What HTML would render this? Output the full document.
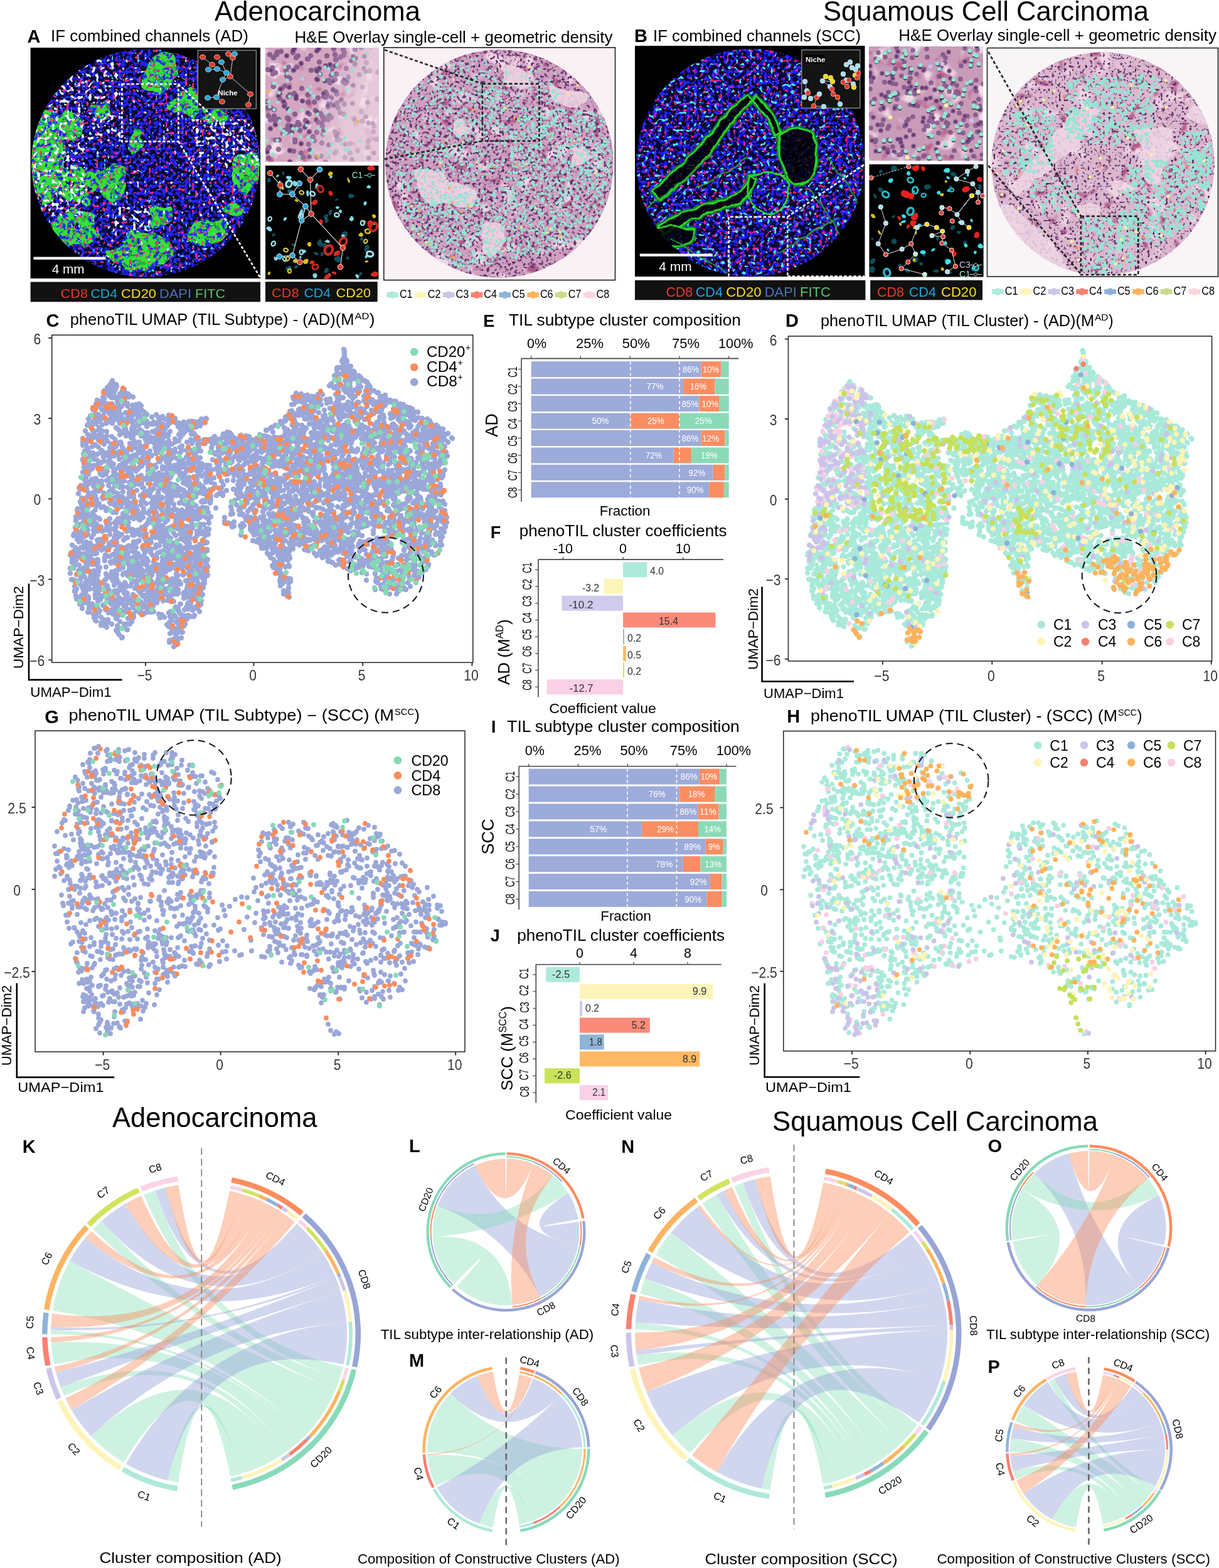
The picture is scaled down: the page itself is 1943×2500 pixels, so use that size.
<!DOCTYPE html>
<html><head><meta charset="utf-8"><title>phenoTIL figure</title>
<style>html,body{margin:0;padding:0;background:#fff;}body{width:1943px;height:2500px;overflow:hidden;}svg{display:block;}
text{font-family:'Liberation Sans',Arial,sans-serif;}</style></head>
<body><svg width="1943" height="2500" viewBox="0 0 1943 2500">
<text x="342.0" y="33.0" font-size="45" textLength="328.0" lengthAdjust="spacingAndGlyphs">Adenocarcinoma</text>
<text x="1312.0" y="32.5" font-size="45" textLength="519.0" lengthAdjust="spacingAndGlyphs">Squamous Cell Carcinoma</text>
<text x="43.6" y="68.0" font-size="29" font-weight="bold">A</text>
<text x="81.0" y="66.3" font-size="25" textLength="315.0" lengthAdjust="spacingAndGlyphs">IF combined channels (AD)</text>
<text x="469.5" y="67.8" font-size="25" textLength="507.0" lengthAdjust="spacingAndGlyphs">H&amp;E Overlay single-cell + geometric density</text>
<text x="1011.0" y="67.4" font-size="29" font-weight="bold">B</text>
<text x="1041.0" y="66.0" font-size="25" textLength="331.0" lengthAdjust="spacingAndGlyphs">IF combined channels (SCC)</text>
<text x="1432.3" y="65.3" font-size="25" textLength="506.7" lengthAdjust="spacingAndGlyphs">H&amp;E Overlay single-cell + geometric density</text>
<rect x="48.6" y="449.5" width="366.4" height="31.8" fill="#111"/>
<text x="96.6" y="474.8" font-size="21" fill="#e8392b" textLength="43.4" lengthAdjust="spacingAndGlyphs">CD8</text>
<text x="144.4" y="474.8" font-size="21" fill="#1fa5da" textLength="42.6" lengthAdjust="spacingAndGlyphs">CD4</text>
<text x="193.0" y="474.8" font-size="21" fill="#f7dd1b" textLength="56.0" lengthAdjust="spacingAndGlyphs">CD20</text>
<text x="254.0" y="474.8" font-size="21" fill="#4a72b8" textLength="51.0" lengthAdjust="spacingAndGlyphs">DAPI</text>
<text x="311.0" y="474.8" font-size="21" fill="#5cc06a" textLength="48.0" lengthAdjust="spacingAndGlyphs">FITC</text>
<rect x="423.0" y="449.2" width="178.7" height="32.0" fill="#111"/>
<text x="433.0" y="474.3" font-size="21" fill="#e8392b" textLength="43.5" lengthAdjust="spacingAndGlyphs">CD8</text>
<text x="484.5" y="474.3" font-size="21" fill="#1fa5da" textLength="42.5" lengthAdjust="spacingAndGlyphs">CD4</text>
<text x="535.6" y="474.3" font-size="21" fill="#f7dd1b" textLength="55.4" lengthAdjust="spacingAndGlyphs">CD20</text>
<rect x="616.2" y="466.2" width="18.7" height="7.8" fill="#aeeadb"/>
<circle cx="625.6" cy="470.1" r="5.8" fill="#aeeadb"/>
<text x="636.9" y="474.6" font-size="17.5" textLength="20.7" lengthAdjust="spacingAndGlyphs">C1</text>
<rect x="661.0" y="466.2" width="18.7" height="7.8" fill="#fff5bb"/>
<circle cx="670.4" cy="470.1" r="5.8" fill="#fff5bb"/>
<text x="681.7" y="474.6" font-size="17.5" textLength="20.7" lengthAdjust="spacingAndGlyphs">C2</text>
<rect x="705.8" y="466.2" width="18.7" height="7.8" fill="#cdc6ea"/>
<circle cx="715.2" cy="470.1" r="5.8" fill="#cdc6ea"/>
<text x="726.5" y="474.6" font-size="17.5" textLength="20.7" lengthAdjust="spacingAndGlyphs">C3</text>
<rect x="750.6" y="466.2" width="18.7" height="7.8" fill="#fb8072"/>
<circle cx="760.0" cy="470.1" r="5.8" fill="#fb8072"/>
<text x="771.3" y="474.6" font-size="17.5" textLength="20.7" lengthAdjust="spacingAndGlyphs">C4</text>
<rect x="795.4" y="466.2" width="18.7" height="7.8" fill="#8fb3d9"/>
<circle cx="804.8" cy="470.1" r="5.8" fill="#8fb3d9"/>
<text x="816.1" y="474.6" font-size="17.5" textLength="20.7" lengthAdjust="spacingAndGlyphs">C5</text>
<rect x="840.2" y="466.2" width="18.7" height="7.8" fill="#fdb462"/>
<circle cx="849.6" cy="470.1" r="5.8" fill="#fdb462"/>
<text x="860.9" y="474.6" font-size="17.5" textLength="20.7" lengthAdjust="spacingAndGlyphs">C6</text>
<rect x="885.0" y="466.2" width="18.7" height="7.8" fill="#c8dc8a"/>
<circle cx="894.4" cy="470.1" r="5.8" fill="#c8dc8a"/>
<text x="905.7" y="474.6" font-size="17.5" textLength="20.7" lengthAdjust="spacingAndGlyphs">C7</text>
<rect x="929.8" y="466.2" width="18.7" height="7.8" fill="#fcd4dc"/>
<circle cx="939.2" cy="470.1" r="5.8" fill="#fcd4dc"/>
<text x="950.5" y="474.6" font-size="17.5" textLength="20.7" lengthAdjust="spacingAndGlyphs">C8</text>
<rect x="1012.0" y="446.8" width="367.4" height="31.5" fill="#111"/>
<text x="1061.5" y="472.5" font-size="22" fill="#e8392b" textLength="42.7" lengthAdjust="spacingAndGlyphs">CD8</text>
<text x="1108.7" y="472.5" font-size="22" fill="#1fa5da" textLength="43.3" lengthAdjust="spacingAndGlyphs">CD4</text>
<text x="1157.2" y="472.5" font-size="22" fill="#f7dd1b" textLength="56.4" lengthAdjust="spacingAndGlyphs">CD20</text>
<text x="1218.7" y="472.5" font-size="22" fill="#4a72b8" textLength="51.3" lengthAdjust="spacingAndGlyphs">DAPI</text>
<text x="1275.0" y="472.5" font-size="22" fill="#5cc06a" textLength="49.0" lengthAdjust="spacingAndGlyphs">FITC</text>
<rect x="1387.2" y="446.8" width="178.8" height="31.5" fill="#111"/>
<text x="1398.0" y="472.5" font-size="22" fill="#e8392b" textLength="42.9" lengthAdjust="spacingAndGlyphs">CD8</text>
<text x="1448.7" y="472.5" font-size="22" fill="#1fa5da" textLength="43.4" lengthAdjust="spacingAndGlyphs">CD4</text>
<text x="1500.0" y="472.5" font-size="22" fill="#f7dd1b" textLength="56.4" lengthAdjust="spacingAndGlyphs">CD20</text>
<rect x="1581.0" y="461.1" width="18.7" height="7.8" fill="#aeeadb"/>
<circle cx="1590.4" cy="465.0" r="5.8" fill="#aeeadb"/>
<text x="1601.7" y="469.5" font-size="17.5" textLength="20.7" lengthAdjust="spacingAndGlyphs">C1</text>
<rect x="1625.8" y="461.1" width="18.7" height="7.8" fill="#fff5bb"/>
<circle cx="1635.2" cy="465.0" r="5.8" fill="#fff5bb"/>
<text x="1646.5" y="469.5" font-size="17.5" textLength="20.7" lengthAdjust="spacingAndGlyphs">C2</text>
<rect x="1670.6" y="461.1" width="18.7" height="7.8" fill="#cdc6ea"/>
<circle cx="1680.0" cy="465.0" r="5.8" fill="#cdc6ea"/>
<text x="1691.3" y="469.5" font-size="17.5" textLength="20.7" lengthAdjust="spacingAndGlyphs">C3</text>
<rect x="1715.4" y="461.1" width="18.7" height="7.8" fill="#fb8072"/>
<circle cx="1724.8" cy="465.0" r="5.8" fill="#fb8072"/>
<text x="1736.1" y="469.5" font-size="17.5" textLength="20.7" lengthAdjust="spacingAndGlyphs">C4</text>
<rect x="1760.2" y="461.1" width="18.7" height="7.8" fill="#8fb3d9"/>
<circle cx="1769.6" cy="465.0" r="5.8" fill="#8fb3d9"/>
<text x="1780.9" y="469.5" font-size="17.5" textLength="20.7" lengthAdjust="spacingAndGlyphs">C5</text>
<rect x="1805.0" y="461.1" width="18.7" height="7.8" fill="#fdb462"/>
<circle cx="1814.4" cy="465.0" r="5.8" fill="#fdb462"/>
<text x="1825.7" y="469.5" font-size="17.5" textLength="20.7" lengthAdjust="spacingAndGlyphs">C6</text>
<rect x="1849.8" y="461.1" width="18.7" height="7.8" fill="#c8dc8a"/>
<circle cx="1859.2" cy="465.0" r="5.8" fill="#c8dc8a"/>
<text x="1870.5" y="469.5" font-size="17.5" textLength="20.7" lengthAdjust="spacingAndGlyphs">C7</text>
<rect x="1894.6" y="461.1" width="18.7" height="7.8" fill="#fcd4dc"/>
<circle cx="1904.0" cy="465.0" r="5.8" fill="#fcd4dc"/>
<text x="1915.3" y="469.5" font-size="17.5" textLength="20.7" lengthAdjust="spacingAndGlyphs">C8</text>
<text x="73.5" y="521.4" font-size="29" font-weight="bold">C</text>
<text x="111.7" y="518.0" font-size="25" textLength="452.7" lengthAdjust="spacingAndGlyphs">phenoTIL UMAP (TIL Subtype) - (AD)(M</text>
<text x="565.4" y="509.0" font-size="15" textLength="22.9" lengthAdjust="spacingAndGlyphs">AD</text>
<text x="588.8" y="518.0" font-size="25" textLength="8.7" lengthAdjust="spacingAndGlyphs">)</text>
<rect x="82.7" y="534.2" width="671.1" height="522.1" fill="none" stroke="#262222" stroke-width="1.5"/>
<line x1="77.2" y1="538.8" x2="82.7" y2="538.8" stroke="#262222" stroke-width="1.8"/>
<text x="59.3" y="548.8" font-size="24" fill="#3a3636" text-anchor="middle" textLength="11.7" lengthAdjust="spacingAndGlyphs">6</text>
<line x1="77.2" y1="667.0" x2="82.7" y2="667.0" stroke="#262222" stroke-width="1.8"/>
<text x="59.3" y="677.0" font-size="24" fill="#3a3636" text-anchor="middle" textLength="11.7" lengthAdjust="spacingAndGlyphs">3</text>
<line x1="77.2" y1="795.3" x2="82.7" y2="795.3" stroke="#262222" stroke-width="1.8"/>
<text x="59.3" y="805.3" font-size="24" fill="#3a3636" text-anchor="middle" textLength="11.7" lengthAdjust="spacingAndGlyphs">0</text>
<line x1="77.2" y1="923.6" x2="82.7" y2="923.6" stroke="#262222" stroke-width="1.8"/>
<text x="59.3" y="933.6" font-size="24" fill="#3a3636" text-anchor="middle" textLength="24.1" lengthAdjust="spacingAndGlyphs">−3</text>
<line x1="77.2" y1="1052.3" x2="82.7" y2="1052.3" stroke="#262222" stroke-width="1.8"/>
<text x="59.3" y="1062.3" font-size="24" fill="#3a3636" text-anchor="middle" textLength="24.1" lengthAdjust="spacingAndGlyphs">−6</text>
<line x1="232.0" y1="1056.3" x2="232.0" y2="1061.8" stroke="#262222" stroke-width="1.8"/>
<text x="230.5" y="1084.9" font-size="24" fill="#3a3636" text-anchor="middle" textLength="24.1" lengthAdjust="spacingAndGlyphs">−5</text>
<line x1="404.5" y1="1056.3" x2="404.5" y2="1061.8" stroke="#262222" stroke-width="1.8"/>
<text x="403.0" y="1084.9" font-size="24" fill="#3a3636" text-anchor="middle" textLength="11.7" lengthAdjust="spacingAndGlyphs">0</text>
<line x1="578.2" y1="1056.3" x2="578.2" y2="1061.8" stroke="#262222" stroke-width="1.8"/>
<text x="576.7" y="1084.9" font-size="24" fill="#3a3636" text-anchor="middle" textLength="11.7" lengthAdjust="spacingAndGlyphs">5</text>
<line x1="752.4" y1="1056.3" x2="752.4" y2="1061.8" stroke="#262222" stroke-width="1.8"/>
<text x="750.9" y="1084.9" font-size="24" fill="#3a3636" text-anchor="middle" textLength="23.5" lengthAdjust="spacingAndGlyphs">10</text>
<path d="M46.0 930.6V1083.9H194.6" fill="none" stroke="#000" stroke-width="2.6"/>
<text x="48.3" y="1111.4" font-size="22.5" textLength="129.4" lengthAdjust="spacingAndGlyphs">UMAP−Dim1</text>
<text x="37.5" y="1066.2" font-size="22.5" textLength="131.7" lengthAdjust="spacingAndGlyphs" transform="rotate(-90 37.5 1066.2)">UMAP−Dim2</text>
<text x="1252.0" y="521.0" font-size="29" font-weight="bold">D</text>
<text x="1308.0" y="520.0" font-size="25" textLength="436.0" lengthAdjust="spacingAndGlyphs">phenoTIL UMAP (TIL Cluster) - (AD)(M</text>
<text x="1745.0" y="511.0" font-size="15" textLength="21.5" lengthAdjust="spacingAndGlyphs">AD</text>
<text x="1767.0" y="520.0" font-size="25" textLength="7.5" lengthAdjust="spacingAndGlyphs">)</text>
<rect x="1256.5" y="536.0" width="675.1" height="518.0" fill="none" stroke="#262222" stroke-width="1.5"/>
<line x1="1251.0" y1="540.6" x2="1256.5" y2="540.6" stroke="#262222" stroke-width="1.8"/>
<text x="1232.5" y="550.6" font-size="24" fill="#3a3636" text-anchor="middle" textLength="11.7" lengthAdjust="spacingAndGlyphs">6</text>
<line x1="1251.0" y1="668.0" x2="1256.5" y2="668.0" stroke="#262222" stroke-width="1.8"/>
<text x="1232.5" y="678.0" font-size="24" fill="#3a3636" text-anchor="middle" textLength="11.7" lengthAdjust="spacingAndGlyphs">3</text>
<line x1="1251.0" y1="795.7" x2="1256.5" y2="795.7" stroke="#262222" stroke-width="1.8"/>
<text x="1232.5" y="805.7" font-size="24" fill="#3a3636" text-anchor="middle" textLength="11.7" lengthAdjust="spacingAndGlyphs">0</text>
<line x1="1251.0" y1="923.2" x2="1256.5" y2="923.2" stroke="#262222" stroke-width="1.8"/>
<text x="1232.5" y="933.2" font-size="24" fill="#3a3636" text-anchor="middle" textLength="24.1" lengthAdjust="spacingAndGlyphs">−3</text>
<line x1="1251.0" y1="1050.8" x2="1256.5" y2="1050.8" stroke="#262222" stroke-width="1.8"/>
<text x="1232.5" y="1060.8" font-size="24" fill="#3a3636" text-anchor="middle" textLength="24.1" lengthAdjust="spacingAndGlyphs">−6</text>
<line x1="1406.9" y1="1054.0" x2="1406.9" y2="1059.5" stroke="#262222" stroke-width="1.8"/>
<text x="1405.4" y="1086.2" font-size="24" fill="#3a3636" text-anchor="middle" textLength="24.1" lengthAdjust="spacingAndGlyphs">−5</text>
<line x1="1581.3" y1="1054.0" x2="1581.3" y2="1059.5" stroke="#262222" stroke-width="1.8"/>
<text x="1579.8" y="1086.2" font-size="24" fill="#3a3636" text-anchor="middle" textLength="11.7" lengthAdjust="spacingAndGlyphs">0</text>
<line x1="1756.7" y1="1054.0" x2="1756.7" y2="1059.5" stroke="#262222" stroke-width="1.8"/>
<text x="1755.2" y="1086.2" font-size="24" fill="#3a3636" text-anchor="middle" textLength="11.7" lengthAdjust="spacingAndGlyphs">5</text>
<line x1="1930.7" y1="1054.0" x2="1930.7" y2="1059.5" stroke="#262222" stroke-width="1.8"/>
<text x="1929.2" y="1086.2" font-size="24" fill="#3a3636" text-anchor="middle" textLength="23.5" lengthAdjust="spacingAndGlyphs">10</text>
<path d="M1214.6 935.5V1086.5H1361.0" fill="none" stroke="#000" stroke-width="2.6"/>
<text x="1217.0" y="1113.0" font-size="22.5" textLength="128.0" lengthAdjust="spacingAndGlyphs">UMAP−Dim1</text>
<text x="1207.6" y="1068.0" font-size="22.5" textLength="130.0" lengthAdjust="spacingAndGlyphs" transform="rotate(-90 1207.6 1068.0)">UMAP−Dim2</text>
<text x="71.2" y="1152.7" font-size="29" font-weight="bold">G</text>
<text x="109.4" y="1149.0" font-size="25" textLength="518.6" lengthAdjust="spacingAndGlyphs">phenoTIL UMAP (TIL Subtype) − (SCC) (M</text>
<text x="629.0" y="1140.0" font-size="15" textLength="31.0" lengthAdjust="spacingAndGlyphs">SCC</text>
<text x="660.5" y="1149.0" font-size="25" textLength="8.3" lengthAdjust="spacingAndGlyphs">)</text>
<rect x="56.0" y="1165.2" width="685.0" height="511.8" fill="none" stroke="#262222" stroke-width="1.5"/>
<line x1="50.5" y1="1287.0" x2="56.0" y2="1287.0" stroke="#262222" stroke-width="1.8"/>
<text x="27.0" y="1297.0" font-size="24" fill="#3a3636" text-anchor="middle" textLength="29.4" lengthAdjust="spacingAndGlyphs">2.5</text>
<line x1="50.5" y1="1418.0" x2="56.0" y2="1418.0" stroke="#262222" stroke-width="1.8"/>
<text x="27.0" y="1428.0" font-size="24" fill="#3a3636" text-anchor="middle" textLength="11.7" lengthAdjust="spacingAndGlyphs">0</text>
<line x1="50.5" y1="1549.0" x2="56.0" y2="1549.0" stroke="#262222" stroke-width="1.8"/>
<text x="27.0" y="1559.0" font-size="24" fill="#3a3636" text-anchor="middle" textLength="41.7" lengthAdjust="spacingAndGlyphs">−2.5</text>
<line x1="164.6" y1="1677.0" x2="164.6" y2="1682.5" stroke="#262222" stroke-width="1.8"/>
<text x="163.1" y="1705.6" font-size="24" fill="#3a3636" text-anchor="middle" textLength="24.1" lengthAdjust="spacingAndGlyphs">−5</text>
<line x1="351.6" y1="1677.0" x2="351.6" y2="1682.5" stroke="#262222" stroke-width="1.8"/>
<text x="350.1" y="1705.6" font-size="24" fill="#3a3636" text-anchor="middle" textLength="11.7" lengthAdjust="spacingAndGlyphs">0</text>
<line x1="539.2" y1="1677.0" x2="539.2" y2="1682.5" stroke="#262222" stroke-width="1.8"/>
<text x="537.7" y="1705.6" font-size="24" fill="#3a3636" text-anchor="middle" textLength="11.7" lengthAdjust="spacingAndGlyphs">5</text>
<line x1="726.2" y1="1677.0" x2="726.2" y2="1682.5" stroke="#262222" stroke-width="1.8"/>
<text x="724.7" y="1705.6" font-size="24" fill="#3a3636" text-anchor="middle" textLength="23.5" lengthAdjust="spacingAndGlyphs">10</text>
<path d="M26.8 1567.5V1717.6H182.3" fill="none" stroke="#000" stroke-width="2.6"/>
<text x="28.3" y="1741.0" font-size="22.5" textLength="137.2" lengthAdjust="spacingAndGlyphs">UMAP−Dim1</text>
<text x="17.6" y="1699.3" font-size="22.5" textLength="128.7" lengthAdjust="spacingAndGlyphs" transform="rotate(-90 17.6 1699.3)">UMAP−Dim2</text>
<text x="1254.3" y="1152.4" font-size="29" font-weight="bold">H</text>
<text x="1292.0" y="1150.0" font-size="25" textLength="489.0" lengthAdjust="spacingAndGlyphs">phenoTIL UMAP (TIL Cluster) - (SCC) (M</text>
<text x="1782.0" y="1141.0" font-size="15" textLength="30.0" lengthAdjust="spacingAndGlyphs">SCC</text>
<text x="1812.5" y="1150.0" font-size="25" textLength="8.0" lengthAdjust="spacingAndGlyphs">)</text>
<rect x="1248.8" y="1165.6" width="688.7" height="510.1" fill="none" stroke="#262222" stroke-width="1.5"/>
<line x1="1243.3" y1="1287.6" x2="1248.8" y2="1287.6" stroke="#262222" stroke-width="1.8"/>
<text x="1218.0" y="1297.6" font-size="24" fill="#3a3636" text-anchor="middle" textLength="29.4" lengthAdjust="spacingAndGlyphs">2.5</text>
<line x1="1243.3" y1="1418.4" x2="1248.8" y2="1418.4" stroke="#262222" stroke-width="1.8"/>
<text x="1218.0" y="1428.4" font-size="24" fill="#3a3636" text-anchor="middle" textLength="11.7" lengthAdjust="spacingAndGlyphs">0</text>
<line x1="1243.3" y1="1548.7" x2="1248.8" y2="1548.7" stroke="#262222" stroke-width="1.8"/>
<text x="1218.0" y="1558.7" font-size="24" fill="#3a3636" text-anchor="middle" textLength="41.7" lengthAdjust="spacingAndGlyphs">−2.5</text>
<line x1="1358.1" y1="1675.7" x2="1358.1" y2="1681.2" stroke="#262222" stroke-width="1.8"/>
<text x="1356.6" y="1704.3" font-size="24" fill="#3a3636" text-anchor="middle" textLength="24.1" lengthAdjust="spacingAndGlyphs">−5</text>
<line x1="1546.3" y1="1675.7" x2="1546.3" y2="1681.2" stroke="#262222" stroke-width="1.8"/>
<text x="1544.8" y="1704.3" font-size="24" fill="#3a3636" text-anchor="middle" textLength="11.7" lengthAdjust="spacingAndGlyphs">0</text>
<line x1="1733.9" y1="1675.7" x2="1733.9" y2="1681.2" stroke="#262222" stroke-width="1.8"/>
<text x="1732.4" y="1704.3" font-size="24" fill="#3a3636" text-anchor="middle" textLength="11.7" lengthAdjust="spacingAndGlyphs">5</text>
<line x1="1921.6" y1="1675.7" x2="1921.6" y2="1681.2" stroke="#262222" stroke-width="1.8"/>
<text x="1920.1" y="1704.3" font-size="24" fill="#3a3636" text-anchor="middle" textLength="23.5" lengthAdjust="spacingAndGlyphs">10</text>
<path d="M1218.7 1567.8V1717.2H1370.4" fill="none" stroke="#000" stroke-width="2.6"/>
<text x="1220.0" y="1741.0" font-size="22.5" textLength="137.0" lengthAdjust="spacingAndGlyphs">UMAP−Dim1</text>
<text x="1210.0" y="1699.0" font-size="22.5" textLength="128.0" lengthAdjust="spacingAndGlyphs" transform="rotate(-90 1210.0 1699.0)">UMAP−Dim2</text>
<text x="770.3" y="521.2" font-size="27" font-weight="bold">E</text>
<text x="811.0" y="519.3" font-size="25" textLength="370.0" lengthAdjust="spacingAndGlyphs">TIL subtype cluster composition</text>
<text x="840.0" y="554.5" font-size="21.5" textLength="31.0" lengthAdjust="spacingAndGlyphs">0%</text>
<text x="918.0" y="554.5" font-size="21.5" textLength="44.0" lengthAdjust="spacingAndGlyphs">25%</text>
<text x="991.8" y="554.5" font-size="21.5" textLength="44.2" lengthAdjust="spacingAndGlyphs">50%</text>
<text x="1071.0" y="554.5" font-size="21.5" textLength="44.0" lengthAdjust="spacingAndGlyphs">75%</text>
<text x="1145.0" y="554.5" font-size="21.5" textLength="55.5" lengthAdjust="spacingAndGlyphs">100%</text>
<line x1="831.0" y1="571.6" x2="1177.5" y2="571.6" stroke="#444" stroke-width="1.6"/>
<line x1="831.0" y1="571.6" x2="831.0" y2="800.0" stroke="#444" stroke-width="1.6"/>
<line x1="846.7" y1="571.6" x2="846.7" y2="567.6" stroke="#444" stroke-width="1.2"/>
<line x1="925.5" y1="571.6" x2="925.5" y2="567.6" stroke="#444" stroke-width="1.2"/>
<line x1="1004.2" y1="571.6" x2="1004.2" y2="567.6" stroke="#444" stroke-width="1.2"/>
<line x1="1083.0" y1="571.6" x2="1083.0" y2="567.6" stroke="#444" stroke-width="1.2"/>
<line x1="1161.7" y1="571.6" x2="1161.7" y2="567.6" stroke="#444" stroke-width="1.2"/>
<rect x="846.7" y="576.2" width="270.9" height="25.0" fill="#9dabd9"/>
<rect x="1117.6" y="576.2" width="31.5" height="25.0" fill="#fc8d62"/>
<rect x="1149.1" y="576.2" width="12.6" height="25.0" fill="#8bdab6"/>
<line x1="826.0" y1="588.7" x2="831.0" y2="588.7" stroke="#444" stroke-width="1.2"/>
<text x="823.7" y="593.2" font-size="19.5" text-anchor="middle" textLength="17.3" lengthAdjust="spacingAndGlyphs" transform="rotate(-90 823.7 593.2)">C1</text>
<rect x="846.7" y="603.7" width="242.5" height="25.0" fill="#9dabd9"/>
<rect x="1089.2" y="603.7" width="50.4" height="25.0" fill="#fc8d62"/>
<rect x="1139.7" y="603.7" width="22.0" height="25.0" fill="#8bdab6"/>
<line x1="826.0" y1="616.2" x2="831.0" y2="616.2" stroke="#444" stroke-width="1.2"/>
<text x="823.7" y="620.7" font-size="19.5" text-anchor="middle" textLength="17.3" lengthAdjust="spacingAndGlyphs" transform="rotate(-90 823.7 620.7)">C2</text>
<rect x="846.7" y="631.1" width="267.8" height="25.0" fill="#9dabd9"/>
<rect x="1114.5" y="631.1" width="31.5" height="25.0" fill="#fc8d62"/>
<rect x="1146.0" y="631.1" width="15.8" height="25.0" fill="#8bdab6"/>
<line x1="826.0" y1="643.6" x2="831.0" y2="643.6" stroke="#444" stroke-width="1.2"/>
<text x="823.7" y="648.1" font-size="19.5" text-anchor="middle" textLength="17.3" lengthAdjust="spacingAndGlyphs" transform="rotate(-90 823.7 648.1)">C3</text>
<rect x="846.7" y="658.6" width="157.5" height="25.0" fill="#9dabd9"/>
<rect x="1004.2" y="658.6" width="78.8" height="25.0" fill="#fc8d62"/>
<rect x="1083.0" y="658.6" width="78.8" height="25.0" fill="#8bdab6"/>
<line x1="826.0" y1="671.1" x2="831.0" y2="671.1" stroke="#444" stroke-width="1.2"/>
<text x="823.7" y="675.6" font-size="19.5" text-anchor="middle" textLength="17.3" lengthAdjust="spacingAndGlyphs" transform="rotate(-90 823.7 675.6)">C4</text>
<rect x="846.7" y="686.0" width="270.9" height="25.0" fill="#9dabd9"/>
<rect x="1117.6" y="686.0" width="37.8" height="25.0" fill="#fc8d62"/>
<rect x="1155.4" y="686.0" width="6.3" height="25.0" fill="#8bdab6"/>
<line x1="826.0" y1="698.5" x2="831.0" y2="698.5" stroke="#444" stroke-width="1.2"/>
<text x="823.7" y="703.0" font-size="19.5" text-anchor="middle" textLength="17.3" lengthAdjust="spacingAndGlyphs" transform="rotate(-90 823.7 703.0)">C5</text>
<rect x="846.7" y="713.5" width="226.8" height="25.0" fill="#9dabd9"/>
<rect x="1073.5" y="713.5" width="28.4" height="25.0" fill="#fc8d62"/>
<rect x="1101.9" y="713.5" width="59.8" height="25.0" fill="#8bdab6"/>
<line x1="826.0" y1="726.0" x2="831.0" y2="726.0" stroke="#444" stroke-width="1.2"/>
<text x="823.7" y="730.5" font-size="19.5" text-anchor="middle" textLength="17.3" lengthAdjust="spacingAndGlyphs" transform="rotate(-90 823.7 730.5)">C6</text>
<rect x="846.7" y="740.9" width="289.8" height="25.0" fill="#9dabd9"/>
<rect x="1136.5" y="740.9" width="18.9" height="25.0" fill="#fc8d62"/>
<rect x="1155.4" y="740.9" width="6.3" height="25.0" fill="#8bdab6"/>
<line x1="826.0" y1="753.4" x2="831.0" y2="753.4" stroke="#444" stroke-width="1.2"/>
<text x="823.7" y="757.9" font-size="19.5" text-anchor="middle" textLength="17.3" lengthAdjust="spacingAndGlyphs" transform="rotate(-90 823.7 757.9)">C7</text>
<rect x="846.7" y="768.4" width="283.5" height="25.0" fill="#9dabd9"/>
<rect x="1130.2" y="768.4" width="23.6" height="25.0" fill="#fc8d62"/>
<rect x="1153.8" y="768.4" width="7.9" height="25.0" fill="#8bdab6"/>
<line x1="826.0" y1="780.9" x2="831.0" y2="780.9" stroke="#444" stroke-width="1.2"/>
<text x="823.7" y="785.4" font-size="19.5" text-anchor="middle" textLength="17.3" lengthAdjust="spacingAndGlyphs" transform="rotate(-90 823.7 785.4)">C8</text>
<line x1="1004.8" y1="576.2" x2="1004.8" y2="793.4" stroke="#fff" stroke-width="1.6" stroke-dasharray="5 4"/>
<line x1="1083.0" y1="576.2" x2="1083.0" y2="793.4" stroke="#fff" stroke-width="1.6" stroke-dasharray="5 4"/>
<text x="1088.0" y="593.9" font-size="14.5" font-family="'DejaVu Sans', 'Liberation Sans', sans-serif" fill="#fff" textLength="26.3" lengthAdjust="spacingAndGlyphs">86%</text>
<text x="1120.0" y="593.9" font-size="14.5" font-family="'DejaVu Sans', 'Liberation Sans', sans-serif" fill="#fff" textLength="26.3" lengthAdjust="spacingAndGlyphs">10%</text>
<text x="1030.5" y="621.4" font-size="14.5" font-family="'DejaVu Sans', 'Liberation Sans', sans-serif" fill="#fff" textLength="26.9" lengthAdjust="spacingAndGlyphs">77%</text>
<text x="1099.7" y="621.4" font-size="14.5" font-family="'DejaVu Sans', 'Liberation Sans', sans-serif" fill="#fff" textLength="26.3" lengthAdjust="spacingAndGlyphs">16%</text>
<text x="1086.7" y="648.8" font-size="14.5" font-family="'DejaVu Sans', 'Liberation Sans', sans-serif" fill="#fff" textLength="26.5" lengthAdjust="spacingAndGlyphs">85%</text>
<text x="1118.4" y="648.8" font-size="14.5" font-family="'DejaVu Sans', 'Liberation Sans', sans-serif" fill="#fff" textLength="26.6" lengthAdjust="spacingAndGlyphs">10%</text>
<text x="943.8" y="676.2" font-size="14.5" font-family="'DejaVu Sans', 'Liberation Sans', sans-serif" fill="#fff" textLength="26.6" lengthAdjust="spacingAndGlyphs">50%</text>
<text x="1031.9" y="676.2" font-size="14.5" font-family="'DejaVu Sans', 'Liberation Sans', sans-serif" fill="#fff" textLength="26.8" lengthAdjust="spacingAndGlyphs">25%</text>
<text x="1107.8" y="676.2" font-size="14.5" font-family="'DejaVu Sans', 'Liberation Sans', sans-serif" fill="#fff" textLength="26.8" lengthAdjust="spacingAndGlyphs">25%</text>
<text x="1086.7" y="703.7" font-size="14.5" font-family="'DejaVu Sans', 'Liberation Sans', sans-serif" fill="#fff" textLength="26.5" lengthAdjust="spacingAndGlyphs">86%</text>
<text x="1119.2" y="703.7" font-size="14.5" font-family="'DejaVu Sans', 'Liberation Sans', sans-serif" fill="#fff" textLength="27.1" lengthAdjust="spacingAndGlyphs">12%</text>
<text x="1029.0" y="731.1" font-size="14.5" font-family="'DejaVu Sans', 'Liberation Sans', sans-serif" fill="#fff" textLength="26.2" lengthAdjust="spacingAndGlyphs">72%</text>
<text x="1117.3" y="731.1" font-size="14.5" font-family="'DejaVu Sans', 'Liberation Sans', sans-serif" fill="#fff" textLength="26.3" lengthAdjust="spacingAndGlyphs">19%</text>
<text x="1097.5" y="758.6" font-size="14.5" font-family="'DejaVu Sans', 'Liberation Sans', sans-serif" fill="#fff" textLength="26.5" lengthAdjust="spacingAndGlyphs">92%</text>
<text x="1094.8" y="786.0" font-size="14.5" font-family="'DejaVu Sans', 'Liberation Sans', sans-serif" fill="#fff" textLength="26.5" lengthAdjust="spacingAndGlyphs">90%</text>
<text x="792.5" y="678.0" font-size="27" text-anchor="middle" transform="rotate(-90 792.5 678.0)">AD</text>
<text x="955.7" y="822.0" font-size="22" font-family="'DejaVu Sans', 'Liberation Sans', sans-serif" textLength="80.8" lengthAdjust="spacingAndGlyphs">Fraction</text>
<text x="783.0" y="1168.0" font-size="27" font-weight="bold">I</text>
<text x="808.3" y="1167.4" font-size="25" textLength="370.5" lengthAdjust="spacingAndGlyphs">TIL subtype cluster composition</text>
<text x="836.7" y="1204.0" font-size="21.5" textLength="31.2" lengthAdjust="spacingAndGlyphs">0%</text>
<text x="914.5" y="1204.0" font-size="21.5" textLength="43.9" lengthAdjust="spacingAndGlyphs">25%</text>
<text x="988.5" y="1204.0" font-size="21.5" textLength="43.9" lengthAdjust="spacingAndGlyphs">50%</text>
<text x="1067.7" y="1204.0" font-size="21.5" textLength="43.9" lengthAdjust="spacingAndGlyphs">75%</text>
<text x="1141.7" y="1204.0" font-size="21.5" textLength="55.3" lengthAdjust="spacingAndGlyphs">100%</text>
<line x1="827.2" y1="1221.7" x2="1173.4" y2="1221.7" stroke="#444" stroke-width="1.6"/>
<line x1="827.2" y1="1221.7" x2="827.2" y2="1450.2" stroke="#444" stroke-width="1.6"/>
<line x1="842.7" y1="1221.7" x2="842.7" y2="1217.7" stroke="#444" stroke-width="1.2"/>
<line x1="921.5" y1="1221.7" x2="921.5" y2="1217.7" stroke="#444" stroke-width="1.2"/>
<line x1="1000.4" y1="1221.7" x2="1000.4" y2="1217.7" stroke="#444" stroke-width="1.2"/>
<line x1="1079.2" y1="1221.7" x2="1079.2" y2="1217.7" stroke="#444" stroke-width="1.2"/>
<line x1="1158.0" y1="1221.7" x2="1158.0" y2="1217.7" stroke="#444" stroke-width="1.2"/>
<rect x="842.7" y="1225.7" width="272.4" height="25.0" fill="#9dabd9"/>
<rect x="1115.1" y="1225.7" width="32.2" height="25.0" fill="#fc8d62"/>
<rect x="1147.3" y="1225.7" width="10.7" height="25.0" fill="#8bdab6"/>
<line x1="822.2" y1="1238.2" x2="827.2" y2="1238.2" stroke="#444" stroke-width="1.2"/>
<text x="820.0" y="1238.2" font-size="19.5" text-anchor="middle" textLength="17.3" lengthAdjust="spacingAndGlyphs" transform="rotate(-90 820.0 1238.2)">C1</text>
<rect x="842.7" y="1253.6" width="240.9" height="25.0" fill="#9dabd9"/>
<rect x="1083.6" y="1253.6" width="56.1" height="25.0" fill="#fc8d62"/>
<rect x="1139.7" y="1253.6" width="18.3" height="25.0" fill="#8bdab6"/>
<line x1="822.2" y1="1266.1" x2="827.2" y2="1266.1" stroke="#444" stroke-width="1.2"/>
<text x="820.0" y="1266.1" font-size="19.5" text-anchor="middle" textLength="17.3" lengthAdjust="spacingAndGlyphs" transform="rotate(-90 820.0 1266.1)">C2</text>
<rect x="842.7" y="1281.5" width="269.9" height="25.0" fill="#9dabd9"/>
<rect x="1112.6" y="1281.5" width="33.1" height="25.0" fill="#fc8d62"/>
<rect x="1145.7" y="1281.5" width="12.3" height="25.0" fill="#8bdab6"/>
<line x1="822.2" y1="1294.0" x2="827.2" y2="1294.0" stroke="#444" stroke-width="1.2"/>
<text x="820.0" y="1294.0" font-size="19.5" text-anchor="middle" textLength="17.3" lengthAdjust="spacingAndGlyphs" transform="rotate(-90 820.0 1294.0)">C3</text>
<rect x="842.7" y="1309.4" width="180.4" height="25.0" fill="#9dabd9"/>
<rect x="1023.1" y="1309.4" width="89.9" height="25.0" fill="#fc8d62"/>
<rect x="1112.9" y="1309.4" width="45.1" height="25.0" fill="#8bdab6"/>
<line x1="822.2" y1="1321.9" x2="827.2" y2="1321.9" stroke="#444" stroke-width="1.2"/>
<text x="820.0" y="1321.9" font-size="19.5" text-anchor="middle" textLength="17.3" lengthAdjust="spacingAndGlyphs" transform="rotate(-90 820.0 1321.9)">C4</text>
<rect x="842.7" y="1337.3" width="281.9" height="25.0" fill="#9dabd9"/>
<rect x="1124.6" y="1337.3" width="27.4" height="25.0" fill="#fc8d62"/>
<rect x="1152.0" y="1337.3" width="6.0" height="25.0" fill="#8bdab6"/>
<line x1="822.2" y1="1349.8" x2="827.2" y2="1349.8" stroke="#444" stroke-width="1.2"/>
<text x="820.0" y="1349.8" font-size="19.5" text-anchor="middle" textLength="17.3" lengthAdjust="spacingAndGlyphs" transform="rotate(-90 820.0 1349.8)">C5</text>
<rect x="842.7" y="1365.2" width="246.2" height="25.0" fill="#9dabd9"/>
<rect x="1088.9" y="1365.2" width="27.4" height="25.0" fill="#fc8d62"/>
<rect x="1116.4" y="1365.2" width="41.6" height="25.0" fill="#8bdab6"/>
<line x1="822.2" y1="1377.7" x2="827.2" y2="1377.7" stroke="#444" stroke-width="1.2"/>
<text x="820.0" y="1377.7" font-size="19.5" text-anchor="middle" textLength="17.3" lengthAdjust="spacingAndGlyphs" transform="rotate(-90 820.0 1377.7)">C6</text>
<rect x="842.7" y="1393.1" width="289.1" height="25.0" fill="#9dabd9"/>
<rect x="1131.8" y="1393.1" width="18.6" height="25.0" fill="#fc8d62"/>
<rect x="1150.4" y="1393.1" width="7.6" height="25.0" fill="#8bdab6"/>
<line x1="822.2" y1="1405.6" x2="827.2" y2="1405.6" stroke="#444" stroke-width="1.2"/>
<text x="820.0" y="1405.6" font-size="19.5" text-anchor="middle" textLength="17.3" lengthAdjust="spacingAndGlyphs" transform="rotate(-90 820.0 1405.6)">C7</text>
<rect x="842.7" y="1421.0" width="283.8" height="25.0" fill="#9dabd9"/>
<rect x="1126.5" y="1421.0" width="24.0" height="25.0" fill="#fc8d62"/>
<rect x="1150.4" y="1421.0" width="7.6" height="25.0" fill="#8bdab6"/>
<line x1="822.2" y1="1433.5" x2="827.2" y2="1433.5" stroke="#444" stroke-width="1.2"/>
<text x="820.0" y="1433.5" font-size="19.5" text-anchor="middle" textLength="17.3" lengthAdjust="spacingAndGlyphs" transform="rotate(-90 820.0 1433.5)">C8</text>
<line x1="999.9" y1="1225.7" x2="999.9" y2="1446.0" stroke="#fff" stroke-width="1.6" stroke-dasharray="5 4"/>
<line x1="1078.5" y1="1225.7" x2="1078.5" y2="1446.0" stroke="#fff" stroke-width="1.6" stroke-dasharray="5 4"/>
<text x="1084.7" y="1243.3" font-size="14.5" font-family="'DejaVu Sans', 'Liberation Sans', sans-serif" fill="#fff" textLength="26.9" lengthAdjust="spacingAndGlyphs">86%</text>
<text x="1116.5" y="1243.3" font-size="14.5" font-family="'DejaVu Sans', 'Liberation Sans', sans-serif" fill="#fff" textLength="26.5" lengthAdjust="spacingAndGlyphs">10%</text>
<text x="1033.8" y="1271.2" font-size="14.5" font-family="'DejaVu Sans', 'Liberation Sans', sans-serif" fill="#fff" textLength="27.1" lengthAdjust="spacingAndGlyphs">76%</text>
<text x="1096.7" y="1271.2" font-size="14.5" font-family="'DejaVu Sans', 'Liberation Sans', sans-serif" fill="#fff" textLength="26.5" lengthAdjust="spacingAndGlyphs">18%</text>
<text x="1083.4" y="1299.1" font-size="14.5" font-family="'DejaVu Sans', 'Liberation Sans', sans-serif" fill="#fff" textLength="26.8" lengthAdjust="spacingAndGlyphs">86%</text>
<text x="1115.1" y="1299.1" font-size="14.5" font-family="'DejaVu Sans', 'Liberation Sans', sans-serif" fill="#fff" textLength="26.6" lengthAdjust="spacingAndGlyphs">11%</text>
<text x="940.3" y="1327.0" font-size="14.5" font-family="'DejaVu Sans', 'Liberation Sans', sans-serif" fill="#fff" textLength="27.1" lengthAdjust="spacingAndGlyphs">57%</text>
<text x="1047.3" y="1327.0" font-size="14.5" font-family="'DejaVu Sans', 'Liberation Sans', sans-serif" fill="#fff" textLength="27.1" lengthAdjust="spacingAndGlyphs">29%</text>
<text x="1122.4" y="1327.0" font-size="14.5" font-family="'DejaVu Sans', 'Liberation Sans', sans-serif" fill="#fff" textLength="26.6" lengthAdjust="spacingAndGlyphs">14%</text>
<text x="1090.2" y="1354.9" font-size="14.5" font-family="'DejaVu Sans', 'Liberation Sans', sans-serif" fill="#fff" textLength="27.1" lengthAdjust="spacingAndGlyphs">89%</text>
<text x="1128.7" y="1354.9" font-size="14.5" font-family="'DejaVu Sans', 'Liberation Sans', sans-serif" fill="#fff" textLength="18.9" lengthAdjust="spacingAndGlyphs">9%</text>
<text x="1045.2" y="1382.8" font-size="14.5" font-family="'DejaVu Sans', 'Liberation Sans', sans-serif" fill="#fff" textLength="27.1" lengthAdjust="spacingAndGlyphs">78%</text>
<text x="1123.2" y="1382.8" font-size="14.5" font-family="'DejaVu Sans', 'Liberation Sans', sans-serif" fill="#fff" textLength="27.1" lengthAdjust="spacingAndGlyphs">13%</text>
<text x="1099.7" y="1410.7" font-size="14.5" font-family="'DejaVu Sans', 'Liberation Sans', sans-serif" fill="#fff" textLength="27.1" lengthAdjust="spacingAndGlyphs">92%</text>
<text x="1091.3" y="1438.6" font-size="14.5" font-family="'DejaVu Sans', 'Liberation Sans', sans-serif" fill="#fff" textLength="27.1" lengthAdjust="spacingAndGlyphs">90%</text>
<text x="787.0" y="1334.0" font-size="27" text-anchor="middle" transform="rotate(-90 787.0 1334.0)">SCC</text>
<text x="957.3" y="1468.3" font-size="22" font-family="'DejaVu Sans', 'Liberation Sans', sans-serif" textLength="80.6" lengthAdjust="spacingAndGlyphs">Fraction</text>
<text x="781.7" y="858.0" font-size="27" font-weight="bold">F</text>
<text x="827.8" y="855.2" font-size="25" textLength="330.7" lengthAdjust="spacingAndGlyphs">phenoTIL cluster coefficients</text>
<text x="897.4" y="882.3" font-size="21.5" text-anchor="middle">-10</text>
<line x1="897.4" y1="892.1" x2="897.4" y2="888.1" stroke="#444" stroke-width="1.2"/>
<text x="993.1" y="882.3" font-size="21.5" text-anchor="middle">0</text>
<line x1="993.1" y1="892.1" x2="993.1" y2="888.1" stroke="#444" stroke-width="1.2"/>
<text x="1088.8" y="882.3" font-size="21.5" text-anchor="middle">10</text>
<line x1="1088.8" y1="892.1" x2="1088.8" y2="888.1" stroke="#444" stroke-width="1.2"/>
<line x1="858.0" y1="892.1" x2="1153.0" y2="892.1" stroke="#444" stroke-width="1.6"/>
<line x1="858.0" y1="892.1" x2="858.0" y2="1111.4" stroke="#444" stroke-width="1.6"/>
<rect x="993.1" y="896.4" width="38.3" height="24.0" fill="#aeeadb"/>
<line x1="853.0" y1="908.4" x2="858.0" y2="908.4" stroke="#444" stroke-width="1.2"/>
<text x="846.7" y="905.1" font-size="19.5" text-anchor="middle" textLength="17.3" lengthAdjust="spacingAndGlyphs" transform="rotate(-90 846.7 905.1)">C1</text>
<rect x="962.5" y="923.1" width="30.6" height="24.0" fill="#fff5bb"/>
<line x1="853.0" y1="935.1" x2="858.0" y2="935.1" stroke="#444" stroke-width="1.2"/>
<text x="846.7" y="931.8" font-size="19.5" text-anchor="middle" textLength="17.3" lengthAdjust="spacingAndGlyphs" transform="rotate(-90 846.7 931.8)">C2</text>
<rect x="895.5" y="949.8" width="97.6" height="24.0" fill="#d0cbec"/>
<line x1="853.0" y1="961.8" x2="858.0" y2="961.8" stroke="#444" stroke-width="1.2"/>
<text x="846.7" y="958.5" font-size="19.5" text-anchor="middle" textLength="17.3" lengthAdjust="spacingAndGlyphs" transform="rotate(-90 846.7 958.5)">C3</text>
<rect x="993.1" y="976.5" width="147.4" height="24.0" fill="#fb8a7a"/>
<line x1="853.0" y1="988.5" x2="858.0" y2="988.5" stroke="#444" stroke-width="1.2"/>
<text x="846.7" y="985.2" font-size="19.5" text-anchor="middle" textLength="17.3" lengthAdjust="spacingAndGlyphs" transform="rotate(-90 846.7 985.2)">C4</text>
<rect x="993.1" y="1003.2" width="1.9" height="24.0" fill="#8fb4d7"/>
<line x1="853.0" y1="1015.2" x2="858.0" y2="1015.2" stroke="#444" stroke-width="1.2"/>
<text x="846.7" y="1011.9" font-size="19.5" text-anchor="middle" textLength="17.3" lengthAdjust="spacingAndGlyphs" transform="rotate(-90 846.7 1011.9)">C5</text>
<rect x="993.1" y="1029.9" width="4.8" height="24.0" fill="#fdb865"/>
<line x1="853.0" y1="1041.9" x2="858.0" y2="1041.9" stroke="#444" stroke-width="1.2"/>
<text x="846.7" y="1038.6" font-size="19.5" text-anchor="middle" textLength="17.3" lengthAdjust="spacingAndGlyphs" transform="rotate(-90 846.7 1038.6)">C6</text>
<rect x="993.1" y="1056.6" width="1.9" height="24.0" fill="#c9e25a"/>
<line x1="853.0" y1="1068.6" x2="858.0" y2="1068.6" stroke="#444" stroke-width="1.2"/>
<text x="846.7" y="1065.3" font-size="19.5" text-anchor="middle" textLength="17.3" lengthAdjust="spacingAndGlyphs" transform="rotate(-90 846.7 1065.3)">C7</text>
<rect x="871.6" y="1083.3" width="121.5" height="24.0" fill="#f9d0e6"/>
<line x1="853.0" y1="1095.3" x2="858.0" y2="1095.3" stroke="#444" stroke-width="1.2"/>
<text x="846.7" y="1092.0" font-size="19.5" text-anchor="middle" textLength="17.3" lengthAdjust="spacingAndGlyphs" transform="rotate(-90 846.7 1092.0)">C8</text>
<text x="1036.0" y="916.2" font-size="16" font-family="'DejaVu Sans', 'Liberation Sans', sans-serif" fill="#333" textLength="22.0" lengthAdjust="spacingAndGlyphs">4.0</text>
<text x="928.0" y="942.9" font-size="16" font-family="'DejaVu Sans', 'Liberation Sans', sans-serif" fill="#333" textLength="27.0" lengthAdjust="spacingAndGlyphs">-3.2</text>
<text x="906.4" y="969.6" font-size="16" font-family="'DejaVu Sans', 'Liberation Sans', sans-serif" fill="#333" textLength="39.1" lengthAdjust="spacingAndGlyphs">-10.2</text>
<text x="1050.0" y="996.3" font-size="16" font-family="'DejaVu Sans', 'Liberation Sans', sans-serif" fill="#333" textLength="31.0" lengthAdjust="spacingAndGlyphs">15.4</text>
<text x="999.9" y="1023.0" font-size="16" font-family="'DejaVu Sans', 'Liberation Sans', sans-serif" fill="#333" textLength="22.1" lengthAdjust="spacingAndGlyphs">0.2</text>
<text x="1000.0" y="1049.7" font-size="16" font-family="'DejaVu Sans', 'Liberation Sans', sans-serif" fill="#333" textLength="22.0" lengthAdjust="spacingAndGlyphs">0.5</text>
<text x="999.9" y="1076.4" font-size="16" font-family="'DejaVu Sans', 'Liberation Sans', sans-serif" fill="#333" textLength="22.1" lengthAdjust="spacingAndGlyphs">0.2</text>
<text x="907.7" y="1103.1" font-size="16" font-family="'DejaVu Sans', 'Liberation Sans', sans-serif" fill="#333" textLength="37.8" lengthAdjust="spacingAndGlyphs">-12.7</text>
<text x="875.2" y="1136.8" font-size="22" font-family="'DejaVu Sans', 'Liberation Sans', sans-serif" textLength="170.8" lengthAdjust="spacingAndGlyphs">Coefficient value</text>
<text transform="translate(812 1092) rotate(-90)" font-size="26">AD (M<tspan font-size="16" dy="-10">AD</tspan><tspan dy="10">)</tspan></text>
<text x="781.7" y="1500.7" font-size="27" font-weight="bold">J</text>
<text x="824.2" y="1500.0" font-size="25" textLength="331.0" lengthAdjust="spacingAndGlyphs">phenoTIL cluster coefficients</text>
<text x="924.0" y="1527.2" font-size="21.5" text-anchor="middle">0</text>
<line x1="924.0" y1="1537.8" x2="924.0" y2="1533.8" stroke="#444" stroke-width="1.2"/>
<text x="1010.0" y="1527.2" font-size="21.5" text-anchor="middle">4</text>
<line x1="1010.0" y1="1537.8" x2="1010.0" y2="1533.8" stroke="#444" stroke-width="1.2"/>
<text x="1096.0" y="1527.2" font-size="21.5" text-anchor="middle">8</text>
<line x1="1096.0" y1="1537.8" x2="1096.0" y2="1533.8" stroke="#444" stroke-width="1.2"/>
<line x1="854.3" y1="1537.8" x2="1149.8" y2="1537.8" stroke="#444" stroke-width="1.6"/>
<line x1="854.3" y1="1537.8" x2="854.3" y2="1758.2" stroke="#444" stroke-width="1.6"/>
<rect x="870.2" y="1541.9" width="53.8" height="24.0" fill="#aeeadb"/>
<line x1="849.3" y1="1553.9" x2="854.3" y2="1553.9" stroke="#444" stroke-width="1.2"/>
<text x="842.5" y="1552.2" font-size="19.5" text-anchor="middle" textLength="17.3" lengthAdjust="spacingAndGlyphs" transform="rotate(-90 842.5 1552.2)">C1</text>
<rect x="924.0" y="1568.8" width="212.8" height="24.0" fill="#fff5bb"/>
<line x1="849.3" y1="1580.8" x2="854.3" y2="1580.8" stroke="#444" stroke-width="1.2"/>
<text x="842.5" y="1579.1" font-size="19.5" text-anchor="middle" textLength="17.3" lengthAdjust="spacingAndGlyphs" transform="rotate(-90 842.5 1579.1)">C2</text>
<rect x="924.0" y="1595.7" width="4.3" height="24.0" fill="#d0cbec"/>
<line x1="849.3" y1="1607.7" x2="854.3" y2="1607.7" stroke="#444" stroke-width="1.2"/>
<text x="842.5" y="1606.0" font-size="19.5" text-anchor="middle" textLength="17.3" lengthAdjust="spacingAndGlyphs" transform="rotate(-90 842.5 1606.0)">C3</text>
<rect x="924.0" y="1622.6" width="111.8" height="24.0" fill="#fb8a7a"/>
<line x1="849.3" y1="1634.6" x2="854.3" y2="1634.6" stroke="#444" stroke-width="1.2"/>
<text x="842.5" y="1632.9" font-size="19.5" text-anchor="middle" textLength="17.3" lengthAdjust="spacingAndGlyphs" transform="rotate(-90 842.5 1632.9)">C4</text>
<rect x="924.0" y="1649.5" width="38.7" height="24.0" fill="#8fb4d7"/>
<line x1="849.3" y1="1661.5" x2="854.3" y2="1661.5" stroke="#444" stroke-width="1.2"/>
<text x="842.5" y="1659.8" font-size="19.5" text-anchor="middle" textLength="17.3" lengthAdjust="spacingAndGlyphs" transform="rotate(-90 842.5 1659.8)">C5</text>
<rect x="924.0" y="1676.4" width="191.3" height="24.0" fill="#fdb865"/>
<line x1="849.3" y1="1688.4" x2="854.3" y2="1688.4" stroke="#444" stroke-width="1.2"/>
<text x="842.5" y="1686.7" font-size="19.5" text-anchor="middle" textLength="17.3" lengthAdjust="spacingAndGlyphs" transform="rotate(-90 842.5 1686.7)">C6</text>
<rect x="868.1" y="1703.3" width="55.9" height="24.0" fill="#c9e25a"/>
<line x1="849.3" y1="1715.3" x2="854.3" y2="1715.3" stroke="#444" stroke-width="1.2"/>
<text x="842.5" y="1713.6" font-size="19.5" text-anchor="middle" textLength="17.3" lengthAdjust="spacingAndGlyphs" transform="rotate(-90 842.5 1713.6)">C7</text>
<rect x="924.0" y="1730.2" width="45.1" height="24.0" fill="#f9d0e6"/>
<line x1="849.3" y1="1742.2" x2="854.3" y2="1742.2" stroke="#444" stroke-width="1.2"/>
<text x="842.5" y="1740.5" font-size="19.5" text-anchor="middle" textLength="17.3" lengthAdjust="spacingAndGlyphs" transform="rotate(-90 842.5 1740.5)">C8</text>
<text x="880.0" y="1559.0" font-size="16" font-family="'DejaVu Sans', 'Liberation Sans', sans-serif" fill="#333" textLength="28.3" lengthAdjust="spacingAndGlyphs">-2.5</text>
<text x="1103.7" y="1585.9" font-size="16" font-family="'DejaVu Sans', 'Liberation Sans', sans-serif" fill="#333" textLength="22.8" lengthAdjust="spacingAndGlyphs">9.9</text>
<text x="933.0" y="1612.8" font-size="16" font-family="'DejaVu Sans', 'Liberation Sans', sans-serif" fill="#333" textLength="22.2" lengthAdjust="spacingAndGlyphs">0.2</text>
<text x="1006.7" y="1639.7" font-size="16" font-family="'DejaVu Sans', 'Liberation Sans', sans-serif" fill="#333" textLength="22.2" lengthAdjust="spacingAndGlyphs">5.2</text>
<text x="939.0" y="1666.6" font-size="16" font-family="'DejaVu Sans', 'Liberation Sans', sans-serif" fill="#333" textLength="20.8" lengthAdjust="spacingAndGlyphs">1.8</text>
<text x="1088.0" y="1693.5" font-size="16" font-family="'DejaVu Sans', 'Liberation Sans', sans-serif" fill="#333" textLength="22.2" lengthAdjust="spacingAndGlyphs">8.9</text>
<text x="882.8" y="1720.4" font-size="16" font-family="'DejaVu Sans', 'Liberation Sans', sans-serif" fill="#333" textLength="27.9" lengthAdjust="spacingAndGlyphs">-2.6</text>
<text x="944.3" y="1747.3" font-size="16" font-family="'DejaVu Sans', 'Liberation Sans', sans-serif" fill="#333" textLength="20.9" lengthAdjust="spacingAndGlyphs">2.1</text>
<text x="901.0" y="1785.3" font-size="22" font-family="'DejaVu Sans', 'Liberation Sans', sans-serif" textLength="170.2" lengthAdjust="spacingAndGlyphs">Coefficient value</text>
<text transform="translate(817 1739) rotate(-90)" font-size="26">SCC (M<tspan font-size="16" dy="-10">SCC</tspan><tspan dy="10">)</tspan></text>
<rect x="48.6" y="76.0" width="366.4" height="368.0" fill="#000"/>
<defs><filter id="fNa" x="40" y="70" width="390" height="390" filterUnits="userSpaceOnUse" color-interpolation-filters="sRGB"><feTurbulence type="fractalNoise" baseFrequency="0.17" numOctaves="1" seed="5"/><feColorMatrix type="matrix" values="0 0 0 0 0.118 0 0 0 0 0.133 0 0 0 0 0.957 16 0 0 0 -8.4"/><feComposite in2="SourceGraphic" operator="in"/></filter></defs>
<defs><filter id="fNc" x="40" y="70" width="390" height="390" filterUnits="userSpaceOnUse" color-interpolation-filters="sRGB"><feTurbulence type="fractalNoise" baseFrequency="0.17" numOctaves="1" seed="55"/><feColorMatrix type="matrix" values="0 0 0 0 0.141 0 0 0 0 0.141 0 0 0 0 1.000 16 0 0 0 -8.72"/><feComposite in2="SourceGraphic" operator="in"/></filter></defs>
<defs><filter id="fWa" x="40" y="70" width="390" height="390" filterUnits="userSpaceOnUse" color-interpolation-filters="sRGB"><feTurbulence type="fractalNoise" baseFrequency="0.17" numOctaves="1" seed="9"/><feColorMatrix type="matrix" values="0 0 0 0 0.902 0 0 0 0 1.000 0 0 0 0 1.000 18 0 0 0 -12.15"/><feComposite in2="SourceGraphic" operator="in"/></filter></defs>
<defs><filter id="fWb" x="40" y="70" width="390" height="390" filterUnits="userSpaceOnUse" color-interpolation-filters="sRGB"><feTurbulence type="fractalNoise" baseFrequency="0.17" numOctaves="1" seed="31"/><feColorMatrix type="matrix" values="0 0 0 0 0.902 0 0 0 0 1.000 0 0 0 0 1.000 18 0 0 0 -10.26"/><feComposite in2="SourceGraphic" operator="in"/></filter></defs>
<defs><filter id="fCa" x="40" y="70" width="390" height="390" filterUnits="userSpaceOnUse" color-interpolation-filters="sRGB"><feTurbulence type="fractalNoise" baseFrequency="0.17" numOctaves="1" seed="29"/><feColorMatrix type="matrix" values="0 0 0 0 0.314 0 0 0 0 0.878 0 0 0 0 1.000 18 0 0 0 -12.24"/><feComposite in2="SourceGraphic" operator="in"/></filter></defs>
<defs><filter id="fRa" x="40" y="70" width="390" height="390" filterUnits="userSpaceOnUse" color-interpolation-filters="sRGB"><feTurbulence type="fractalNoise" baseFrequency="0.19" numOctaves="1" seed="13"/><feColorMatrix type="matrix" values="0 0 0 0 1.000 0 0 0 0 0.165 0 0 0 0 0.471 18 0 0 0 -11.34"/><feComposite in2="SourceGraphic" operator="in"/></filter></defs>
<defs><filter id="fGm" x="40" y="70" width="390" height="390" filterUnits="userSpaceOnUse" color-interpolation-filters="sRGB"><feTurbulence type="fractalNoise" baseFrequency="0.09" numOctaves="2" seed="77"/><feColorMatrix type="matrix" values="0 0 0 0 0.227 0 0 0 0 0.910 0 0 0 0 0.227 10 0 0 0 -4.6"/><feComposite in2="SourceGraphic" operator="in"/></filter></defs>
<defs><filter id="fRo" x="40" y="70" width="390" height="390" filterUnits="userSpaceOnUse" color-interpolation-filters="sRGB"><feTurbulence type="fractalNoise" baseFrequency="0.04" numOctaves="2" seed="7" result="t"/><feDisplacementMap in="SourceGraphic" in2="t" scale="26" xChannelSelector="R" yChannelSelector="G"/></filter></defs>
<defs><filter id="fGt" x="40" y="70" width="390" height="390" filterUnits="userSpaceOnUse" color-interpolation-filters="sRGB"><feTurbulence type="fractalNoise" baseFrequency="0.11" numOctaves="2" seed="78"/><feColorMatrix type="matrix" values="0 0 0 0 0.204 0 0 0 0 0.878 0 0 0 0 0.204 10 0 0 0 -4.7"/><feComposite in2="SourceGraphic" operator="in"/></filter></defs>
<defs><clipPath id="cAD"><circle cx="232" cy="260" r="182"/></clipPath><clipPath id="cADw"><path d="M40 165H135V345H40ZM95 95H190V165H95ZM305 190H420V265H305ZM140 180H195V225H140ZM180 330H240V370H180Z"/></clipPath><mask id="mGa" maskUnits="userSpaceOnUse" x="40" y="70" width="390" height="390"><g filter="url(#fRo)" fill="#fff"><ellipse cx="75" cy="250" rx="30" ry="75" transform="rotate(0 75 250)"/><ellipse cx="125" cy="295" rx="38" ry="28" transform="rotate(-15 125 295)"/><ellipse cx="180" cy="290" rx="22" ry="32" transform="rotate(10 180 290)"/><ellipse cx="255" cy="115" rx="26" ry="32" transform="rotate(20 255 115)"/><ellipse cx="300" cy="165" rx="34" ry="20" transform="rotate(-10 300 165)"/><ellipse cx="392" cy="272" rx="24" ry="32" transform="rotate(0 392 272)"/><ellipse cx="120" cy="365" rx="34" ry="30" transform="rotate(0 120 365)"/><ellipse cx="225" cy="400" rx="52" ry="30" transform="rotate(-8 225 400)"/><ellipse cx="255" cy="345" rx="20" ry="14" transform="rotate(0 255 345)"/><ellipse cx="330" cy="370" rx="32" ry="20" transform="rotate(-10 330 370)"/><ellipse cx="345" cy="185" rx="16" ry="14" transform="rotate(0 345 185)"/><ellipse cx="110" cy="200" rx="24" ry="22" transform="rotate(0 110 200)"/><ellipse cx="160" cy="175" rx="14" ry="12" transform="rotate(0 160 175)"/><ellipse cx="215" cy="230" rx="10" ry="22" transform="rotate(20 215 230)"/><ellipse cx="372" cy="335" rx="14" ry="12" transform="rotate(0 372 335)"/></g></mask></defs>
<g clip-path="url(#cAD)">
<circle cx="232" cy="260" r="182" fill="#06082c"/>
<g mask="url(#mGa)"><circle cx="232" cy="260" r="182" fill="#22b826"/><circle cx="232" cy="260" r="182" fill="#fff" filter="url(#fGm)"/></g>
<ellipse cx="112" cy="290" rx="7" ry="9" fill="#020410"/>
<ellipse cx="140" cy="300" rx="8" ry="6" fill="#020410"/>
<ellipse cx="120" cy="362" rx="8" ry="7" fill="#020410"/>
<ellipse cx="92" cy="240" rx="5" ry="6" fill="#020410"/>
<ellipse cx="225" cy="395" rx="5" ry="4" fill="#020410"/>
<ellipse cx="140" cy="220" rx="6" ry="5" fill="#020410"/>
<circle cx="232" cy="260" r="182" fill="#fff" filter="url(#fNa)"/>
<circle cx="232" cy="260" r="182" fill="#fff" filter="url(#fNc)"/>
<circle cx="232" cy="260" r="182" fill="#fff" filter="url(#fWa)"/>
<circle cx="232" cy="260" r="182" fill="#fff" filter="url(#fCa)"/>
<g mask="url(#mGa)"><circle cx="232" cy="260" r="182" fill="#fff" filter="url(#fGt)"/></g>
<g clip-path="url(#cADw)"><circle cx="232" cy="260" r="182" fill="#fff" filter="url(#fWb)"/></g>
<circle cx="232" cy="260" r="182" fill="#fff" filter="url(#fRa)"/>
</g>
<rect x="315.4" y="80.3" width="93.0" height="93.0" fill="#141414" stroke="#9a9a9a" stroke-width="1.2"/>
<line x1="323.0" y1="91.0" x2="338.0" y2="103.0" stroke="#cccccc" stroke-width="1"/>
<line x1="338.0" y1="103.0" x2="346.0" y2="110.0" stroke="#cccccc" stroke-width="1"/>
<line x1="332.0" y1="111.0" x2="346.0" y2="110.0" stroke="#cccccc" stroke-width="1"/>
<line x1="346.0" y1="110.0" x2="361.0" y2="116.0" stroke="#cccccc" stroke-width="1"/>
<line x1="353.0" y1="99.0" x2="361.0" y2="116.0" stroke="#cccccc" stroke-width="1"/>
<line x1="361.0" y1="116.0" x2="355.0" y2="127.0" stroke="#cccccc" stroke-width="1"/>
<line x1="371.0" y1="92.0" x2="367.0" y2="122.0" stroke="#cccccc" stroke-width="1"/>
<line x1="371.0" y1="92.0" x2="374.0" y2="86.0" stroke="#cccccc" stroke-width="1"/>
<line x1="364.0" y1="86.0" x2="371.0" y2="92.0" stroke="#cccccc" stroke-width="1"/>
<line x1="367.0" y1="122.0" x2="355.0" y2="127.0" stroke="#cccccc" stroke-width="1"/>
<line x1="355.0" y1="127.0" x2="345.0" y2="155.0" stroke="#cccccc" stroke-width="1"/>
<line x1="331.0" y1="156.0" x2="345.0" y2="155.0" stroke="#cccccc" stroke-width="1"/>
<line x1="345.0" y1="155.0" x2="354.0" y2="162.0" stroke="#cccccc" stroke-width="1"/>
<line x1="367.0" y1="122.0" x2="399.0" y2="150.0" stroke="#cccccc" stroke-width="1"/>
<line x1="399.0" y1="150.0" x2="396.0" y2="167.0" stroke="#cccccc" stroke-width="1"/>
<ellipse cx="323" cy="91" rx="4.6" ry="4" fill="#e23a2b" stroke="#fff" stroke-width="0.6"/>
<ellipse cx="346" cy="91" rx="4.6" ry="4" fill="#e23a2b" stroke="#fff" stroke-width="0.6"/>
<ellipse cx="364" cy="86" rx="4.6" ry="4" fill="#e23a2b" stroke="#fff" stroke-width="0.6"/>
<ellipse cx="371" cy="92" rx="4.6" ry="4" fill="#e23a2b" stroke="#fff" stroke-width="0.6"/>
<ellipse cx="374" cy="86" rx="4.6" ry="4" fill="#2aa6d8" stroke="#fff" stroke-width="0.6"/>
<ellipse cx="338" cy="103" rx="4.6" ry="4" fill="#e23a2b" stroke="#fff" stroke-width="0.6"/>
<ellipse cx="332" cy="111" rx="4.6" ry="4" fill="#2aa6d8" stroke="#fff" stroke-width="0.6"/>
<ellipse cx="346" cy="110" rx="4.6" ry="4" fill="#2aa6d8" stroke="#fff" stroke-width="0.6"/>
<ellipse cx="353" cy="99" rx="4.6" ry="4" fill="#2aa6d8" stroke="#fff" stroke-width="0.6"/>
<ellipse cx="361" cy="116" rx="4.6" ry="4" fill="#2aa6d8" stroke="#fff" stroke-width="0.6"/>
<ellipse cx="367" cy="122" rx="4.6" ry="4" fill="#e23a2b" stroke="#fff" stroke-width="0.6"/>
<ellipse cx="355" cy="127" rx="4.6" ry="4" fill="#2aa6d8" stroke="#fff" stroke-width="0.6"/>
<ellipse cx="331" cy="156" rx="4.6" ry="4" fill="#2aa6d8" stroke="#fff" stroke-width="0.6"/>
<ellipse cx="345" cy="155" rx="4.6" ry="4" fill="#2aa6d8" stroke="#fff" stroke-width="0.6"/>
<ellipse cx="354" cy="162" rx="4.6" ry="4" fill="#e23a2b" stroke="#fff" stroke-width="0.6"/>
<ellipse cx="399" cy="150" rx="4.6" ry="4" fill="#e23a2b" stroke="#fff" stroke-width="0.6"/>
<ellipse cx="396" cy="167" rx="4.6" ry="4" fill="#e23a2b" stroke="#fff" stroke-width="0.6"/>
<text x="363.0" y="152.0" font-size="11.5" fill="#fff" font-weight="bold" text-anchor="middle">Niche</text>
<g fill="none" stroke="#fff" stroke-width="2.6" stroke-dasharray="4.5 3">
<rect x="194.4" y="134" width="90" height="91.6"/>
<path d="M284.4 134L415 258M284.4 225.6L415 443"/>
</g>
<rect x="53.4" y="409.6" width="115.0" height="4.3" fill="#fff"/>
<text x="82.7" y="436.0" font-size="21" fill="#fff" textLength="52.0" lengthAdjust="spacingAndGlyphs">4 mm</text>
<rect x="1012.0" y="73.0" width="366.5" height="368.0" fill="#000"/>
<defs><filter id="fSa" x="1005" y="70" width="380" height="380" filterUnits="userSpaceOnUse" color-interpolation-filters="sRGB"><feTurbulence type="fractalNoise" baseFrequency="0.17" numOctaves="1" seed="61"/><feColorMatrix type="matrix" values="0 0 0 0 0.078 0 0 0 0 0.078 0 0 0 0 0.918 16 0 0 0 -8.56"/><feComposite in2="SourceGraphic" operator="in"/></filter></defs>
<defs><filter id="fSb" x="1005" y="70" width="380" height="380" filterUnits="userSpaceOnUse" color-interpolation-filters="sRGB"><feTurbulence type="fractalNoise" baseFrequency="0.17" numOctaves="1" seed="62"/><feColorMatrix type="matrix" values="0 0 0 0 0.157 0 0 0 0 0.157 0 0 0 0 1.000 16 0 0 0 -8.8"/><feComposite in2="SourceGraphic" operator="in"/></filter></defs>
<defs><filter id="fSr" x="1005" y="70" width="380" height="380" filterUnits="userSpaceOnUse" color-interpolation-filters="sRGB"><feTurbulence type="fractalNoise" baseFrequency="0.19" numOctaves="1" seed="63"/><feColorMatrix type="matrix" values="0 0 0 0 0.910 0 0 0 0 0.125 0 0 0 0 0.549 18 0 0 0 -11.25"/><feComposite in2="SourceGraphic" operator="in"/></filter></defs>
<defs><filter id="fSr2" x="1005" y="70" width="380" height="380" filterUnits="userSpaceOnUse" color-interpolation-filters="sRGB"><feTurbulence type="fractalNoise" baseFrequency="0.2" numOctaves="1" seed="66"/><feColorMatrix type="matrix" values="0 0 0 0 1.000 0 0 0 0 0.157 0 0 0 0 0.157 18 0 0 0 -12.6"/><feComposite in2="SourceGraphic" operator="in"/></filter></defs>
<defs><filter id="fSc" x="1005" y="70" width="380" height="380" filterUnits="userSpaceOnUse" color-interpolation-filters="sRGB"><feTurbulence type="fractalNoise" baseFrequency="0.18" numOctaves="1" seed="64"/><feColorMatrix type="matrix" values="0 0 0 0 0.282 0 0 0 0 0.941 0 0 0 0 1.000 18 0 0 0 -11.16"/><feComposite in2="SourceGraphic" operator="in"/></filter></defs>
<defs><filter id="fSo" x="1005" y="70" width="380" height="380" filterUnits="userSpaceOnUse" color-interpolation-filters="sRGB"><feTurbulence type="fractalNoise" baseFrequency="0.05" numOctaves="2" seed="65" result="t"/><feDisplacementMap in="SourceGraphic" in2="t" scale="8" xChannelSelector="R" yChannelSelector="G"/></filter></defs>
<defs><clipPath id="cSC"><circle cx="1196" cy="259.5" r="182"/></clipPath></defs>
<g clip-path="url(#cSC)">
<circle cx="1196" cy="259.5" r="182" fill="#04052a"/>
<circle cx="1196" cy="259.5" r="182" fill="#fff" filter="url(#fSa)"/>
<circle cx="1196" cy="259.5" r="182" fill="#fff" filter="url(#fSb)"/>
<circle cx="1196" cy="259.5" r="182" fill="#fff" filter="url(#fSc)"/>
<circle cx="1196" cy="259.5" r="182" fill="#fff" filter="url(#fSr)"/>
<circle cx="1196" cy="259.5" r="182" fill="#fff" filter="url(#fSr2)"/>
<g filter="url(#fSo)">
<path d="M1040 305C1070 280 1110 240 1140 205C1155 185 1172 165 1192 152L1199 161C1180 176 1161 200 1149 221C1121 259 1086 293 1052 318Z" fill="none" stroke="#167a22" stroke-width="7" stroke-linejoin="round"/>
<path d="M1242 214C1258 203 1282 201 1296 215C1303 240 1303 266 1292 286C1282 297 1264 297 1255 284C1248 268 1244 250 1240 234Z" fill="none" stroke="#167a22" stroke-width="7" stroke-linejoin="round"/>
<path d="M1050 360C1080 340 1120 326 1160 317C1180 313 1189 299 1194 281L1204 285C1199 305 1189 323 1166 329C1126 337 1091 353 1062 373Z" fill="none" stroke="#167a22" stroke-width="7" stroke-linejoin="round"/>
<path d="M1035 372C1050 358 1080 358 1106 367C1111 380 1101 393 1080 393C1060 393 1045 389 1035 382Z" fill="none" stroke="#167a22" stroke-width="7" stroke-linejoin="round"/>
<path d="M1200 160C1215 175 1228 195 1236 215L1244 210C1236 188 1222 168 1206 153Z" fill="none" stroke="#167a22" stroke-width="7" stroke-linejoin="round"/>
<path d="M1040 305C1070 280 1110 240 1140 205C1155 185 1172 165 1192 152L1199 161C1180 176 1161 200 1149 221C1121 259 1086 293 1052 318Z" fill="#010104" fill-opacity="0.85" stroke="#2fd630" stroke-width="2.8" stroke-linejoin="round"/>
<path d="M1242 214C1258 203 1282 201 1296 215C1303 240 1303 266 1292 286C1282 297 1264 297 1255 284C1248 268 1244 250 1240 234Z" fill="#010104" fill-opacity="0.85" stroke="#2fd630" stroke-width="2.8" stroke-linejoin="round"/>
<path d="M1050 360C1080 340 1120 326 1160 317C1180 313 1189 299 1194 281L1204 285C1199 305 1189 323 1166 329C1126 337 1091 353 1062 373Z" fill="#010104" fill-opacity="0.85" stroke="#2fd630" stroke-width="2.8" stroke-linejoin="round"/>
<path d="M1035 372C1050 358 1080 358 1106 367C1111 380 1101 393 1080 393C1060 393 1045 389 1035 382Z" fill="#010104" fill-opacity="0.85" stroke="#2fd630" stroke-width="2.8" stroke-linejoin="round"/>
<path d="M1200 160C1215 175 1228 195 1236 215L1244 210C1236 188 1222 168 1206 153Z" fill="#010104" fill-opacity="0.85" stroke="#2fd630" stroke-width="2.8" stroke-linejoin="round"/>
<path d="M1195 282C1215 270 1245 272 1256 292C1262 318 1250 336 1232 340C1212 344 1198 330 1193 312C1189 300 1189 290 1195 282Z" fill="none" stroke="#2fd630" stroke-width="2.8"/>
<path d="M1030 330C1060 310 1100 280 1135 245M1290 300C1310 330 1330 360 1350 385M1240 405C1270 385 1300 365 1335 348M1320 250C1340 280 1355 300 1370 330M1070 380C1100 400 1130 420 1160 435M1110 300C1140 285 1170 270 1190 250" fill="none" stroke="#22a030" stroke-width="2"/>
</g>
</g>
<rect x="1277.8" y="79.6" width="93.0" height="92.7" fill="#141414" stroke="#9a9a9a" stroke-width="1.2"/>
<line x1="1349.0" y1="103.0" x2="1355.0" y2="99.0" stroke="#cccccc" stroke-width="0.9"/>
<line x1="1355.0" y1="99.0" x2="1358.0" y2="108.0" stroke="#cccccc" stroke-width="0.9"/>
<line x1="1358.0" y1="108.0" x2="1364.0" y2="111.0" stroke="#cccccc" stroke-width="0.9"/>
<line x1="1364.0" y1="111.0" x2="1367.0" y2="105.0" stroke="#cccccc" stroke-width="0.9"/>
<line x1="1367.0" y1="105.0" x2="1363.0" y2="120.0" stroke="#cccccc" stroke-width="0.9"/>
<line x1="1363.0" y1="120.0" x2="1368.0" y2="117.0" stroke="#cccccc" stroke-width="0.9"/>
<line x1="1368.0" y1="117.0" x2="1366.0" y2="124.0" stroke="#cccccc" stroke-width="0.9"/>
<line x1="1344.0" y1="118.0" x2="1349.0" y2="128.0" stroke="#cccccc" stroke-width="0.9"/>
<line x1="1349.0" y1="128.0" x2="1344.0" y2="131.0" stroke="#cccccc" stroke-width="0.9"/>
<line x1="1344.0" y1="131.0" x2="1350.0" y2="138.0" stroke="#cccccc" stroke-width="0.9"/>
<line x1="1350.0" y1="138.0" x2="1353.0" y2="128.0" stroke="#cccccc" stroke-width="0.9"/>
<line x1="1353.0" y1="128.0" x2="1360.0" y2="134.0" stroke="#cccccc" stroke-width="0.9"/>
<line x1="1360.0" y1="134.0" x2="1361.0" y2="139.0" stroke="#cccccc" stroke-width="0.9"/>
<line x1="1316.0" y1="122.0" x2="1324.0" y2="124.0" stroke="#cccccc" stroke-width="0.9"/>
<line x1="1324.0" y1="124.0" x2="1327.0" y2="130.0" stroke="#cccccc" stroke-width="0.9"/>
<line x1="1327.0" y1="130.0" x2="1311.0" y2="129.0" stroke="#cccccc" stroke-width="0.9"/>
<line x1="1311.0" y1="129.0" x2="1323.0" y2="138.0" stroke="#cccccc" stroke-width="0.9"/>
<line x1="1323.0" y1="138.0" x2="1326.0" y2="142.0" stroke="#cccccc" stroke-width="0.9"/>
<line x1="1326.0" y1="142.0" x2="1328.0" y2="150.0" stroke="#cccccc" stroke-width="0.9"/>
<line x1="1328.0" y1="150.0" x2="1335.0" y2="155.0" stroke="#cccccc" stroke-width="0.9"/>
<line x1="1335.0" y1="155.0" x2="1339.0" y2="166.0" stroke="#cccccc" stroke-width="0.9"/>
<line x1="1302.0" y1="155.0" x2="1297.0" y2="169.0" stroke="#cccccc" stroke-width="0.9"/>
<line x1="1297.0" y1="169.0" x2="1313.0" y2="170.0" stroke="#cccccc" stroke-width="0.9"/>
<line x1="1292.0" y1="157.0" x2="1306.0" y2="150.0" stroke="#cccccc" stroke-width="0.9"/>
<line x1="1283.0" y1="130.0" x2="1286.0" y2="145.0" stroke="#cccccc" stroke-width="0.9"/>
<line x1="1286.0" y1="145.0" x2="1282.0" y2="155.0" stroke="#cccccc" stroke-width="0.9"/>
<line x1="1282.0" y1="155.0" x2="1288.0" y2="148.0" stroke="#cccccc" stroke-width="0.9"/>
<circle cx="1349" cy="103" r="3.9" fill="#a8dcee" stroke="#fff" stroke-width="0.5"/>
<circle cx="1355" cy="99" r="3.9" fill="#a8dcee" stroke="#fff" stroke-width="0.5"/>
<circle cx="1358" cy="108" r="3.9" fill="#a8dcee" stroke="#fff" stroke-width="0.5"/>
<circle cx="1364" cy="111" r="3.9" fill="#a8dcee" stroke="#fff" stroke-width="0.5"/>
<circle cx="1367" cy="105" r="3.9" fill="#a8dcee" stroke="#fff" stroke-width="0.5"/>
<circle cx="1363" cy="120" r="3.9" fill="#f4d81a" stroke="#fff" stroke-width="0.5"/>
<circle cx="1368" cy="117" r="3.9" fill="#e23a2b" stroke="#fff" stroke-width="0.5"/>
<circle cx="1366" cy="124" r="3.9" fill="#e23a2b" stroke="#fff" stroke-width="0.5"/>
<circle cx="1344" cy="118" r="3.9" fill="#a8dcee" stroke="#fff" stroke-width="0.5"/>
<circle cx="1349" cy="128" r="3.9" fill="#a8dcee" stroke="#fff" stroke-width="0.5"/>
<circle cx="1344" cy="131" r="3.9" fill="#e23a2b" stroke="#fff" stroke-width="0.5"/>
<circle cx="1350" cy="138" r="3.9" fill="#e23a2b" stroke="#fff" stroke-width="0.5"/>
<circle cx="1353" cy="128" r="3.9" fill="#e23a2b" stroke="#fff" stroke-width="0.5"/>
<circle cx="1360" cy="134" r="3.9" fill="#a8dcee" stroke="#fff" stroke-width="0.5"/>
<circle cx="1361" cy="139" r="3.9" fill="#f4d81a" stroke="#fff" stroke-width="0.5"/>
<circle cx="1316" cy="122" r="3.9" fill="#f4d81a" stroke="#fff" stroke-width="0.5"/>
<circle cx="1324" cy="124" r="3.9" fill="#f4d81a" stroke="#fff" stroke-width="0.5"/>
<circle cx="1327" cy="130" r="3.9" fill="#f4d81a" stroke="#fff" stroke-width="0.5"/>
<circle cx="1311" cy="129" r="3.9" fill="#a8dcee" stroke="#fff" stroke-width="0.5"/>
<circle cx="1323" cy="138" r="3.9" fill="#a8dcee" stroke="#fff" stroke-width="0.5"/>
<circle cx="1326" cy="142" r="3.9" fill="#e23a2b" stroke="#fff" stroke-width="0.5"/>
<circle cx="1328" cy="150" r="3.9" fill="#e23a2b" stroke="#fff" stroke-width="0.5"/>
<circle cx="1335" cy="155" r="3.9" fill="#e23a2b" stroke="#fff" stroke-width="0.5"/>
<circle cx="1339" cy="166" r="3.9" fill="#a8dcee" stroke="#fff" stroke-width="0.5"/>
<circle cx="1302" cy="155" r="3.9" fill="#e23a2b" stroke="#fff" stroke-width="0.5"/>
<circle cx="1297" cy="169" r="3.9" fill="#e23a2b" stroke="#fff" stroke-width="0.5"/>
<circle cx="1313" cy="170" r="3.9" fill="#a8dcee" stroke="#fff" stroke-width="0.5"/>
<circle cx="1292" cy="157" r="3.9" fill="#a8dcee" stroke="#fff" stroke-width="0.5"/>
<circle cx="1306" cy="150" r="3.9" fill="#a8dcee" stroke="#fff" stroke-width="0.5"/>
<circle cx="1283" cy="130" r="3.9" fill="#a8dcee" stroke="#fff" stroke-width="0.5"/>
<circle cx="1286" cy="145" r="3.9" fill="#a8dcee" stroke="#fff" stroke-width="0.5"/>
<circle cx="1282" cy="155" r="3.9" fill="#a8dcee" stroke="#fff" stroke-width="0.5"/>
<circle cx="1288" cy="148" r="3.9" fill="#e23a2b" stroke="#fff" stroke-width="0.5"/>
<rect x="1281.0" y="88.0" width="33.0" height="13.0" fill="#000"/>
<text x="1284.0" y="99.0" font-size="11.5" fill="#fff" font-weight="bold">Niche</text>
<g fill="none" stroke="#fff" stroke-width="2.6" stroke-dasharray="4.5 3">
<path d="M1161.5 440.5V345.7H1255.3V440.5M1255.3 345.7L1378 262M1255.3 440.5H1378"/>
</g>
<rect x="1019.8" y="404.5" width="116.0" height="4.3" fill="#fff"/>
<text x="1050.3" y="431.8" font-size="21" fill="#fff" textLength="52.4" lengthAdjust="spacingAndGlyphs">4 mm</text>
<defs><filter id="hsan1" x="421" y="74" width="185" height="186" filterUnits="userSpaceOnUse" color-interpolation-filters="sRGB"><feTurbulence type="fractalNoise" baseFrequency="0.11" numOctaves="1" seed="11"/><feColorMatrix type="matrix" values="0 0 0 0 0.478 0 0 0 0 0.310 0 0 0 0 0.525 12 0 0 0 -6.66"/><feComposite in2="SourceGraphic" operator="in"/></filter></defs>
<defs><filter id="hsan2" x="421" y="74" width="185" height="186" filterUnits="userSpaceOnUse" color-interpolation-filters="sRGB"><feTurbulence type="fractalNoise" baseFrequency="0.11" numOctaves="1" seed="16"/><feColorMatrix type="matrix" values="0 0 0 0 0.353 0 0 0 0 0.204 0 0 0 0 0.439 12 0 0 0 -7.2"/><feComposite in2="SourceGraphic" operator="in"/></filter></defs>
<defs><filter id="hsan3" x="421" y="74" width="185" height="186" filterUnits="userSpaceOnUse" color-interpolation-filters="sRGB"><feTurbulence type="fractalNoise" baseFrequency="0.04" numOctaves="2" seed="13"/><feColorMatrix type="matrix" values="0 0 0 0 0.949 0 0 0 0 0.863 0 0 0 0 0.910 6 0 0 0 -3.48"/><feComposite in2="SourceGraphic" operator="in"/></filter></defs>
<defs><filter id="hsan4" x="421" y="74" width="185" height="186" filterUnits="userSpaceOnUse" color-interpolation-filters="sRGB"><feTurbulence type="fractalNoise" baseFrequency="0.05" numOctaves="2" seed="14"/><feColorMatrix type="matrix" values="0 0 0 0 0.722 0 0 0 0 0.384 0 0 0 0 0.557 6 0 0 0 -3.78"/><feComposite in2="SourceGraphic" operator="in"/></filter></defs>
<defs><clipPath id="hsa"><rect x="423" y="76" width="181.0" height="182.0"/></clipPath><linearGradient id="hsag" x1="0" y1="0" x2="1" y2="0.35"><stop offset="0.55" stop-color="#f2e0ea" stop-opacity="0"/><stop offset="0.85" stop-color="#f2e0ea" stop-opacity="0.6"/></linearGradient></defs>
<g clip-path="url(#hsa)">
<rect x="423.0" y="76.0" width="181.0" height="182.0" fill="#d4a6c0"/>
<rect x="423" y="76" width="181.0" height="182.0" fill="#fff" filter="url(#hsan3)"/>
<rect x="423" y="76" width="181.0" height="182.0" fill="#fff" filter="url(#hsan4)"/>
<path d="M442 83h0m0 0h0m6-1h0m19-1h0m0 3h0m2-6h0m36 3h0m3-3h0m24 0h0m15 1h0m2 5h0m17-5h0m10-3h0m5 14h0m-14 3h0m-4-3h0m-15-2h0m-5 3h0m-7 4h0m-1 0h0m-1-8h0m-13 2h0m-26 0h0m-4 5h0m-1 0h0m-15-5h0m-3 3h0m-15-3h0m-16-2h0m-1 0h0m-4 5h0m-6-5h0m30 20h0m13 0h0m7-6h0m29-2h0m10 6h0m7-2h0m8 2h0m26-8h0m6 5h0m18-2h0m18 15h0m-13-2h0m-6 1h0m-3-5h0m-7 10h0m-21-10h0m-16 9h0m-7-8h0m-19 8h0m-1-9h0m-4 4h0m-1-2h0m-8 1h0m-28 0h0m-12 1h0m-17 3h0m-4 2h0m-1-10h0m0 3h0m-2 1h0m-5-1h0m30 10h0m5 4h0m43 1h0m1 1h0m12 2h0m6-1h0m4-8h0m3 9h0m3-2h0m13 3h0m2-3h0m4 3h0m2-7h0m23 16h0m-15-3h0m-12-3h0m-19 11h0m-1-1h0m-5-11h0m-45 9h0m-20-2h0m-7-2h0m-5 4h0m-2 1h0m-11-4h0m8 15h0m2-4h0m13 5h0m3-1h0m0-2h0m7-2h0m3 4h0m19-2h0m25 3h0m0-5h0m3 6h0m0-8h0m2 4h0m15-5h0m1 4h0m64 8h0m-15 5h0m-24 2h0m-13 1h0m-5-7h0m-6 5h0m-2 2h0m-4 2h0m-4-12h0m-3 8h0m-18-8h0m-6 7h0m-10 0h0m-9-2h0m-10-4h0m-18 9h0m-2-4h0m-6-5h0m-21 5h0m1 10h0m6 0h0m5 3h0m16-6h0m6 5h0m32 6h0m12-4h0m2 2h0m18-10h0m0 2h0m16 2h0m3 8h0m34-2h0m7 8h0m-18 4h0m-17-8h0m-20 5h0m-3-3h0m-2 7h0m-6-3h0m-1 3h0m-2-5h0m-3-5h0m-7 10h0m-11-9h0m-3-2h0m-20 2h0m-10 9h0m-2-3h0m-14 2h0m-7-5h0m-6 6h0m-3-6h0m10 7h0m1 7h0m20 1h0m5 1h0m8 0h0m3-6h0m2 4h0m9 4h0m1-2h0m0-9h0m3 3h0m17 0h0m6 2h0m1 4h0m64-8h0m9 3h0m7 1h0m2 4h0m-1 9h0m-57 3h0m-2 3h0m-2-6h0m-18-2h0m-1 6h0m-10-3h0m-12-1h0m-15-2h0m-13 3h0m-5-4h0m-3 4h0m-2-4h0m-4 6h0m-20-8h0m8 18h0m6 0h0m25 3h0m0-3h0m29-5h0m2 6h0m36-6h0m1 5h0m4 0h0m45 2h0m12-3h0m2 0h0m-15 13h0m-28-6h0m-8 1h0m-26 1h0m-11-3h0m-19 11h0m-2-9h0m-12-1h0m-18 11h0m-18-2h0m-15-3h0m-3 4h0m0 3h0m42-1h0m12 3h0m3 7h0m10-1h0m12 1h0m7-2h0m22-5h0m2-2h0m14 9h0m8-7h0m12-4h0m26 4h0m-8 8h0m-27 2h0m-42 4h0m-57 0h0m-34-6h0" stroke="#7a4f86" stroke-width="8.6" stroke-linecap="round" fill="none" opacity="0.82"/>
<path d="M467 81h0m2-3h0m36 3h0m3-3h0m73 12h0m-14 3h0m-4-3h0m-106-1h0m23 12h0m39 4h0m7-2h0m8 2h0m26-8h0m23 17h0m-3-5h0m-70 9h0m-1-9h0m-4 4h0m-37-1h0m-36 0h0m73 14h0m1 1h0m12 2h0m13 0h0m18-2h0m4 3h0m10 6h0m-31 8h0m-1-1h0m-70-4h0m-14 3h0m-3 11h0m2-4h0m26 4h0m44-4h0m20-3h0m50 17h0m-24 2h0m-18-6h0m-12 9h0m-50-7h0m-10-4h0m-20 5h0m-15 13h0m16-6h0m6 5h0m32 6h0m14-2h0m18-10h0m60 18h0m-18 4h0m-61 1h0m-65 8h0m25 2h0m22 2h0m4-8h0m97 1h0m7 1h0m-56 16h0m-2 3h0m-20-8h0m-23 2h0m-28 1h0m-34-6h0m106 13h0m13 12h0m-26 1h0m-30 8h0m-14-10h0m-18 11h0m-36 2h0m67 8h0m103-6h0m-8 8h0m-27 2h0m-42 4h0m-57 0h0" stroke="#4a2660" stroke-width="5.2" stroke-linecap="round" fill="none" opacity="0.6"/>
<rect x="423.0" y="76.0" width="181.0" height="182.0" fill="url(#hsag)"/>
<path d="M585 85h0m-21 9h0m-110 13h0m64 0h0m19-3h0m25 7h0m-32 7h0m-6-8h0m-14 8h0m-52-1h0m0 11h0m24-3h0m34 2h0m37 16h0m-58-5h0m-5 5h0m-51-10h0m-3 0h0m9 15h0m17 6h0m33-7h0m5 6h0m-57 10h0m-15-1h0m2 8h0m7 5h0m23 3h0m2-3h0m19 0h0m40 4h0m30 7h0m-45-4h0m-60 11h0m1 11h0m42-4h0m31 6h0m-3 8h0m-9-9h0m-35 0h0m-6 0h0m-2 9h0m-9-2h0m-4 3h0m0-6h0m-26 15h0m16 0h0m37-6h0m12 1h0m7 5h0m52-4h0m24 4h0m-19 13h0m-12-8h0m-14 1h0m-94 16h0m42 4h0m19-6h0m3-4h0m9 7h0m14 0h0m4-6h0m24-1h0" stroke="#92e4d2" stroke-width="5.4" stroke-linecap="round" fill="none"/>
<path d="M507 249h0m64-55h0m-143-49h0" stroke="#f7b24f" stroke-width="5.4" stroke-linecap="round" fill="none"/>
<path d="M550 121h0m-25 39h0" stroke="#c8c0ea" stroke-width="5.4" stroke-linecap="round" fill="none"/>
</g>
<defs><filter id="hssn1" x="1383" y="72" width="186" height="186.39999999999998" filterUnits="userSpaceOnUse" color-interpolation-filters="sRGB"><feTurbulence type="fractalNoise" baseFrequency="0.099" numOctaves="1" seed="12"/><feColorMatrix type="matrix" values="0 0 0 0 0.478 0 0 0 0 0.310 0 0 0 0 0.525 12 0 0 0 -6.66"/><feComposite in2="SourceGraphic" operator="in"/></filter></defs>
<defs><filter id="hssn2" x="1383" y="72" width="186" height="186.39999999999998" filterUnits="userSpaceOnUse" color-interpolation-filters="sRGB"><feTurbulence type="fractalNoise" baseFrequency="0.099" numOctaves="1" seed="17"/><feColorMatrix type="matrix" values="0 0 0 0 0.353 0 0 0 0 0.204 0 0 0 0 0.439 12 0 0 0 -7.2"/><feComposite in2="SourceGraphic" operator="in"/></filter></defs>
<defs><filter id="hssn3" x="1383" y="72" width="186" height="186.39999999999998" filterUnits="userSpaceOnUse" color-interpolation-filters="sRGB"><feTurbulence type="fractalNoise" baseFrequency="0.036000000000000004" numOctaves="2" seed="14"/><feColorMatrix type="matrix" values="0 0 0 0 0.949 0 0 0 0 0.863 0 0 0 0 0.910 6 0 0 0 -3.48"/><feComposite in2="SourceGraphic" operator="in"/></filter></defs>
<defs><filter id="hssn4" x="1383" y="72" width="186" height="186.39999999999998" filterUnits="userSpaceOnUse" color-interpolation-filters="sRGB"><feTurbulence type="fractalNoise" baseFrequency="0.045000000000000005" numOctaves="2" seed="15"/><feColorMatrix type="matrix" values="0 0 0 0 0.722 0 0 0 0 0.384 0 0 0 0 0.557 6 0 0 0 -3.78"/><feComposite in2="SourceGraphic" operator="in"/></filter></defs>
<defs><clipPath id="hss"><rect x="1385" y="74" width="182.0" height="182.4"/></clipPath><linearGradient id="hssg" x1="0" y1="0" x2="1" y2="0.35"><stop offset="0.55" stop-color="#f2e0ea" stop-opacity="0"/><stop offset="0.85" stop-color="#f2e0ea" stop-opacity="0.6"/></linearGradient></defs>
<g clip-path="url(#hss)">
<rect x="1385.0" y="74.0" width="182.0" height="182.4" fill="#c99bb8"/>
<rect x="1385" y="74" width="182.0" height="182.4" fill="#fff" filter="url(#hssn3)"/>
<rect x="1385" y="74" width="182.0" height="182.4" fill="#fff" filter="url(#hssn4)"/>
<path d="M1429 76h0m2 6h0m24-2h0m22-2h0m35 5h0m26-6h0m19-2h0m1 4h0m-51 13h0m-4-5h0m-25 4h0m-24 1h0m-25-2h0m-18 1h0m-11-7h0m-4 10h0m-9 11h0m54-6h0m0 0h0m25 8h0m32-3h0m2 2h0m6-6h0m26 5h0m6-7h0m10 6h0m-35 9h0m-40-3h0m-1 2h0m-11 6h0m-10-9h0m0 7h0m-12-7h0m-12 1h0m-21 7h0m-19-1h0m0 4h0m-1 3h0m3 7h0m3-6h0m18 7h0m8 0h0m4-11h0m1 5h0m14-4h0m12 10h0m2-6h0m33 7h0m13-10h0m18 3h0m16 1h0m25 2h0m11 6h0m-12 7h0m0-1h0m-7-7h0m-23 3h0m-7-3h0m-9 5h0m-3-2h0m-16 7h0m-14-3h0m-6 0h0m-11 3h0m-7-5h0m-2 2h0m-2 1h0m-1 3h0m-6-5h0m-13-5h0m-6-1h0m-35 9h0m18 9h0m6 3h0m5 0h0m0-7h0m6 6h0m3-1h0m5-4h0m1 2h0m15-2h0m9-1h0m3 3h0m5-2h0m20 8h0m17-11h0m13 1h0m10 5h0m0-1h0m1-4h0m4 3h0m28-4h0m4 13h0m-7 6h0m-21 1h0m-1 1h0m-30-7h0m-8 2h0m-1 0h0m-16-3h0m-25 9h0m-21-9h0m-15 1h0m-21-1h0m-4 5h0m14 11h0m4-3h0m0 2h0m18 0h0m0-1h0m1-2h0m2 0h0m28-2h0m4 0h0m2 1h0m36 3h0m20 5h0m10 3h0m33-11h0m0 6h0m-7 8h0m-13 2h0m-4 0h0m-2 6h0m-25-7h0m-10 6h0m-14-2h0m-2-5h0m-1 4h0m-12 1h0m-17-2h0m-7 4h0m-40 1h0m-16-4h0m-4 17h0m11-5h0m5 0h0m2 0h0m11 2h0m25 0h0m2-2h0m1-5h0m26 0h0m5 7h0m3 0h0m2-8h0m6 2h0m7 1h0m14-1h0m1 6h0m2-4h0m12-3h0m18 6h0m14 0h0m4-2h0m4-3h0m2 2h0m0 17h0m-5-4h0m-2 0h0m-23 2h0m-20-1h0m-19 1h0m-23-5h0m-17 8h0m-6-7h0m-35-3h0m-11 3h0m-14 16h0m5 2h0m1-3h0m20 0h0m15-1h0m4 0h0m1 5h0m8-9h0m38 0h0m13 10h0m46-2h0m1 0h0m2-2h0m5-4h0m-57 18h0m-36-5h0m-18 0h0m-15 1h0m-8 5h0m-6-3h0m-13 5h0m19 2h0m10-1h0m1 1h0m7 4h0m3-1h0m3-4h0m33 7h0m1-1h0m22 0h0m2 2h0m20 0h0m4-10h0m27 0h0m4 9h0m13-2h0m-1 9h0m-22-2h0m-78-1h0" stroke="#7a4f86" stroke-width="7.74" stroke-linecap="round" fill="none" opacity="0.82"/>
<path d="M1431 82h0m81 1h0m45-8h0m-128 15h0m-42 15h0m79 2h0m72-9h0m-25 15h0m-41-1h0m-66 5h0m-19-1h0m0 4h0m-1 3h0m6 1h0m26 7h0m4-11h0m1 5h0m26 6h0m66-6h0m40 15h0m-65 3h0m-14-3h0m-6 0h0m-11 3h0m-7-5h0m-5 6h0m-42 7h0m6 3h0m72 2h0m18 3h0m-8 2h0m-1 0h0m-16-3h0m-68 13h0m0 2h0m18-1h0m31-4h0m42 4h0m20 5h0m43-2h0m-24 10h0m-51 3h0m-15 0h0m-80-1h0m7 12h0m45 0h0m27-5h0m52 0h0m36 4h0m4-3h0m-3 15h0m-104 5h0m-52-7h0m-14 16h0m41-2h0m4 0h0m1 5h0m8-9h0m51 10h0m47-2h0m2-2h0m-52 14h0m-36-5h0m-18 0h0m-29 3h0m-13 5h0m19 2h0m10-1h0m123-2h0" stroke="#4a2660" stroke-width="4.68" stroke-linecap="round" fill="none" opacity="0.6"/>
<path d="M1418 82h0m24 1h0m104 0h0m11 7h0m-4-1h0m-92-1h0m-17 0h0m-6 5h0m-28-7h0m-10 9h0m-3 4h0m27 1h0m18 7h0m25-1h0m27-4h0m53 4h0m1-8h0m12 6h0m-63 7h0m-44 1h0m-29 5h0m-10 2h0m29 6h0m61 4h0m16 0h0m27 2h0m-6 3h0m-27 7h0m-12 2h0m-4-1h0m-37-6h0m-42 19h0m4-4h0m4 0h0m0-1h0m24-1h0m50 7h0m20-1h0m14-2h0m2-8h0m-21 22h0m-9-6h0m-3 2h0m-49 2h0m-37-3h0m-13 3h0m-13 1h0m42 7h0m46 5h0m5-3h0m3-1h0m40-2h0m24 0h0m0-2h0m6 3h0m-51 10h0m-2 4h0m-17 15h0m16 1h0m21 0h0m7-4h0m16 15h0m-19-3h0m-49 5h0m-71 10h0m10-1h0m66-7h0m35 6h0m15 3h0m10-9h0m16 10h0m3-12h0m-7 18h0m-18 5h0m-3-2h0m-29-5h0m-35 5h0m-7 3h0m-63 1h0m42 2h0m13 6h0m37-6h0m45 8h0m-41 3h0m-17-1h0" stroke="#3a2a48" stroke-width="6.6" stroke-linecap="round" fill="none" opacity="0.8"/>
<path d="M1418 81h0m24 0h0m104 0h0m11 8h0m-4-2h0m-92-1h0m-17 0h0m-6 5h0m-28-6h0m-10 9h0m-3 4h0m27 0h0m18 7h0m25-1h0m27-3h0m53 3h0m1-8h0m12 6h0m-63 8h0m-44 0h0m-29 6h0m-10 1h0m29 6h0m61 4h0m16 0h0m27 3h0m-6 3h0m-4 10h0m-23-3h0m-12 1h0m-4-1h0m-37-6h0m-42 19h0m4-3h0m4-1h0m0-1h0m24 0h0m50 6h0m20 0h0m14-3h0m17 17h0m-36-3h0m-9-5h0m-3 2h0m-49 1h0m-37-3h0m-13 3h0m-13 1h0m42 7h0m46 5h0m5-3h0m3-1h0m40-2h0m24 0h0m6 1h0m-51 10h0m-2 5h0m-17 15h0m16 1h0m21 0h0m7-5h0m32 17h0m-16-2h0m-19-3h0m-49 5h0m-71 10h0m10-1h0m66-6h0m35 5h0m15 3h0m10-9h0m16 10h0m-4 6h0m-18 5h0m-3-2h0m-29-5h0m-35 5h0m-7 3h0m-63 1h0m42 2h0m13 7h0m24 3h0m13-9h0m4 10h0m41-2h0" stroke="#92e4d2" stroke-width="6.6" stroke-linecap="round" fill="none"/>
<path d="M1419 187h0m27 64h0m62-83h0m-44-22h0" stroke="#fff3a8" stroke-width="6.6" stroke-linecap="round" fill="none"/>
<path d="M1423 247h0m126-55h0m-47-90h0m-19 4h0" stroke="#c8c0ea" stroke-width="6.6" stroke-linecap="round" fill="none"/>
</g>
<defs><filter id="hban1" x="611.8" y="75.8" width="368.70000000000005" height="370.8" filterUnits="userSpaceOnUse" color-interpolation-filters="sRGB"><feTurbulence type="fractalNoise" baseFrequency="0.21" numOctaves="1" seed="21"/><feColorMatrix type="matrix" values="0 0 0 0 0.416 0 0 0 0 0.235 0 0 0 0 0.463 10 0 0 0 -5.55"/><feComposite in2="SourceGraphic" operator="in"/></filter></defs>
<defs><filter id="hban2" x="611.8" y="75.8" width="368.70000000000005" height="370.8" filterUnits="userSpaceOnUse" color-interpolation-filters="sRGB"><feTurbulence type="fractalNoise" baseFrequency="0.24" numOctaves="1" seed="22"/><feColorMatrix type="matrix" values="0 0 0 0 0.290 0 0 0 0 0.141 0 0 0 0 0.376 12 0 0 0 -7.56"/><feComposite in2="SourceGraphic" operator="in"/></filter></defs>
<defs><filter id="hban3" x="611.8" y="75.8" width="368.70000000000005" height="370.8" filterUnits="userSpaceOnUse" color-interpolation-filters="sRGB"><feTurbulence type="fractalNoise" baseFrequency="0.035" numOctaves="2" seed="23"/><feColorMatrix type="matrix" values="0 0 0 0 0.941 0 0 0 0 0.839 0 0 0 0 0.894 6 0 0 0 -3.48"/><feComposite in2="SourceGraphic" operator="in"/></filter></defs>
<defs><filter id="hban4" x="611.8" y="75.8" width="368.70000000000005" height="370.8" filterUnits="userSpaceOnUse" color-interpolation-filters="sRGB"><feTurbulence type="fractalNoise" baseFrequency="0.05" numOctaves="2" seed="24"/><feColorMatrix type="matrix" values="0 0 0 0 0.690 0 0 0 0 0.353 0 0 0 0 0.533 6 0 0 0 -3.72"/><feComposite in2="SourceGraphic" operator="in"/></filter></defs>
<defs><filter id="hbaro" x="611.8" y="75.8" width="368.70000000000005" height="370.8" filterUnits="userSpaceOnUse" color-interpolation-filters="sRGB"><feTurbulence type="fractalNoise" baseFrequency="0.04" numOctaves="2" seed="25" result="t"/><feDisplacementMap in="SourceGraphic" in2="t" scale="22" xChannelSelector="R" yChannelSelector="G"/></filter></defs>
<rect x="611.8" y="75.8" width="368.7" height="370.8" fill="#faf1f5" stroke="#222" stroke-width="1.6"/>
<defs><clipPath id="hba"><circle cx="795.8" cy="261" r="182"/></clipPath></defs>
<g clip-path="url(#hba)">
<circle cx="795.8" cy="261" r="182" fill="#d0a0c0"/>
<circle cx="795.8" cy="261" r="182" fill="#fff" filter="url(#hban3)"/>
<circle cx="795.8" cy="261" r="182" fill="#fff" filter="url(#hban4)"/>
<circle cx="795.8" cy="261" r="182" fill="#fff" filter="url(#hban1)"/>
<circle cx="795.8" cy="261" r="182" fill="#fff" filter="url(#hban2)"/>
<g filter="url(#hbaro)" fill="#efd8e4" opacity="0.85">
<path d="M662 272C680 262 700 272 718 286C745 292 760 305 758 322C748 332 725 330 700 326C680 322 664 312 660 296Z"/>
<path d="M770 358C780 352 795 356 806 366C808 385 798 404 782 408C770 404 764 388 766 372Z"/>
<path d="M800 100C818 104 835 114 852 138C842 146 826 142 813 136C802 126 796 114 800 100Z"/>
<path d="M872 140C898 136 928 144 942 152C934 170 914 170 896 166C884 158 874 150 872 140Z"/>
<path d="M722 195C730 186 742 190 746 202C742 218 734 222 726 214Z"/>
<path d="M905 240C920 235 935 240 945 250C940 262 925 262 912 258Z"/>
</g>
<path d="M759 95h0m-7 0h0m-39 8h0m11 0h0m0 1h0m10-3h0m4 0h0m7 5h0m9-4h0m19-5h0m2 5h0m110 16h0m-25-7h0m-6 2h0m-7 4h0m-1-3h0m-38 2h0m-1-3h0m-17-1h0m-9 0h0m-3 3h0m-6-1h0m-5 0h0m-8 5h0m-13-8h0m-8-3h0m-3 2h0m0 7h0m-8 0h0m-4-8h0m-29 7h0m-11 14h0m5-7h0m13-2h0m3 0h0m1 2h0m6 6h0m30-6h0m3 9h0m3-3h0m5 0h0m2 1h0m1-6h0m2 0h0m1 3h0m10-7h0m4 0h0m6 1h0m1 2h0m6 3h0m4 0h0m1 4h0m13-1h0m8-9h0m20 2h0m8-1h0m5 6h0m12 4h0m20-3h0m13 15h0m-10-8h0m-2-2h0m-8 4h0m-6 7h0m-1-11h0m-4 10h0m-8-10h0m-5 9h0m-20-3h0m-13-5h0m-13 5h0m-6-4h0m-5 8h0m-2-10h0m0 8h0m-1-3h0m-3 4h0m-1-8h0m-8 0h0m-3 0h0m-1 3h0m-2 2h0m-3 1h0m0-6h0m-2 9h0m-7-7h0m-17 6h0m-12-1h0m-8 0h0m-2 2h0m-4-7h0m-5 6h0m-5-7h0m-2-1h0m-1 9h0m-6-1h0m-16-2h0m-4-7h0m-3 5h0m-5 4h0m1 3h0m6 9h0m17-4h0m12 4h0m1-6h0m0 6h0m0-7h0m2 6h0m8-2h0m2 5h0m4-12h0m3 11h0m1-2h0m1-3h0m2 1h0m4-7h0m3 4h0m3 5h0m0-6h0m9 5h0m1-3h0m8 4h0m5-5h0m5 2h0m2 0h0m4-5h0m0 4h0m0-4h0m1 6h0m2-1h0m1 1h0m2-5h0m3 2h0m2 7h0m2-9h0m0 9h0m4 1h0m4-4h0m2-1h0m0-6h0m3 2h0m0 4h0m1-5h0m2-1h0m7 3h0m4 0h0m15 5h0m8-1h0m25 2h0m2-6h0m2 5h0m9-8h0m1 0h0m1 11h0m8-10h0m1-1h0m2 2h0m1 8h0m3-4h0m2-1h0m1 13h0m-6-5h0m-5-1h0m-7 7h0m-8-6h0m-38 2h0m0 7h0m-6-5h0m-17 5h0m-4-6h0m-4-3h0m-5-1h0m0 2h0m-1 9h0m-4-7h0m0 3h0m-3 2h0m-4-5h0m-1-2h0m-6 9h0m-3-10h0m-2 5h0m-1-5h0m-8 4h0m-4 0h0m-8-2h0m-10 5h0m-12 0h0m-18-4h0m-10-4h0m-3 9h0m-1-6h0m-2 2h0m-2 4h0m-7 0h0m-2-9h0m-15 2h0m-7 2h0m-8 4h0m-6 12h0m4-6h0m3-1h0m3 0h0m1-1h0m6-1h0m0 2h0m3 5h0m18-4h0m2 6h0m4 2h0m10-3h0m4-6h0m2-2h0m7 6h0m4 3h0m4-4h0m1 6h0m6-1h0m7 2h0m8-6h0m4 0h0m1 4h0m13-9h0m17 0h0m6 3h0m4 4h0m0 1h0m4-7h0m1 10h0m1-10h0m2 3h0m7 6h0m1-4h0m0 3h0m3-2h0m0-4h0m3 1h0m4-4h0m9 5h0m3-5h0m4 0h0m6 7h0m0 0h0m3-4h0m3 1h0m0 0h0m0 3h0m7-2h0m6 0h0m4-2h0m4 7h0m2-3h0m9 3h0m11-2h0m2 0h0m6-3h0m0 1h0m4 0h0m4 2h0m0-2h0m2 1h0m2 4h0m16-2h0m4 2h0m3-1h0m2-1h0m15 2h0m15 7h0m0-4h0m-6 1h0m-2 8h0m-2-11h0m0 7h0m-1-5h0m-13 6h0m-6-8h0m-3 6h0m-5-3h0m-5 7h0m-1-3h0m-3-1h0m-6-1h0m-8-5h0m-8 7h0m-1-7h0m0 4h0m-1-4h0m-2 10h0m-1-1h0m-3-9h0m0 0h0m0-1h0m0 3h0m-3-1h0m-4 7h0m-5 0h0m-2-3h0m-3-3h0m0 8h0m-2-5h0m-1 0h0m-3-2h0m0 1h0m-3-5h0m-5 6h0m-3 2h0m-2 0h0m0 2h0m-4 0h0m0-1h0m-1-3h0m-1-4h0m-2 9h0m0-5h0m-4 4h0m-2-5h0m-2 7h0m-1-3h0m-18 0h0m-18-7h0m-2 6h0m-4-2h0m0-4h0m-2 6h0m0 1h0m-3-2h0m-5-5h0m-3 3h0m-3 0h0m-1 4h0m-10 3h0m-8-1h0m0-9h0m-6 2h0m-5 5h0m-7 1h0m-5-4h0m-18 3h0m-10-8h0m-10 9h0m-14-1h0m-11-6h0m-3-2h0m-1 0h0m-1 4h0m-16-2h0m-7 7h0m-2 14h0m1-7h0m0 4h0m9-1h0m0 3h0m6-10h0m1 7h0m16 4h0m10-2h0m10-9h0m3 7h0m6 1h0m1-9h0m4 3h0m4 7h0m23 1h0m0-7h0m5 2h0m3-2h0m5-2h0m8-1h0m4 5h0m2 1h0m1 1h0m1-4h0m1-3h0m1 1h0m5 0h0m4 6h0m0-3h0m3 7h0m2-9h0m5 1h0m1 4h0m3-7h0m3 8h0m8-8h0m1 4h0m3 5h0m3-1h0m2 2h0m1-5h0m4 5h0m5 1h0m15-11h0m4 11h0m0-6h0m2-1h0m1 0h0m2 4h0m2-8h0m4 11h0m7-9h0m0 6h0m1 3h0m0-6h0m1 1h0m1-2h0m0 3h0m8 3h0m0 1h0m1-10h0m2 0h0m1 7h0m3 2h0m1-3h0m1 1h0m3-1h0m1 1h0m2-4h0m0 0h0m1 5h0m4-5h0m0-2h0m0 5h0m1-4h0m2 0h0m1-3h0m2 0h0m0 6h0m4 1h0m4-2h0m1 4h0m2-9h0m5 5h0m2 3h0m10-4h0m1-1h0m2-1h0m2 3h0m3 0h0m1-5h0m1 9h0m2-10h0m5 4h0m1 6h0m0-10h0m1 4h0m6 4h0m1-3h0m3 4h0m1 0h0m2-2h0m0-4h0m1 3h0m2 5h0m6-1h0m2 0h0m0 0h0m2-9h0m2 6h0m2-4h0m-6 18h0m-9-8h0m-2 9h0m-8-7h0m0 3h0m-3-4h0m-9 9h0m-1-9h0m0 2h0m0 1h0m-3 6h0m-4-2h0m-20 1h0m-6-7h0m-9 6h0m-2 3h0m-1 0h0m0-3h0m-3 2h0m-3-3h0m-1 2h0m-1-4h0m-2-4h0m-1 0h0m0 10h0m-1-5h0m-2-1h0m0 5h0m-3-5h0m-6 6h0m0-9h0m0-1h0m-6 3h0m-3 7h0m-3-6h0m-2-2h0m-6 5h0m-4 1h0m-2-2h0m-7 1h0m-1-1h0m0-2h0m-6 4h0m0-1h0m-1-2h0m0-1h0m-7-2h0m-4 1h0m-13-1h0m-15 4h0m-2-1h0m-1 1h0m-2 0h0m-2-4h0m-15 4h0m-6-5h0m-7 6h0m-22-5h0m-3-3h0m-18 0h0m-1 9h0m0-2h0m-30-4h0m-5 6h0m-3-2h0m-5 4h0m-5-3h0m-1-6h0m-2 4h0m-7-3h0m5 16h0m15-8h0m1 11h0m3-2h0m3 3h0m9 0h0m7-11h0m13-1h0m1 11h0m4 0h0m12-4h0m0 1h0m6-7h0m10-1h0m2 1h0m3 2h0m5 7h0m5-9h0m2 7h0m3 4h0m1-6h0m12 2h0m13 3h0m2-6h0m24 2h0m7-2h0m5-4h0m5 0h0m1 6h0m2 4h0m2-2h0m0-7h0m0 8h0m7-5h0m4 3h0m4-6h0m2 5h0m3-6h0m2 6h0m6-3h0m0 1h0m1-2h0m2-3h0m4 2h0m3 8h0m1 1h0m1-9h0m0-2h0m0 4h0m14 3h0m1-2h0m2-4h0m1 3h0m23-4h0m1 10h0m0-4h0m1-1h0m4 3h0m2-3h0m8-5h0m2 6h0m1 2h0m10 3h0m3-7h0m0 5h0m0-5h0m7 5h0m2-4h0m2 0h0m6 7h0m7-8h0m0 0h0m4 5h0m2 1h0m0-5h0m4 5h0m2 0h0m1 14h0m-1-1h0m-2 1h0m-2-9h0m-3 3h0m-1-3h0m-3 0h0m-3 8h0m0-5h0m-4 1h0m-3 3h0m-1-7h0m-8-2h0m-5 2h0m-5 5h0m-3-5h0m-6-2h0m-3 1h0m-3 3h0m-3-1h0m-1 0h0m-2 4h0m-3-3h0m-5-1h0m-4 0h0m-2 5h0m0-1h0m-3-3h0m-2 3h0m0 3h0m0-1h0m-3-9h0m-8 4h0m-16 2h0m-1-5h0m-1 2h0m-2 6h0m-3-4h0m-1 1h0m-1-4h0m-1 3h0m-2-2h0m-3 3h0m-3-4h0m-3 6h0m-11-1h0m-1 2h0m-1-6h0m-1 4h0m-1 3h0m-6-4h0m0 3h0m-6 0h0m0-3h0m-10-7h0m-2 4h0m0 0h0m-3-4h0m-9 1h0m-4-1h0m-8 8h0m-23-1h0m-2 1h0m0-1h0m-2-1h0m-14-1h0m-5-2h0m-1 5h0m-7-5h0m0-1h0m-3 9h0m-8-7h0m-3 5h0m-3 1h0m-3-5h0m-1 2h0m-1-4h0m-6 1h0m-1-1h0m-3 7h0m0 1h0m-6-1h0m-2-4h0m-15-4h0m-6 2h0m-24 7h0m-1-8h0m-5 5h0m-2-6h0m-3 13h0m18-1h0m3 0h0m1 6h0m4-1h0m3 2h0m8 2h0m3-3h0m5-5h0m1 9h0m1-2h0m2-6h0m10 7h0m6-6h0m7 1h0m1-6h0m4 1h0m2 8h0m1-9h0m1 7h0m1 2h0m1-6h0m1 7h0m5-1h0m2-4h0m2-5h0m9 3h0m3 7h0m1-10h0m12 9h0m9-8h0m4 0h0m2 11h0m2-12h0m0 5h0m3 2h0m5-2h0m24-4h0m17 7h0m1-1h0m1-3h0m0-2h0m2 5h0m6-6h0m4 6h0m5-4h0m3 4h0m4 1h0m0-2h0m4-5h0m0 10h0m1-11h0m4 8h0m1-1h0m0-3h0m6 4h0m6-1h0m22 0h0m1-6h0m4 7h0m0 2h0m2-5h0m5-1h0m4 3h0m10-4h0m0 1h0m10-1h0m4 3h0m3 3h0m2-3h0m5-6h0m3 8h0m0-1h0m0-4h0m8 0h0m0 6h0m4-6h0m3 7h0m3-7h0m5-1h0m3 2h0m11 1h0m-2 8h0m-1 4h0m-2 4h0m0 1h0m-9-6h0m-2 4h0m-4 0h0m-4-8h0m-1 2h0m-10 6h0m-3-1h0m-4-3h0m-1-2h0m0 4h0m-1 2h0m-14-1h0m-1 3h0m-8-2h0m0-2h0m-6-3h0m0 3h0m-3 0h0m-1-2h0m-12 1h0m-13-4h0m-2 6h0m-1-3h0m-2-2h0m-8 1h0m-1 2h0m-3 6h0m-4-2h0m-2-5h0m-6 2h0m0-3h0m-1 5h0m-6-8h0m0 9h0m-1-1h0m-2-3h0m-5 5h0m-7-4h0m-3 6h0m-1-12h0m-2 3h0m-12 1h0m-1 7h0m-2-1h0m-7-6h0m-1 0h0m-4 7h0m-4-3h0m-1 3h0m-7-5h0m-14-2h0m-11 5h0m0 0h0m-2 3h0m-5-6h0m-6 4h0m-3 1h0m-2-5h0m-6-4h0m-1 1h0m-11 7h0m-10-4h0m-3-5h0m-1 4h0m-11-5h0m-24 6h0m-5-4h0m0 0h0m-1 1h0m-18-1h0m-6 19h0m2-7h0m1 9h0m10-9h0m1 9h0m9-1h0m10-3h0m0 1h0m2 0h0m0-5h0m7 3h0m2 3h0m2-3h0m12 3h0m4-2h0m1 0h0m6 3h0m1-2h0m2-7h0m10 1h0m4 1h0m0 3h0m10 2h0m0 0h0m6 1h0m7 2h0m1-8h0m7-3h0m11 4h0m3 2h0m11-5h0m2 0h0m4 7h0m1 0h0m7-7h0m19 9h0m8 0h0m0 2h0m0-11h0m3 10h0m1-9h0m1 9h0m4-2h0m4-8h0m2 0h0m1 6h0m4-1h0m8 0h0m4-4h0m0 9h0m7-8h0m0 3h0m4-4h0m4 3h0m0 0h0m3 4h0m4 3h0m2-10h0m1 2h0m7 8h0m5-1h0m1-1h0m1-7h0m1 2h0m5 5h0m1 2h0m1-3h0m5-3h0m1-2h0m1 6h0m1 2h0m2-6h0m2-5h0m1-1h0m1 3h0m13 0h0m1 5h0m0 4h0m1-4h0m1-3h0m0 2h0m5 0h0m3 3h0m1-9h0m1 6h0m0 1h0m1 0h0m0 1h0m2 0h0m3-8h0m0 7h0m4-5h0m6 1h0m2-4h0m1 2h0m2 4h0m4 1h0m5-1h0m1 3h0m2-8h0m1 16h0m-1-3h0m-13 3h0m-3-3h0m-3 2h0m0-3h0m-1 10h0m0-7h0m-10-1h0m-2 6h0m-1-5h0m-2-4h0m-2 10h0m-1-9h0m-5 6h0m-1-7h0m-2 2h0m-5 7h0m-10-3h0m-4 4h0m-1-2h0m0 1h0m-5 2h0m-3 0h0m0-2h0m-2 3h0m-2-3h0m-6 1h0m-9-1h0m-5 0h0m-8-3h0m-1-4h0m-1 8h0m0-7h0m-1 6h0m-7-1h0m-1-2h0m-3-4h0m-1 1h0m-5 5h0m-6-1h0m-1 1h0m-3-2h0m-2 2h0m-11 3h0m-2-3h0m-6-7h0m0 7h0m-4 2h0m-1 0h0m-5-2h0m-29-7h0m-6 5h0m-9-6h0m-3 10h0m-2 0h0m0-8h0m-2 7h0m-6-4h0m-4-3h0m-1 0h0m-1 9h0m-2-1h0m-6-5h0m-9-4h0m-15 3h0m-8 0h0m-24 4h0m-10-6h0m-4 7h0m-5 1h0m-1-8h0m-12-1h0m-1 11h0m-3-8h0m-1-3h0m-2 0h0m0 0h0m-6 2h0m0-3h0m-5 14h0m12 10h0m2-5h0m0 2h0m9-4h0m1 4h0m3-8h0m24 0h0m11 0h0m3 6h0m10-6h0m12 2h0m4 5h0m7 3h0m1-1h0m8 1h0m11-3h0m72 3h0m8-4h0m2-5h0m0 2h0m3-2h0m1 6h0m3-3h0m6 6h0m6 0h0m3-6h0m0-3h0m2 6h0m4-2h0m7-2h0m6 8h0m2-12h0m2 11h0m4-3h0m1-4h0m1 7h0m4 0h0m1-7h0m4-2h0m1-1h0m3 3h0m6 5h0m9 1h0m9-7h0m2 7h0m0 0h0m2-5h0m8 5h0m1-9h0m3 5h0m1-1h0m7 7h0m1-12h0m4 10h0m0-4h0m0 0h0m1-1h0m0-1h0m6 1h0m5 5h0m3 0h0m2-9h0m0 11h0m0-5h0m2-4h0m2 1h0m1 2h0m0-2h0m3 10h0m-12 9h0m-1-4h0m-3-1h0m-1-6h0m-1 2h0m0 0h0m-5-1h0m-8 4h0m0-4h0m-2 7h0m-11-2h0m-4-5h0m-10 7h0m-1-4h0m-1 1h0m-2 6h0m-6-5h0m0-4h0m-1 9h0m-3-1h0m-3-3h0m-2-6h0m0 7h0m-7-5h0m-9 1h0m-2 6h0m-2-9h0m-2 8h0m-4 0h0m-2-1h0m-5 1h0m-7-2h0m-10-2h0m-5 1h0m0 2h0m-13 1h0m-4 0h0m-1-6h0m-3 8h0m-5-4h0m-3-4h0m-3 0h0m-2 7h0m-2-10h0m-5 1h0m-6 3h0m-2 5h0m-1 2h0m0-4h0m-4 4h0m-13-7h0m-1 1h0m-1 2h0m-9-1h0m-7 4h0m-5 0h0m-4-1h0m-2-1h0m-6 3h0m-3-1h0m-15 1h0m-6-1h0m-3 1h0m0 0h0m-12-8h0m-1 5h0m-5-8h0m-3 7h0m-10 4h0m-2-10h0m-4 1h0m-8-2h0m-11 0h0m-1 3h0m-6 21h0m18-1h0m2-5h0m4 6h0m8-8h0m1 6h0m10-1h0m0-5h0m3 2h0m2 4h0m3 2h0m5-9h0m2 0h0m1 6h0m4-3h0m2-3h0m7 0h0m1 5h0m0-5h0m6 2h0m3-2h0m0 0h0m3 8h0m1-7h0m3-3h0m1 7h0m2-6h0m3 8h0m1-3h0m0-5h0m2 0h0m12 8h0m7-3h0m0 2h0m1-2h0m8-2h0m1-3h0m14 10h0m3-11h0m1 6h0m15 3h0m7 0h0m1 0h0m1-7h0m2 4h0m0 1h0m2-7h0m1 0h0m1 3h0m2 3h0m11-5h0m3 9h0m16-9h0m5-1h0m1 4h0m6 3h0m0-2h0m1 4h0m0-6h0m2 2h0m7-1h0m1 5h0m1-10h0m10 1h0m5 9h0m1 0h0m0-3h0m1 0h0m1-3h0m1 3h0m2 4h0m3-9h0m1 2h0m16 1h0m2 1h0m0-6h0m1 5h0m2-2h0m6 8h0m14-5h0m4-6h0m4 2h0m0 1h0m1 1h0m1 1h0m5 6h0m3-4h0m2 4h0m-4 1h0m-9 7h0m-1-4h0m-1 3h0m-1-1h0m-8 5h0m-1-6h0m-1 1h0m-8-1h0m-4 2h0m-4 0h0m-7-5h0m-7 5h0m-12 1h0m-2-2h0m-4 7h0m-1-11h0m-9 7h0m0-6h0m-8 1h0m-8 8h0m-5-2h0m-2 0h0m-1-8h0m-1 5h0m-4-2h0m-2 3h0m-2 1h0m0-2h0m-7 5h0m-3-5h0m-1 1h0m-2-6h0m-1 0h0m-4 1h0m-3 2h0m-2-3h0m-1 3h0m-5 2h0m-12-1h0m-7 6h0m0-1h0m-10-3h0m-6 0h0m-6-5h0m-8 2h0m-4-2h0m-4 1h0m-5 0h0m0-1h0m-7 0h0m-4 7h0m-14-8h0m-4 1h0m-3 8h0m-5 1h0m-2-5h0m0-6h0m0 12h0m-12-12h0m-2 10h0m-1 1h0m-8-6h0m-1-4h0m-1 1h0m-1 8h0m-3-7h0m-2 4h0m-4-1h0m-6 0h0m0 3h0m-4-9h0m-3 4h0m-6 4h0m-2 3h0m-8-3h0m0 4h0m0-11h0m-3 0h0m-3 2h0m-2 16h0m3 4h0m0-7h0m0 8h0m8-11h0m1 9h0m1-3h0m3-5h0m0 10h0m6-12h0m1 9h0m8 2h0m3-3h0m6-3h0m0-2h0m6-1h0m1 2h0m3 0h0m1 7h0m2-6h0m3-2h0m4 7h0m1-8h0m4 1h0m0 1h0m1 4h0m3-3h0m5 5h0m1-2h0m0-5h0m7-1h0m1 1h0m0 6h0m0-8h0m2 11h0m0-9h0m3 2h0m6 2h0m6 3h0m5-2h0m5-7h0m0 1h0m3 1h0m14-3h0m1 6h0m7 4h0m10 0h0m2-7h0m2 8h0m3-1h0m4 1h0m7-8h0m0 4h0m0-3h0m0-4h0m6 0h0m14 12h0m2-9h0m4 3h0m1 4h0m3-7h0m1 2h0m1 5h0m13-9h0m8 2h0m2 5h0m2-3h0m2-1h0m13-3h0m2 1h0m1 6h0m2-6h0m1 10h0m0-1h0m1-2h0m5-2h0m2 1h0m3-3h0m5-2h0m3 3h0m1-3h0m2 5h0m2-2h0m4 6h0m1-3h0m11-9h0m3 9h0m2-4h0m5 5h0m9 1h0m9-9h0m5 0h0m-7 12h0m-8 9h0m-1-10h0m0 3h0m-3 8h0m-3-8h0m-3-3h0m-6-1h0m-1 7h0m-1 0h0m-2-1h0m-3-3h0m-1 4h0m-2 1h0m-5 2h0m-5 2h0m-1-10h0m-3 8h0m-2-3h0m-3-1h0m-3 4h0m-2-6h0m-7 6h0m-2 1h0m0-11h0m-2 3h0m-1 1h0m0 3h0m-3-1h0m-1 0h0m-11 0h0m-1 5h0m-2-5h0m-2 3h0m-13 2h0m0-8h0m-1 7h0m-1 0h0m-3-4h0m-5-2h0m0-3h0m-7 1h0m-4 1h0m-2 2h0m-6 4h0m-5-2h0m0 0h0m-8-5h0m-2 3h0m-2 3h0m-8-7h0m-3 2h0m-7 1h0m-13-2h0m0 8h0m-3-3h0m-7 4h0m-6-3h0m-8 2h0m-4 2h0m-4-4h0m-1-5h0m-10 0h0m-3 8h0m-11-3h0m-3 0h0m-1 0h0m-2 4h0m-18-3h0m-1-5h0m-14 2h0m-25-5h0m0 14h0m8-1h0m1-2h0m1 1h0m0 1h0m1 2h0m3 1h0m1 3h0m5-4h0m1 0h0m7-2h0m1 7h0m2-9h0m5 7h0m8 0h0m8 0h0m4-6h0m0 0h0m0 2h0m7 2h0m3 7h0m1-8h0m6-1h0m3 9h0m4-2h0m8 1h0m2-5h0m0 4h0m2 2h0m1-1h0m4-3h0m0-2h0m11-2h0m1-4h0m5 6h0m2 5h0m2-10h0m3 5h0m6 5h0m2-8h0m4 4h0m4 2h0m1-2h0m12-5h0m1 5h0m2-6h0m1 0h0m7 1h0m2 0h0m6 3h0m3 2h0m2-6h0m8 3h0m1 8h0m0-4h0m4-1h0m8 1h0m3-1h0m1 0h0m2 1h0m6 4h0m0-6h0m9 5h0m2-9h0m0 0h0m0 0h0m1 9h0m2-5h0m1-3h0m2 8h0m5-5h0m1-1h0m0-1h0m1-1h0m1 3h0m3-5h0m0 1h0m6 4h0m3 5h0m4-2h0m1-2h0m2 3h0m10-9h0m8 0h0m17 2h0m0-1h0m1 8h0m0-10h0m4 1h0m1 2h0m-12 13h0m-2 0h0m-6 4h0m0-3h0m-1 2h0m-3 2h0m-2-3h0m-7 5h0m-3-8h0m-2 8h0m0-10h0m-5 5h0m-3 3h0m-7 3h0m-4-8h0m-1 6h0m-2-2h0m-4 1h0m-1-1h0m-3-2h0m-4-6h0m-3 9h0m-2-5h0m-6 7h0m-1 0h0m-7-2h0m0 1h0m-4-4h0m-13 1h0m-7-5h0m-7 2h0m-6 5h0m-1-2h0m-1 3h0m-1 0h0m-4-3h0m-6 5h0m-15-8h0m-2 6h0m-6-2h0m-2-7h0m-11-1h0m-3 2h0m-2-2h0m-5 6h0m-1 4h0m-7 1h0m-3-2h0m-2-7h0m-5 5h0m-1 0h0m-1 2h0m0-3h0m-2-4h0m-3 8h0m-4-2h0m-3 0h0m-4 2h0m-4-3h0m-3 3h0m-1 1h0m-1-8h0m-11 7h0m-6-3h0m-6 1h0m-1 2h0m-7-3h0m-4-4h0m-1-2h0m-1 4h0m-13-2h0m0 0h0m15 16h0m5-3h0m3 2h0m1-4h0m2 4h0m3 1h0m0-6h0m1 9h0m4 1h0m0-2h0m1-4h0m1 6h0m0-2h0m5-8h0m13 2h0m3-1h0m5-1h0m6 2h0m4 3h0m7 1h0m5-1h0m2 4h0m4-7h0m1 3h0m21-3h0m3-2h0m1 3h0m2-1h0m0-2h0m2 10h0m10-2h0m3-8h0m4 4h0m9-5h0m6 8h0m5-3h0m11 6h0m3-5h0m11-6h0m2 3h0m0 1h0m0 3h0m1 3h0m14-7h0m2 1h0m6 4h0m5-7h0m4 6h0m6 4h0m16-8h0m4 0h0m-25 10h0m-1 1h0m-4 4h0m-11-5h0m-1 3h0m-1 4h0m-2 0h0m-6-3h0m0-3h0m-1-1h0m-7 2h0m-5 7h0m0-10h0m-2 7h0m0 0h0m-1-5h0m-3 7h0m-4-6h0m-1 3h0m-1 0h0m0-4h0m-9 0h0m-6 1h0m-11 8h0m0-5h0m-5-2h0m-3 2h0m-5-3h0m0-1h0m-5 7h0m-2-4h0m0 5h0m-5-9h0m-18 4h0m-1 4h0m-1 0h0m-1-2h0m-18 3h0m-2-2h0m-4-2h0m-1-1h0m0-3h0m-8 2h0m-6 7h0m-5-9h0m-1 9h0m-1-8h0m-7 1h0m-10 0h0m16 10h0m6 3h0m5 0h0m6 6h0m4-1h0m5-3h0m2-1h0m4 2h0m8 3h0m3-1h0m4-1h0m1-4h0m2 3h0m3 3h0m1-5h0m4-3h0m2-3h0m2 5h0m4-3h0m3 9h0m2 1h0m6-12h0m1 12h0m1-6h0m4-5h0m9 0h0m18 0h0m6 1h0m0 2h0m1-3h0m-43 11h0m-5 0h0m-28 4h0m-1 5h0m-7-5h0m-4-1h0m0-1h0m-4 3h0m-1-2h0m-4-1h0m-5-2h0" stroke="#8fe8d4" stroke-width="4.2" stroke-linecap="round" fill="none"/>
<path d="M667 373h0m138-201h0m-103 88h0m21-133h0m79 273h0m37-138h0m-183 66h0m96 1h0m93-222h0m47 262h0m29-233h0m4 86h0m-53 149h0m77-95h0m-34-52h0m-258 142h0m22 20h0m198-21h0m-117-106h0m94 73h0m-116-105h0m93 135h0m-170-116h0m233 132h0m11-227h0" stroke="#f9e27a" stroke-width="4.2" stroke-linecap="round" fill="none"/>
<path d="M746 330h0m42-63h0m-66 143h0m-6-110h0m19 38h0m-67-3h0m15 54h0m139-127h0m-101 61h0m106-134h0m51 27h0m-125-41h0m67 13h0m-112 36h0" stroke="#f6a842" stroke-width="4.2" stroke-linecap="round" fill="none"/>
<path d="M770 203h0m-16 70h0m66-121h0m-3 60h0m-27 109h0m58-116h0m-119 139h0m125-198h0m-150 233h0m39-70h0" stroke="#c8c0ea" stroke-width="4.2" stroke-linecap="round" fill="none"/>
<path d="M758 321h0m-73-80h0m253-84h0m-204 20h0m85 226h0m-8-200h0m-161 73h0m177 114h0m-69-136h0m165-19h0m-241 137h0m265-152h0" stroke="#8fb3d9" stroke-width="4.2" stroke-linecap="round" fill="none"/>
</g>
<defs><filter id="hbsn1" x="1573.5" y="76.5" width="368.0" height="364.5" filterUnits="userSpaceOnUse" color-interpolation-filters="sRGB"><feTurbulence type="fractalNoise" baseFrequency="0.21" numOctaves="1" seed="22"/><feColorMatrix type="matrix" values="0 0 0 0 0.416 0 0 0 0 0.235 0 0 0 0 0.463 10 0 0 0 -6.15"/><feComposite in2="SourceGraphic" operator="in"/></filter></defs>
<defs><filter id="hbsn2" x="1573.5" y="76.5" width="368.0" height="364.5" filterUnits="userSpaceOnUse" color-interpolation-filters="sRGB"><feTurbulence type="fractalNoise" baseFrequency="0.24" numOctaves="1" seed="23"/><feColorMatrix type="matrix" values="0 0 0 0 0.290 0 0 0 0 0.141 0 0 0 0 0.376 12 0 0 0 -7.56"/><feComposite in2="SourceGraphic" operator="in"/></filter></defs>
<defs><filter id="hbsn3" x="1573.5" y="76.5" width="368.0" height="364.5" filterUnits="userSpaceOnUse" color-interpolation-filters="sRGB"><feTurbulence type="fractalNoise" baseFrequency="0.035" numOctaves="2" seed="24"/><feColorMatrix type="matrix" values="0 0 0 0 0.941 0 0 0 0 0.839 0 0 0 0 0.894 6 0 0 0 -3.48"/><feComposite in2="SourceGraphic" operator="in"/></filter></defs>
<defs><filter id="hbsn4" x="1573.5" y="76.5" width="368.0" height="364.5" filterUnits="userSpaceOnUse" color-interpolation-filters="sRGB"><feTurbulence type="fractalNoise" baseFrequency="0.05" numOctaves="2" seed="25"/><feColorMatrix type="matrix" values="0 0 0 0 0.690 0 0 0 0 0.353 0 0 0 0 0.533 6 0 0 0 -3.72"/><feComposite in2="SourceGraphic" operator="in"/></filter></defs>
<defs><filter id="hbsro" x="1573.5" y="76.5" width="368.0" height="364.5" filterUnits="userSpaceOnUse" color-interpolation-filters="sRGB"><feTurbulence type="fractalNoise" baseFrequency="0.04" numOctaves="2" seed="26" result="t"/><feDisplacementMap in="SourceGraphic" in2="t" scale="22" xChannelSelector="R" yChannelSelector="G"/></filter></defs>
<rect x="1573.5" y="76.5" width="368.0" height="364.5" fill="#f8f5f7" stroke="#222" stroke-width="1.6"/>
<defs><clipPath id="hbs"><circle cx="1758" cy="261" r="178"/></clipPath></defs>
<g clip-path="url(#hbs)">
<circle cx="1758" cy="261" r="178" fill="#dcb6cd"/>
<circle cx="1758" cy="261" r="178" fill="#fff" filter="url(#hbsn3)"/>
<circle cx="1758" cy="261" r="178" fill="#fff" filter="url(#hbsn4)"/>
<circle cx="1758" cy="261" r="178" fill="#fff" filter="url(#hbsn1)"/>
<circle cx="1758" cy="261" r="178" fill="#fff" filter="url(#hbsn2)"/>
<g filter="url(#hbsro)" fill="#efd8e4" opacity="0.85">
<path d="M1700 190C1720 172 1742 164 1756 176C1746 198 1718 226 1690 256C1662 286 1634 304 1614 314C1606 306 1610 298 1624 284C1652 250 1680 214 1700 190Z"/>
<path d="M1805 205C1828 200 1852 202 1874 208C1866 232 1858 262 1848 290C1832 294 1820 282 1820 260C1816 240 1810 222 1805 205Z"/>
<path d="M1598 325C1618 334 1640 348 1658 362C1688 390 1698 420 1700 445L1580 445L1580 335Z"/>
<path d="M1702 332C1720 324 1740 324 1756 332C1764 344 1756 352 1740 348C1722 344 1708 340 1702 332Z"/>
<path d="M1885 182C1902 190 1920 198 1940 206L1940 160C1920 162 1902 168 1885 182Z"/>
<path d="M1770 290C1790 285 1805 292 1812 302C1800 312 1785 310 1772 302Z"/>
</g>
<path d="M1713 129h0m6-1h0m5-2h0m8-2h0m3 6h0m6-2h0m3-8h0m1 1h0m3 4h0m9 6h0m2-3h0m2-3h0m4 5h0m7-5h0m6 0h0m2 5h0m7-7h0m19 6h0m8-5h0m1 6h0m2 0h0m1-8h0m1 3h0m1-2h0m2-3h0m3 11h0m11-5h0m2-3h0m7 4h0m0 11h0m-4-5h0m-1 0h0m-3 9h0m-2-4h0m-6-1h0m-3 2h0m-2-6h0m-3 2h0m-2 4h0m-1-2h0m-10 0h0m-15-1h0m-5-4h0m-4 12h0m-3-7h0m-3-2h0m-3 1h0m0 7h0m-3-10h0m-4 5h0m-4 1h0m-2-3h0m-6-4h0m0 1h0m-1 0h0m-3-1h0m-2 5h0m-7 3h0m0-4h0m-8-2h0m-2 7h0m-1-4h0m0 7h0m-17-12h0m-7 10h0m0-5h0m0 3h0m0-6h0m-4 2h0m-1-4h0m0 22h0m0 2h0m11-7h0m4 3h0m29-7h0m2 4h0m3-1h0m6 3h0m1-4h0m1 3h0m2 4h0m5-2h0m4-5h0m2 9h0m2-11h0m2 1h0m4 0h0m6-1h0m7 2h0m5-1h0m0 1h0m4 4h0m12 2h0m2-7h0m1 0h0m17 5h0m4-6h0m1 0h0m-5 21h0m-5-8h0m-2 5h0m-5 4h0m-8-6h0m-4 0h0m-1-1h0m-5 4h0m-11-7h0m-2 8h0m-2-9h0m-5 4h0m-2-1h0m-15 3h0m-9 4h0m-2-2h0m-1-4h0m-7 8h0m-3-5h0m-4 3h0m-6-2h0m-2-5h0m0 0h0m-1 3h0m-3 5h0m-2-4h0m-8 1h0m-9-6h0m-71 20h0m8-3h0m7 1h0m2-1h0m2 0h0m9-1h0m33 5h0m6-5h0m5-2h0m1 3h0m4 3h0m2 0h0m7-2h0m3 1h0m7-8h0m2 0h0m7 0h0m8 4h0m5-4h0m3 2h0m5 2h0m1-3h0m6 8h0m0-7h0m1 3h0m2 4h0m7-3h0m3 4h0m2-11h0m6 11h0m1 0h0m0-2h0m6-3h0m1-3h0m2 5h0m2-7h0m7 8h0m5-8h0m0 6h0m3 3h0m1 2h0m1-1h0m4-6h0m5-2h0m0 2h0m1 0h0m1 0h0m0 5h0m0 0h0m5-2h0m-4 13h0m-16 0h0m-24 2h0m-1-2h0m-4-7h0m-1 3h0m-17 0h0m-8 3h0m-7 3h0m-5-9h0m-2 8h0m-1 1h0m-5-5h0m-1 1h0m-1 4h0m-8-8h0m-4 7h0m-5-7h0m-7-1h0m-3 0h0m-2 9h0m-1-10h0m-1 7h0m-1 3h0m-4-1h0m-1-1h0m0-7h0m-27 9h0m-1-6h0m-5 4h0m-3 1h0m-3-9h0m0 1h0m-4 2h0m-9 6h0m0-3h0m-1 4h0m-7-2h0m-2-4h0m-2 6h0m0-3h0m-3 1h0m-5-5h0m-1-3h0m-4 2h0m-3-2h0m0 10h0m0-6h0m-3 3h0m0-7h0m-3 3h0m-4-1h0m-10 7h0m5 6h0m7 2h0m3-3h0m3 1h0m1 0h0m5 5h0m1-5h0m5 4h0m3-7h0m3 1h0m5 1h0m2 9h0m4-12h0m10 2h0m1 1h0m2 9h0m3-8h0m3-1h0m2 9h0m27-5h0m1-4h0m1 2h0m1-4h0m0 4h0m8 4h0m2-5h0m6 3h0m8-6h0m8 8h0m2-1h0m2 3h0m0-2h0m5-7h0m0-2h0m2 1h0m7 5h0m1-5h0m8 9h0m3-1h0m3-4h0m1 1h0m2-6h0m2 7h0m1-4h0m1 7h0m0 1h0m4-1h0m3-3h0m0-4h0m7-1h0m13 3h0m3 4h0m8-1h0m1 2h0m7-6h0m4 3h0m1 3h0m6 1h0m3-2h0m1-5h0m83 15h0m-6 1h0m-5 3h0m0-2h0m-5 1h0m-1-2h0m-8 0h0m-2 0h0m-63 1h0m-2 2h0m-1-1h0m-7-9h0m0 0h0m-8 10h0m-2-10h0m-2 0h0m-4 2h0m-3 6h0m-3-8h0m-3 7h0m-5-5h0m-5 5h0m-7 3h0m-1 1h0m-1 0h0m-8-8h0m-3-4h0m-1 8h0m0-7h0m-5 11h0m-2-6h0m-9 2h0m0-1h0m0 4h0m0-1h0m-1-6h0m-2 8h0m-3-12h0m-6 4h0m-8 6h0m-3-6h0m-4-2h0m0 8h0m-5-9h0m-5 6h0m-3-6h0m-1 5h0m-4-4h0m-25-1h0m0 6h0m-4 4h0m-12-2h0m-9-8h0m0 3h0m-1 1h0m0-2h0m-7 1h0m-8-1h0m-3 2h0m-6 3h0m0 2h0m-1-5h0m-18 2h0m-5 1h0m-2 13h0m4 0h0m7-5h0m2 2h0m2 2h0m12-7h0m13 10h0m2-9h0m14 3h0m10 5h0m1-1h0m6-4h0m2 5h0m26-7h0m13 1h0m5-3h0m2 3h0m5 0h0m11 6h0m12 0h0m5-6h0m22-2h0m4 4h0m3 5h0m16-9h0m5 2h0m5 7h0m9-4h0m1-5h0m8 4h0m56-1h0m5-1h0m4 6h0m10 1h0m1-8h0m4 5h0m2-3h0m0-1h0m1 0h0m17 18h0m0-7h0m-7 5h0m-15 2h0m-2 1h0m-11-1h0m-6-10h0m-2 2h0m-57-1h0m-47-1h0m-7 2h0m-13-2h0m-14 0h0m-70 4h0m-3 2h0m-1 0h0m-2-3h0m0 4h0m-2 1h0m-1-2h0m-12 3h0m-2-9h0m-8 8h0m-4-2h0m-4 6h0m-1-1h0m-7-5h0m-6 2h0m-5-5h0m-7 0h0m-8-3h0m0 17h0m10 1h0m14 5h0m2-10h0m0-1h0m3 3h0m5 7h0m4-5h0m8 6h0m4-2h0m11-5h0m6-3h0m4 9h0m1-8h0m3 10h0m205-9h0m3-3h0m2 8h0m7 2h0m1-7h0m3 6h0m3-5h0m1-1h0m2 6h0m3-2h0m0-4h0m1 7h0m5-4h0m3-4h0m2 8h0m0-2h0m9 3h0m1-9h0m0 16h0m-3-3h0m0 4h0m-5-4h0m-2 7h0m0 1h0m-1-2h0m-1-1h0m-3-8h0m-1 6h0m-1-2h0m0-4h0m-1 2h0m-2-1h0m0 8h0m-3-6h0m-4 7h0m-1-10h0m-6 3h0m-2 6h0m-3-7h0m-10 5h0m0-4h0m-2 4h0m-19-1h0m-3 4h0m-1-1h0m-3-3h0m-3 0h0m-1-2h0m-5 3h0m-1 3h0m-4-5h0m-12 1h0m-26 6h0m-126-9h0m-1 7h0m-2-4h0m-9 2h0m-7 0h0m-1-1h0m-10 2h0m-2-3h0m-1-4h0m-4 4h0m-3 1h0m-2 2h0m-2-8h0m-2 10h0m-1-5h0m-3-2h0m-11 2h0m-3 3h0m-9 13h0m1-2h0m0 3h0m2-3h0m8 1h0m8 2h0m0-9h0m6-1h0m5 7h0m0-6h0m0 5h0m8 2h0m3-6h0m5 6h0m1 1h0m6-2h0m0 1h0m147-2h0m2 3h0m3 0h0m3-5h0m3 4h0m3-2h0m11-1h0m1-6h0m4 5h0m1-1h0m0 1h0m5 4h0m7-7h0m6-1h0m10 4h0m4-3h0m4 0h0m2 2h0m0 5h0m1-6h0m3 5h0m1-2h0m4 3h0m4-9h0m1 4h0m6 6h0m4-8h0m1-2h0m3 12h0m1 0h0m2-5h0m4-4h0m0 2h0m2-2h0m5 1h0m0 3h0m1-1h0m4 3h0m7-6h0m1 7h0m0-4h0m1-5h0m0 9h0m2 0h0m-5 5h0m-1 0h0m-1-1h0m-7 0h0m-1-2h0m-2 8h0m0-7h0m-1 5h0m-1-2h0m-6 1h0m-3 1h0m-7-5h0m-1 8h0m-5 1h0m-4-8h0m-7 7h0m0 2h0m-1-8h0m-4 8h0m-5-10h0m-4 10h0m-5-11h0m-1 6h0m-3-6h0m-17 11h0m0 0h0m-5-3h0m-1-7h0m-2 0h0m0 6h0m-3-4h0m-13 3h0m-4-4h0m-3 2h0m-6 2h0m-99 1h0m-9 2h0m-13 0h0m-75-6h0m-1-3h0m46 14h0m2 5h0m1 1h0m12-3h0m4-4h0m8 9h0m8-1h0m9-2h0m4-2h0m8 0h0m101 3h0m1-3h0m2 0h0m0-3h0m2 5h0m7-7h0m2 7h0m2-4h0m18 6h0m1-1h0m5 4h0m7-7h0m3-1h0m12-1h0m0 3h0m9-1h0m5 1h0m1 5h0m2-1h0m1-2h0m8 0h0m1-8h0m1 4h0m3 1h0m4-3h0m5-2h0m0 1h0m5 6h0m1 2h0m2-2h0m1 1h0m2 3h0m2-2h0m0-5h0m4 0h0m0-2h0m2 6h0m-4 4h0m-8 7h0m-5 3h0m-7-7h0m-1 1h0m-8 1h0m-1 3h0m-5 2h0m-9 2h0m-7-8h0m-4-3h0m-4 10h0m-1-9h0m-9 6h0m0-4h0m-2 1h0m0-5h0m-3 6h0m-5 3h0m-20-4h0m-1-2h0m-12 9h0m-4-5h0m-4 4h0m-2 0h0m-2-8h0m-1 8h0m-1-9h0m-5 5h0m-78-2h0m-3 6h0m-5-2h0m-14-7h0m-8 3h0m-1 7h0m-5 0h0m0-4h0m-7 3h0m-10-8h0m-12-1h0m-5 9h0m0-7h0m4 9h0m0 1h0m20 5h0m9 2h0m3-9h0m9 9h0m6-9h0m3 3h0m3 3h0m7 4h0m0-5h0m9-4h0m87 6h0m1-5h0m0 5h0m11-1h0m4-4h0m4-1h0m1 9h0m12-10h0m8 0h0m4 4h0m6 3h0m26 0h0m7-5h0m4 8h0m2 2h0m6-11h0m2 1h0m3-1h0m6 10h0m2-3h0m7-3h0m-1 11h0m0 2h0m-2-5h0m-3 3h0m0 6h0m-1-1h0m-1-9h0m-10 3h0m-8 5h0m-9 3h0m-4-4h0m-2 4h0m-2-10h0m-6 6h0m-1 2h0m-2 1h0m-1-8h0m-5 7h0m-9-9h0m-4 7h0m-5 0h0m-5-2h0m-3-5h0m-11 11h0m-4-6h0m-7-2h0m-1 6h0m-3-6h0m-6 9h0m-89-3h0m-2 0h0m-10-6h0m-17 5h0m-1 2h0m-5-9h0m-15 2h0m-2 6h0m-2-6h0m2 11h0m48-2h0m5 2h0m71 3h0m1-2h0m3 7h0m2-9h0m3 5h0m3 5h0m3-2h0m1-4h0m0 3h0m4 1h0m2-1h0m0-7h0m7 0h0m3 6h0m2 2h0m1-4h0m11 6h0m6-1h0m6-5h0m1 4h0m1-6h0m8 0h0m1 6h0m9-4h0m2 6h0m8-8h0m2-3h0m1 10h0m3 1h0m1-10h0m1 1h0m4 3h0m2-1h0m7 4h0m5 4h0m-10 11h0m-11 0h0m-3-7h0m0-2h0m-8 10h0m0-3h0m-9-6h0m-1 3h0m-12-3h0m-2 2h0m-5 6h0m-4-11h0m-1 6h0m-12 5h0m-5-7h0m-3-3h0m-2 4h0m-4-3h0m-3-1h0m-1 5h0m-3-5h0m0 5h0m0 2h0m-3 3h0m-4-6h0m0-2h0m0 8h0m-1-3h0m-1-2h0m0-1h0m-1-4h0m-1 0h0m-4 6h0m-2-2h0m-12 4h0m-3-2h0m0-3h0m-1 1h0m0 3h0m-2-7h0m-5 1h0m-4-2h0m-6 8h0m-5-7h0m-1 5h0m-10 1h0m-1-7h0m-2 5h0m-3-4h0m-2 10h0m-2 4h0m3 4h0m8 0h0m3-2h0m2-3h0m0-1h0m3 6h0m1-1h0m4-1h0m1 5h0m1-1h0m3-8h0m2 0h0m0-1h0m11 10h0m7-3h0m7 2h0m1-7h0m2 1h0m1-2h0m1 4h0m10-1h0m6 6h0m0-10h0m3 1h0m4 1h0m3 4h0m5 2h0m4-4h0m9-2h0m3 3h0m3 2h0m6 0h0m0 2h0m0-8h0m7 6h0m2-2h0m1 3h0m4 4h0m1-12h0m4 6h0m2 2h0m1-7h0m1 7h0m8-7h0m2 7h0m0-2h0m6-3h0m2-1h0m-17 13h0m-3-2h0m0-1h0m-3 3h0m-7 5h0m-2 2h0m-8-4h0m0-6h0m-9 1h0m-1 10h0m-2-9h0m-2 5h0m-4-4h0m-6 9h0m-6-8h0m-2 1h0m-1 5h0m-3-5h0m-2 1h0m-3-2h0m-1 6h0m-4-9h0m-1 0h0m-5 8h0m-1-4h0m-3 4h0m0-5h0m-4-2h0m-14-1h0m-6 1h0m-1 8h0m-8-10h0m-1 7h0m-3-7h0m-1 0h0m-18 2h0m-2 8h0m-5 1h0m11 9h0m5-7h0m2 6h0m12 1h0m1-1h0m1 1h0m2-4h0m7 0h0m5 4h0m9 3h0m1-10h0m3 8h0m0-7h0m2 1h0m1-3h0m0 11h0m1-4h0m2 2h0m1-9h0m4 3h0m2 7h0m3-6h0m4 1h0m2-5h0m8 1h0m30 4h0m-30 7h0m-12 9h0m-3-1h0m-14-6h0m-11-1h0m-4 3h0m-3 1h0m-11-4h0m-7 2h0m-1-2h0m-8 2h0m-2 0h0m-6 7h0m-1-10h0m-2 1h0m-3 20h0m2 1h0m20-1h0m3-5h0m0-3h0m5 4h0m5 6h0m3-11h0m8 11h0m0-9h0m4 8h0m1-7h0m20 5h0m3-1h0m2-3h0m0-3h0m5 2h0m1 8h0m0 1h0m-5 3h0m-5 4h0m-12-1h0m-1-3h0m-5-2h0m-2 2h0m-1 1h0m-8 7h0m-8-8h0m0 9h0m-1-9h0m-1 8h0m-1-8h0m-6 3h0m-4 0h0m-4-2h0m0 3h0m-7-2h0m-8 4h0m-1-1h0m15 6h0m10-1h0m1 0h0m6 1h0m2 0h0" stroke="#8fe8d4" stroke-width="5.2" stroke-linecap="round" fill="none"/>
<path d="M1733 173h0m129 140h0m-263-72h0m81-96h0m179 26h0m-221 28h0m-14 133h0m-27-22h0m24-142h0m230 208h0m-64 6h0m-50-100h0m66-146h0m-95 249h0m90-165h0m-79 194h0m200-158h0m-198 87h0m65-34h0m25 60h0m-57-117h0m36 160h0m-17-241h0m62 75h0m-41 117h0m-205-86h0m189 144h0m-151-260h0m231-33h0m-194 31h0" stroke="#fff09a" stroke-width="5" stroke-linecap="round" fill="none"/>
<path d="M1655 273h0m71-68h0m74 221h0m-145-112h0m29-120h0m86 214h0m-133-37h0m20-128h0m3 117h0m236-8h0m-66 33h0m60-110h0m-75 121h0m-214-72h0m180 104h0m-13-280h0m21 3h0m-132 219h0m144-212h0m-60 40h0m122-68h0m2 110h0m-131-121h0m51 188h0m-122-188h0m51 17h0m117 101h0m-18 11h0m-20-65h0m-32-32h0m115 64h0m-111-19h0m57-1h0m-56-19h0m50 115h0m-72-28h0m16 36h0m23 81h0m44 4h0m-83-16h0" stroke="#c8c0ea" stroke-width="5" stroke-linecap="round" fill="none"/>
<path d="M1625 275h0m91-3h0m-20-118h0m126 223h0m71-112h0m-177 130h0m156-60h0m-119-71h0" stroke="#f7866a" stroke-width="5" stroke-linecap="round" fill="none"/>
</g>
<g fill="none" stroke="#222" stroke-width="2.6" stroke-dasharray="5 3.5">
<rect x="768.9" y="133.6" width="90.6" height="91.2"/><path d="M613 79.5L768.9 133.6M613 253.7L768.9 224.8"/>
<rect x="1722.9" y="344.7" width="91.3" height="93.3"/><path d="M1575.3 82.7L1722.9 344.7M1575.3 264.2L1722.9 437"/>
</g>
<rect x="423.0" y="264.0" width="180.4" height="181.4" fill="#000"/>
<defs><clipPath id="sia"><rect x="423" y="264" width="180.4" height="181.4"/></clipPath></defs><g clip-path="url(#sia)">
<path d="M431.8 287.5Q431.9 288.8 430.9 289.7Q430.0 290.6 428.1 290.8Q426.3 291.0 426.1 289.2Q426.0 287.4 426.0 285.7Q425.9 283.9 427.9 283.6Q429.9 283.3 430.9 284.8Q431.8 286.3 431.8 287.5Z" fill="#1a6f80" opacity="0.7"/>
<path d="M523.1 344.3Q522.0 346.5 521.7 348.8Q521.3 351.2 519.3 350.3Q517.3 349.4 516.6 347.9Q516.0 346.3 516.3 344.6Q516.6 343.0 518.2 342.2Q519.7 341.5 521.9 341.8Q524.1 342.1 523.1 344.3Z" fill="#1a6f80" opacity="0.7"/>
<path d="M458.9 308.1Q457.4 306.5 458.8 304.9Q460.2 303.3 461.9 302.9Q463.7 302.5 465.9 302.6Q468.2 302.8 468.7 304.9Q469.3 307.1 466.8 307.6Q464.3 308.1 462.4 308.9Q460.4 309.7 458.9 308.1Z" fill="#1a6f80" opacity="0.7"/>
<path d="M576.0 383.6Q574.8 383.1 573.8 381.9Q572.7 380.8 573.9 379.7Q575.0 378.6 576.2 378.6Q577.4 378.5 578.5 379.1Q579.7 379.6 579.6 381.0Q579.5 382.4 578.4 383.3Q577.3 384.2 576.0 383.6Z" fill="#1a6f80" opacity="0.7"/>
<path d="M533.7 414.9Q531.4 413.1 533.3 410.9Q535.2 408.7 537.3 408.4Q539.4 408.2 541.8 409.0Q544.2 409.9 544.1 412.8Q544.0 415.7 542.1 417.8Q540.1 420.0 538.0 418.3Q536.0 416.6 533.7 414.9Z" fill="#1a6f80" opacity="0.7"/>
<path d="M464.7 426.9Q464.5 429.0 463.6 431.1Q462.6 433.1 460.2 432.5Q457.7 431.9 455.8 430.2Q453.9 428.4 455.7 426.8Q457.4 425.3 459.0 424.3Q460.5 423.4 462.7 424.1Q464.9 424.8 464.7 426.9Z" fill="#1a6f80" opacity="0.7"/>
<path d="M508.3 405.2Q509.6 406.7 507.4 406.8Q505.2 406.9 503.7 406.7Q502.3 406.5 501.0 405.6Q499.8 404.6 499.6 403.3Q499.5 402.0 501.4 401.7Q503.4 401.3 505.2 402.5Q507.0 403.7 508.3 405.2Z" fill="#1a6f80" opacity="0.7"/>
<path d="M513.0 408.7Q511.4 408.7 511.2 407.2Q510.9 405.7 511.1 404.6Q511.2 403.4 512.1 402.7Q512.9 402.0 514.3 401.7Q515.6 401.4 515.8 403.2Q516.1 404.9 515.3 406.8Q514.5 408.7 513.0 408.7Z" fill="#1a6f80" opacity="0.7"/>
<path d="M563.6 314.3Q560.9 315.3 559.0 316.0Q557.0 316.7 555.8 315.1Q554.6 313.5 555.3 311.6Q555.9 309.8 557.6 309.1Q559.4 308.5 561.0 309.0Q562.6 309.5 564.4 311.4Q566.3 313.3 563.6 314.3Z" fill="#1a6f80" opacity="0.7"/>
<path d="M433.8 376.5Q433.0 376.1 433.2 375.2Q433.4 374.2 434.3 373.3Q435.2 372.3 436.7 371.9Q438.2 371.6 438.6 372.5Q438.9 373.5 438.4 374.9Q437.9 376.2 436.3 376.6Q434.7 377.0 433.8 376.5Z" fill="#1a6f80" opacity="0.7"/>
<path d="M519.3 395.2Q517.7 395.6 516.5 395.1Q515.2 394.6 513.9 393.1Q512.5 391.7 513.6 389.8Q514.8 388.0 517.0 387.5Q519.1 387.0 520.4 388.9Q521.7 390.8 521.4 392.8Q521.0 394.9 519.3 395.2Z" fill="#1a6f80" opacity="0.7"/>
<path d="M458.7 416.1Q458.4 417.2 457.5 417.8Q456.6 418.3 455.3 418.0Q454.0 417.7 453.0 416.7Q452.0 415.6 452.6 414.6Q453.3 413.6 454.6 413.7Q456.0 413.8 457.4 414.4Q458.9 414.9 458.7 416.1Z" fill="#1a6f80" opacity="0.7"/>
<path d="M552.0 413.1Q551.3 412.3 551.5 411.3Q551.7 410.4 552.6 409.2Q553.5 408.1 554.6 408.9Q555.8 409.6 556.2 410.6Q556.5 411.6 556.1 412.9Q555.6 414.2 554.1 414.0Q552.7 413.8 552.0 413.1Z" fill="#1a6f80" opacity="0.7"/>
<path d="M464.6 308.1Q463.1 309.6 461.6 308.6Q460.1 307.6 459.1 306.6Q458.2 305.7 458.1 304.0Q458.0 302.3 459.6 301.8Q461.2 301.3 462.7 302.1Q464.2 302.9 465.1 304.8Q466.0 306.7 464.6 308.1Z" fill="#1a6f80" opacity="0.7"/>
<path d="M477.5 301.0Q476.6 301.9 475.6 301.6Q474.6 301.2 473.9 300.6Q473.3 300.0 472.9 299.0Q472.5 298.0 473.2 297.0Q473.9 296.1 475.0 296.9Q476.1 297.8 477.2 298.9Q478.3 300.0 477.5 301.0Z" fill="#1a6f80" opacity="0.7"/>
<path d="M526.5 342.9Q524.7 344.2 524.0 342.3Q523.2 340.3 523.8 338.2Q524.5 336.0 525.7 335.2Q527.0 334.4 528.5 334.0Q530.0 333.7 529.8 335.8Q529.6 337.9 528.9 339.8Q528.2 341.6 526.5 342.9Z" fill="#1a6f80" opacity="0.7"/>
<path d="M517.7 434.7Q516.6 433.1 516.6 431.4Q516.7 429.8 518.2 428.2Q519.7 426.6 521.8 427.1Q524.0 427.5 524.2 429.2Q524.4 430.9 523.7 432.5Q523.1 434.1 520.9 435.2Q518.7 436.4 517.7 434.7Z" fill="#1a6f80" opacity="0.7"/>
<path d="M468.8 393.6Q467.3 392.7 465.8 391.7Q464.4 390.7 465.1 389.1Q465.9 387.5 467.5 387.9Q469.0 388.2 470.0 388.6Q471.1 389.1 471.5 390.3Q471.9 391.6 471.1 393.1Q470.3 394.5 468.8 393.6Z" fill="#1a6f80" opacity="0.7"/>
<path d="M452.9 279.1Q452.4 280.1 451.4 279.6Q450.4 279.0 450.0 277.5Q449.6 276.1 449.8 275.1Q450.0 274.2 450.6 273.0Q451.1 271.8 452.0 273.4Q452.9 274.9 453.2 276.5Q453.5 278.1 452.9 279.1Z" fill="#1a6f80" opacity="0.7"/>
<path d="M508.4 392.4Q506.1 390.7 505.6 388.7Q505.0 386.7 506.0 385.2Q507.0 383.6 509.2 381.8Q511.3 380.0 512.2 382.7Q513.0 385.3 513.8 387.5Q514.7 389.7 512.7 391.9Q510.7 394.1 508.4 392.4Z" fill="#1a6f80" opacity="0.7"/>
<path d="M482.0 340.1Q479.7 339.9 479.6 337.8Q479.6 335.7 479.2 333.7Q478.9 331.7 480.9 331.5Q483.0 331.3 484.5 332.4Q486.0 333.5 486.9 335.5Q487.7 337.5 486.0 338.9Q484.3 340.3 482.0 340.1Z" fill="#1a6f80" opacity="0.7"/>
<path d="M584.4 401.0Q582.8 402.8 581.4 400.9Q580.1 398.9 580.6 396.7Q581.0 394.6 582.0 392.4Q583.0 390.3 585.2 390.2Q587.4 390.1 588.5 392.7Q589.5 395.4 587.7 397.3Q586.0 399.1 584.4 401.0Z" fill="#1a6f80" opacity="0.7"/>
<path d="M494.7 310.0Q493.6 311.0 492.0 310.7Q490.5 310.4 489.5 309.1Q488.6 307.8 489.1 306.0Q489.7 304.2 491.6 304.2Q493.5 304.1 494.6 305.1Q495.7 306.2 495.8 307.5Q495.8 308.9 494.7 310.0Z" fill="#1a6f80" opacity="0.7"/>
<path d="M475.6 424.8Q475.8 426.5 474.3 427.2Q472.8 427.8 471.2 428.2Q469.6 428.5 469.1 427.0Q468.5 425.4 469.3 424.4Q470.1 423.4 471.1 423.1Q472.1 422.8 473.7 422.9Q475.4 423.0 475.6 424.8Z" fill="#1a6f80" opacity="0.7"/>
<path d="M521.6 354.5Q520.6 355.1 519.0 355.1Q517.5 355.1 517.4 353.4Q517.3 351.7 517.7 349.8Q518.2 347.8 520.0 348.1Q521.9 348.4 523.3 349.7Q524.7 351.0 523.7 352.5Q522.7 354.0 521.6 354.5Z" fill="#1a6f80" opacity="0.7"/>
<path d="M550.4 378.9Q547.9 379.7 545.5 378.4Q543.0 377.1 543.7 374.6Q544.5 372.1 545.8 370.2Q547.2 368.4 550.0 368.4Q552.8 368.4 553.9 371.0Q555.0 373.5 553.9 375.8Q552.9 378.1 550.4 378.9Z" fill="#1a6f80" opacity="0.7"/>
<path d="M574.3 439.5Q573.5 439.8 572.5 439.5Q571.4 439.3 572.2 437.5Q573.0 435.7 573.9 434.6Q574.9 433.5 576.0 433.6Q577.0 433.6 577.1 435.3Q577.3 437.0 576.2 438.1Q575.1 439.2 574.3 439.5Z" fill="#1a6f80" opacity="0.7"/>
<path d="M502.3 301.6Q501.5 300.8 501.8 299.7Q502.1 298.5 503.6 297.2Q505.1 295.9 507.1 296.0Q509.1 296.2 509.0 297.5Q508.8 298.9 507.9 300.0Q507.0 301.2 505.1 301.8Q503.2 302.5 502.3 301.6Z" fill="#1a6f80" opacity="0.7"/>
<path d="M457.4 297.0Q455.4 296.8 455.2 294.8Q454.9 292.9 456.3 290.9Q457.8 289.0 459.8 287.3Q461.8 285.5 463.1 286.7Q464.4 287.9 463.1 290.1Q461.7 292.3 460.5 294.7Q459.3 297.2 457.4 297.0Z" fill="#1a6f80" opacity="0.7"/>
<path d="M534.6 320.2Q533.1 320.6 533.8 319.4Q534.4 318.1 535.4 317.4Q536.4 316.6 537.3 316.5Q538.3 316.4 539.0 316.8Q539.7 317.2 538.9 318.2Q538.2 319.2 537.2 319.5Q536.1 319.9 534.6 320.2Z" fill="#1a6f80" opacity="0.7"/>
<path d="M479.1 412.4Q478.2 412.4 477.7 411.9Q477.2 411.5 477.1 410.7Q477.0 409.9 477.4 409.2Q477.8 408.6 478.7 407.9Q479.6 407.3 480.2 408.5Q480.8 409.8 480.4 411.1Q480.0 412.4 479.1 412.4Z" fill="#7fd8e6"/>
<path d="M582.1 327.5Q580.8 328.3 580.1 326.8Q579.4 325.4 579.5 324.1Q579.5 322.9 580.6 321.8Q581.6 320.8 583.3 321.2Q584.9 321.6 584.7 323.2Q584.5 324.7 584.0 325.7Q583.5 326.6 582.1 327.5Z" fill="#7fd8e6"/>
<path d="M433.6 365.6Q434.2 367.5 432.5 368.6Q430.7 369.6 429.1 368.4Q427.4 367.2 425.4 365.9Q423.4 364.5 424.6 362.8Q425.9 361.1 428.1 361.1Q430.2 361.1 431.6 362.4Q433.0 363.7 433.6 365.6Z" fill="#7fd8e6"/>
<path d="M454.1 352.1Q453.0 352.5 452.2 351.6Q451.4 350.6 452.0 348.8Q452.6 347.0 453.9 346.5Q455.2 346.0 456.2 346.2Q457.2 346.4 457.0 347.9Q456.7 349.4 456.0 350.5Q455.2 351.7 454.1 352.1Z" fill="#7fd8e6"/>
<path d="M526.8 439.9Q526.3 440.9 525.1 441.0Q524.0 441.0 523.4 439.8Q522.8 438.6 523.1 437.8Q523.4 437.0 523.9 436.3Q524.3 435.5 525.3 436.1Q526.3 436.6 526.7 437.7Q527.2 438.9 526.8 439.9Z" fill="#7fd8e6"/>
<path d="M563.6 347.3Q564.0 348.6 563.7 350.2Q563.3 351.8 561.3 352.5Q559.3 353.1 557.7 351.6Q556.1 350.0 557.1 348.4Q558.1 346.7 559.1 345.1Q560.2 343.4 561.6 344.7Q563.1 346.1 563.6 347.3Z" fill="#7fd8e6"/>
<path d="M504.0 299.9Q502.2 300.0 502.4 298.1Q502.6 296.1 502.8 294.6Q502.9 293.0 504.5 292.3Q506.0 291.6 506.8 292.6Q507.6 293.6 507.3 294.8Q507.0 296.1 506.4 298.0Q505.8 299.9 504.0 299.9Z" fill="#7fd8e6"/>
<path d="M548.8 378.2Q547.7 379.0 546.4 378.9Q545.2 378.8 544.6 377.8Q544.1 376.7 544.2 375.3Q544.3 373.8 545.8 373.8Q547.2 373.7 548.4 374.3Q549.6 374.8 549.8 376.1Q550.0 377.5 548.8 378.2Z" fill="#7fd8e6"/>
<path d="M588.3 300.4Q586.8 300.4 585.2 299.7Q583.6 298.9 584.6 297.5Q585.6 296.2 586.5 295.5Q587.4 294.8 588.5 295.3Q589.5 295.9 590.7 297.0Q591.8 298.0 590.8 299.2Q589.8 300.4 588.3 300.4Z" fill="#7fd8e6"/>
<path d="M478.5 346.8Q477.4 346.2 476.6 345.0Q475.7 343.8 477.1 343.2Q478.5 342.5 479.6 341.9Q480.7 341.2 481.2 342.3Q481.7 343.4 481.5 344.4Q481.3 345.4 480.4 346.3Q479.6 347.3 478.5 346.8Z" fill="#7fd8e6"/>
<path d="M440.7 282.4Q439.9 282.1 440.1 281.3Q440.3 280.5 440.9 279.5Q441.4 278.4 442.8 278.4Q444.1 278.3 444.9 279.3Q445.6 280.2 444.3 281.0Q443.1 281.8 442.3 282.2Q441.5 282.6 440.7 282.4Z" fill="#7fd8e6"/>
<path d="M505.4 440.7Q504.6 442.3 503.1 443.3Q501.5 444.3 500.4 443.1Q499.2 441.8 498.6 440.4Q497.9 439.0 498.9 437.2Q499.9 435.5 501.9 435.6Q504.0 435.6 505.1 437.3Q506.1 439.0 505.4 440.7Z" fill="#7fd8e6"/>
<path d="M572.4 441.6Q572.0 442.5 571.3 443.6Q570.7 444.8 569.1 443.5Q567.5 442.1 566.8 440.6Q566.1 439.1 566.7 437.9Q567.3 436.7 569.1 437.3Q571.0 437.8 571.9 439.3Q572.9 440.7 572.4 441.6Z" fill="#7fd8e6"/>
<path d="M526.3 284.4Q525.2 284.3 525.2 283.2Q525.2 282.0 526.2 281.1Q527.3 280.3 528.4 280.2Q529.5 280.0 530.0 280.7Q530.6 281.4 529.9 282.3Q529.2 283.1 528.4 283.8Q527.5 284.6 526.3 284.4Z" fill="#7fd8e6"/>
<path d="M582.9 412.0Q582.1 411.1 581.7 410.3Q581.3 409.4 581.9 408.2Q582.4 407.0 583.6 407.1Q584.7 407.2 586.0 407.4Q587.3 407.7 586.3 408.9Q585.2 410.1 584.5 411.5Q583.8 412.8 582.9 412.0Z" fill="#7fd8e6"/>
<path d="M542.0 339.7Q540.8 338.9 540.1 337.9Q539.5 336.9 540.2 336.0Q540.9 335.1 542.0 334.3Q543.1 333.5 544.1 334.5Q545.1 335.6 545.0 336.9Q545.0 338.1 544.1 339.3Q543.3 340.5 542.0 339.7Z" fill="#7fd8e6"/>
<path d="M468.7 296.6Q467.0 295.3 466.4 293.1Q465.8 291.0 467.2 289.1Q468.6 287.2 470.5 288.6Q472.3 289.9 473.5 291.0Q474.7 292.0 474.3 293.7Q473.9 295.4 472.2 296.7Q470.5 297.9 468.7 296.6Z" fill="#7fd8e6"/>
<path d="M486.8 402.8Q485.6 403.7 484.1 403.4Q482.6 403.1 481.7 401.8Q480.8 400.4 481.8 399.2Q482.8 397.9 484.2 397.9Q485.6 398.0 486.7 398.6Q487.9 399.2 487.9 400.5Q488.0 401.9 486.8 402.8Z" fill="#7fd8e6"/>
<path d="M442.1 414.2Q441.2 415.7 439.4 415.4Q437.6 415.1 437.0 413.7Q436.4 412.4 436.5 410.8Q436.6 409.3 438.1 409.5Q439.6 409.6 440.6 410.0Q441.5 410.4 442.2 411.5Q443.0 412.6 442.1 414.2Z" fill="#7fd8e6"/>
<path d="M479.7 342.1Q478.3 343.2 477.1 341.9Q475.9 340.5 477.0 338.8Q478.1 337.1 479.0 335.3Q480.0 333.5 481.6 334.2Q483.2 334.9 483.0 336.8Q482.8 338.7 481.9 339.8Q481.1 341.0 479.7 342.1Z" fill="#7fd8e6"/>
<path d="M462.0 286.2Q460.4 286.8 459.1 286.2Q457.8 285.5 456.2 284.0Q454.7 282.6 456.4 281.3Q458.2 279.9 460.0 280.2Q461.7 280.6 463.7 281.3Q465.7 282.1 464.6 283.9Q463.6 285.7 462.0 286.2Z" fill="#7fd8e6"/>
<path d="M599.8 355.9Q600.6 356.8 599.5 357.4Q598.4 358.0 597.1 358.4Q595.8 358.7 594.5 358.1Q593.2 357.5 593.7 356.6Q594.2 355.7 595.2 355.2Q596.2 354.7 597.6 354.8Q599.1 355.0 599.8 355.9Z" fill="#7fd8e6"/>
<path d="M540.6 330.1Q541.0 331.2 540.4 332.0Q539.7 332.8 538.3 333.0Q536.8 333.2 536.0 332.4Q535.1 331.6 534.9 330.7Q534.7 329.7 536.0 329.3Q537.2 328.9 538.7 329.0Q540.2 329.1 540.6 330.1Z" fill="#7fd8e6"/>
<path d="M525.7 384.6Q526.6 385.8 525.4 386.7Q524.1 387.5 522.3 387.2Q520.4 386.8 518.7 385.9Q517.0 384.9 518.2 384.0Q519.4 383.2 520.5 382.4Q521.6 381.7 523.2 382.5Q524.8 383.4 525.7 384.6Z" fill="#7fd8e6"/>
<path d="M444.0 292.1Q443.2 292.0 443.5 291.2Q443.8 290.4 444.2 289.6Q444.6 288.8 445.8 288.3Q446.9 287.7 447.4 288.4Q447.8 289.2 447.1 290.1Q446.4 291.0 445.6 291.7Q444.7 292.3 444.0 292.1Z" fill="#7fd8e6"/>
<path d="M491.7 312.4Q490.7 313.5 489.6 312.4Q488.6 311.3 488.2 309.3Q487.9 307.3 488.3 305.4Q488.7 303.6 489.9 303.3Q491.1 303.1 491.5 305.1Q491.9 307.2 492.3 309.2Q492.7 311.3 491.7 312.4Z" fill="#7fd8e6"/>
<path d="M582.1 356.3Q581.1 356.9 580.5 355.9Q579.8 354.9 579.3 354.0Q578.9 353.1 579.4 352.1Q580.0 351.1 581.0 351.2Q582.0 351.4 582.3 352.3Q582.7 353.2 582.9 354.4Q583.1 355.6 582.1 356.3Z" fill="#d8c020"/>
<path d="M474.1 416.3Q474.9 417.4 473.8 418.3Q472.7 419.2 471.2 419.4Q469.7 419.5 468.4 418.6Q467.0 417.7 467.0 416.0Q466.9 414.4 468.7 413.2Q470.5 412.1 471.9 413.6Q473.3 415.1 474.1 416.3Z" fill="#d8c020"/>
<path d="M557.8 290.3Q557.7 291.9 556.3 291.4Q554.9 290.9 554.3 289.0Q553.8 287.1 553.4 285.7Q553.1 284.3 553.7 283.3Q554.3 282.2 555.4 284.0Q556.4 285.7 557.2 287.2Q557.9 288.6 557.8 290.3Z" fill="#d8c020"/>
<path d="M475.5 320.2Q476.2 321.5 474.8 321.8Q473.5 322.2 471.9 321.5Q470.4 320.8 470.0 319.8Q469.7 318.8 470.0 318.3Q470.3 317.7 471.3 317.4Q472.3 317.1 473.6 318.0Q474.9 318.9 475.5 320.2Z" fill="#d8c020"/>
<path d="M428.4 438.6Q427.1 438.8 426.9 437.5Q426.7 436.1 427.0 434.9Q427.2 433.7 428.1 433.4Q429.0 433.1 429.9 433.1Q430.7 433.0 431.1 434.2Q431.5 435.4 430.6 436.9Q429.6 438.3 428.4 438.6Z" fill="#d8c020"/>
<path d="M484.5 420.3Q483.5 419.1 482.8 417.5Q482.1 415.9 484.4 414.4Q486.7 412.8 489.3 412.8Q491.8 412.9 491.8 414.8Q491.7 416.7 490.9 418.4Q490.1 420.1 487.8 420.8Q485.5 421.5 484.5 420.3Z" fill="#d8c020"/>
<path d="M527.0 280.7Q525.2 281.6 523.8 279.9Q522.3 278.2 523.2 276.2Q524.0 274.2 525.7 273.8Q527.4 273.4 529.0 273.9Q530.5 274.4 530.5 276.0Q530.4 277.6 529.6 278.7Q528.8 279.8 527.0 280.7Z" fill="#d8c020"/>
<path d="M594.8 347.4Q593.9 346.0 593.2 344.8Q592.6 343.7 593.4 342.5Q594.3 341.3 595.6 341.7Q597.0 342.1 598.4 343.0Q599.7 343.9 599.2 345.5Q598.6 347.1 597.1 348.0Q595.7 348.9 594.8 347.4Z" fill="#d8c020"/>
<path d="M452.6 301.6Q452.3 302.6 451.2 302.7Q450.2 302.8 449.5 302.0Q448.8 301.3 447.9 300.2Q447.1 299.1 448.1 298.4Q449.1 297.8 450.4 297.8Q451.8 297.8 452.3 299.2Q452.9 300.5 452.6 301.6Z" fill="#d8c020"/>
<path d="M578.4 376.2Q577.2 377.9 575.3 377.5Q573.4 377.1 572.0 375.9Q570.5 374.8 571.9 373.4Q573.2 372.1 574.3 371.1Q575.4 370.0 576.6 370.9Q577.8 371.7 578.7 373.2Q579.6 374.6 578.4 376.2Z" fill="#d8c020"/>
<path d="M581.9 417.9Q581.5 417.3 581.5 416.5Q581.5 415.6 583.1 415.4Q584.6 415.2 586.0 415.6Q587.3 416.0 587.3 416.8Q587.4 417.7 586.0 418.0Q584.7 418.4 583.5 418.4Q582.3 418.5 581.9 417.9Z" fill="#d8c020"/>
<path d="M494.3 392.9Q492.8 393.5 491.7 392.5Q490.5 391.5 489.9 390.0Q489.3 388.6 490.5 387.2Q491.7 385.8 493.8 386.0Q495.9 386.1 496.1 387.9Q496.2 389.7 496.0 391.0Q495.7 392.2 494.3 392.9Z" fill="#d8c020"/>
<path d="M534.4 408.4Q532.4 409.1 531.8 407.3Q531.2 405.4 532.9 402.7Q534.5 400.0 536.9 399.4Q539.3 398.8 540.9 399.6Q542.4 400.4 542.2 403.2Q541.9 406.0 539.2 406.9Q536.4 407.7 534.4 408.4Z" fill="#d82a20"/>
<path d="M518.0 447.0Q515.3 446.8 516.1 444.1Q517.0 441.4 518.7 439.2Q520.4 437.0 522.7 437.0Q524.9 436.9 527.3 437.6Q529.8 438.2 527.4 440.7Q524.9 443.2 522.8 445.2Q520.7 447.3 518.0 447.0Z" fill="#d82a20"/>
<path d="M592.1 440.0Q589.6 438.6 591.4 436.4Q593.2 434.2 595.6 433.3Q598.1 432.4 600.3 433.3Q602.4 434.2 602.8 436.1Q603.1 437.9 601.6 439.8Q600.2 441.8 597.4 441.6Q594.6 441.4 592.1 440.0Z" fill="#d82a20"/>
<path d="M586.2 270.3Q584.4 268.2 586.3 266.2Q588.1 264.2 590.9 263.7Q593.7 263.2 595.4 264.8Q597.1 266.4 597.7 268.3Q598.2 270.3 595.8 271.0Q593.4 271.7 590.6 272.0Q587.9 272.4 586.2 270.3Z" fill="#d82a20"/>
<path d="M529.7 311.2Q528.5 312.7 526.8 312.2Q525.1 311.8 524.4 310.2Q523.8 308.5 523.5 307.0Q523.2 305.5 524.3 304.7Q525.5 303.9 527.4 304.3Q529.4 304.8 530.1 307.3Q530.9 309.8 529.7 311.2Z" fill="#d82a20"/>
<path d="M536.5 435.8Q536.5 436.9 535.5 437.4Q534.4 437.9 532.7 437.6Q531.0 437.2 529.5 435.8Q528.0 434.3 529.2 433.4Q530.5 432.6 532.0 432.7Q533.5 432.7 535.0 433.7Q536.6 434.6 536.5 435.8Z" fill="#d82a20"/>
<path d="M591.7 362.5Q589.3 363.3 587.4 361.7Q585.5 360.1 585.4 356.5Q585.2 353.0 587.5 352.0Q589.8 351.1 591.4 351.1Q593.0 351.2 593.5 353.2Q594.0 355.3 594.1 358.5Q594.1 361.6 591.7 362.5Z" fill="#d82a20"/>
<path d="M509.4 355.7Q509.5 353.8 508.9 351.8Q508.3 349.7 510.5 349.7Q512.7 349.6 513.7 350.8Q514.7 352.1 514.7 353.3Q514.7 354.5 514.2 356.2Q513.6 357.9 511.5 357.8Q509.4 357.7 509.4 355.7Z" fill="#d82a20"/>
<path d="M501.3 418.4Q500.5 420.2 499.4 421.2Q498.3 422.2 496.8 421.8Q495.3 421.4 493.9 419.9Q492.6 418.5 494.0 416.9Q495.4 415.4 497.1 415.2Q498.8 414.9 500.5 415.8Q502.2 416.7 501.3 418.4Z" fill="#d82a20"/>
<path d="M496.9 325.6Q495.2 323.8 497.0 322.1Q498.8 320.4 500.1 319.3Q501.4 318.1 503.6 318.3Q505.8 318.5 506.1 320.5Q506.3 322.5 505.2 324.4Q504.1 326.3 501.4 326.8Q498.7 327.3 496.9 325.6Z" fill="#d82a20"/>
<ellipse cx="435.8" cy="388.4" rx="3.8" ry="3.0" fill="none" stroke="#9ee8f0" stroke-width="2.3" transform="rotate(118 435.8 388.4)"/>
<ellipse cx="460.4" cy="293.1" rx="5.4" ry="4.4" fill="none" stroke="#9ee8f0" stroke-width="3.3" transform="rotate(118 460.4 293.1)"/>
<ellipse cx="536.9" cy="342.6" rx="3.8" ry="3.1" fill="none" stroke="#9ee8f0" stroke-width="2.3" transform="rotate(11 536.9 342.6)"/>
<ellipse cx="589.7" cy="404.9" rx="5.2" ry="4.1" fill="none" stroke="#9ee8f0" stroke-width="3.1" transform="rotate(14 589.7 404.9)"/>
<ellipse cx="430.1" cy="349.0" rx="3.4" ry="2.7" fill="none" stroke="#9ee8f0" stroke-width="2.1" transform="rotate(110 430.1 349.0)"/>
<ellipse cx="480.4" cy="402.3" rx="3.6" ry="2.9" fill="none" stroke="#9ee8f0" stroke-width="2.2" transform="rotate(90 480.4 402.3)"/>
<ellipse cx="498.2" cy="308.9" rx="4.0" ry="3.2" fill="none" stroke="#9ee8f0" stroke-width="2.4" transform="rotate(34 498.2 308.9)"/>
<ellipse cx="479.6" cy="344.8" rx="4.2" ry="3.4" fill="none" stroke="#9ee8f0" stroke-width="2.5" transform="rotate(119 479.6 344.8)"/>
<ellipse cx="577.8" cy="355.5" rx="3.7" ry="3.0" fill="none" stroke="#9ee8f0" stroke-width="2.2" transform="rotate(92 577.8 355.5)"/>
<ellipse cx="453.7" cy="413.2" rx="3.2" ry="2.6" fill="none" stroke="#9ee8f0" stroke-width="1.9" transform="rotate(51 453.7 413.2)"/>
<ellipse cx="586.0" cy="368.7" rx="4.1" ry="3.3" fill="none" stroke="#e0d040" stroke-width="2.4" transform="rotate(6 586.0 368.7)"/>
<ellipse cx="458.5" cy="412.5" rx="3.4" ry="2.7" fill="none" stroke="#e0d040" stroke-width="2.0" transform="rotate(125 458.5 412.5)"/>
<ellipse cx="455.7" cy="398.8" rx="3.5" ry="2.8" fill="none" stroke="#e0d040" stroke-width="2.1" transform="rotate(23 455.7 398.8)"/>
<ellipse cx="461.4" cy="432.0" rx="3.2" ry="2.6" fill="none" stroke="#e0d040" stroke-width="1.9" transform="rotate(86 461.4 432.0)"/>
<ellipse cx="582.8" cy="384.8" rx="3.2" ry="2.6" fill="none" stroke="#e0d040" stroke-width="1.9" transform="rotate(119 582.8 384.8)"/>
<ellipse cx="480.7" cy="307.0" rx="3.5" ry="2.8" fill="none" stroke="#e0d040" stroke-width="2.1" transform="rotate(20 480.7 307.0)"/>
<ellipse cx="523.9" cy="398.5" rx="7.4" ry="6.0" fill="none" stroke="#c82820" stroke-width="4.5" transform="rotate(115 523.9 398.5)"/>
<ellipse cx="502.5" cy="425.5" rx="4.8" ry="3.8" fill="none" stroke="#c82820" stroke-width="2.9" transform="rotate(166 502.5 425.5)"/>
<ellipse cx="595.3" cy="361.6" rx="6.9" ry="5.5" fill="none" stroke="#c82820" stroke-width="4.1" transform="rotate(111 595.3 361.6)"/>
<ellipse cx="546.9" cy="385.6" rx="6.7" ry="5.3" fill="none" stroke="#c82820" stroke-width="4.0" transform="rotate(122 546.9 385.6)"/>
<ellipse cx="510.5" cy="301.3" rx="5.4" ry="4.3" fill="none" stroke="#c82820" stroke-width="3.2" transform="rotate(59 510.5 301.3)"/>
</g>
<line x1="430.6" y1="276.0" x2="446.9" y2="295.2" stroke="#e8e8e8" stroke-width="1.1"/>
<line x1="446.9" y1="295.2" x2="445.9" y2="309.8" stroke="#e8e8e8" stroke-width="1.1"/>
<line x1="445.9" y1="309.8" x2="466.0" y2="309.8" stroke="#e8e8e8" stroke-width="1.1"/>
<line x1="466.0" y1="309.8" x2="477.2" y2="292.4" stroke="#e8e8e8" stroke-width="1.1"/>
<line x1="466.0" y1="309.8" x2="486.9" y2="328.9" stroke="#e8e8e8" stroke-width="1.1"/>
<line x1="486.9" y1="328.9" x2="496.0" y2="341.1" stroke="#e8e8e8" stroke-width="1.1"/>
<line x1="496.0" y1="341.1" x2="480.7" y2="351.5" stroke="#e8e8e8" stroke-width="1.1"/>
<line x1="494.6" y1="286.5" x2="496.0" y2="341.1" stroke="#e8e8e8" stroke-width="1.1"/>
<line x1="494.6" y1="286.5" x2="479.3" y2="269.8" stroke="#e8e8e8" stroke-width="1.1"/>
<line x1="494.6" y1="286.5" x2="509.5" y2="270.2" stroke="#e8e8e8" stroke-width="1.1"/>
<line x1="496.0" y1="341.1" x2="546.4" y2="395.3" stroke="#e8e8e8" stroke-width="1.1"/>
<line x1="546.4" y1="395.3" x2="542.6" y2="425.6" stroke="#e8e8e8" stroke-width="1.1"/>
<line x1="480.7" y1="351.5" x2="466.0" y2="407.2" stroke="#e8e8e8" stroke-width="1.1"/>
<line x1="466.0" y1="407.2" x2="445.2" y2="408.9" stroke="#e8e8e8" stroke-width="1.1"/>
<line x1="466.0" y1="407.2" x2="477.9" y2="418.0" stroke="#e8e8e8" stroke-width="1.1"/>
<line x1="486.9" y1="328.9" x2="480.7" y2="351.5" stroke="#e8e8e8" stroke-width="1.1"/>
<circle cx="430.6" cy="276" r="4.3" fill="#e23a2b" stroke="#fff" stroke-width="0.9"/>
<circle cx="479.3" cy="269.8" r="4.3" fill="#e23a2b" stroke="#fff" stroke-width="0.9"/>
<circle cx="446.9" cy="295.2" r="4.3" fill="#e23a2b" stroke="#fff" stroke-width="0.9"/>
<circle cx="494.6" cy="286.5" r="4.3" fill="#e23a2b" stroke="#fff" stroke-width="0.9"/>
<circle cx="496" cy="341.1" r="4.3" fill="#e23a2b" stroke="#fff" stroke-width="0.9"/>
<circle cx="546.4" cy="395.3" r="4.3" fill="#e23a2b" stroke="#fff" stroke-width="0.9"/>
<circle cx="477.9" cy="418" r="4.3" fill="#e23a2b" stroke="#fff" stroke-width="0.9"/>
<circle cx="542.6" cy="425.6" r="4.3" fill="#e23a2b" stroke="#fff" stroke-width="0.9"/>
<circle cx="509.5" cy="270.2" r="4.3" fill="#2aa6d8" stroke="#fff" stroke-width="0.9"/>
<circle cx="477.2" cy="292.4" r="4.3" fill="#2aa6d8" stroke="#fff" stroke-width="0.9"/>
<circle cx="445.9" cy="309.8" r="4.3" fill="#2aa6d8" stroke="#fff" stroke-width="0.9"/>
<circle cx="466" cy="309.8" r="4.3" fill="#2aa6d8" stroke="#fff" stroke-width="0.9"/>
<circle cx="486.9" cy="328.9" r="4.3" fill="#2aa6d8" stroke="#fff" stroke-width="0.9"/>
<circle cx="480.7" cy="351.5" r="4.3" fill="#2aa6d8" stroke="#fff" stroke-width="0.9"/>
<circle cx="445.2" cy="408.9" r="4.3" fill="#2aa6d8" stroke="#fff" stroke-width="0.9"/>
<circle cx="466" cy="407.2" r="4.3" fill="#2aa6d8" stroke="#fff" stroke-width="0.9"/>
<text x="561.0" y="284.0" font-size="15" fill="#9be2d6" textLength="17.0" lengthAdjust="spacingAndGlyphs">C1</text>
<path d="M580 279.5H598" stroke="#9be2d6" stroke-width="1"/><circle cx="589" cy="279.5" r="3" fill="#000" stroke="#9be2d6" stroke-width="1"/>
<rect x="1385.5" y="262.0" width="182.1" height="179.5" fill="#000"/>
<defs><clipPath id="sis"><rect x="1385.5" y="262" width="182.1" height="179.5"/></clipPath></defs><g clip-path="url(#sis)">
<path d="M1405.0 306.4Q1403.0 307.1 1401.9 305.8Q1400.7 304.4 1399.8 303.1Q1399.0 301.8 1399.9 300.1Q1400.7 298.3 1402.7 298.7Q1404.7 299.0 1406.4 300.2Q1408.2 301.4 1407.6 303.6Q1407.0 305.7 1405.0 306.4Z" fill="#0f6f7a" opacity="0.7"/>
<path d="M1458.4 265.4Q1460.2 266.3 1459.1 267.7Q1458.1 269.2 1455.3 269.5Q1452.5 269.7 1450.2 268.7Q1447.8 267.7 1449.1 266.3Q1450.4 265.0 1451.8 264.5Q1453.3 264.0 1454.9 264.2Q1456.5 264.5 1458.4 265.4Z" fill="#0f6f7a" opacity="0.7"/>
<path d="M1562.3 284.7Q1562.1 285.6 1561.8 286.1Q1561.5 286.7 1560.2 286.6Q1558.9 286.4 1557.9 285.9Q1556.9 285.4 1556.4 284.5Q1555.9 283.6 1557.6 283.7Q1559.3 283.8 1561.0 283.9Q1562.6 283.9 1562.3 284.7Z" fill="#0f6f7a" opacity="0.7"/>
<path d="M1518.4 366.7Q1517.0 367.2 1515.7 366.2Q1514.3 365.2 1514.6 363.4Q1514.8 361.7 1516.1 360.4Q1517.4 359.2 1519.7 359.0Q1522.1 358.7 1522.3 361.2Q1522.4 363.7 1521.1 364.9Q1519.9 366.2 1518.4 366.7Z" fill="#0f6f7a" opacity="0.7"/>
<path d="M1475.1 405.0Q1475.4 406.2 1474.9 407.9Q1474.4 409.6 1472.8 408.7Q1471.1 407.7 1470.0 406.8Q1468.9 405.9 1469.2 404.3Q1469.5 402.8 1471.1 402.5Q1472.6 402.2 1473.7 403.0Q1474.8 403.9 1475.1 405.0Z" fill="#0f6f7a" opacity="0.7"/>
<path d="M1392.7 433.9Q1390.8 435.9 1388.2 434.6Q1385.5 433.3 1385.2 430.7Q1384.9 428.1 1386.5 426.4Q1388.2 424.6 1390.5 424.6Q1392.9 424.6 1393.9 426.4Q1394.9 428.2 1394.8 430.1Q1394.6 432.0 1392.7 433.9Z" fill="#0f6f7a" opacity="0.7"/>
<path d="M1515.7 305.6Q1513.2 305.9 1511.8 303.9Q1510.5 301.9 1511.5 299.7Q1512.6 297.6 1513.9 296.3Q1515.2 295.1 1516.4 295.9Q1517.6 296.8 1518.0 298.2Q1518.4 299.6 1518.3 302.5Q1518.3 305.3 1515.7 305.6Z" fill="#0f6f7a" opacity="0.7"/>
<path d="M1488.2 433.6Q1485.9 432.9 1487.5 431.3Q1489.2 429.7 1491.3 429.6Q1493.3 429.5 1495.0 429.9Q1496.8 430.3 1496.7 431.7Q1496.5 433.0 1495.3 434.1Q1494.1 435.3 1492.4 434.8Q1490.6 434.4 1488.2 433.6Z" fill="#0f6f7a" opacity="0.7"/>
<path d="M1514.0 436.9Q1512.7 437.5 1511.1 436.7Q1509.5 435.9 1510.2 434.2Q1510.8 432.5 1511.9 431.0Q1512.9 429.6 1514.1 430.9Q1515.2 432.1 1516.8 433.1Q1518.3 434.2 1516.8 435.2Q1515.3 436.3 1514.0 436.9Z" fill="#0f6f7a" opacity="0.7"/>
<path d="M1388.4 421.1Q1386.6 420.3 1386.6 418.5Q1386.6 416.7 1387.4 415.1Q1388.2 413.5 1390.6 412.3Q1392.9 411.1 1394.7 413.0Q1396.6 415.0 1395.0 417.1Q1393.3 419.3 1391.8 420.5Q1390.2 421.8 1388.4 421.1Z" fill="#0f6f7a" opacity="0.7"/>
<path d="M1470.9 422.0Q1470.1 423.3 1468.9 423.3Q1467.7 423.3 1466.9 422.7Q1466.1 422.2 1465.2 421.0Q1464.4 419.8 1465.7 419.0Q1467.0 418.2 1468.5 418.0Q1470.1 417.7 1470.9 419.2Q1471.7 420.7 1470.9 422.0Z" fill="#0f6f7a" opacity="0.7"/>
<path d="M1522.8 282.2Q1520.5 282.1 1518.9 281.6Q1517.3 281.1 1515.5 279.2Q1513.7 277.3 1515.6 275.2Q1517.5 273.0 1520.0 274.2Q1522.4 275.3 1523.7 276.6Q1525.0 277.9 1525.1 280.1Q1525.2 282.3 1522.8 282.2Z" fill="#0f6f7a" opacity="0.7"/>
<path d="M1482.1 300.7Q1479.5 301.4 1477.6 302.2Q1475.7 302.9 1473.7 300.9Q1471.8 298.8 1473.2 296.8Q1474.6 294.7 1476.2 294.2Q1477.8 293.7 1480.2 293.8Q1482.6 294.0 1483.6 297.0Q1484.6 300.0 1482.1 300.7Z" fill="#0f6f7a" opacity="0.7"/>
<path d="M1459.5 346.9Q1458.9 348.7 1457.7 349.5Q1456.4 350.3 1454.8 350.0Q1453.1 349.6 1452.4 348.3Q1451.7 347.0 1451.9 345.5Q1452.0 344.0 1453.8 344.0Q1455.5 343.9 1457.8 344.5Q1460.1 345.0 1459.5 346.9Z" fill="#0f6f7a" opacity="0.7"/>
<path d="M1450.2 432.1Q1450.6 433.8 1448.9 434.5Q1447.2 435.2 1445.0 434.5Q1442.8 433.8 1442.3 432.2Q1441.8 430.5 1441.9 429.0Q1441.9 427.4 1444.1 427.2Q1446.2 426.9 1448.0 428.6Q1449.7 430.3 1450.2 432.1Z" fill="#0f6f7a" opacity="0.7"/>
<path d="M1434.2 427.8Q1432.5 426.3 1431.2 425.3Q1430.0 424.3 1430.8 423.1Q1431.7 421.9 1433.1 420.7Q1434.4 419.4 1435.8 420.9Q1437.2 422.4 1437.0 423.9Q1436.7 425.3 1436.3 427.3Q1435.8 429.3 1434.2 427.8Z" fill="#0f6f7a" opacity="0.7"/>
<path d="M1525.2 371.4Q1524.6 370.4 1525.1 369.4Q1525.6 368.4 1527.6 368.0Q1529.6 367.7 1531.1 368.3Q1532.7 368.9 1532.1 369.9Q1531.5 370.8 1530.8 372.1Q1530.2 373.3 1528.0 372.9Q1525.8 372.4 1525.2 371.4Z" fill="#0f6f7a" opacity="0.7"/>
<path d="M1454.4 417.0Q1453.2 415.0 1454.0 413.3Q1454.7 411.5 1456.2 410.2Q1457.8 408.9 1460.1 409.3Q1462.5 409.7 1463.5 412.1Q1464.6 414.5 1462.8 416.7Q1461.1 418.8 1458.3 418.9Q1455.6 418.9 1454.4 417.0Z" fill="#0f6f7a" opacity="0.7"/>
<path d="M1494.6 383.9Q1493.5 384.2 1493.0 383.1Q1492.5 382.1 1492.1 380.4Q1491.8 378.7 1492.7 376.8Q1493.6 374.8 1494.6 375.8Q1495.5 376.8 1496.2 378.1Q1496.9 379.4 1496.3 381.6Q1495.7 383.7 1494.6 383.9Z" fill="#0f6f7a" opacity="0.7"/>
<path d="M1507.6 419.0Q1506.5 419.8 1505.8 418.7Q1505.1 417.6 1505.4 415.4Q1505.7 413.3 1507.1 412.6Q1508.5 411.9 1509.8 411.6Q1511.2 411.4 1511.6 413.4Q1512.0 415.4 1510.4 416.8Q1508.8 418.2 1507.6 419.0Z" fill="#0f6f7a" opacity="0.7"/>
<path d="M1541.0 386.6Q1540.9 388.2 1540.5 390.3Q1540.1 392.4 1537.9 391.9Q1535.7 391.3 1535.1 389.7Q1534.6 388.0 1535.0 386.7Q1535.3 385.5 1536.6 384.5Q1537.8 383.5 1539.5 384.2Q1541.2 384.9 1541.0 386.6Z" fill="#0f6f7a" opacity="0.7"/>
<path d="M1562.6 303.2Q1560.7 304.2 1560.0 302.0Q1559.3 299.7 1558.5 297.8Q1557.6 295.8 1559.3 294.2Q1560.9 292.5 1562.4 293.5Q1563.8 294.5 1564.2 296.1Q1564.6 297.6 1564.6 299.8Q1564.6 302.1 1562.6 303.2Z" fill="#0f6f7a" opacity="0.7"/>
<path d="M1537.6 327.7Q1536.5 327.9 1535.9 326.9Q1535.2 325.9 1535.9 324.8Q1536.6 323.8 1537.5 323.3Q1538.4 322.8 1539.3 323.2Q1540.2 323.6 1540.8 324.9Q1541.3 326.1 1540.0 326.8Q1538.7 327.4 1537.6 327.7Z" fill="#0f6f7a" opacity="0.7"/>
<path d="M1422.9 347.8Q1422.0 347.8 1421.5 346.9Q1421.0 346.1 1422.1 345.1Q1423.2 344.1 1424.3 343.3Q1425.5 342.5 1426.4 343.1Q1427.3 343.7 1426.7 345.1Q1426.1 346.5 1425.0 347.2Q1423.8 347.9 1422.9 347.8Z" fill="#0f6f7a" opacity="0.7"/>
<path d="M1396.7 316.6Q1395.7 317.3 1394.8 316.3Q1393.9 315.3 1393.0 314.0Q1392.0 312.7 1392.1 310.7Q1392.3 308.6 1393.6 308.6Q1394.9 308.7 1395.8 310.2Q1396.7 311.8 1397.2 313.8Q1397.7 315.8 1396.7 316.6Z" fill="#0f6f7a" opacity="0.7"/>
<path d="M1549.3 431.7Q1547.2 430.1 1548.7 427.9Q1550.2 425.7 1552.2 425.2Q1554.2 424.7 1556.5 425.1Q1558.7 425.6 1559.6 428.1Q1560.4 430.6 1558.2 431.9Q1555.9 433.2 1553.7 433.3Q1551.5 433.4 1549.3 431.7Z" fill="#0f6f7a" opacity="0.7"/>
<path d="M1406.5 272.2Q1406.6 273.6 1406.0 274.9Q1405.4 276.2 1403.6 276.9Q1401.8 277.7 1401.3 275.7Q1400.9 273.8 1401.3 272.6Q1401.8 271.5 1402.7 270.9Q1403.7 270.4 1405.1 270.6Q1406.4 270.8 1406.5 272.2Z" fill="#0f6f7a" opacity="0.7"/>
<path d="M1392.8 380.9Q1393.1 381.6 1392.3 382.0Q1391.6 382.4 1390.6 382.3Q1389.6 382.3 1388.9 381.7Q1388.1 381.1 1388.2 380.4Q1388.4 379.8 1389.3 379.3Q1390.2 378.8 1391.4 379.4Q1392.6 380.1 1392.8 380.9Z" fill="#0f6f7a" opacity="0.7"/>
<path d="M1420.6 271.8Q1419.3 269.1 1420.4 266.8Q1421.6 264.5 1423.8 263.8Q1425.9 263.1 1427.5 264.3Q1429.2 265.5 1430.0 267.6Q1430.7 269.6 1429.2 271.3Q1427.6 273.0 1424.8 273.8Q1422.0 274.5 1420.6 271.8Z" fill="#0f6f7a" opacity="0.7"/>
<path d="M1424.7 389.3Q1423.1 389.2 1422.0 388.2Q1420.9 387.2 1420.7 385.2Q1420.5 383.2 1422.3 381.8Q1424.1 380.4 1426.6 380.7Q1429.0 381.0 1429.5 383.7Q1429.9 386.5 1428.1 387.9Q1426.2 389.3 1424.7 389.3Z" fill="#0f6f7a" opacity="0.7"/>
<path d="M1417.3 398.5Q1417.9 399.4 1417.2 400.5Q1416.5 401.7 1415.5 401.0Q1414.4 400.3 1414.0 399.7Q1413.5 399.0 1413.4 397.9Q1413.2 396.8 1414.4 396.2Q1415.5 395.6 1416.1 396.6Q1416.7 397.6 1417.3 398.5Z" fill="#40dcec"/>
<path d="M1475.3 400.8Q1476.3 402.3 1475.2 403.7Q1474.1 405.1 1472.0 405.2Q1470.0 405.4 1468.2 404.5Q1466.4 403.7 1466.4 402.0Q1466.5 400.4 1468.3 399.6Q1470.1 398.7 1472.2 399.0Q1474.2 399.4 1475.3 400.8Z" fill="#40dcec"/>
<path d="M1485.3 400.8Q1484.2 400.8 1484.0 399.8Q1483.9 398.7 1485.3 397.5Q1486.7 396.3 1488.2 395.8Q1489.6 395.2 1490.4 395.9Q1491.1 396.6 1490.3 398.0Q1489.6 399.5 1488.0 400.2Q1486.4 400.8 1485.3 400.8Z" fill="#40dcec"/>
<path d="M1443.6 344.0Q1444.4 345.1 1443.7 346.5Q1442.9 347.9 1441.0 347.7Q1439.0 347.4 1438.1 346.2Q1437.1 344.9 1437.1 343.4Q1437.1 341.9 1438.8 341.7Q1440.6 341.6 1441.7 342.2Q1442.8 342.9 1443.6 344.0Z" fill="#40dcec"/>
<path d="M1497.1 310.1Q1496.0 310.5 1495.1 310.0Q1494.1 309.5 1493.3 308.2Q1492.5 306.9 1493.6 305.7Q1494.7 304.6 1496.3 304.3Q1498.0 304.1 1498.9 305.6Q1499.8 307.2 1499.0 308.4Q1498.2 309.7 1497.1 310.1Z" fill="#40dcec"/>
<path d="M1515.9 417.0Q1515.6 419.1 1514.1 420.1Q1512.6 421.2 1510.2 421.8Q1507.7 422.4 1506.8 419.8Q1505.9 417.3 1507.2 415.1Q1508.5 412.9 1510.7 413.0Q1512.8 413.1 1514.5 414.0Q1516.2 415.0 1515.9 417.0Z" fill="#40dcec"/>
<path d="M1505.7 274.5Q1503.3 273.7 1504.3 271.3Q1505.4 269.0 1507.4 268.2Q1509.3 267.4 1511.2 267.8Q1513.1 268.3 1513.9 270.1Q1514.7 271.9 1513.6 273.9Q1512.5 275.8 1510.3 275.6Q1508.2 275.3 1505.7 274.5Z" fill="#40dcec"/>
<path d="M1436.5 355.7Q1434.8 355.5 1435.6 354.3Q1436.4 353.0 1438.2 352.1Q1440.0 351.3 1442.2 351.2Q1444.3 351.1 1444.1 352.4Q1443.9 353.6 1442.6 354.6Q1441.2 355.6 1439.7 355.7Q1438.1 355.8 1436.5 355.7Z" fill="#40dcec"/>
<path d="M1450.5 278.9Q1449.5 280.2 1448.0 279.7Q1446.6 279.2 1445.4 278.1Q1444.2 277.1 1445.0 275.9Q1445.8 274.7 1446.6 273.4Q1447.5 272.2 1449.0 273.1Q1450.5 274.1 1451.0 275.8Q1451.4 277.5 1450.5 278.9Z" fill="#40dcec"/>
<path d="M1527.8 356.1Q1526.9 355.3 1527.0 353.9Q1527.2 352.5 1528.6 352.1Q1530.0 351.7 1531.4 352.3Q1532.7 353.0 1533.0 354.6Q1533.4 356.1 1532.1 357.1Q1530.9 358.0 1529.8 357.4Q1528.6 356.9 1527.8 356.1Z" fill="#40dcec"/>
<path d="M1468.1 360.2Q1467.0 360.9 1465.9 361.3Q1464.9 361.6 1463.7 360.8Q1462.5 360.0 1462.7 358.5Q1463.0 357.0 1464.2 356.6Q1465.4 356.3 1466.6 356.6Q1467.8 357.0 1468.5 358.3Q1469.2 359.6 1468.1 360.2Z" fill="#40dcec"/>
<path d="M1539.9 285.1Q1539.4 286.0 1538.6 286.3Q1537.8 286.7 1536.9 286.1Q1536.0 285.4 1535.8 284.6Q1535.6 283.8 1535.8 282.9Q1536.1 282.1 1537.2 282.2Q1538.4 282.4 1539.4 283.3Q1540.4 284.3 1539.9 285.1Z" fill="#40dcec"/>
<path d="M1551.6 430.8Q1550.3 430.7 1549.5 429.8Q1548.6 428.8 1548.8 426.9Q1548.9 424.9 1550.4 423.9Q1551.9 422.8 1553.3 423.1Q1554.8 423.3 1554.8 425.3Q1554.9 427.3 1553.9 429.1Q1552.8 430.8 1551.6 430.8Z" fill="#40dcec"/>
<path d="M1559.2 394.2Q1557.9 392.8 1558.8 391.1Q1559.7 389.5 1561.6 388.6Q1563.4 387.7 1564.7 389.1Q1565.9 390.5 1567.0 392.3Q1568.1 394.0 1566.2 395.2Q1564.2 396.4 1562.3 396.0Q1560.4 395.6 1559.2 394.2Z" fill="#40dcec"/>
<path d="M1508.5 390.8Q1507.1 390.6 1506.1 390.3Q1505.0 390.1 1505.2 388.5Q1505.4 387.0 1505.8 385.2Q1506.2 383.5 1507.3 384.2Q1508.4 385.0 1509.0 386.0Q1509.7 387.1 1509.8 389.1Q1509.9 391.1 1508.5 390.8Z" fill="#40dcec"/>
<path d="M1513.8 305.4Q1512.9 305.8 1511.8 306.0Q1510.7 306.1 1509.9 305.1Q1509.1 304.1 1509.9 303.0Q1510.7 301.9 1511.9 301.9Q1513.1 301.9 1514.1 302.4Q1515.1 302.9 1514.9 304.0Q1514.8 305.1 1513.8 305.4Z" fill="#40dcec"/>
<path d="M1552.9 404.8Q1552.1 404.0 1552.0 403.0Q1552.0 402.1 1552.6 401.0Q1553.1 399.9 1554.5 399.8Q1555.9 399.7 1556.4 400.8Q1556.9 401.9 1556.6 403.2Q1556.2 404.4 1555.0 405.0Q1553.7 405.6 1552.9 404.8Z" fill="#40dcec"/>
<path d="M1514.3 284.5Q1514.4 285.8 1513.0 285.8Q1511.6 285.8 1510.1 285.0Q1508.6 284.2 1508.3 282.9Q1508.1 281.7 1508.8 281.2Q1509.4 280.7 1510.4 281.1Q1511.4 281.5 1512.8 282.3Q1514.1 283.1 1514.3 284.5Z" fill="#40dcec"/>
<path d="M1537.6 393.4Q1536.9 392.4 1536.8 391.1Q1536.8 389.9 1537.9 388.7Q1539.0 387.4 1540.1 388.6Q1541.2 389.7 1542.1 390.8Q1542.9 391.8 1542.2 393.1Q1541.4 394.5 1539.9 394.5Q1538.3 394.5 1537.6 393.4Z" fill="#40dcec"/>
<path d="M1550.6 353.3Q1550.6 354.3 1549.6 354.2Q1548.6 354.1 1547.5 353.3Q1546.3 352.5 1546.4 351.2Q1546.5 349.9 1547.3 349.2Q1548.1 348.5 1549.3 349.2Q1550.4 350.0 1550.5 351.1Q1550.6 352.2 1550.6 353.3Z" fill="#40dcec"/>
<path d="M1417.5 291.2Q1415.6 290.5 1415.8 288.6Q1415.9 286.6 1417.8 285.2Q1419.7 283.7 1421.3 284.2Q1423.0 284.6 1423.3 285.7Q1423.7 286.7 1423.5 288.2Q1423.2 289.6 1421.3 290.8Q1419.3 291.9 1417.5 291.2Z" fill="#40dcec"/>
<path d="M1543.1 281.7Q1542.1 281.4 1541.4 280.9Q1540.6 280.4 1540.8 279.1Q1541.0 277.8 1541.9 277.0Q1542.9 276.1 1543.9 276.4Q1545.0 276.7 1544.7 278.0Q1544.5 279.3 1544.3 280.6Q1544.1 282.0 1543.1 281.7Z" fill="#40dcec"/>
<path d="M1404.4 372.6Q1404.8 374.2 1403.3 373.9Q1401.8 373.6 1400.7 372.4Q1399.6 371.1 1399.4 370.0Q1399.1 368.9 1399.3 367.7Q1399.4 366.5 1400.9 367.6Q1402.3 368.7 1403.1 369.8Q1404.0 371.0 1404.4 372.6Z" fill="#d8c020"/>
<path d="M1436.9 358.8Q1436.7 359.5 1436.0 360.0Q1435.2 360.4 1434.4 359.4Q1433.6 358.4 1433.1 357.3Q1432.7 356.1 1433.4 355.4Q1434.2 354.6 1435.4 355.1Q1436.7 355.7 1436.9 356.9Q1437.1 358.1 1436.9 358.8Z" fill="#d8c020"/>
<path d="M1508.3 291.2Q1507.7 291.6 1506.9 291.2Q1506.2 290.9 1505.8 289.8Q1505.4 288.7 1506.2 287.9Q1507.0 287.0 1507.9 287.5Q1508.7 288.0 1509.7 288.6Q1510.7 289.2 1509.8 290.0Q1508.9 290.8 1508.3 291.2Z" fill="#d8c020"/>
<path d="M1460.6 373.8Q1459.7 374.7 1459.3 373.4Q1458.8 372.1 1458.8 371.1Q1458.7 370.2 1459.1 369.2Q1459.5 368.3 1460.4 367.7Q1461.3 367.1 1461.3 368.7Q1461.2 370.4 1461.3 371.6Q1461.4 372.9 1460.6 373.8Z" fill="#d8c020"/>
<path d="M1504.3 431.1Q1503.1 432.1 1501.6 431.7Q1500.2 431.4 1499.8 430.0Q1499.4 428.5 1499.9 427.3Q1500.4 426.1 1501.6 426.3Q1502.7 426.5 1503.6 427.0Q1504.4 427.5 1504.9 428.8Q1505.5 430.1 1504.3 431.1Z" fill="#d8c020"/>
<path d="M1499.8 312.6Q1498.5 312.3 1498.1 310.8Q1497.6 309.4 1498.9 308.8Q1500.2 308.1 1501.3 307.9Q1502.5 307.7 1503.6 308.6Q1504.8 309.5 1504.3 311.0Q1503.8 312.5 1502.4 312.7Q1501.1 313.0 1499.8 312.6Z" fill="#d8c020"/>
<path d="M1459.4 416.5Q1458.7 417.4 1457.7 417.3Q1456.6 417.3 1455.6 416.0Q1454.5 414.7 1454.9 413.6Q1455.2 412.5 1455.9 412.1Q1456.5 411.8 1457.8 411.9Q1459.1 412.0 1459.5 413.8Q1460.0 415.6 1459.4 416.5Z" fill="#d8c020"/>
<path d="M1395.2 345.7Q1395.8 347.4 1394.2 347.9Q1392.5 348.3 1390.9 347.2Q1389.2 346.0 1388.4 344.5Q1387.5 342.9 1388.3 341.8Q1389.2 340.7 1390.9 341.0Q1392.7 341.3 1393.7 342.7Q1394.7 344.0 1395.2 345.7Z" fill="#d8c020"/>
<path d="M1454.0 308.1Q1453.1 308.1 1453.5 307.3Q1453.8 306.4 1454.4 305.6Q1455.1 304.9 1456.5 304.1Q1457.9 303.4 1458.2 304.2Q1458.6 305.1 1457.7 306.1Q1456.8 307.2 1455.9 307.6Q1454.9 308.0 1454.0 308.1Z" fill="#d8c020"/>
<path d="M1456.5 365.1Q1455.1 364.8 1455.3 363.3Q1455.6 361.9 1456.6 360.2Q1457.7 358.5 1459.0 358.7Q1460.4 359.0 1461.0 359.6Q1461.5 360.2 1461.0 361.3Q1460.5 362.4 1459.2 363.9Q1457.9 365.4 1456.5 365.1Z" fill="#d8c020"/>
<path d="M1536.0 306.5Q1534.1 305.9 1533.4 303.8Q1532.8 301.8 1535.1 299.6Q1537.4 297.3 1540.2 297.1Q1543.1 296.8 1545.0 298.5Q1546.8 300.2 1545.0 303.0Q1543.2 305.8 1540.5 306.4Q1537.8 307.1 1536.0 306.5Z" fill="#e82020"/>
<path d="M1454.8 317.0Q1453.2 318.0 1451.0 317.6Q1448.8 317.3 1448.8 314.3Q1448.8 311.4 1450.0 309.4Q1451.2 307.3 1453.1 307.4Q1455.0 307.4 1456.3 309.3Q1457.6 311.3 1457.0 313.7Q1456.4 316.0 1454.8 317.0Z" fill="#e82020"/>
<path d="M1473.7 272.4Q1472.9 273.5 1471.6 273.0Q1470.3 272.6 1469.1 270.9Q1467.8 269.3 1467.8 266.9Q1467.7 264.4 1469.5 265.0Q1471.2 265.7 1473.3 265.9Q1475.3 266.1 1475.0 268.7Q1474.6 271.4 1473.7 272.4Z" fill="#e82020"/>
<path d="M1437.9 312.6Q1434.9 310.5 1436.2 306.7Q1437.4 302.8 1441.0 303.3Q1444.6 303.8 1447.1 304.9Q1449.6 306.0 1451.5 309.4Q1453.4 312.9 1449.9 314.8Q1446.4 316.7 1443.6 315.6Q1440.8 314.6 1437.9 312.6Z" fill="#e82020"/>
<path d="M1460.0 350.5Q1458.4 351.7 1455.8 351.3Q1453.3 350.8 1452.5 347.7Q1451.7 344.7 1453.8 342.8Q1455.8 340.8 1458.8 339.5Q1461.8 338.1 1462.9 341.5Q1464.0 344.8 1462.9 347.0Q1461.7 349.2 1460.0 350.5Z" fill="#e82020"/>
<path d="M1455.0 361.3Q1452.6 359.9 1451.2 358.0Q1449.7 356.0 1450.8 353.5Q1451.9 351.0 1454.4 351.4Q1456.8 351.7 1459.5 352.2Q1462.2 352.7 1460.6 355.0Q1458.9 357.4 1458.1 360.0Q1457.3 362.7 1455.0 361.3Z" fill="#e82020"/>
<path d="M1524.6 405.8Q1523.8 407.4 1522.5 408.8Q1521.1 410.3 1519.6 409.0Q1518.1 407.6 1517.1 405.8Q1516.1 403.9 1517.7 402.5Q1519.4 401.1 1521.5 400.9Q1523.5 400.7 1524.5 402.5Q1525.5 404.3 1524.6 405.8Z" fill="#e82020"/>
<path d="M1557.9 379.7Q1556.3 379.8 1554.3 379.6Q1552.4 379.3 1552.5 376.2Q1552.6 373.0 1554.3 370.9Q1556.0 368.7 1557.9 369.3Q1559.8 369.8 1560.8 372.2Q1561.7 374.6 1560.6 377.1Q1559.5 379.6 1557.9 379.7Z" fill="#e82020"/>
<path d="M1565.5 286.1Q1565.3 287.4 1564.7 289.0Q1564.1 290.5 1561.8 290.1Q1559.4 289.8 1557.8 287.9Q1556.2 286.0 1557.2 284.3Q1558.3 282.5 1560.5 281.9Q1562.8 281.3 1564.2 283.0Q1565.6 284.8 1565.5 286.1Z" fill="#e82020"/>
<path d="M1435.8 350.0Q1435.3 351.1 1434.1 351.2Q1432.9 351.3 1431.9 349.5Q1430.9 347.7 1430.6 346.2Q1430.2 344.6 1431.3 344.6Q1432.3 344.6 1433.6 344.8Q1434.9 345.0 1435.6 346.9Q1436.3 348.9 1435.8 350.0Z" fill="#e82020"/>
<path d="M1457.9 272.9Q1456.1 272.1 1454.4 270.2Q1452.8 268.3 1455.5 265.8Q1458.1 263.4 1460.8 263.0Q1463.6 262.7 1464.9 264.4Q1466.1 266.2 1465.1 268.5Q1464.1 270.8 1461.9 272.3Q1459.7 273.7 1457.9 272.9Z" fill="#e82020"/>
<path d="M1445.2 364.0Q1444.6 362.8 1444.9 361.8Q1445.1 360.9 1445.8 359.2Q1446.5 357.6 1448.0 358.0Q1449.4 358.3 1450.6 358.8Q1451.9 359.3 1450.5 360.8Q1449.2 362.2 1447.5 363.7Q1445.9 365.1 1445.2 364.0Z" fill="#e82020"/>
<ellipse cx="1411.7" cy="310.1" rx="5.5" ry="4.4" fill="none" stroke="#2ab8c8" stroke-width="3.3" transform="rotate(31 1411.7 310.1)"/>
<ellipse cx="1451.1" cy="337.0" rx="5.9" ry="4.8" fill="none" stroke="#2ab8c8" stroke-width="3.6" transform="rotate(117 1451.1 337.0)"/>
<ellipse cx="1472.3" cy="311.3" rx="3.7" ry="3.0" fill="none" stroke="#2ab8c8" stroke-width="2.2" transform="rotate(176 1472.3 311.3)"/>
<ellipse cx="1451.2" cy="287.1" rx="4.8" ry="3.8" fill="none" stroke="#2ab8c8" stroke-width="2.9" transform="rotate(22 1451.2 287.1)"/>
<ellipse cx="1458.7" cy="303.2" rx="5.4" ry="4.3" fill="none" stroke="#2ab8c8" stroke-width="3.2" transform="rotate(92 1458.7 303.2)"/>
<ellipse cx="1556.2" cy="426.9" rx="4.4" ry="3.5" fill="none" stroke="#2ab8c8" stroke-width="2.7" transform="rotate(106 1556.2 426.9)"/>
<ellipse cx="1413.8" cy="434.6" rx="6.1" ry="4.9" fill="none" stroke="#2ab8c8" stroke-width="3.6" transform="rotate(78 1413.8 434.6)"/>
<ellipse cx="1516.7" cy="302.9" rx="3.5" ry="2.8" fill="none" stroke="#2ab8c8" stroke-width="2.1" transform="rotate(4 1516.7 302.9)"/>
</g>
<line x1="1555.6" y1="265.5" x2="1541.9" y2="273.2" stroke="#e8e8e8" stroke-width="1"/>
<line x1="1541.9" y1="273.2" x2="1524.3" y2="285.3" stroke="#e8e8e8" stroke-width="1"/>
<line x1="1524.3" y1="285.3" x2="1550.5" y2="293.0" stroke="#e8e8e8" stroke-width="1"/>
<line x1="1550.5" y1="293.0" x2="1559.0" y2="306.8" stroke="#e8e8e8" stroke-width="1"/>
<line x1="1559.0" y1="306.8" x2="1548.8" y2="312.0" stroke="#e8e8e8" stroke-width="1"/>
<line x1="1559.0" y1="306.8" x2="1559.0" y2="322.3" stroke="#e8e8e8" stroke-width="1"/>
<line x1="1548.8" y1="312.0" x2="1525.5" y2="342.0" stroke="#e8e8e8" stroke-width="1"/>
<line x1="1525.5" y1="342.0" x2="1513.5" y2="332.6" stroke="#e8e8e8" stroke-width="1"/>
<line x1="1525.5" y1="342.0" x2="1533.3" y2="355.0" stroke="#e8e8e8" stroke-width="1"/>
<line x1="1513.5" y1="332.6" x2="1501.4" y2="330.9" stroke="#e8e8e8" stroke-width="1"/>
<line x1="1533.3" y1="355.0" x2="1544.5" y2="362.7" stroke="#e8e8e8" stroke-width="1"/>
<line x1="1525.5" y1="342.0" x2="1548.8" y2="312.0" stroke="#e8e8e8" stroke-width="1"/>
<line x1="1403.8" y1="330.0" x2="1411.9" y2="355.9" stroke="#e8e8e8" stroke-width="1"/>
<line x1="1411.9" y1="355.9" x2="1399.8" y2="388.6" stroke="#e8e8e8" stroke-width="1"/>
<line x1="1399.8" y1="388.6" x2="1411.9" y2="405.8" stroke="#e8e8e8" stroke-width="1"/>
<line x1="1411.9" y1="405.8" x2="1437.7" y2="397.2" stroke="#e8e8e8" stroke-width="1"/>
<line x1="1437.7" y1="397.2" x2="1452.3" y2="388.6" stroke="#e8e8e8" stroke-width="1"/>
<line x1="1452.3" y1="388.6" x2="1459.2" y2="405.0" stroke="#e8e8e8" stroke-width="1"/>
<line x1="1452.3" y1="388.6" x2="1461.8" y2="362.7" stroke="#e8e8e8" stroke-width="1"/>
<line x1="1447.2" y1="417.8" x2="1436.8" y2="428.2" stroke="#e8e8e8" stroke-width="1"/>
<line x1="1436.8" y1="428.2" x2="1473.9" y2="437.6" stroke="#e8e8e8" stroke-width="1"/>
<line x1="1459.2" y1="405.0" x2="1447.2" y2="417.8" stroke="#e8e8e8" stroke-width="1"/>
<line x1="1461.8" y1="362.7" x2="1477.3" y2="357.6" stroke="#e8e8e8" stroke-width="1"/>
<line x1="1477.3" y1="357.6" x2="1492.8" y2="362.7" stroke="#e8e8e8" stroke-width="1"/>
<line x1="1492.8" y1="362.7" x2="1502.3" y2="368.8" stroke="#e8e8e8" stroke-width="1"/>
<line x1="1485.4" y1="375.7" x2="1503.1" y2="377.4" stroke="#e8e8e8" stroke-width="1"/>
<line x1="1503.1" y1="377.4" x2="1501.4" y2="387.7" stroke="#e8e8e8" stroke-width="1"/>
<line x1="1501.4" y1="387.7" x2="1516.9" y2="398.9" stroke="#e8e8e8" stroke-width="1"/>
<line x1="1516.9" y1="398.9" x2="1522.9" y2="424.7" stroke="#e8e8e8" stroke-width="1"/>
<line x1="1522.9" y1="424.7" x2="1510.0" y2="433.3" stroke="#e8e8e8" stroke-width="1"/>
<line x1="1485.4" y1="375.7" x2="1502.3" y2="368.8" stroke="#e8e8e8" stroke-width="1"/>
<circle cx="1555.6" cy="265.5" r="3.6" fill="#a8dcee" stroke="#fff" stroke-width="0.9"/>
<circle cx="1541.9" cy="273.2" r="3.6" fill="#a8dcee" stroke="#fff" stroke-width="0.9"/>
<circle cx="1524.3" cy="285.3" r="3.6" fill="#a8dcee" stroke="#fff" stroke-width="0.9"/>
<circle cx="1550.5" cy="293" r="3.6" fill="#a8dcee" stroke="#fff" stroke-width="0.9"/>
<circle cx="1559" cy="306.8" r="3.6" fill="#a8dcee" stroke="#fff" stroke-width="0.9"/>
<circle cx="1548.8" cy="312" r="3.6" fill="#f4d81a" stroke="#fff" stroke-width="0.9"/>
<circle cx="1566" cy="312" r="3.6" fill="#e23a2b" stroke="#fff" stroke-width="0.9"/>
<circle cx="1559" cy="322.3" r="3.6" fill="#e23a2b" stroke="#fff" stroke-width="0.9"/>
<circle cx="1525.5" cy="342" r="3.6" fill="#a8dcee" stroke="#fff" stroke-width="0.9"/>
<circle cx="1513.5" cy="332.6" r="3.6" fill="#e23a2b" stroke="#fff" stroke-width="0.9"/>
<circle cx="1501.4" cy="330.9" r="3.6" fill="#b6eadc" stroke="#fff" stroke-width="0.9"/>
<circle cx="1500.5" cy="339.5" r="3.6" fill="#e23a2b" stroke="#fff" stroke-width="0.9"/>
<circle cx="1517.8" cy="352.4" r="3.6" fill="#e23a2b" stroke="#fff" stroke-width="0.9"/>
<circle cx="1533.3" cy="355" r="3.6" fill="#a8dcee" stroke="#fff" stroke-width="0.9"/>
<circle cx="1544.5" cy="362.7" r="3.6" fill="#f4d81a" stroke="#fff" stroke-width="0.9"/>
<circle cx="1403.8" cy="330" r="3.6" fill="#a8dcee" stroke="#fff" stroke-width="0.9"/>
<circle cx="1411.9" cy="355.9" r="3.6" fill="#a8dcee" stroke="#fff" stroke-width="0.9"/>
<circle cx="1399.8" cy="388.6" r="3.6" fill="#a8dcee" stroke="#fff" stroke-width="0.9"/>
<circle cx="1411.9" cy="405.8" r="3.6" fill="#e23a2b" stroke="#fff" stroke-width="0.9"/>
<circle cx="1437.7" cy="397.2" r="3.6" fill="#a8dcee" stroke="#fff" stroke-width="0.9"/>
<circle cx="1452.3" cy="388.6" r="3.6" fill="#e23a2b" stroke="#fff" stroke-width="0.9"/>
<circle cx="1459.2" cy="405" r="3.6" fill="#b6eadc" stroke="#fff" stroke-width="0.9"/>
<circle cx="1447.2" cy="417.8" r="3.6" fill="#e23a2b" stroke="#fff" stroke-width="0.9"/>
<circle cx="1436.8" cy="428.2" r="3.6" fill="#e23a2b" stroke="#fff" stroke-width="0.9"/>
<circle cx="1473.9" cy="437.6" r="3.6" fill="#b6eadc" stroke="#fff" stroke-width="0.9"/>
<circle cx="1461.8" cy="362.7" r="3.6" fill="#a8dcee" stroke="#fff" stroke-width="0.9"/>
<circle cx="1477.3" cy="357.6" r="3.6" fill="#f4d81a" stroke="#fff" stroke-width="0.9"/>
<circle cx="1492.8" cy="362.7" r="3.6" fill="#f4d81a" stroke="#fff" stroke-width="0.9"/>
<circle cx="1502.3" cy="368.8" r="3.6" fill="#f4d81a" stroke="#fff" stroke-width="0.9"/>
<circle cx="1485.4" cy="375.7" r="3.6" fill="#b6eadc" stroke="#fff" stroke-width="0.9"/>
<circle cx="1503.1" cy="377.4" r="3.6" fill="#e23a2b" stroke="#fff" stroke-width="0.9"/>
<circle cx="1501.4" cy="387.7" r="3.6" fill="#e23a2b" stroke="#fff" stroke-width="0.9"/>
<circle cx="1516.9" cy="398.9" r="3.6" fill="#e23a2b" stroke="#fff" stroke-width="0.9"/>
<circle cx="1522.9" cy="424.7" r="3.6" fill="#e23a2b" stroke="#fff" stroke-width="0.9"/>
<circle cx="1510" cy="433.3" r="3.6" fill="#a8dcee" stroke="#fff" stroke-width="0.9"/>
<circle cx="1448" cy="265.5" r="3.6" fill="#e23a2b" stroke="#fff" stroke-width="0.9"/>
<circle cx="1388.6" cy="283.5" r="3.6" fill="#e23a2b" stroke="#fff" stroke-width="0.9"/>
<path d="M1448 265.5L1388.6 283.5" stroke="#ddd" stroke-width="1" stroke-dasharray="3 2"/>
<text x="1529.0" y="426.5" font-size="14" fill="#c9c2ea">C3</text>
<text x="1529.0" y="442.0" font-size="14" fill="#a8e8d8">C1</text>
<path d="M1546 422.5H1565M1546 437.5H1565" stroke="#ccc" stroke-width="1"/><circle cx="1555" cy="422.5" r="2.6" fill="#000" stroke="#ccc"/><circle cx="1555" cy="437.5" r="2.6" fill="#000" stroke="#ccc"/>
<defs>
<path id="a0" d="M533 606h0m8-2h0m30 4h0m-16 5h0m73 32h0m-434-6h0m313 10h0m137 7h0m-1 11h0m-116-7h0m-297 7h0m-8 5h0m221 8h0m126-4h0m110-2h0m-59 21h0m-14-6h0m-9 3h0m-53 2h0m-12-9h0m-9 0h0m-109 10h0m-189-4h0m126 15h0m116-7h0m45 6h0m79-9h0m70 11h0m42 6h0m-1-4h0m-40 4h0m-14 4h0m-63-2h0m-74 2h0m-46-2h0m-19-1h0m-43-3h0m-44 4h0m-3 1h0m-46 0h0m-48-1h0m-127 10h0m65 4h0m58-7h0m28 6h0m49-7h0m94 9h0m153-8h0m48-1h0m16 0h0m31 5h0m4 4h0m3-2h0m26 10h0m-35-6h0m-8 12h0m-9-3h0m-6-8h0m-144 11h0m-13-9h0m-37-3h0m-30 7h0m-62-2h0m-2 1h0m-147-4h0m-5 5h0m31 9h0m31 7h0m84-7h0m64 6h0m67-5h0m46-4h0m75-1h0m67 10h0m17 5h0m-20 3h0m-116-1h0m-19-1h0m-52 2h0m-15-1h0m-293 4h0m-50-4h0m27 14h0m53-2h0m47 0h0m21 3h0m35 4h0m102-9h0m165 5h0m1-5h0m40-3h0m27 10h0m36-2h0m-26 9h0m-4 0h0m-19 0h0m-223 3h0m-103 2h0m-13 8h0m76 3h0m14 0h0m39 3h0m211-4h0m53-2h0m4 4h0m8 3h0m-54 6h0m-15 3h0m-161-2h0m-269 3h0m-25-1h0m84 12h0m244 0h0m80-9h0m65 6h0m5-3h0m15 20h0m-12-4h0m-28 4h0m-24-11h0m-25 7h0m-83 2h0m-52-7h0m-7 0h0m-125 6h0m-69-2h0m-44-3h0m-57-2h0m-11 8h0m-10 0h0m263 10h0m31-2h0m12-5h0m72 0h0m32 0h0m81 6h0m23 4h0m36-10h0m10 8h0m-50 7h0m-69-4h0m-85 1h0m-57 3h0m-151 7h0m12 2h0m215 10h0m5-5h0m122-2h0m66-2h0m-13 15h0m-17-3h0m-4 9h0m-44-3h0m-41 3h0m-246-1h0m-41 1h0m-9-8h0m-14 5h0m-67-3h0m3 17h0m14-3h0m352 4h0m30 0h0m10-5h0m57 0h0m9 7h0m-19 5h0m-9-3h0m-10-1h0m-4 8h0m-7-5h0m-23-3h0m-19 7h0m-18-2h0m-445-1h0m12 8h0m81 8h0m28 1h0m76-8h0m316-2h0m14 6h0m1 3h0m25-9h0m-5 16h0m-44-1h0m-383-1h0m-9 1h0m-103 0h0m41 12h0m12 6h0m79-9h0m15 2h0m344 6h0m-296 10h0m-99 1h0m0 1h0m-51-7h0m-42 9h0m28 6h0m14-4h0m52 9h0m55 4h0m-80 7h0m-6-7h0m4 28h0"/>
<path id="a1" d="M577 707h0m105 19h0m23 0h0m4 7h0m-80 2h0m-206 15h0m-139 15h0m334 36h0m55 1h0m5 36h0m-406 7h0m372 23h0m-29 44h0m-379 9h0m24 3h0"/>
<path id="a2" d="M197 678h0m398 41h0m-409 56h0m240 5h0m-292 63h0m463 44h0m-464 2h0"/>
<path id="a3" d="M502 785h0"/>
<path id="a4" d="M701 877h0m-6 7h0m-13 2h0m-84 11h0m72-5h0m4 14h0m-3 6h0m-19-6h0m-1-6h0m-27 8h0m-11-4h0m-11 4h0m-2 1h0m-144 4h0m112 1h0m13-1h0m27 5h0m21-3h0m4 3h0m13-5h0m9 11h0m-14 7h0m-21-2h0m-8 7h0m-15 1h0m18 0h0m23 3h0"/>
<path id="a5" d="M555 672h0m-250 8h0m-135 65h0m68 10h0m69 47h0m-168 11h0m316 35h0m206 3h0m-19 4h0m6 50h0m-1 5h0"/>
<path id="a6" d="M497 648h0m-351 14h0m-3 72h0m490 34h0m-457 21h0m-5 1h0m405 12h0m-251 14h0m223 41h0m117 33h0m14 15h0m-51 26h0m-386 41h0"/>
<path id="a7" d="M549 599h0m-11 5h0m14-4h0m33 23h0m-42-10h0m-347 6h0m275 14h0m6-1h0m30 2h0m64-7h0m36 19h0m-431-2h0m-20 0h0m-4 9h0m54 4h0m278-7h0m47 2h0m1-1h0m43 6h0m24-4h0m1-3h0m28 4h0m4 4h0m1-2h0m-45 8h0m-1 2h0m0 0h0m-2 1h0m-17 4h0m-7-6h0m-31-5h0m-26 6h0m-39 2h0m-5-7h0m-187 2h0m-123 1h0m-4 19h0m56-8h0m74-3h0m32 3h0m19-2h0m212 3h0m51-1h0m27 5h0m24-2h0m31-5h0m15 6h0m-25 13h0m-25-6h0m-15 4h0m-27-1h0m-33-1h0m-380 19h0m208-9h0m31 6h0m21-4h0m43-2h0m126 9h0m12-2h0m15 0h0m55-4h0m4-3h0m7 14h0m-6 0h0m-17-3h0m-129 10h0m-2-7h0m-49 7h0m-14-9h0m-4 6h0m-26-8h0m-8 10h0m-3-8h0m-25 3h0m-35 2h0m-86-2h0m-67-1h0m-27 2h0m-71 16h0m117 1h0m5-8h0m51 8h0m52 0h0m75-4h0m43-3h0m44-1h0m57 5h0m14 1h0m23 2h0m22-1h0m3 1h0m33-8h0m10 4h0m8-2h0m-46 10h0m-10 7h0m-73-9h0m-6 9h0m-8-3h0m-26-4h0m-11 4h0m-17 0h0m-5-2h0m-28-1h0m-55 5h0m-43-6h0m-20 0h0m-104 7h0m-15-6h0m-12 6h0m-79-5h0m4 15h0m18-5h0m5 0h0m33 6h0m109-3h0m5-4h0m50 9h0m12-7h0m12-1h0m17-2h0m24 2h0m5 3h0m11 4h0m18-7h0m21 4h0m58 5h0m12-11h0m100 8h0m5 0h0m38 1h0m10-3h0m-3 12h0m-50-2h0m-28 4h0m-9-3h0m-13-1h0m-91-1h0m-15 7h0m-2-8h0m-13 9h0m-9 0h0m-10-7h0m-39 7h0m-1-3h0m-25-2h0m-43-3h0m-15-4h0m-27 5h0m-86 2h0m-3 1h0m-92 13h0m33 1h0m79-6h0m22 1h0m49-2h0m38 7h0m64-7h0m8 3h0m16 4h0m36-9h0m66 7h0m16 4h0m132-2h0m3-4h0m5 1h0m14 7h0m-3 3h0m-54 0h0m-42-1h0m-4 7h0m-46-4h0m-28-5h0m-24 0h0m-109 8h0m-59-10h0m-4 5h0m-105 6h0m-18-6h0m-21 14h0m140-7h0m60 6h0m31 0h0m22 0h0m47 5h0m12-4h0m19-1h0m36-1h0m35 6h0m112 13h0m-29-9h0m-12 1h0m-10 3h0m-24 5h0m-18-12h0m-18 0h0m-124 7h0m-28-6h0m-29 1h0m-6 10h0m-19-11h0m-67 10h0m-62-10h0m-72 7h0m-63 6h0m88-1h0m1-1h0m32 1h0m1 10h0m197-6h0m7 0h0m1 4h0m7 2h0m53-7h0m21-1h0m4 8h0m17-9h0m18 5h0m27 0h0m13 2h0m13-2h0m26 2h0m60-5h0m-23 9h0m-20 0h0m-31 5h0m0 5h0m-32 0h0m-128 0h0m-38-2h0m-41-5h0m-36 3h0m-72-2h0m0 5h0m-95 2h0m-25-9h0m-31 0h0m-2 21h0m22-10h0m41 2h0m31 1h0m12 3h0m3 0h0m58 0h0m153-3h0m87 2h0m141-1h0m1 1h0m-25 14h0m-5-8h0m-28 2h0m-2-1h0m-12 4h0m-71-2h0m-23-3h0m-7 3h0m-31-1h0m-11-3h0m-3 3h0m-20 6h0m-6-2h0m-50-3h0m-68 6h0m-12 0h0m-78-6h0m-65 4h0m-1-5h0m-1 2h0m-15 17h0m8-5h0m24-4h0m45 5h0m8-1h0m88 6h0m123-4h0m41 0h0m16 0h0m1-5h0m24 0h0m54 2h0m12 4h0m103 10h0m-72-1h0m-7-1h0m-18-1h0m-14 7h0m-37-4h0m-247 0h0m-130-5h0m-60 5h0m17 9h0m2 2h0m16 4h0m44-9h0m54 4h0m25 6h0m24-8h0m24 9h0m227-6h0m3 4h0m90-4h0m3 8h0m-95 2h0m-99-2h0m-3-1h0m-116 9h0m-29-6h0m-8 8h0m-9-3h0m-34-1h0m-61-6h0m-48 10h0m-17 4h0m85 4h0m30 1h0m27 1h0m37-3h0m137-4h0m181 8h0m8-4h0m35 8h0m-357 6h0m-3 1h0m-61-1h0m-12-8h0m-2 10h0m-66-5h0m-42 0h0m44 11h0m4 3h0m54-6h0m20 0h0m14 6h0m63-6h0m295 5h0m12-4h0m12 1h0m-179 12h0m-152 5h0m-34 3h0m-15-6h0m-43-2h0m-36 0h0m-45 4h0m36 15h0m49-8h0m21 2h0m76 0h0m-90 16h0m-17 3h0m-3-6h0m-16 0h0m-39-4h0m138 16h0m3 2h0m-17 7h0"/>
<path id="a8" d="M511 624h0m-346 2h0m422 6h0m-418 17h0m13 1h0m410 11h0m-209 34h0m324 24h0m-175 12h0m60-2h0m-327 36h0m203 47h0m88 5h0m122 54h0m-388 128h0m-7 28h0"/>
<path id="a9" d="M198 636h0m-50 14h0m24 0h0m102 13h0m-141 37h0m12 4h0m303-4h0m-71 19h0m-197 2h0m13 1h0m349 18h0m-72 15h0m-269 4h0m-35 33h0m-33 4h0m12-1h0m2 8h0m29-7h0m230 31h0m-129 11h0m-156 6h0m195 102h0"/>
<path id="a10" d="M584 645h0m-66 53h0m-249 24h0m371 125h0m-445 28h0"/>
<path id="a11" d="M421 713h0m273 72h0m-38 91h0m25 17h0m-63 8h0m-165 19h0m154 1h0m28 3h0m16-12h0m-374 111h0"/>
<path id="a12" d="M538 626h0m46 9h0m-16 10h0m-72 10h0m-239 26h0m210-7h0m-214 18h0m62 6h0m9 9h0m6-6h0m41 4h0m160-6h0m56 11h0m-222 9h0m-15-9h0m-115 20h0m353 37h0m-286 24h0m-86 9h0m41 4h0m209 8h0m-208 9h0m15 2h0m1-1h0m434 8h0m-408-2h0m366 46h0"/>
<path id="a13" d="M168 667h0m27 8h0m112 6h0m301-2h0m-448 25h0m253-5h0m-112 25h0m289 14h0m48 25h0m-444-3h0m-60 21h0m5 23h0m361 34h0m124 60h0"/>
<path id="a14" d="M548 557h0m1 3h0m0 3h0m3 11h0m-4-4h0m0 3h0m-1 0h0m-1 1h0m-9 13h0m5-1h0m1 0h0m2-10h0m2 9h0m0-6h0m1-3h0m1 10h0m0-3h0m1 4h0m1-5h0m1-1h0m0 6h0m0-1h0m1-10h0m3 8h0m2 3h0m1-3h0m13 15h0m-7-5h0m-1-2h0m-1 4h0m-1 3h0m-2-2h0m-3-3h0m-8 3h0m0-5h0m-1 3h0m0-6h0m0 3h0m-5 4h0m-6-6h0m-1 7h0m-3 2h0m-356 12h0m2-4h0m2 5h0m347 0h0m11-8h0m0-1h0m1 5h0m10-1h0m2-1h0m3-4h0m0 6h0m3-4h0m0 6h0m1-4h0m4-3h0m3 1h0m2-2h0m3 9h0m1-5h0m6 0h0m3 1h0m1 1h0m14 15h0m-6-6h0m0 0h0m0 6h0m-2-9h0m0 1h0m-1-2h0m-2 4h0m-10 0h0m-2-3h0m0 10h0m-1-5h0m-2-1h0m-2 5h0m-4-1h0m-1 1h0m-5-7h0m-2-1h0m-1-3h0m-3 0h0m0 6h0m-4 3h0m-7-5h0m-3 5h0m-2-5h0m-1 1h0m-3 1h0m0-1h0m-5-4h0m-2 2h0m-330 8h0m-10-10h0m0 4h0m-1 4h0m-2 1h0m-3-7h0m-6 8h0m-2-5h0m3 13h0m6 3h0m2-9h0m2 8h0m6-2h0m9 0h0m2-4h0m3 2h0m3 2h0m5 2h0m257 0h0m11-5h0m2 4h0m1 2h0m3 2h0m1-5h0m2 4h0m1-5h0m0 3h0m0-2h0m3 2h0m4-1h0m6 0h0m4-3h0m19 7h0m9-7h0m5-4h0m0 8h0m0 2h0m2-2h0m1 2h0m4-1h0m4-9h0m5 3h0m2 3h0m4 0h0m4 1h0m14 0h0m2-3h0m1 5h0m2 0h0m0 1h0m3-9h0m13 0h0m5 7h0m3-1h0m5-2h0m1 6h0m28 9h0m-6 0h0m-1 2h0m-5-7h0m-1 1h0m0 4h0m-2-5h0m-6 1h0m0-3h0m-1 2h0m-5 2h0m0-2h0m-2 6h0m-1 1h0m-2 1h0m0-1h0m-1-5h0m-1 1h0m-1-3h0m-4 0h0m-2 3h0m-4-2h0m-3 4h0m-4-8h0m-3 4h0m-2 2h0m-2 1h0m-12-2h0m-8 3h0m-3-2h0m-2 3h0m-4-2h0m0-3h0m-6 5h0m-8-2h0m-2-6h0m-1-2h0m-2 6h0m-2 4h0m-7-5h0m-6 2h0m-1-6h0m-8 8h0m-1-8h0m-1 1h0m-1 6h0m-4-1h0m-3-4h0m-1 0h0m0-3h0m-4 5h0m-3-2h0m-1 9h0m-7-3h0m-5-4h0m-5-4h0m-2 3h0m0-3h0m-6-1h0m-3 9h0m-240 2h0m-3-3h0m-5 3h0m0-2h0m-1 2h0m-5-1h0m-8-3h0m0 4h0m-9 1h0m-6-4h0m-9 0h0m-3 1h0m-2 3h0m-5-5h0m-6-3h0m-5 7h0m-2 1h0m-3-4h0m-5 9h0m2 0h0m12 0h0m7 0h0m8 2h0m2-2h0m2 0h0m1 5h0m5-10h0m1 6h0m2 0h0m10 4h0m7-4h0m4 0h0m1-1h0m0-2h0m5 4h0m2 1h0m1-3h0m2 4h0m4-3h0m4 3h0m233 0h0m2-2h0m5 5h0m6-7h0m0 5h0m0-5h0m1 0h0m1 6h0m1-7h0m1 7h0m3-2h0m3-4h0m3 6h0m5-5h0m4-5h0m0 3h0m3 3h0m25-4h0m2 0h0m5 2h0m0 5h0m2-1h0m0-8h0m1 1h0m5 6h0m3 1h0m2 3h0m0-8h0m4-1h0m3 3h0m0 0h0m1-2h0m3 2h0m2 4h0m1-8h0m6 9h0m2-8h0m7 0h0m3 7h0m0-1h0m2-4h0m2 5h0m3-10h0m7 6h0m4 5h0m3-4h0m2-4h0m1 5h0m2-7h0m2 7h0m1 0h0m1-2h0m14 6h0m5-8h0m3 8h0m0-7h0m1 3h0m6 0h0m1-6h0m2 5h0m0-3h0m3-3h0m1 4h0m7-1h0m0 3h0m2 4h0m0 1h0m0-1h0m2 0h0m0-1h0m2 1h0m0-7h0m4 5h0m5 0h0m15 11h0m-8-1h0m0 0h0m-6-1h0m-5 3h0m0 1h0m-2-6h0m-2 5h0m0-1h0m0-4h0m0 2h0m-2 3h0m-2-4h0m-5-4h0m-3 10h0m0 0h0m-1-10h0m-3 10h0m-4-10h0m-2 7h0m-1 1h0m0 0h0m0-8h0m0 4h0m-12 2h0m-11-1h0m-1 3h0m-2-8h0m-1 2h0m0 3h0m-1 1h0m-2-2h0m-18 4h0m-6 0h0m-5-5h0m-4-1h0m-5 5h0m-1 1h0m-12-6h0m-5-1h0m-4 0h0m-3 7h0m-4-7h0m-9 3h0m-1-3h0m-2 6h0m-5 0h0m-3 1h0m-1-6h0m-1 6h0m-2 1h0m-4 1h0m-9-2h0m-5-8h0m-4 0h0m-1 5h0m-15-4h0m-6 1h0m-1 6h0m-2-8h0m-5 6h0m-7-2h0m0 6h0m-2 0h0m-125-4h0m-6 3h0m-1-2h0m-3 4h0m-10 0h0m-3 0h0m-26-5h0m-3 5h0m-2-9h0m-2 0h0m0 6h0m-3-7h0m0 2h0m-5 4h0m-1 0h0m-4-4h0m-1 3h0m-6-2h0m-3-4h0m-7 4h0m-8 7h0m-1-1h0m0-11h0m-3 3h0m-1 2h0m-3 4h0m-1 2h0m-1-7h0m-1 6h0m-1-7h0m-1 7h0m-1-4h0m0-3h0m0 9h0m-2-2h0m-5-9h0m-3 4h0m-1 3h0m-1-6h0m0 5h0m-1 4h0m-4-10h0m-1 7h0m-1 2h0m-3-1h0m-12-4h0m-10 3h0m0-7h0m-6 11h0m-5-10h0m-5 7h0m-2 0h0m0 3h0m-2-11h0m-2 1h0m-1 10h0m-12-4h0m2 11h0m3 0h0m0-1h0m7-2h0m5 6h0m14-9h0m13 9h0m6-7h0m6 3h0m0 1h0m1 3h0m12 1h0m1-9h0m1 4h0m0-6h0m1 11h0m4-4h0m3-3h0m1 1h0m2-2h0m3-3h0m2 1h0m1 1h0m5-1h0m0 7h0m1-2h0m4-2h0m6 0h0m0-3h0m5 3h0m2-3h0m1 9h0m1-10h0m4 7h0m2 3h0m0-2h0m0-4h0m7 3h0m0-2h0m2-3h0m2 0h0m10 0h0m3 6h0m0-3h0m7-2h0m1 8h0m1-10h0m4 4h0m3 5h0m1-10h0m0 12h0m1-12h0m6 3h0m1 4h0m1-5h0m1-1h0m1 8h0m1-8h0m0 3h0m2 3h0m3-3h0m1 3h0m3-5h0m5 0h0m104 9h0m8-5h0m8-4h0m0 2h0m0-4h0m3 3h0m3 7h0m13-4h0m0-1h0m2-3h0m2-1h0m1 7h0m2 4h0m1-7h0m8 3h0m1 3h0m3-1h0m2 1h0m5-7h0m1 0h0m5 1h0m2 6h0m1-2h0m8-5h0m3 3h0m3 0h0m3-2h0m0 2h0m3 0h0m8 2h0m4-3h0m2 5h0m1-2h0m3 0h0m2 2h0m5-5h0m0 0h0m2 0h0m10 6h0m7-12h0m1 0h0m4 3h0m2 8h0m1 1h0m4-1h0m2-1h0m6 1h0m1 0h0m9-6h0m1 6h0m1-5h0m1 4h0m2-9h0m1 1h0m0 10h0m1-12h0m4 8h0m1-2h0m1 5h0m3-9h0m0 9h0m2-4h0m3 2h0m2 2h0m3-1h0m3-5h0m3 1h0m1 5h0m2-3h0m7-8h0m2 8h0m8-4h0m1 0h0m0-1h0m1-2h0m2 4h0m0-3h0m2 7h0m1-2h0m11 2h0m2-3h0m1-2h0m1 0h0m6 3h0m10-2h0m1-2h0m3 4h0m1 3h0m2 2h0m1-3h0m1-3h0m1 0h0m1 4h0m0-2h0m1 1h0m1 0h0m7 3h0m8 7h0m-6 1h0m0 2h0m-2 1h0m-1-6h0m-3 3h0m-1-6h0m-4 6h0m-1-7h0m0 8h0m-3-6h0m-1 9h0m-1-11h0m-3 6h0m-3 5h0m-1-9h0m0 8h0m-1-8h0m-1 7h0m-2 0h0m-2-9h0m0 4h0m-2 6h0m-1 0h0m0-6h0m0-5h0m-1 9h0m0-8h0m-4 8h0m-3 0h0m-2-5h0m0 0h0m-3-1h0m-3 6h0m-1 1h0m0 2h0m0-6h0m-4 5h0m-6-3h0m-4-5h0m-2 2h0m0 0h0m-3-5h0m-2 9h0m0-3h0m-4-5h0m0 6h0m-2 4h0m0-7h0m-1 3h0m-1 2h0m0-9h0m-11 8h0m-3-2h0m0 2h0m-1 3h0m-1-7h0m-3 0h0m-1 6h0m-1-7h0m-3 3h0m-1-1h0m-2-3h0m-2 6h0m-4-1h0m-3-3h0m-4 3h0m-1 4h0m-1 1h0m-2-1h0m-2-3h0m-3-1h0m-1 3h0m-1-5h0m-4-1h0m-2 0h0m-4 5h0m-2-6h0m-5 7h0m-6-5h0m-6 2h0m-1-5h0m-2 6h0m-3 1h0m-2-2h0m-3-5h0m0-1h0m-7 3h0m-2-1h0m-7 6h0m-6 0h0m-2 2h0m-1-6h0m-2 6h0m-4-4h0m-1 3h0m-3-4h0m-1 5h0m0-6h0m-3 6h0m-3-5h0m-11-3h0m-1 3h0m0 6h0m-2-3h0m-1-7h0m-2 2h0m-3 7h0m-7-6h0m0 6h0m-1-9h0m-2 10h0m-1-1h0m-1-3h0m-1 3h0m-1-5h0m-1 0h0m-2-4h0m0 2h0m-4 1h0m0 2h0m0-5h0m-1 7h0m-19-4h0m-10-3h0m-1 0h0m-2 9h0m-3 0h0m-2 0h0m-2-1h0m-18 2h0m-14-1h0m-14-2h0m-3-3h0m-4-1h0m-6 3h0m0 1h0m-45 1h0m-2-3h0m-1-1h0m-2 1h0m-1 1h0m0-5h0m-1 0h0m-5-2h0m-4 3h0m-3 4h0m-3-6h0m-1 0h0m-3 7h0m-21 0h0m-5 0h0m-1-5h0m-3-2h0m-5-1h0m-2 5h0m-5-2h0m-7 6h0m-9-6h0m-2 7h0m-2-10h0m-4 5h0m-1-2h0m-6 8h0m0-6h0m-2-2h0m-2 3h0m-2 3h0m-5-7h0m0 8h0m-7-6h0m-24-1h0m0 7h0m-8-8h0m-3 1h0m-9 4h0m-8 2h0m-2-1h0m-8 12h0m9-5h0m16 2h0m10-3h0m16 1h0m8 7h0m2 0h0m14 0h0m2-9h0m5 5h0m3 3h0m14-8h0m1-2h0m0 5h0m7 3h0m1-7h0m0 3h0m0-2h0m2 0h0m3 1h0m1 8h0m5-3h0m3 0h0m5-4h0m3 6h0m7-1h0m10 0h0m19 0h0m8 2h0m3-5h0m6-2h0m10 1h0m3 0h0m5 2h0m5 3h0m1-7h0m10 7h0m0 1h0m1-6h0m3 5h0m1-8h0m3 10h0m5-10h0m2-1h0m0 8h0m0-5h0m1-1h0m3 8h0m1-9h0m4 0h0m1 5h0m1 2h0m2 3h0m0-5h0m0-3h0m7-1h0m2 7h0m0-1h0m11 1h0m5-5h0m4 4h0m3-6h0m0 8h0m5-2h0m1-5h0m2-3h0m10 4h0m1-4h0m1 6h0m5-4h0m1 7h0m2-9h0m0 6h0m1-2h0m0 5h0m0-5h0m3-3h0m0 10h0m0-8h0m4-2h0m1 6h0m0 3h0m3-10h0m5 8h0m1 2h0m2-8h0m1-1h0m3 9h0m2-8h0m0-3h0m0 8h0m2-2h0m5 2h0m0 0h0m1-7h0m1 3h0m3-1h0m1 6h0m2-3h0m0 3h0m4-4h0m2 3h0m5 2h0m1 2h0m4-6h0m0 1h0m3-4h0m5-2h0m1 1h0m3 6h0m2-2h0m1 1h0m0 2h0m4 0h0m1-2h0m9-7h0m0 6h0m4-5h0m6 1h0m2 6h0m0-4h0m4 0h0m5 5h0m4 2h0m0-8h0m3-2h0m1 5h0m2 1h0m5-6h0m1 9h0m2-5h0m1-3h0m4-1h0m9 2h0m2 7h0m1-6h0m6 0h0m3 4h0m2-3h0m2 6h0m2-8h0m3 7h0m5-10h0m5 11h0m2-6h0m4-1h0m7 3h0m1 4h0m1 0h0m2-6h0m3 1h0m1 2h0m7-4h0m0 4h0m5-2h0m5 3h0m0-2h0m1 0h0m8 0h0m2-3h0m5 3h0m1-6h0m7 6h0m0-5h0m5-1h0m2 1h0m0 9h0m1-1h0m3 1h0m0-2h0m2-7h0m5 0h0m3 9h0m3-7h0m1 1h0m0-3h0m2 7h0m1-5h0m2-1h0m3 5h0m0 3h0m7-6h0m5 4h0m6-7h0m1 1h0m-12 13h0m-4-3h0m-3 3h0m-10 7h0m-1-7h0m-1 2h0m-1 5h0m0-6h0m-6 2h0m0-1h0m-5-2h0m-1-2h0m-4 8h0m-3-3h0m-1-2h0m-1-2h0m-14 8h0m-1-1h0m-7-6h0m0 7h0m-1-1h0m-2-8h0m-4 8h0m-2-3h0m-3-2h0m-3 4h0m-2-2h0m-1-7h0m-1 4h0m-5 6h0m0-5h0m-1 0h0m0-1h0m-2-1h0m0 5h0m-1 4h0m-6-9h0m-2 7h0m-8-4h0m-1 2h0m-7 2h0m0-6h0m-4 0h0m-7 7h0m-2-4h0m-11 3h0m-5 1h0m-3-1h0m-6 2h0m-4-11h0m-4 5h0m-4-2h0m-1 7h0m-2-2h0m-3-9h0m-1 1h0m-1-1h0m-1 1h0m-3 10h0m-3 1h0m-1-10h0m-2 6h0m-1 3h0m0-4h0m-3 3h0m0 1h0m-2-3h0m0-1h0m-3-2h0m-2 2h0m0 0h0m0 1h0m-1-5h0m-1 6h0m-1-5h0m-6-3h0m-1 3h0m-2-3h0m-1 11h0m-1-5h0m0-3h0m-1 6h0m-2-5h0m-1 5h0m-3-6h0m-1-3h0m-1 11h0m0-10h0m-6 9h0m-1 0h0m-6-2h0m-3 2h0m-2-8h0m-2 6h0m-3 1h0m-7-2h0m-1-4h0m-1 7h0m-2-5h0m-1 2h0m-5-1h0m0 1h0m-3-3h0m-1 2h0m-2 2h0m-1-1h0m-1-3h0m-2 2h0m-1-5h0m-1 9h0m-2-4h0m-2 0h0m-2-1h0m-2 4h0m-1-7h0m-2 8h0m-2-9h0m-3 3h0m0-3h0m-3 5h0m-4-4h0m-1 1h0m-4 8h0m-3-11h0m-3 7h0m-5-6h0m-3 4h0m0 6h0m-1-2h0m-4-3h0m-4 1h0m-1-6h0m-1 8h0m-1-3h0m-1 5h0m-1-5h0m-1 2h0m-2-5h0m-1 6h0m-1-2h0m-1-3h0m-5-4h0m-2 5h0m-4 3h0m-3-2h0m-4-5h0m-1 0h0m-9 8h0m0-3h0m-2-6h0m0 5h0m-1 6h0m-30-8h0m-1 3h0m-1-6h0m-2 11h0m-7-2h0m-16 0h0m0-7h0m-3 2h0m-8 3h0m-16-3h0m-1 3h0m-2-7h0m-6 4h0m0 4h0m-1-8h0m-4 8h0m-2-3h0m-8 5h0m-13-1h0m-1-6h0m-2 1h0m0 3h0m-3 2h0m-4-5h0m-1-3h0m0-1h0m-4 1h0m-1 7h0m0-4h0m-3 3h0m-12-3h0m-10-1h0m-4 3h0m-4-7h0m-15 10h0m0 0h0m0 2h0m-9-10h0m-2-1h0m-4 3h0m-6 6h0m-2-4h0m-6 10h0m3-2h0m8 3h0m4-3h0m9 1h0m8 2h0m4 0h0m0 1h0m10 0h0m4-3h0m5 2h0m5-2h0m4 6h0m2-6h0m3-1h0m2 7h0m3 2h0m0 1h0m1-4h0m3-1h0m1 0h0m0 2h0m1-3h0m3 0h0m1 2h0m0-3h0m5-3h0m5 8h0m4-8h0m1 1h0m2 0h0m5 3h0m2 1h0m1-1h0m7-3h0m3 8h0m15-6h0m0 3h0m2-6h0m2 6h0m2 3h0m3-2h0m3-8h0m3 10h0m5-9h0m10 7h0m2-3h0m9-5h0m1 6h0m10 3h0m20-9h0m4 3h0m2-2h0m0 1h0m4 5h0m6-6h0m10 4h0m1 5h0m1-9h0m7 6h0m2-2h0m4-4h0m0 8h0m4-3h0m0 3h0m1-9h0m2 6h0m3-1h0m0-6h0m2 6h0m1-3h0m4 5h0m2 1h0m3 3h0m3-6h0m2 4h0m2-7h0m0 5h0m1-8h0m7 1h0m9 6h0m3-5h0m1 5h0m5-4h0m1 4h0m3-2h0m6-5h0m0 4h0m5 4h0m2 3h0m2-11h0m1 2h0m0 2h0m1 1h0m9-1h0m1 6h0m0 1h0m2-9h0m0 4h0m4-4h0m4 1h0m0 7h0m3-1h0m3-1h0m1 0h0m6 3h0m4-9h0m1 9h0m1-7h0m8-1h0m0 5h0m1-2h0m0 4h0m1 1h0m1 0h0m0-9h0m2 2h0m0 3h0m0-7h0m2 7h0m0 2h0m2-3h0m6 6h0m4-8h0m0 2h0m0 2h0m3-3h0m1 3h0m7-2h0m1 5h0m1-10h0m10 7h0m2-4h0m2-3h0m7 7h0m12-8h0m9 11h0m1-8h0m2-3h0m3 12h0m1-1h0m2-8h0m1-2h0m5-1h0m10 11h0m0-4h0m1 1h0m6-8h0m7 7h0m1-3h0m3 1h0m0-4h0m1 1h0m6 3h0m2 4h0m10-6h0m2 4h0m3 0h0m0-6h0m1 2h0m3 8h0m1-6h0m6 6h0m1 1h0m9-11h0m1 9h0m3-9h0m0 5h0m0-2h0m1 8h0m0-7h0m11 7h0m1-2h0m1-3h0m4 2h0m0-6h0m7 2h0m3-4h0m3 2h0m0-1h0m1 3h0m4 2h0m4 3h0m2-9h0m2 6h0m-6 11h0m-7 4h0m-3-4h0m0 6h0m-5-5h0m-4 1h0m-2 2h0m-5-4h0m-3-3h0m-3 1h0m-1 3h0m-1 0h0m-1 3h0m-1-9h0m-8 4h0m-1 3h0m0 1h0m-1 2h0m0-1h0m-6 0h0m-1-7h0m-7 4h0m-12-1h0m-12-5h0m0 4h0m-1 1h0m-3 3h0m-3-9h0m-5 6h0m-1 2h0m-4-1h0m0 0h0m0 1h0m-1-7h0m-1 1h0m-1 7h0m-1-4h0m0-2h0m-4-1h0m-2 2h0m-1 3h0m-3 0h0m-4 1h0m-1-1h0m0-3h0m-2-2h0m-1 2h0m0 3h0m-2-6h0m-5 2h0m0 7h0m-6-7h0m-4 6h0m-1 3h0m0-12h0m-1 12h0m0-10h0m-4 5h0m-9-4h0m-1-1h0m-1 1h0m-2 3h0m-1 4h0m-4-6h0m-1-1h0m0 1h0m-5 4h0m-2-3h0m-1 0h0m-1 0h0m-1-2h0m-5-1h0m-11 3h0m0-2h0m-3 0h0m-2 5h0m0-7h0m-1 6h0m-1 1h0m0-7h0m-7 6h0m0-4h0m-3-2h0m0 7h0m-4-3h0m-13 6h0m0-7h0m-4-2h0m-1-2h0m0 7h0m-3 3h0m-1-9h0m-1 5h0m-4 3h0m-1 2h0m-1 1h0m-4-12h0m-4 9h0m-7-3h0m0 4h0m-1 1h0m-1-7h0m0-3h0m-4 10h0m-2-6h0m-3 0h0m-1 4h0m-1-7h0m0 9h0m-1-8h0m0 5h0m-2 1h0m-1 3h0m-1-2h0m-9-6h0m-4-4h0m-1 4h0m-1 3h0m-8 4h0m-6-6h0m-1-1h0m-7 1h0m-1 1h0m-4-4h0m-2 7h0m-7-7h0m-1-1h0m-11 0h0m0 3h0m-1-4h0m-1 6h0m-7-2h0m-1 6h0m0-4h0m-7-4h0m-3 6h0m0-4h0m-2 5h0m-2-2h0m-7-6h0m-5 9h0m-5 0h0m-7-1h0m-5-2h0m-2-5h0m-5 3h0m-5 5h0m-9 0h0m-5-8h0m-4 8h0m-2-3h0m-6 3h0m-8-9h0m-6 3h0m0-3h0m-12 3h0m-6 6h0m-6 0h0m-5-3h0m0-5h0m-1 5h0m-2-2h0m-5 0h0m-3 2h0m0-3h0m-1 3h0m-2-6h0m0 4h0m-11 4h0m-1-4h0m-3-4h0m-5 4h0m-2 0h0m-1 3h0m-3-2h0m-2 5h0m-3-1h0m-1-10h0m-9 8h0m-5-4h0m-2-2h0m0 1h0m-1 5h0m-7-5h0m-7 2h0m-10-5h0m-6 10h0m-1-6h0m1 14h0m3-2h0m1-1h0m12 2h0m0 3h0m1 4h0m0-9h0m2 4h0m3 3h0m5-5h0m8-5h0m7 12h0m10-6h0m7-1h0m2-3h0m2 5h0m3 4h0m0-9h0m0 3h0m6-1h0m2 3h0m3-3h0m16 3h0m0-6h0m2 10h0m5-4h0m1 0h0m3-5h0m2-1h0m4 10h0m0-1h0m6-6h0m7-4h0m7 3h0m2 8h0m0-4h0m1-5h0m2 3h0m3-2h0m3 5h0m1 1h0m1 3h0m1-9h0m2 8h0m5-10h0m1 9h0m2-7h0m0 4h0m8-6h0m0 5h0m8 0h0m5 5h0m0-10h0m0 4h0m3 0h0m9 5h0m1-3h0m1-6h0m1 10h0m2-1h0m0-2h0m1-3h0m9-2h0m1 2h0m3 3h0m0-6h0m3 3h0m2 3h0m5 1h0m0 1h0m0 2h0m1-4h0m0-4h0m0 5h0m2-3h0m0-1h0m1 7h0m3-6h0m2 3h0m5 0h0m1 2h0m0-8h0m2-2h0m2 1h0m0 7h0m1-1h0m1-5h0m1 7h0m1-8h0m0 3h0m2-4h0m3 5h0m11 5h0m1-6h0m1 0h0m3-4h0m1 10h0m2-6h0m1 1h0m6 0h0m1 6h0m0-4h0m1-3h0m5 5h0m0-9h0m4 6h0m1 3h0m0-4h0m3 4h0m1 2h0m24-11h0m9 4h0m2 3h0m7-3h0m2 3h0m5-1h0m2-4h0m5 6h0m0 1h0m1-1h0m2-4h0m1-4h0m2 9h0m6-4h0m3 3h0m1 2h0m0-9h0m2 1h0m1 5h0m2-7h0m2-1h0m0 11h0m0-11h0m2 1h0m2 4h0m0 1h0m5-2h0m15 6h0m0-6h0m2-2h0m1-1h0m0 8h0m3-3h0m2-1h0m1-3h0m0 3h0m0 3h0m1 4h0m1-11h0m4-1h0m2 10h0m1-10h0m0 9h0m0-6h0m3 6h0m1 0h0m1-7h0m1 0h0m1 9h0m1-8h0m1 4h0m1-1h0m2 2h0m4 3h0m0-9h0m3 5h0m0-3h0m0-2h0m12-1h0m1 9h0m5-6h0m4 4h0m2-8h0m3 11h0m0-4h0m3 3h0m6-3h0m1-1h0m4 0h0m2 6h0m4-1h0m9 1h0m0-6h0m7-3h0m2 6h0m5-1h0m0-5h0m3 4h0m1 0h0m3-2h0m5-1h0m8 7h0m1-10h0m4 9h0m1 0h0m2 0h0m7-2h0m1-3h0m11 1h0m1 5h0m2-9h0m1 9h0m0-2h0m1-2h0m3-6h0m12 8h0m0 2h0m0 4h0m-2 3h0m-3-5h0m-4 8h0m-5-6h0m-2 8h0m0-7h0m-1 0h0m-1 2h0m-1 4h0m-3-9h0m0 9h0m-1-7h0m-6 6h0m-4-1h0m0 0h0m-1 0h0m-4-7h0m-5 8h0m0 0h0m-1-8h0m-3 3h0m0 2h0m-6-1h0m-1 1h0m0-3h0m-3-3h0m-4 9h0m-8-6h0m-2 5h0m-2-4h0m-3 5h0m0-6h0m-2 8h0m-1-10h0m0 9h0m-2 2h0m0-7h0m-1-4h0m0 1h0m-2-2h0m-1 3h0m-1 0h0m-2 3h0m-1-4h0m-4 9h0m-4-1h0m-1 2h0m-5-1h0m0 1h0m0-2h0m-4 1h0m-5-8h0m-1 5h0m-2-1h0m-1-3h0m-11 7h0m0-6h0m-2 7h0m0-6h0m-3 5h0m-2-10h0m-2 7h0m-1 0h0m-1-3h0m-3 5h0m-1-7h0m-1 1h0m0 2h0m-4 3h0m-3-5h0m-6 7h0m-1-9h0m-2 7h0m0-8h0m-1 3h0m-1 2h0m-1-2h0m-2-1h0m-1 0h0m-1 6h0m-3-6h0m-2 8h0m-1-10h0m-2 0h0m-1 3h0m0 7h0m-1-6h0m0-1h0m-1 3h0m0 3h0m0-7h0m-1 7h0m-3-2h0m-1-1h0m-5-6h0m-1-1h0m-1 7h0m-6 2h0m-15 3h0m0-11h0m-1 3h0m-2 7h0m0-9h0m-1 6h0m-1-7h0m0 4h0m-15-2h0m-5 2h0m0 6h0m-4-10h0m-3 11h0m-2-10h0m-2 0h0m-2-1h0m-4 1h0m0 7h0m-2 1h0m-5-3h0m-6-2h0m-1 5h0m0-8h0m-3 10h0m-3-11h0m-1 10h0m-2-1h0m-1-2h0m-1 1h0m-9-2h0m-5-6h0m0 9h0m-1-2h0m-2-3h0m-2 4h0m-2 2h0m-2-7h0m0 4h0m0 0h0m-7 3h0m0-11h0m-5 2h0m-2 7h0m-2 2h0m0-10h0m-1 6h0m-3 3h0m-3-5h0m-1 6h0m-1 0h0m-1-8h0m-7-1h0m-1 8h0m-19 1h0m-5-11h0m-13 10h0m-2 1h0m-1 0h0m-1-5h0m-1-4h0m-3-2h0m-5 3h0m-3-2h0m-4 1h0m-1 9h0m0-3h0m-3 0h0m-9 3h0m-1-6h0m-5 2h0m-3-5h0m-3-2h0m-1 5h0m-1-1h0m-16 1h0m-1 0h0m-2-4h0m-1 7h0m-1-5h0m-1 2h0m-3-4h0m-1 1h0m-1 9h0m-2-10h0m-1 11h0m-1-6h0m-6 1h0m-2 5h0m0-8h0m-4-3h0m-3 2h0m0-2h0m-5 10h0m-1-3h0m0-7h0m-4 6h0m-1 1h0m-6-6h0m-3 2h0m0 1h0m-2-1h0m-8 6h0m-1-6h0m0 2h0m-1 6h0m-2-8h0m-2-2h0m-11 1h0m-5-1h0m-5 7h0m-3-5h0m-6 3h0m-2 0h0m-2 3h0m-2 0h0m-1-10h0m-7 11h0m-7-1h0m-5 2h0m-1-3h0m-3-1h0m-5-8h0m-4 6h0m-11 16h0m1 1h0m0 0h0m1-4h0m8-1h0m0-6h0m1 7h0m2-5h0m0 3h0m3-2h0m12-1h0m2-1h0m3 9h0m24-3h0m8-6h0m15 10h0m0-10h0m1 0h0m2-1h0m0 8h0m4-2h0m1-5h0m4-1h0m3 2h0m5 1h0m1 6h0m2 1h0m7-7h0m11 2h0m5-2h0m1 2h0m4 5h0m0-7h0m3 1h0m3 2h0m1-5h0m0 3h0m4 6h0m4-5h0m0 7h0m7-7h0m8 6h0m5-9h0m1 0h0m2 0h0m3 3h0m0-3h0m5 8h0m1-6h0m0 2h0m1 0h0m2 3h0m4-3h0m6 0h0m1-2h0m1 2h0m4 2h0m13-7h0m5 9h0m1-6h0m11 6h0m3-5h0m16 7h0m7-7h0m1 6h0m3-2h0m0-2h0m1 3h0m1-5h0m1 0h0m3-1h0m6 7h0m4-1h0m0-9h0m2 5h0m3 0h0m0-4h0m8 9h0m0-3h0m2-6h0m1 3h0m7 3h0m1-7h0m1 0h0m9 6h0m1-7h0m2 9h0m2-6h0m3 1h0m5 4h0m1-7h0m8 4h0m0 0h0m3 4h0m0 0h0m4-6h0m5 6h0m1-2h0m1-4h0m1-1h0m1 8h0m2-2h0m0-5h0m9 7h0m0-4h0m3-2h0m1 8h0m2-8h0m1-2h0m3 1h0m1 3h0m5 1h0m3-7h0m1 6h0m7-2h0m0 5h0m9-2h0m2-1h0m2 2h0m0-1h0m0 0h0m2-3h0m0 8h0m6-4h0m1 0h0m4-2h0m1-5h0m1 3h0m0 8h0m3-6h0m0 4h0m1-5h0m0-5h0m6 10h0m0-8h0m4 8h0m0-9h0m1 4h0m1 1h0m0-6h0m1 7h0m1-4h0m2 0h0m1 6h0m0-5h0m4 7h0m3-8h0m1-3h0m1 11h0m1-2h0m1 0h0m0-3h0m1 6h0m1-9h0m3-1h0m5 9h0m0-6h0m0 5h0m1-9h0m2 10h0m2-5h0m2-1h0m7-4h0m3 4h0m1 3h0m0-6h0m0 2h0m0 3h0m2 5h0m1-4h0m4-1h0m6-1h0m2 6h0m0-7h0m0 7h0m0-6h0m1 0h0m0-3h0m5 1h0m4-3h0m1 6h0m2 4h0m1-4h0m2 4h0m4-5h0m1 4h0m4-9h0m3 6h0m5-3h0m0 3h0m4-2h0m1-5h0m1 5h0m6 4h0m0-7h0m5-1h0m0 7h0m3-1h0m1-7h0m1 6h0m2-3h0m1-3h0m1 5h0m0-1h0m2 3h0m4-7h0m1 10h0m1-2h0m2 4h0m5-1h0m1-6h0m1-4h0m2 4h0m4 5h0m1-1h0m6 1h0m1-3h0m0-3h0m0 5h0m1 12h0m-1-6h0m-1 5h0m-5 0h0m-3-5h0m-3 7h0m-16-10h0m-8 0h0m0 11h0m-4-4h0m-6-6h0m-2 1h0m-2-1h0m-1 11h0m-7-9h0m-4 0h0m-4 3h0m-1-2h0m-1 0h0m-1 2h0m-3 4h0m-3-2h0m-3-7h0m0 4h0m-1-2h0m0-1h0m-2 9h0m-1-3h0m-6-4h0m0 8h0m-6-6h0m-3 2h0m-5-1h0m0-5h0m-1 7h0m-3 0h0m-1 1h0m-7-1h0m-4 2h0m-1-11h0m-1 5h0m0-2h0m0 3h0m-5-6h0m-2 2h0m0 1h0m-2-1h0m-3 0h0m-3 10h0m-5-3h0m-3-5h0m-9 4h0m-2-3h0m-2 1h0m0 3h0m-2 2h0m-2-5h0m-4-5h0m0 7h0m-2 1h0m0 0h0m-2 3h0m-1-3h0m-8 3h0m-2-6h0m-2 0h0m-1 1h0m-4 1h0m-2 2h0m-3-6h0m-2 1h0m-1 5h0m-3-8h0m-1 7h0m-2 0h0m-1-6h0m-1-3h0m0 10h0m-1-2h0m-1-4h0m-4-4h0m-3 10h0m-3-2h0m-1 3h0m-2-9h0m-3 0h0m0 3h0m-2 3h0m-2-3h0m-7 6h0m-4-9h0m0 1h0m-2-1h0m-3 9h0m-1-7h0m0 5h0m-4 2h0m-4 0h0m-1-9h0m-6 1h0m-2-3h0m-2 8h0m-1-5h0m-3 8h0m0-10h0m0 6h0m-1 2h0m-1-2h0m-1-3h0m-1 2h0m-2-1h0m-9-3h0m0 4h0m-1 0h0m-3 1h0m-1-4h0m0 7h0m-2-4h0m-2 3h0m0 3h0m-6-1h0m0-2h0m-3-1h0m0-5h0m-1 4h0m-2 4h0m0 0h0m0-6h0m0 3h0m-2-2h0m-4 0h0m-1-5h0m-2 10h0m0-5h0m-8 5h0m-1-4h0m-2-6h0m-4 0h0m-1 0h0m0 6h0m-16-5h0m-6 4h0m0 4h0m-4-4h0m-2 1h0m-14 4h0m-1-10h0m0 11h0m-3-7h0m-2 5h0m-3-9h0m-3 6h0m-15 4h0m-4 0h0m-1-8h0m-2 8h0m0-1h0m-6 0h0m-2-2h0m-2-7h0m-3 10h0m-4-6h0m-5-4h0m-1 2h0m0 4h0m-1-1h0m0-4h0m-1 2h0m-1-2h0m-4 2h0m-4 8h0m-1-8h0m-1 1h0m-3-3h0m-9 0h0m0 9h0m-1-4h0m-2 5h0m-11-6h0m0 5h0m-4-7h0m-3 6h0m0-2h0m-3-2h0m-16 3h0m-2-6h0m-1 3h0m-4 1h0m-16 4h0m-2-4h0m-6-3h0m-2 1h0m-4-1h0m-2 0h0m-5 5h0m-4-3h0m-6-5h0m-7 2h0m0 8h0m-17 10h0m0-2h0m10-4h0m1 2h0m3 2h0m2 1h0m7 3h0m10-9h0m5-2h0m3 8h0m3 2h0m0-3h0m8 2h0m3-2h0m3-7h0m2 11h0m8-4h0m3-7h0m1 10h0m4 2h0m2-4h0m0-6h0m15 4h0m5 5h0m8-1h0m3-8h0m3 9h0m1-5h0m5 4h0m1-4h0m2-1h0m2-4h0m1 1h0m6 7h0m1-2h0m5 1h0m2 1h0m1-8h0m3 11h0m9-2h0m4-3h0m2 3h0m0-8h0m2 9h0m1 0h0m2-2h0m0 2h0m2-2h0m7-5h0m6-4h0m9 8h0m3 0h0m5-3h0m3-3h0m4 3h0m33 3h0m5-2h0m6-4h0m10-2h0m4 10h0m0-9h0m1 0h0m2 2h0m5-2h0m4 10h0m1-9h0m1 8h0m3-2h0m1-6h0m10 7h0m0-7h0m1 0h0m1-1h0m0 4h0m4 3h0m6-1h0m1-6h0m7 9h0m0-1h0m1-8h0m1 0h0m3 1h0m1 0h0m3-2h0m0 10h0m3 1h0m4-7h0m2 0h0m1 4h0m2-5h0m1 8h0m0-2h0m0-1h0m2 1h0m1-3h0m2 3h0m1-1h0m4-2h0m3 2h0m2 3h0m2-1h0m0-3h0m1-4h0m0 0h0m1 2h0m2-3h0m0 2h0m2 1h0m1-2h0m2 5h0m2-2h0m4-6h0m3 11h0m5-4h0m1-6h0m4 4h0m7 5h0m3-4h0m3-5h0m2 8h0m0-8h0m4 1h0m1 2h0m0-4h0m6 2h0m6 2h0m7-2h0m1 3h0m2-2h0m3 6h0m0-1h0m1 4h0m2-5h0m1 0h0m1-4h0m1 4h0m0 0h0m0 2h0m3 3h0m3-9h0m0-3h0m1 1h0m3 5h0m1 3h0m0-1h0m2-6h0m5 8h0m5-6h0m0-2h0m3 6h0m2-1h0m1-2h0m2 3h0m1-2h0m1 0h0m3 1h0m1 1h0m8 2h0m1-4h0m2 3h0m5-1h0m2 4h0m2-12h0m1 0h0m9 4h0m3 0h0m9 8h0m6 0h0m1-1h0m3-8h0m1 4h0m0-2h0m3-5h0m5 10h0m1 0h0m1-2h0m3-2h0m3-4h0m0 10h0m1-1h0m1-4h0m3-2h0m11 0h0m0-1h0m1-1h0m1-3h0m1 7h0m1 5h0m2-3h0m2 1h0m1-6h0m2-3h0m1 4h0m5 2h0m4 1h0m3-1h0m3 5h0m-5 8h0m-9 3h0m-3 0h0m-4-6h0m-2 4h0m-2-3h0m0-3h0m-5-3h0m-5 7h0m-2-5h0m-6 6h0m-1 2h0m-3-2h0m-1 0h0m-1 0h0m-2 4h0m-2-2h0m-4-5h0m-1 6h0m-1-4h0m-1-1h0m-5 0h0m-1 0h0m-1 0h0m-1-6h0m-1 2h0m0 0h0m-2 6h0m-4-6h0m-1 8h0m0 0h0m-2-5h0m-1-5h0m-1 3h0m-2-2h0m-8 6h0m-6-5h0m-12 6h0m-1-4h0m-1 7h0m-2-6h0m0-4h0m-2 2h0m-2 6h0m-5-4h0m-5 5h0m-3-3h0m-3 5h0m-4-6h0m0-4h0m-8 2h0m0 1h0m-3 5h0m-11-9h0m-1 2h0m0 9h0m-3-10h0m-2 5h0m-7-3h0m-6 8h0m-3-1h0m0 0h0m0-9h0m-7 9h0m-7-3h0m-5-2h0m-5-1h0m-1 1h0m-6-5h0m-1 0h0m-3 0h0m-1 1h0m-1 9h0m-1-4h0m-6 2h0m-1-3h0m-5-2h0m-4 5h0m-3 2h0m-2-3h0m-1-1h0m-1-3h0m-2 1h0m0-4h0m-1-1h0m-5 7h0m-2 2h0m-2 0h0m-7-6h0m-1-1h0m-1 0h0m0 1h0m-4-2h0m-4 2h0m-5 1h0m-3 3h0m-8 0h0m-4-3h0m-11 6h0m-2-1h0m-2 0h0m-5-2h0m-4 4h0m-6-7h0m-6 3h0m0 4h0m-1-6h0m-1 4h0m-4-8h0m-8 8h0m-1-5h0m-24 2h0m-14 0h0m0 3h0m0 0h0m-3 2h0m-4-6h0m0 6h0m-4-4h0m0 2h0m-1 1h0m0 2h0m-2-3h0m-6 2h0m-11-1h0m0-5h0m-21 2h0m-2 2h0m-6 0h0m-2-8h0m0 4h0m0-3h0m-1 8h0m-8-7h0m-3-2h0m-5 3h0m-3-1h0m-3-3h0m-1 6h0m-1-5h0m-1 6h0m-25-3h0m-2-3h0m0 0h0m-2 6h0m-1 0h0m-3 3h0m-3-3h0m0 2h0m-2 2h0m0-10h0m-3 6h0m0 4h0m-8-7h0m-21 4h0m-3 2h0m-4-6h0m-8-3h0m-3 1h0m-2 7h0m-5-8h0m-7 5h0m-3 2h0m0-2h0m-3 2h0m0-4h0m-3 3h0m-7 1h0m0-1h0m-1 2h0m-2 11h0m3 2h0m4-6h0m2 4h0m0-1h0m2-6h0m1 0h0m0 10h0m0-2h0m2 2h0m3-7h0m1-3h0m1 5h0m6 5h0m2-10h0m0 9h0m0-7h0m2 9h0m1-5h0m6 3h0m18 1h0m5-10h0m3-1h0m2 1h0m3 10h0m1 1h0m3-2h0m4-7h0m1 4h0m1-5h0m2 2h0m0 6h0m2-8h0m3 8h0m2-1h0m5-4h0m1 6h0m3-8h0m5 6h0m1-5h0m5-3h0m1 8h0m10 3h0m10-5h0m1-6h0m2 5h0m1 1h0m1 3h0m1 0h0m3 2h0m4-5h0m8 0h0m4-6h0m3 4h0m7-1h0m1 6h0m0-3h0m1 3h0m3-1h0m2-5h0m3 0h0m2 4h0m2-8h0m4 10h0m3 0h0m0-4h0m1-5h0m0 4h0m3 2h0m1-7h0m5 0h0m1 4h0m4 5h0m1-2h0m7 1h0m4 2h0m1-9h0m26 8h0m10-5h0m3-1h0m11 1h0m6 2h0m7 4h0m5-1h0m3 2h0m3-9h0m1 8h0m2 2h0m10-12h0m0 9h0m1-2h0m8-4h0m3 5h0m4-5h0m2 4h0m4-2h0m3 2h0m1-6h0m16 1h0m3 2h0m3 7h0m6-2h0m2-4h0m0-4h0m4 0h0m3 7h0m1 3h0m5 0h0m10-7h0m1-3h0m0 4h0m1 2h0m11 0h0m4-1h0m2 1h0m4-5h0m2 9h0m0-8h0m0 5h0m2-8h0m5 1h0m1 8h0m2-2h0m4 4h0m4-3h0m3 1h0m1-4h0m3-5h0m0 8h0m0-4h0m4 4h0m4-7h0m4 10h0m1-9h0m2 2h0m2-3h0m9 5h0m1-5h0m0 7h0m0 1h0m2-5h0m1 7h0m5 0h0m4-9h0m6 0h0m0 6h0m1-2h0m7 6h0m3-1h0m1-5h0m2-2h0m2 6h0m12-1h0m1 1h0m4-1h0m1 1h0m6-9h0m5 9h0m1-4h0m3 6h0m6-1h0m9 1h0m1-4h0m0 2h0m0-9h0m0 3h0m0-3h0m1 8h0m4-9h0m0 10h0m4-8h0m1 7h0m3-6h0m0 0h0m4 2h0m0 2h0m4-1h0m3 1h0m0-6h0m3 9h0m2-9h0m1-1h0m2 4h0m1 2h0m1-6h0m2 9h0m8-3h0m2-5h0m2 6h0m2 1h0m1-6h0m3 7h0m0 8h0m-3 3h0m-1-4h0m-2 1h0m-2-4h0m-2 1h0m-6 5h0m-3 3h0m-5 0h0m-1-3h0m-3 1h0m-3-7h0m0-1h0m-2 0h0m0 9h0m-2-4h0m-1-5h0m-16 1h0m0 6h0m-1-7h0m-14 4h0m-3 6h0m-2-5h0m-1-2h0m-2-2h0m-1 6h0m-9 0h0m-1 2h0m-3 0h0m-2-1h0m-7-1h0m-5 4h0m-4-8h0m-2-2h0m0 9h0m-5 1h0m-1-7h0m-2-2h0m-1 6h0m0 0h0m-3-2h0m-3 0h0m-3-1h0m0 5h0m-2-9h0m0 5h0m-2 5h0m-1-6h0m-2 7h0m-2-1h0m-2 0h0m0-2h0m-2 1h0m0-5h0m-3 6h0m0 1h0m-7-6h0m-3 2h0m-9 1h0m-5-2h0m-2 3h0m-1-8h0m0 1h0m-1 8h0m0-9h0m-4 9h0m-3-8h0m-5 6h0m-2-8h0m-5 4h0m-1 7h0m0-11h0m-2 3h0m-1-2h0m0 9h0m-1 1h0m-2-6h0m-2 1h0m-1 3h0m-1-7h0m-1 3h0m-4-2h0m-3-2h0m-1 1h0m-6 7h0m-1 0h0m-4-7h0m-5 8h0m0-3h0m-1-6h0m-1 4h0m-13 4h0m-1 0h0m-7-7h0m-2 9h0m-1-11h0m-1 8h0m-1-1h0m-2-7h0m-2 7h0m-7-5h0m-4-2h0m-5 8h0m0-9h0m-1 3h0m-4 5h0m-2 1h0m-2-6h0m0 2h0m-1 7h0m-2-4h0m-1 1h0m-2-7h0m-1-1h0m-1 7h0m-2-6h0m-1 8h0m-1 1h0m-6-1h0m-1-6h0m-1 1h0m0 2h0m-2-5h0m-1 7h0m0-2h0m-2-1h0m-1-4h0m0 6h0m0 0h0m-4 3h0m-2-10h0m-5 0h0m0 0h0m-3 9h0m-3-3h0m-1 2h0m-2 1h0m-10-6h0m0 7h0m-1-5h0m-2 6h0m-5-6h0m-4 0h0m-3 0h0m0-3h0m-25 3h0m-8 2h0m-6 0h0m0 1h0m-1 1h0m-3-10h0m-9 9h0m0-2h0m-1-3h0m-7 7h0m-6 1h0m0-2h0m-6-1h0m-2 0h0m0 2h0m0-6h0m-4-1h0m-15-3h0m-1 3h0m-2-3h0m-2 10h0m-1-1h0m-2-10h0m-3 10h0m-1-3h0m-2 4h0m0-10h0m-2 5h0m-1-4h0m-3 6h0m-7-4h0m0 1h0m-5 4h0m-1 1h0m-9-9h0m-18 4h0m-1 6h0m-3-6h0m-5-4h0m-1 8h0m-5-4h0m0-1h0m-5 3h0m0-4h0m-1 4h0m-1-2h0m-8 2h0m0 1h0m-5-1h0m-1-3h0m-10-4h0m-4 9h0m-3-3h0m-3-6h0m0 2h0m-1 5h0m-3 1h0m-2-5h0m-3 5h0m0 1h0m-1-3h0m0 0h0m-3-5h0m0 4h0m-2 3h0m-2 2h0m-3-2h0m-2 0h0m-9 15h0m2-10h0m1 11h0m10-7h0m3 7h0m6 0h0m9 0h0m0-7h0m1-3h0m0 4h0m5 1h0m0 0h0m1-6h0m4 1h0m1-2h0m0 2h0m2 5h0m6-2h0m1-4h0m3 3h0m2-1h0m2 1h0m6-2h0m1 4h0m1-6h0m3 10h0m6 2h0m8-5h0m8-1h0m0-2h0m8 4h0m1 3h0m1-6h0m3 1h0m3-5h0m5 3h0m0 0h0m2 7h0m12 0h0m2-9h0m4 8h0m2-3h0m1 0h0m5 1h0m1-3h0m4 2h0m2 4h0m2-9h0m1 0h0m4-2h0m4 10h0m10 1h0m1-6h0m1 5h0m1-6h0m1-3h0m4 6h0m3 1h0m2-1h0m3 5h0m1-3h0m1-8h0m2 1h0m7 5h0m0 3h0m1-2h0m3 2h0m1-9h0m3 10h0m5-3h0m1-5h0m1 6h0m2-6h0m0 6h0m2-5h0m52-2h0m14 2h0m1-3h0m1-1h0m0 7h0m4 4h0m1 0h0m2-5h0m1 5h0m5 1h0m0-1h0m1-7h0m1 0h0m4 8h0m2-6h0m3-4h0m0 8h0m1-2h0m4-1h0m1-7h0m7 5h0m2 5h0m3 0h0m3-4h0m4-1h0m6 5h0m5-6h0m4-4h0m3 5h0m8-3h0m8 7h0m0 0h0m0-7h0m1 4h0m1 3h0m0-1h0m2-2h0m2 3h0m3-7h0m0-1h0m1 10h0m2-8h0m2 7h0m1 1h0m1 0h0m2-1h0m0-9h0m6 9h0m5-2h0m2-5h0m4 5h0m0-4h0m0 3h0m1-6h0m0 8h0m5-3h0m1 5h0m1 1h0m2-9h0m3 3h0m0-1h0m1 0h0m5 7h0m1-8h0m2-2h0m1 3h0m3 3h0m1-7h0m0 6h0m3-1h0m4-5h0m0 4h0m2 4h0m3-9h0m4 9h0m3-1h0m0 1h0m1 1h0m4 0h0m3-9h0m3 0h0m19 5h0m19-3h0m1 3h0m4-1h0m2 3h0m0 3h0m2-4h0m2-6h0m0 9h0m0-9h0m1 4h0m4 4h0m5 3h0m2-10h0m0 4h0m1 6h0m4-2h0m9-6h0m2 4h0m0-3h0m3-2h0m0-3h0m3 8h0m2 2h0m2-2h0m2-6h0m2 1h0m5 7h0m1-8h0m1-1h0m5 10h0m4-11h0m1 9h0m8-7h0m4 7h0m0 0h0m12-1h0m2-8h0m-5 16h0m-2 0h0m-1 0h0m0 7h0m0-9h0m-8-2h0m-5 9h0m-4 2h0m-1-9h0m-3 5h0m-1-7h0m-2 9h0m0-2h0m-8-1h0m-1 6h0m-8-9h0m-2-2h0m-5 7h0m-2-1h0m-6 2h0m0-1h0m-1 2h0m-2-1h0m-1-7h0m-1 9h0m-7-11h0m-17 5h0m-1 1h0m-3 3h0m-3-3h0m-2 2h0m-6-2h0m-2 1h0m-9 2h0m-3 0h0m-4 3h0m-7-10h0m-3 9h0m-4-10h0m-6 5h0m-2 4h0m-8-2h0m-3 3h0m-2-5h0m-2 1h0m-3 1h0m0-2h0m-1-5h0m0 1h0m-3 0h0m0 7h0m-3-1h0m-4 2h0m-1-8h0m-1 1h0m0-2h0m-1 9h0m-1-7h0m0-3h0m-5 2h0m-2 3h0m0 2h0m-1 3h0m-7-5h0m-1 4h0m-1 1h0m-1-3h0m-3 2h0m-1-4h0m-1 5h0m-3-10h0m0 9h0m0-1h0m-3-7h0m0 6h0m-1 0h0m-4 2h0m-3-1h0m-1 2h0m-5 2h0m0-5h0m-2-4h0m-1-3h0m0 8h0m-1-5h0m-4 7h0m0-1h0m-3-2h0m-6-4h0m0 1h0m-1 4h0m-1-6h0m-2 8h0m-1-3h0m-7-6h0m-2 9h0m-3-8h0m-3 8h0m-2-1h0m-1-8h0m-2 0h0m0-1h0m-3 9h0m-2-1h0m0 2h0m0 0h0m-1-6h0m-2 0h0m-1 0h0m-6 5h0m-1-2h0m-1-5h0m0 3h0m-2 4h0m-2-8h0m-1 9h0m-6-2h0m-1-2h0m-2 4h0m-2-2h0m-2 4h0m-1-1h0m-3-10h0m-2 9h0m-19-9h0m-52-1h0m-5 2h0m-2 8h0m-2-1h0m-8-8h0m-3 4h0m-8 1h0m-2-1h0m0-3h0m-1 1h0m-1-3h0m0 6h0m-3-5h0m-3-1h0m-1 9h0m0-3h0m-2 2h0m-3-1h0m-6 4h0m-2-9h0m-8 4h0m-1 1h0m-1 4h0m-2-8h0m-6 1h0m0 0h0m-2 7h0m-2-11h0m-2 11h0m-2-5h0m-4-4h0m-2 3h0m-4-2h0m0-3h0m-1 2h0m-3 8h0m0-2h0m-5 1h0m-2-3h0m0 5h0m-1-2h0m-4-8h0m-5 0h0m-1 9h0m0 0h0m-3 1h0m-5-10h0m-3 0h0m-8 4h0m-3 1h0m-3 3h0m-7-6h0m-4 4h0m-1-4h0m-1-3h0m-1 10h0m0-3h0m0 4h0m-1-6h0m0 5h0m-2 1h0m-2 1h0m-3-12h0m-6 6h0m-2 0h0m-8 5h0m0 1h0m0-4h0m-13-3h0m-9-3h0m-8 1h0m0 7h0m5 6h0m5 7h0m1-5h0m3 4h0m1-8h0m2 9h0m2-2h0m6 2h0m1-6h0m3-4h0m7-1h0m8 7h0m1 2h0m2-2h0m7-2h0m3-4h0m1 5h0m3 5h0m1-1h0m2-2h0m7 1h0m5-3h0m4 3h0m4-9h0m4 9h0m1-8h0m9 8h0m2 3h0m3-7h0m1 5h0m1 2h0m0-11h0m0 3h0m1 7h0m2 0h0m3 0h0m1-10h0m7 8h0m1-4h0m5 1h0m9 0h0m1 1h0m1 0h0m1-2h0m8 1h0m3 0h0m0 0h0m3-5h0m1 3h0m5 7h0m1-5h0m5 4h0m4-10h0m2 7h0m0 4h0m3-4h0m1 2h0m0-7h0m4 7h0m5 2h0m1-3h0m6-4h0m1 7h0m1-1h0m2-7h0m1-2h0m7 0h0m85 2h0m3 3h0m0-4h0m7 6h0m0-7h0m1 7h0m1-4h0m0 1h0m3-5h0m3 6h0m1 5h0m3-10h0m0 6h0m1 2h0m1 2h0m0-9h0m11-2h0m2 10h0m0-1h0m9-7h0m0 8h0m6 1h0m0-6h0m1-3h0m9 1h0m0 2h0m1-1h0m6-1h0m1 9h0m1-10h0m8 6h0m0 3h0m4-4h0m6-7h0m11 11h0m3-1h0m5-9h0m2 6h0m0-1h0m7-3h0m0 6h0m2-4h0m6 6h0m1 0h0m1 1h0m2-10h0m0 4h0m8-1h0m3 1h0m1 1h0m0-3h0m1 5h0m0 0h0m1-8h0m1 0h0m1-1h0m0 6h0m2 1h0m0 1h0m9-1h0m1-4h0m5 1h0m0 3h0m3-3h0m6 0h0m10-1h0m0 8h0m1-1h0m1 0h0m4-8h0m2 10h0m1-10h0m0 10h0m1-1h0m1-1h0m0 2h0m2 0h0m0-8h0m2 8h0m1 0h0m1-6h0m2-6h0m2 9h0m1-9h0m4 11h0m1-8h0m0 9h0m0-2h0m18-9h0m0 0h0m5 1h0m5 6h0m4 3h0m1-5h0m3-3h0m0-1h0m2 2h0m2-2h0m1 9h0m0-5h0m2 0h0m4 3h0m1-2h0m6-2h0m1-3h0m1 4h0m1 0h0m5-1h0m6-3h0m2 0h0m1 4h0m7-1h0m3 0h0m-22 8h0m-7 3h0m-9 0h0m0 2h0m-1-2h0m-1 6h0m0-3h0m-1-2h0m-2-2h0m-6-1h0m-1 6h0m-1-1h0m-6 3h0m-3-10h0m0 2h0m-17 7h0m0-4h0m-3-4h0m-9 10h0m0-9h0m-6-1h0m-1 4h0m0-3h0m-1-2h0m-2 4h0m-5-1h0m-6 0h0m-3 5h0m-7 0h0m-2-7h0m-12 11h0m-3 0h0m-2-2h0m-1 1h0m-3-7h0m0 1h0m-1-5h0m-3 8h0m-1 0h0m-1-5h0m-2 8h0m-5-7h0m-1 2h0m-8-2h0m-2-3h0m-3 2h0m-1-1h0m0 3h0m-1-2h0m-2 3h0m-2 3h0m-1-5h0m-2 4h0m0 0h0m-4-3h0m-1 6h0m-2-5h0m-1 1h0m-5 3h0m-2-8h0m0 1h0m-6 5h0m0 2h0m-3-4h0m-9-4h0m-4-1h0m-27 2h0m0 7h0m-4-1h0m-2-6h0m0 1h0m-7 1h0m0 3h0m-5 2h0m-1-5h0m-1-5h0m-7 6h0m-6 2h0m-2-2h0m-96-6h0m0 2h0m-4 0h0m-1 6h0m-2-2h0m-2 0h0m-3 4h0m-1-7h0m0-3h0m0 1h0m-5-1h0m-1 5h0m-2 6h0m-4 0h0m-6-9h0m-1 5h0m0 3h0m-9-7h0m0 7h0m-3-2h0m0-1h0m-2-3h0m-3-3h0m-3 9h0m-2-6h0m-1 5h0m-3-1h0m-2-4h0m-2 0h0m0-2h0m-1 5h0m-1-1h0m-2-1h0m-1 5h0m-3-8h0m-1 10h0m-4-8h0m-4 2h0m-8 3h0m-3-4h0m-8-3h0m-1 3h0m-11 2h0m-4-2h0m0 5h0m-5-7h0m-7 8h0m0-6h0m-1 4h0m-1-7h0m0 10h0m-1-7h0m0-4h0m-2 9h0m-3 1h0m-2-3h0m-6 3h0m0-1h0m0-4h0m0-3h0m-1 8h0m-1 1h0m-1-2h0m0-8h0m0 1h0m-2 6h0m-3-1h0m-5 3h0m-2 0h0m-3-10h0m-2 8h0m-7-9h0m-7 6h0m-2-2h0m-1 3h0m-1-1h0m-2-4h0m-3 0h0m-1 9h0m-1-10h0m-5 5h0m0 3h0m-5-2h0m-1 3h0m-5-4h0m-1 5h0m0-2h0m-2-7h0m-1 10h0m-1-5h0m-1 3h0m-4-7h0m-5 6h0m3 12h0m1 0h0m5-3h0m10-3h0m6 7h0m1-4h0m0-2h0m2 6h0m0-9h0m2 6h0m3-3h0m1 0h0m0 0h0m2 3h0m0-2h0m2 4h0m0 2h0m0-4h0m5-1h0m1-1h0m0 4h0m0-2h0m11-6h0m9 7h0m1 2h0m2-3h0m5-6h0m1 8h0m3-5h0m2 3h0m3 3h0m1 1h0m0-8h0m0 0h0m1 1h0m1-2h0m0 0h0m0 9h0m3-5h0m0-1h0m5-1h0m1-2h0m3 6h0m1-5h0m4-3h0m3 0h0m1 5h0m1 6h0m1-9h0m0 8h0m3 0h0m2-10h0m3 4h0m2 7h0m2-7h0m2 8h0m1-9h0m2 4h0m9 1h0m4-7h0m1 11h0m0 0h0m7 0h0m2-6h0m3 3h0m3 3h0m0-8h0m0 7h0m3-8h0m10 9h0m2-10h0m2 8h0m3-6h0m1 5h0m0-3h0m2 4h0m2-4h0m2-1h0m0 1h0m2 3h0m1-8h0m4 5h0m2-5h0m1 3h0m2-2h0m4 1h0m2 8h0m0-9h0m1-1h0m0 7h0m1 1h0m2-8h0m5 11h0m4-5h0m1-3h0m2-4h0m3 11h0m0-5h0m2-2h0m105 0h0m1 7h0m2-1h0m1-1h0m1 0h0m5-5h0m1-2h0m3 10h0m4-8h0m5 1h0m3-3h0m52-1h0m9 6h0m5 1h0m2 1h0m10-4h0m1 6h0m1-7h0m2 3h0m1-1h0m0 5h0m1-2h0m2-4h0m9 3h0m2-3h0m13-5h0m0 1h0m1 5h0m0 5h0m4-8h0m2 2h0m3 4h0m6-8h0m4 0h0m1 4h0m4 5h0m2-1h0m9-7h0m2 7h0m12-1h0m0 1h0m13-7h0m5 3h0m15-3h0m2 10h0m4-1h0m15-9h0m4 6h0m1-8h0m-15 23h0m-5-9h0m0 1h0m-1 6h0m-1-4h0m0 0h0m-5-3h0m-3 3h0m-2 6h0m-5-4h0m-6 2h0m-4-9h0m-4 11h0m-6-1h0m-17-1h0m-12-5h0m-15 8h0m-1-10h0m-1-2h0m-7 3h0m0 2h0m-6 2h0m-3-2h0m-2 2h0m-1 3h0m0-2h0m-1-2h0m0 1h0m-4 0h0m-6-3h0m-2-3h0m-11 0h0m-74 2h0m-1-2h0m-5 3h0m-9 5h0m0-2h0m-6-2h0m-4 0h0m-2-3h0m-103 1h0m0 1h0m-1 7h0m-5-2h0m-2-4h0m-8 4h0m-1-4h0m-1 0h0m-1-4h0m-4 0h0m-2 5h0m-6-1h0m-1 1h0m-7-3h0m-3 2h0m-4-4h0m-1-1h0m-2 7h0m-1 1h0m-4-8h0m-4 6h0m-3-2h0m0 4h0m0 0h0m-2-7h0m0 4h0m-1-4h0m-2 9h0m-2-4h0m-1 6h0m-1-2h0m0-8h0m-3 8h0m-3-3h0m-5 4h0m-1-6h0m-5 2h0m0 4h0m-1-8h0m-1 5h0m-1 2h0m-3-5h0m-4 5h0m-5 1h0m-3-2h0m-1-2h0m-1 4h0m-1-3h0m0 0h0m-1 2h0m0-8h0m-1 9h0m-2-3h0m-3-6h0m-1-1h0m0 11h0m-4-10h0m0 6h0m-5-6h0m0-1h0m0 6h0m-10-2h0m-6 3h0m0 0h0m-1-1h0m-5 3h0m0 2h0m-15-8h0m-10 1h0m-2 6h0m-7-1h0m-2-10h0m-4 11h0m-4-9h0m-1 6h0m-3 2h0m-1-2h0m-1-3h0m-4 3h0m-2 0h0m-2 2h0m0-9h0m-1 9h0m-6-8h0m-2 4h0m-5 0h0m0 8h0m10 2h0m7 4h0m5-8h0m1 8h0m9 0h0m1-4h0m1 2h0m1-4h0m0 9h0m2-2h0m0-5h0m3 0h0m3 8h0m1-7h0m13 6h0m1-1h0m3-4h0m5-6h0m1 11h0m1-4h0m1 2h0m1-3h0m4-2h0m10 0h0m1-2h0m10 3h0m0-2h0m0 4h0m6-2h0m2-1h0m3-3h0m0 5h0m6 1h0m0 0h0m1-7h0m1 2h0m1 1h0m1-3h0m3 7h0m0 3h0m1-2h0m0 0h0m6 0h0m0-4h0m1 2h0m3-1h0m11 0h0m2-1h0m0 7h0m0 0h0m0-4h0m3 0h0m1-3h0m5-4h0m10 11h0m7-8h0m0 6h0m1-1h0m2-3h0m8 0h0m2-2h0m7 9h0m0-11h0m2 0h0m0 10h0m2-5h0m1-5h0m3 5h0m0-5h0m1 1h0m3 4h0m1-4h0m2 5h0m2-4h0m0 1h0m2-4h0m0 0h0m1 0h0m2 10h0m0-10h0m0 8h0m2 1h0m2-8h0m2 4h0m1 1h0m112-6h0m21 11h0m121-8h0m16 7h0m11-3h0m2-4h0m0 3h0m2-3h0m1 0h0m2 6h0m7 2h0m15-1h0m22-9h0m3 10h0m3-3h0m5-7h0m-23 16h0m-19 3h0m-5 0h0m-1-1h0m-1-2h0m-8-3h0m-3 9h0m-3-3h0m-9-7h0m-140 4h0m-1 1h0m-7-4h0m-7 0h0m-120 4h0m0-5h0m-1 2h0m-4 6h0m-7-7h0m0 9h0m0-10h0m-2 9h0m-3-9h0m-7 8h0m-3 0h0m-3-7h0m-8 5h0m-2-4h0m0 3h0m-1 1h0m-3-3h0m-1 3h0m-1 5h0m0-1h0m-1-2h0m-3-1h0m0-8h0m-3 2h0m0 7h0m-1 1h0m-1-9h0m0 10h0m-2-9h0m0 0h0m-2 1h0m-5 1h0m-3-1h0m-1 7h0m-1-7h0m0 3h0m-1-4h0m-1 7h0m-2-1h0m0 4h0m-2-9h0m0 3h0m-3 0h0m-5 6h0m-4-9h0m0 7h0m-1-8h0m0 1h0m-1 1h0m-1 3h0m0 0h0m-1 3h0m-1-1h0m0 0h0m-1-3h0m-1-5h0m-1 9h0m-3-9h0m-4 0h0m-6 7h0m0-6h0m-1 2h0m0 7h0m-5-9h0m-2 3h0m-2 5h0m-6 1h0m-2-3h0m0-1h0m-1-2h0m-5 4h0m-5-4h0m-2-1h0m-1-4h0m-3 6h0m-1-3h0m0 6h0m-2-7h0m-9 8h0m-3-1h0m-1-8h0m-7 4h0m-1 7h0m-2-4h0m0 1h0m-3-1h0m0 1h0m-1-6h0m-1 2h0m-1 4h0m-3-5h0m0-2h0m-1 3h0m-2 1h0m-6-4h0m-2 7h0m-1-4h0m-4 5h0m-2 0h0m-2-9h0m-1 6h0m-5-5h0m-3 9h0m-2-11h0m-3 0h0m5 18h0m0 1h0m1 0h0m2-4h0m10-1h0m0-1h0m3 3h0m8-1h0m7 0h0m2 8h0m1-4h0m1 3h0m0-3h0m3 0h0m0-4h0m0-1h0m0-2h0m0 7h0m12-4h0m2-1h0m1 5h0m8 1h0m2 0h0m1-2h0m0 0h0m1 2h0m3 3h0m0-5h0m4-6h0m0 5h0m3-4h0m0 1h0m1 0h0m2 1h0m1 7h0m2-2h0m3 2h0m12-8h0m10 1h0m3 1h0m3-1h0m5 5h0m2-1h0m4 4h0m4-4h0m1 1h0m0 4h0m1-2h0m3-3h0m0 5h0m1-7h0m4-5h0m6 3h0m1 4h0m0-3h0m4 8h0m6-7h0m1 2h0m3 4h0m0 0h0m1-6h0m0 3h0m1 1h0m0 2h0m1 0h0m0-3h0m3 3h0m1-3h0m0-4h0m8 7h0m1-2h0m2 1h0m2-4h0m1-4h0m3 7h0m2-5h0m0 1h0m2 5h0m2-4h0m1 6h0m1-7h0m1 0h0m2 4h0m0 2h0m4-5h0m2-1h0m1-2h0m0 3h0m1 0h0m4-5h0m128 5h0m5 1h0m3-6h0m148 2h0m9-2h0m2 0h0m2 10h0m10-8h0m5 3h0m7-5h0m4 3h0m-190 9h0m-134-1h0m-2 10h0m0-8h0m-1 1h0m-1 4h0m-1-1h0m-4 3h0m0-1h0m-2-1h0m-2-2h0m-2-3h0m0 4h0m-4 2h0m-1-8h0m-1 3h0m-4-3h0m0 4h0m-5-4h0m0 6h0m-16 5h0m-1-1h0m-4-6h0m-1 6h0m-1-3h0m-1-3h0m-2 5h0m-3-9h0m-4 10h0m-1-9h0m0 6h0m-1-2h0m-6-2h0m0-3h0m-1 9h0m-2-7h0m-1 8h0m-2-9h0m-1 8h0m-1-8h0m-3 6h0m-1 4h0m0-8h0m-1 7h0m-2-6h0m-2 2h0m0 3h0m-3-5h0m0 2h0m0 0h0m-2-5h0m-3 1h0m-3 9h0m-1 1h0m-6-7h0m0-1h0m-3 7h0m-2-4h0m0-7h0m-7 5h0m-1-1h0m0 8h0m-2-5h0m0-5h0m-2 4h0m-4 2h0m-1 2h0m-1-2h0m-3 1h0m0-3h0m-2 3h0m-1-4h0m-4 4h0m-3 2h0m-1 0h0m-2-6h0m-2 4h0m-1-5h0m0-1h0m-3 7h0m-1-3h0m-5-6h0m-2 2h0m-4 5h0m-1-3h0m0 3h0m0-7h0m-3 0h0m0 10h0m-4-9h0m0 3h0m-11 2h0m0-3h0m-1 1h0m0-2h0m-6 1h0m-2 5h0m-2-8h0m-1 5h0m-2 5h0m-1-4h0m-2-2h0m-1 1h0m-1 1h0m-1-5h0m6 13h0m4 0h0m0 7h0m7-9h0m4 10h0m0-2h0m0-7h0m0 2h0m3 4h0m2-5h0m0 3h0m2 0h0m2 1h0m2 5h0m3-2h0m8-5h0m1 0h0m1-1h0m11-1h0m3-3h0m1 12h0m1-7h0m4-1h0m1 8h0m0-1h0m2-7h0m1-2h0m7 1h0m2 2h0m1 2h0m1-3h0m6-3h0m4 5h0m1 3h0m7-5h0m2-1h0m0 1h0m3 6h0m4-2h0m2-6h0m0 2h0m2 2h0m0 0h0m3 5h0m1-3h0m0 3h0m3-8h0m4 5h0m1-2h0m6-5h0m28 11h0m2-4h0m4 2h0m4-7h0m6 9h0m3-4h0m2 1h0m0-6h0m1 8h0m0-10h0m1 2h0m3-1h0m1 6h0m2 1h0m0 3h0m6-5h0m1 3h0m1 0h0m1-3h0m1-3h0m2-1h0m1 1h0m-10 17h0m-1 2h0m-2-10h0m-3 10h0m-4-2h0m-4 1h0m-2 1h0m-2-2h0m-5-3h0m-2-3h0m0 0h0m-1-3h0m-4 11h0m-2-2h0m-4-5h0m-1 4h0m-1-5h0m-1 8h0m-9 1h0m-4-4h0m-5-1h0m-8-4h0m-2-1h0m-2 2h0m-1-2h0m-4 1h0m0 0h0m-1 1h0m-1 0h0m-1 0h0m-8 0h0m-2 1h0m-6-3h0m-4 7h0m0 3h0m-4-4h0m-1 1h0m0 2h0m-3-11h0m-5 4h0m-1-1h0m-3 3h0m-1 2h0m-3-7h0m0 4h0m-5-4h0m0-1h0m-3 6h0m0-4h0m-2 6h0m-1-8h0m-1 7h0m-2-7h0m-5 5h0m-5-5h0m-9 2h0m-1 2h0m-1-1h0m-3 3h0m-1 5h0m-4-4h0m-7-3h0m0-2h0m-2 2h0m10 9h0m2 4h0m1 1h0m8-6h0m0 9h0m3 3h0m1-8h0m3 5h0m4-5h0m0 4h0m13-6h0m1 0h0m0-2h0m16 11h0m1 0h0m1-9h0m0 9h0m3 0h0m2-10h0m0 1h0m1 5h0m45-6h0m15 7h0m4-3h0m7 3h0m2-5h0m2 2h0m0 7h0m1-7h0m2-2h0m1 5h0m1-6h0m0 5h0m1 2h0m2 3h0m0-5h0m0-6h0m2 10h0m3-8h0m0-1h0m-4 11h0m-2 2h0m-9 3h0m-14-3h0m-3-3h0m-63 8h0m-1 0h0m-4-7h0m-8 5h0m-3-4h0m-17 2h0m-3-2h0m-6-1h0m34 19h0m89-8h0m5 0h0m-8 20h0m0-5h0m-4 8h0m-7-7h0"/>
<path id="a15" d="M549 567h0m6 47h0m-373 8h0m8 11h0m1-5h0m281-1h0m42 2h0m46 2h0m43-5h0m35 18h0m-15 15h0m25-10h0m37 22h0m-45-7h0m-13 1h0m-16-3h0m0 1h0m-125 5h0m-4-6h0m-248-1h0m-29 9h0m-11-4h0m-9 2h0m57 8h0m29-2h0m34-1h0m204 9h0m118-6h0m25 6h0m42 0h0m17 10h0m-15-1h0m-52-2h0m-47-4h0m-5 2h0m-21 5h0m-92-6h0m-2 5h0m-20-6h0m-43 8h0m0 3h0m-59 0h0m-92-11h0m-13 10h0m-88 3h0m22 5h0m241-7h0m48 5h0m24-4h0m102-1h0m50 2h0m1 3h0m36-3h0m7 6h0m13-3h0m0 17h0m-25-8h0m-66-2h0m-28 4h0m-24 7h0m-4 0h0m-32-2h0m-28-8h0m-99 8h0m-100-3h0m-51 5h0m-25-8h0m-49 14h0m179-3h0m9 1h0m13 5h0m4-4h0m35 6h0m9 1h0m45-10h0m0 1h0m69 1h0m47-1h0m39 5h0m13-6h0m44 10h0m23-4h0m-2 6h0m0 6h0m-12 0h0m-37-6h0m-11 4h0m-11 4h0m-29 2h0m-27-10h0m-5 3h0m-139-3h0m-145 2h0m-31 1h0m-43 3h0m126 10h0m129 1h0m30-6h0m68 8h0m4 2h0m10-8h0m40 4h0m22-1h0m9-1h0m28-2h0m11 8h0m20-5h0m-66 19h0m-56-8h0m-165 0h0m-15-3h0m-18 0h0m-56 5h0m-40 3h0m-20-7h0m-75 2h0m-35 14h0m109-3h0m247-2h0m38 0h0m27 10h0m30-2h0m64 3h0m8-1h0m2-4h0m6 2h0m2 11h0m-1-1h0m-7-4h0m0 8h0m-1-8h0m-22 5h0m-82 0h0m-87 3h0m-7-8h0m-265 7h0m-28-6h0m-54 20h0m9-11h0m26 6h0m249 1h0m49 3h0m113-9h0m47 7h0m32 1h0m34 2h0m8 10h0m-57-4h0m-12-1h0m-2 2h0m-7-4h0m-10 8h0m-4-1h0m-20-9h0m-5 0h0m-63 1h0m-5-1h0m-56 8h0m0 3h0m-34-11h0m-3 5h0m-30 0h0m-103 5h0m-73-10h0m-57 5h0m-28 17h0m97-8h0m48 1h0m134-4h0m37 11h0m169-5h0m3 6h0m3-8h0m22 5h0m16-3h0m40 8h0m-11-2h0m-2 10h0m-18-1h0m-26-5h0m-24 8h0m-94-5h0m-6 3h0m-6-10h0m-56 9h0m-334-3h0m-7 14h0m81-2h0m47 1h0m153-4h0m44 4h0m29 1h0m88 3h0m4-2h0m56-1h0m14-5h0m42 2h0m17 5h0m-53 12h0m-86-5h0m-8 6h0m-4 0h0m-14-7h0m-10-2h0m-21 5h0m-82-7h0m-177 4h0m-16 0h0m-66 16h0m111-6h0m8 8h0m45-8h0m94 8h0m29-6h0m18-3h0m3 2h0m28 3h0m82-6h0m20 3h0m60 6h0m10 1h0m18 9h0m-14-6h0m-35 9h0m-67-7h0m-115-2h0m-2-1h0m-9 1h0m-121 1h0m-34 5h0m-63 3h0m-31-3h0m-54 0h0m-22-5h0m33 14h0m12 2h0m15 3h0m68-7h0m23 0h0m29 7h0m9 2h0m7-7h0m133 0h0m204 16h0m-352-2h0m-23 0h0m-45-3h0m-66 12h0m32-2h0m260 10h0m159 10h0m-36-8h0m-267 6h0m-184 11h0m88-5h0m37 8h0m17-3h0m-59 9h0m-5 7h0m14 5h0m62 0h0m31 12h0m-108 16h0m62-7h0m11 9h0m-6 13h0m2 4h0"/>
<path id="a16" d="M198 621h0m-13-4h0m-2-2h0m-2 7h0m-3-6h0m-3-2h0m-11 20h0m1 1h0m1 0h0m0-11h0m0 6h0m12 4h0m4-10h0m13 6h0m5-1h0m4-1h0m1 5h0m365 8h0m-31 2h0m-340 0h0m-1-5h0m-3 1h0m-8 0h0m-8 7h0m-22-3h0m-2 4h0m0-6h0m0 2h0m10 12h0m12 4h0m5-9h0m4 2h0m2-4h0m23 10h0m442-8h0m-163 18h0m-33-4h0m-245-4h0m-3 9h0m-13 2h0m-3-10h0m-8 0h0m-5 10h0m-8 1h0m-9-5h0m-4 4h0m-7-8h0m-4 9h0m-7 4h0m2 2h0m5-3h0m1-1h0m50-2h0m1 11h0m1-8h0m233 6h0m143-3h0m104 0h0m0 13h0m-128 2h0m-353-1h0m-9 1h0m-2-8h0m-34 10h0m-6 0h0m-1-8h0m-16 17h0m0-5h0m0 5h0m1 2h0m5-1h0m0-3h0m3 1h0m10-6h0m20 6h0m7-7h0m14 11h0m61-10h0m5 5h0m4 5h0m65 0h0m150-11h0m16 5h0m42 5h0m44 0h0m-131 4h0m-26 8h0m-4-4h0m-149 1h0m-71 2h0m-2 2h0m-21-5h0m-1 6h0m-8-12h0m-9 5h0m-25-3h0m4 20h0m2 0h0m9-1h0m3-3h0m4-1h0m11 4h0m4-3h0m1 0h0m3-5h0m6 2h0m5-1h0m6-2h0m12 1h0m37 7h0m22 1h0m344-8h0m68 3h0m13 5h0m-14 3h0m-79 6h0m-2 3h0m-75 2h0m-5-6h0m-316 5h0m-19-1h0m-15-3h0m-4 1h0m-2-5h0m-5 8h0m-2 1h0m-9-3h0m-1 0h0m-4-1h0m0-6h0m-2 1h0m0 19h0m11-3h0m28 1h0m11 4h0m6-9h0m1-1h0m4 6h0m87-3h0m254-3h0m10 1h0m115 4h0m-331 16h0m-128-8h0m-2 9h0m-7-2h0m-4 2h0m-8-7h0m-2 3h0m-13-5h0m-11 8h0m-9 1h0m-11-4h0m-4 11h0m4 4h0m16-3h0m9 5h0m3-7h0m12 1h0m4-6h0m1 12h0m2-12h0m16 8h0m7 1h0m18-6h0m177 8h0m12-10h0m232-1h0m20 18h0m-44-3h0m-143-1h0m-179 7h0m-66 1h0m-56 0h0m-17-7h0m-6 1h0m-5 3h0m-3 3h0m-2-4h0m-3-4h0m-13 5h0m5 7h0m10 9h0m14-7h0m9-3h0m1 2h0m11 6h0m1 2h0m8-10h0m2 0h0m3 8h0m7-8h0m6 11h0m191-5h0m14-4h0m36 1h0m153 17h0m-5-6h0m-322 4h0m-108-2h0m-31-4h0m-1 15h0m207 4h0m51-4h0m82-1h0m124 6h0m21 8h0m-46 0h0m-145 0h0m-131 5h0m-55-9h0m-116 1h0m7 18h0m8-7h0m1 2h0m1-2h0m2 4h0m182 3h0m123-2h0m111-4h0m92 3h0m20 17h0m-193-5h0m-338 7h0m-4-8h0m-5 6h0m-1-6h0m0 5h0m-4-1h0m-6-6h0m-2 15h0m5 4h0m1 2h0m4 1h0m1-12h0m3 9h0m4 1h0m4-6h0m2-1h0m1 0h0m25 6h0m47-5h0m61 0h0m164 8h0m110-7h0m18 19h0m-294-12h0m-155 6h0m-1 6h0m0 5h0m21-2h0m67 7h0m2-6h0m55 4h0m35-3h0m158-5h0m154 11h0m-362 2h0m-60 20h0m446-5h0m-32 11h0m-449 3h0m-15 15h0m86-3h0m422-3h0m-445 28h0m71 10h0m-58 2h0m61 17h0m13 4h0"/>
<path id="a17" d="M538 586h0m11-7h0"/>
<path id="a18" d="M545 596h0m-23 76h0m-333-1h0m37 1h0m54 2h0m-57 15h0m-1 16h0m41-9h0m132 10h0m66-2h0m-45 9h0m-182-5h0m297 32h0m-20-1h0m-51-3h0m-231-4h0m381 14h0m-354 12h0m442 19h0m-9 13h0m-344 0h0m-47-4h0m-96 10h0m64 16h0m-134 14h0m493-7h0m-342 24h0m378 6h0m-120 9h0m-113 8h0m-241 25h0m17 27h0m97 8h0m-63 9h0m-3-2h0m32 6h0m193 6h0m-270 36h0m87 20h0"/>
<path id="a19" d="M549 617h0m-57 31h0m-29 17h0m93 13h0m-288 15h0m162 5h0m-204 23h0m154 12h0m113 15h0m86 15h0m-254 16h0m103-6h0m119-4h0m-212 33h0m319-8h0m16-1h0m30 15h0m-559 14h0m74 1h0m81 2h0m306-7h0m18 13h0m-496 8h0m570 45h0m-2 1h0m-1-1h0m-3-4h0m-40 6h0m-49 2h0m-78-11h0m-231 12h0m233 3h0m58 3h0m4-2h0m3 1h0m1 4h0m2-1h0m4-7h0m3 3h0m5-1h0m13 5h0m30 3h0m2-7h0m14 0h0m10 5h0m7-4h0m0 1h0m0-6h0m1 4h0m3 7h0m0 1h0m-1 2h0m-3 5h0m-2-2h0m-16-1h0m-1 2h0m-2-3h0m0 2h0m-1 0h0m-8-4h0m-1 2h0m-1 3h0m-1-6h0m-14 10h0m-3-10h0m-7 10h0m-6-4h0m-11-2h0m-12-1h0m-5-1h0m-16 1h0m-7-4h0m-300 5h0m-109-1h0m288 10h0m3 7h0m130-8h0m21 1h0m0 1h0m7 7h0m3-1h0m3-5h0m6 1h0m0 5h0m2-9h0m16 7h0m1-1h0m6-4h0m1 6h0m8-4h0m2 5h0m7-5h0m1 1h0m-7 17h0m-12-5h0m-2 5h0m-1-5h0m-12-5h0m-2 0h0m-15 8h0m-3 1h0m-5-5h0m-139-2h0m-12 3h0m-4 0h0m0 4h0m5 13h0m7-6h0m139-1h0m14-3h0m2 5h0m2-3h0m16 8h0m2-4h0m6-4h0m-179 13h0m-2-2h0m-216 24h0m-14 5h0m-38 12h0m7 4h0m93 13h0m-4-3h0m-4 1h0m-4 1h0m-5-4h0m-89 2h0m3 4h0m2 3h0m4 5h0m77-7h0m5 9h0m3 0h0m2-8h0m0 5h0m1 1h0m7 0h0m-6 6h0m-3 1h0m-3-3h0m0 0h0m-1 1h0m-6-1h0"/>
<path id="a20" d="M558 623h0m-4-1h0m-384 4h0m297 7h0m6 2h0m9 1h0m25-7h0m55 6h0m9-9h0m13 7h0m5-6h0m4 10h0m-8 8h0m-5-6h0m-78 6h0m-11-9h0m-5 3h0m-4-1h0m-13 6h0m-304 1h0m9 14h0m288-3h0m5 2h0m15 1h0m35-5h0m14 1h0m11-5h0m31 4h0m1 3h0m60 7h0m-45-3h0m-17 6h0m-3-1h0m-21-2h0m-5 0h0m-2 2h0m0 1h0m-10 4h0m-13-2h0m0-7h0m-3 1h0m-16 1h0m-2 4h0m-244 14h0m35-4h0m10 2h0m183-2h0m24-3h0m7 5h0m6 4h0m5-1h0m16-3h0m5 2h0m7 1h0m2-10h0m1 7h0m1 1h0m27 0h0m105 0h0m-99 8h0m0 0h0m-14 0h0m-18 0h0m-17-4h0m-2 6h0m-1 4h0m-17 0h0m-3-8h0m-4 7h0m-128 0h0m-42 2h0m-71-8h0m-3 7h0m-9-10h0m-9 11h0m-1-10h0m-14 4h0m-3 4h0m0-3h0m-15-1h0m-22 0h0m39 13h0m3 1h0m12-2h0m20 1h0m3 5h0m7-8h0m6 3h0m3-6h0m16 4h0m8-2h0m4 8h0m0-9h0m1 4h0m17-1h0m6 4h0m1-2h0m1 3h0m4-6h0m9-3h0m6 5h0m1-1h0m5 4h0m1-1h0m3-2h0m3-3h0m4 6h0m5-8h0m4 5h0m5 6h0m4-6h0m94-2h0m54 7h0m14-5h0m1 5h0m17-8h0m11 4h0m7-4h0m32 0h0m47 1h0m-31 11h0m-53 7h0m0-8h0m-5 6h0m-14 0h0m-10-1h0m-47-5h0m0 5h0m-7-5h0m-29 6h0m-84-3h0m-3 6h0m-6-7h0m-4 3h0m-5 2h0m-4-7h0m-1 6h0m-9 3h0m-13-5h0m-9-5h0m-2 5h0m-20 4h0m-20 0h0m-23-10h0m-2 10h0m-2 1h0m-3-10h0m-5 6h0m-2-7h0m-9 10h0m-19-8h0m-3 4h0m-54 18h0m41-5h0m12-4h0m2 0h0m28 8h0m15-9h0m3 5h0m34-5h0m2 5h0m179-7h0m30 3h0m10-1h0m16 1h0m20-3h0m11 8h0m0 0h0m5-6h0m110 9h0m0 8h0m-209 2h0m-75-8h0m-29 9h0m-53 0h0m-6-3h0m-12 3h0m-2 0h0m-4-10h0m-2 6h0m0-3h0m-6 4h0m-17 3h0m-8-2h0m-11 4h0m-6-12h0m-25 6h0m-2 5h0m-2 0h0m-48-4h0m45 7h0m18 3h0m27 1h0m3-3h0m11 4h0m46-6h0m1 10h0m45-4h0m117-1h0m63 6h0m116-2h0m-38 14h0m-23-4h0m-235 2h0m-42-4h0m-21-2h0m-51 8h0m-1-3h0m-8-8h0m-6 7h0m-6 4h0m0-2h0m-2-5h0m-7 2h0m-37 9h0m26-1h0m4 1h0m24 7h0m9-4h0m2-3h0m8 7h0m0-6h0m3-3h0m2 4h0m0 1h0m7 2h0m6-2h0m28-5h0m18-1h0m289 7h0m-288 14h0m-8-9h0m-12 4h0m-16-3h0m-12 3h0m0 5h0m-9-6h0m-2 3h0m-1-1h0m-17 0h0m-11-4h0m-2-2h0m-6 4h0m-15-2h0m7 17h0m2-2h0m17 0h0m2-4h0m1 7h0m26-4h0m30 3h0m20-1h0m4 2h0m238 1h0m40-4h0m-55 8h0m-24 5h0m-76 3h0m-4-3h0m-118 0h0m-16-4h0m-7 4h0m-1-4h0m-1 6h0m-12 4h0m-1-3h0m-8 0h0m-15 0h0m-10-1h0m0-6h0m-9 3h0m-2 1h0m-4 1h0m-4 4h0m-9-4h0m-10 2h0m-2-6h0m-2 1h0m-91 9h0m12 1h0m10 3h0m72 5h0m8 0h0m15 0h0m19-9h0m1 6h0m3 0h0m2-2h0m13 4h0m2-3h0m1 3h0m4-7h0m7 9h0m8-7h0m10 7h0m0-10h0m1 5h0m82 1h0m21 2h0m35-4h0m0 6h0m1-10h0m0 5h0m0 1h0m3-2h0m5 3h0m3-7h0m6 10h0m78 1h0m24-2h0m115-8h0m-238 20h0m-2-4h0m-4-5h0m-36 4h0m-99 2h0m-19-6h0m-2-1h0m-18 1h0m-24 0h0m-8 5h0m19 7h0m190 8h0m2-7h0m2 5h0m1-6h0m11 7h0m3 1h0m6-2h0m0 0h0m5 5h0m229-9h0m-278 9h0m-275 19h0m24-5h0m374 9h0m48 2h0m-18-1h0m-329 14h0m25 1h0m157-2h0m18 6h0m147-1h0m-336 11h0m-129 13h0m121 5h0m79-6h0m127 5h0m156 4h0m-373 0h0m-5 8h0m-12 12h0m27-7h0m21 12h0m-135 3h0"/>
<path id="a21" d="M549 573h0m3 21h0m21 15h0m2-7h0m10 7h0m-2 14h0m-43-11h0m-343 8h0m-11-4h0m-8 0h0m-3 0h0m0 2h0m-9 5h0m-2 11h0m2-9h0m5-1h0m5 5h0m1-4h0m7 9h0m12-6h0m5 5h0m4-2h0m-26 14h0m-21-5h0m-3-2h0m-7 14h0m19 4h0m15 0h0m317-6h0m9 8h0m29-1h0m23 7h0m-231 4h0m-133 4h0m-3-10h0m-11 4h0m-1-1h0m-23 0h0m-1-4h0m-1 8h0m-4-9h0m-8 3h0m-5 15h0m10-4h0m14 3h0m6-2h0m10 0h0m12 0h0m93-1h0m27 0h0m121 8h0m194-1h0m-234 14h0m-229-8h0m-1 7h0m-3-9h0m-2 1h0m-7 1h0m-14 0h0m12 11h0m13 1h0m1 6h0m30 0h0m439 2h0m-26 7h0m-147-2h0m-138 7h0m-6-3h0m-134-5h0m-43-2h0m-2 10h0m-1 13h0m6-1h0m8-2h0m16-7h0m1-1h0m12 2h0m5 4h0m181-2h0m102 4h0m116-8h0m112 17h0m-137-4h0m-49 0h0m-54 4h0m-6-3h0m-140 5h0m-19-1h0m-35-3h0m-23 2h0m-54 4h0m-1-6h0m-20 7h0m-23-11h0m2 13h0m3-1h0m0 12h0m30-9h0m14 5h0m1-4h0m1 1h0m11-5h0m6 1h0m116 1h0m99 2h0m3-3h0m192 4h0m73-4h0m-260 23h0m-61-2h0m-21-4h0m-11-1h0m-68 4h0m-60-8h0m-15 9h0m-34-3h0m-1 0h0m-13-7h0m-4 8h0m-7 16h0m1-1h0m8 0h0m1 0h0m14-1h0m35-5h0m4 4h0m1-5h0m237 6h0m11-5h0m21-2h0m23-3h0m72 7h0m87-6h0m49 21h0m-47-9h0m-67 9h0m-12-7h0m-230 8h0m-20-5h0m-34 2h0m-76-3h0m-59 1h0m-19 14h0m2 0h0m6-5h0m2-2h0m0 8h0m42-6h0m11 7h0m7-5h0m310-2h0m65 5h0m18-1h0m80 2h0m-69 3h0m-21 0h0m-178 1h0m-218 0h0m-2 1h0m47 11h0m16 3h0m26 0h0m120 7h0m63-5h0m78 1h0m116-4h0m15 2h0m-35 10h0m-192 6h0m-105-9h0m-79 9h0m-91 9h0m11-1h0m40 0h0m64-4h0m146 3h0m81 1h0m91 6h0m96-10h0m-78 21h0m-3-1h0m-130 2h0m-218-1h0m-107-1h0m-27-1h0m8 8h0m105 8h0m176-2h0m8 0h0m93-2h0m136-4h0m8 6h0m7 13h0m-29 0h0m-93-8h0m-224 8h0m-161-10h0m40 14h0m31-1h0m95 9h0m216-5h0m80 2h0m1-3h0m1-4h0m22 21h0m-8 1h0m-321-9h0m-73-2h0m-103 11h0m30 9h0m7-4h0m268-1h0m190 21h0m-426-8h0m0-1h0m-75 16h0m5-6h0m31 3h0m134-1h0m337-2h0m-397 18h0m-1 2h0m-63 4h0m58 0h0m-63 34h0"/>
</defs>
<g fill="none" stroke-width="8.4" stroke-linecap="round">
<use href="#a14" stroke="#9aa7d8"/>
<use href="#a15" stroke="#9aa7d8"/>
<use href="#a16" stroke="#9aa7d8"/>
<use href="#a17" stroke="#9aa7d8"/>
<use href="#a18" stroke="#9aa7d8"/>
<use href="#a19" stroke="#9aa7d8"/>
<use href="#a20" stroke="#9aa7d8"/>
<use href="#a21" stroke="#9aa7d8"/>
<use href="#a7" stroke="#fb8c5c"/>
<use href="#a8" stroke="#fb8c5c"/>
<use href="#a9" stroke="#fb8c5c"/>
<use href="#a10" stroke="#fb8c5c"/>
<use href="#a11" stroke="#fb8c5c"/>
<use href="#a12" stroke="#fb8c5c"/>
<use href="#a13" stroke="#fb8c5c"/>
<use href="#a0" stroke="#86d9b5"/>
<use href="#a1" stroke="#86d9b5"/>
<use href="#a2" stroke="#86d9b5"/>
<use href="#a3" stroke="#86d9b5"/>
<use href="#a4" stroke="#86d9b5"/>
<use href="#a5" stroke="#86d9b5"/>
<use href="#a6" stroke="#86d9b5"/>
</g>
<g fill="none" stroke-width="8.4" stroke-linecap="round" transform="matrix(1.0058 0 0 0.9939 1174.47 5.24)">
<use href="#a0" stroke="#a9e9da"/>
<use href="#a7" stroke="#a9e9da"/>
<use href="#a14" stroke="#a9e9da"/>
<use href="#a6" stroke="#f9cfe4"/>
<use href="#a13" stroke="#f9cfe4"/>
<use href="#a21" stroke="#f9cfe4"/>
<use href="#a2" stroke="#cbc4ea"/>
<use href="#a9" stroke="#cbc4ea"/>
<use href="#a16" stroke="#cbc4ea"/>
<use href="#a1" stroke="#fff4b5"/>
<use href="#a8" stroke="#fff4b5"/>
<use href="#a15" stroke="#fff4b5"/>
<use href="#a3" stroke="#8cb1d8"/>
<use href="#a10" stroke="#8cb1d8"/>
<use href="#a18" stroke="#8cb1d8"/>
<use href="#a5" stroke="#c5e05a"/>
<use href="#a12" stroke="#c5e05a"/>
<use href="#a20" stroke="#c5e05a"/>
<use href="#a4" stroke="#fdb35e"/>
<use href="#a11" stroke="#fdb35e"/>
<use href="#a19" stroke="#fdb35e"/>
<use href="#a17" stroke="#f7806f"/>
</g>
<circle cx="615" cy="916.7" r="60" fill="none" stroke="#111" stroke-width="2" stroke-dasharray="11 7"/>
<circle cx="1784" cy="918" r="59.3" fill="none" stroke="#111" stroke-width="2" stroke-dasharray="11 7"/>
<defs>
<path id="s0" d="M187 1199h0m-11 4h0m98 12h0m-28 7h0m-43-10h0m-55 2h0m26 19h0m53-5h0m48 2h0m-159 16h0m48 11h0m97 3h0m58 36h0m-155-4h0m-24 0h0m34 8h0m372 19h0m-46-4h0m-65 1h0m-291 12h0m81 1h0m38-6h0m332 13h0m-425 0h0m-30 11h0m61 4h0m29-1h0m20-6h0m179 4h0m170 15h0m-457 5h0m151 13h0m308 26h0m-124-1h0m-153 16h0m112 6h0m60 2h0m-169 6h0m-18-1h0m-155 4h0m27 3h0m216 5h0m296 16h0m-48-1h0m-33 1h0m-389 0h0m-6-3h0m49 10h0m32 9h0m-135 4h0m100 13h0m373-3h0m49-3h0m10 11h0m-46 8h0m-217 14h0m78-4h0m43-2h0m-229 23h0m168 2h0m139 13h0m-420-4h0m367 26h0m-51 3h0m78 24h0m-390-4h0"/>
<path id="s1" d="M307 1221h0m-144 127h0m303 76h0m95-1h0"/>
<path id="s2" d="M317 1245h0m-191 60h0m512 173h0m-333 7h0m-134 36h0m-46 19h0m79 39h0m-22 40h0m-14 31h0"/>
<path id="s3" d="M243 1234h0m109 20h0m-3 10h0m-12 0h0m-4 5h0m216 40h0m-85 18h0m143 14h0m10 145h0m-382 68h0"/>
<path id="s4" d="M536 1546h0m-6 32h0m-12 16h0"/>
<path id="s5" d="M120 1291h0m119 24h0m-32 73h0m-9 7h0m47 99h0"/>
<path id="s6" d="M153 1209h0m30-7h0m4 1h0m39 21h0m-3-2h0m-83 8h0m6 6h0m79-8h0m54 9h0m-37 2h0m-9 0h0m-29 0h0m-58-1h0m-22 13h0m22 9h0m63-2h0m38-3h0m39-6h0m65 4h0m-66 11h0m-71 6h0m-78-1h0m12 14h0m1-11h0m40 5h0m17 4h0m3-5h0m51 6h0m41-5h0m-111 18h0m-8-3h0m-33 13h0m185-3h0m248 11h0m-95 1h0m-35-3h0m-261 2h0m-6-2h0m-50 2h0m-13 5h0m-24 2h0m80 9h0m10-7h0m29 3h0m1 1h0m217 5h0m4-5h0m39 5h0m68-6h0m33 17h0m-10 0h0m-37-9h0m-73 10h0m-42-9h0m-74 6h0m-57 1h0m-70 0h0m-2 3h0m-48-5h0m46 14h0m255-5h0m113 5h0m14 2h0m17-5h0m8 14h0m-73-6h0m-36 9h0m-14-9h0m-49-1h0m-205 7h0m-9 1h0m-76 2h0m-60-10h0m22 15h0m170 6h0m181-3h0m150-2h0m34 15h0m-158 2h0m-87-9h0m-97 6h0m-1 3h0m-24-10h0m-13 3h0m-175 7h0m193 7h0m36-4h0m8 4h0m95 1h0m47-2h0m164 5h0m3-1h0m7 3h0m-10 9h0m-36-4h0m-111 2h0m-30 2h0m-351 4h0m71 3h0m56 7h0m192-9h0m17-1h0m63 7h0m125 5h0m26 4h0m-55 4h0m-2 4h0m-62-9h0m-104 9h0m-102-2h0m-47-6h0m-50-4h0m-83 10h0m-36 3h0m263 0h0m117 10h0m12 1h0m1-2h0m69-3h0m81-6h0m-230 11h0m-229 2h0m-47 21h0m6-5h0m36 3h0m179-3h0m292 5h0m11-10h0m7 9h0m-1 14h0m-14-5h0m-2-6h0m-154 4h0m-1 2h0m-7 5h0m-5-7h0m-85 2h0m-5-1h0m-49 4h0m-108-6h0m-128 17h0m83-8h0m123 11h0m61-5h0m49-2h0m34 4h0m182 4h0m-74 7h0m-111-5h0m-10 8h0m-297 1h0m-40 0h0m42 11h0m27-5h0m14 5h0m11-6h0m71-5h0m23 7h0m17-1h0m12 5h0m336-10h0m-30 11h0m-5 4h0m-20 0h0m-6-3h0m-4 0h0m-317 4h0m-29 0h0m-3 0h0m-82 17h0m392 8h0m-97-4h0m-235 1h0m258 13h0m71 1h0m43 6h0m8-2h0m-382 7h0m293 17h0m-328 18h0m7-2h0"/>
<path id="s7" d="M236 1221h0m28 35h0m-20 13h0m-88 45h0m373 27h0m-204-3h0m-48-5h0m304 19h0m-276 69h0m-165 18h0m494 58h0m-158 12h0m36 38h0m-253 12h0m306 10h0m48 3h0m-14 2h0"/>
<path id="s8" d="M160 1194h0m143 46h0m-200 58h0m218 3h0m230 32h0m-334 0h0m196 13h0m-264 53h0m-38 57h0m10 73h0m17 17h0m2 0h0m132-1h0m10 8h0m-103-3h0m-28 56h0m42 8h0m10 15h0m-2 6h0"/>
<path id="s9" d="M239 1224h0m4 30h0m99 13h0m-9-5h0m-66 8h0m-11 8h0m-52 56h0m-20 6h0m356 40h0m72 22h0m-16 63h0m16 34h0m7 28h0"/>
<path id="s10" d="M506 1532h0m-21 3h0m68 5h0m-41 26h0m8 57h0"/>
<path id="s11" d="M539 1374h0m-351 25h0m263 3h0m-34 22h0m-94 8h0m-129 110h0m128-3h0m267 53h0m-376 25h0"/>
<path id="s12" d="M265 1200h0m-50 0h0m-10-5h0m-6 2h0m-10 2h0m0-4h0m-20 2h0m-17-4h0m-1 0h0m-1 0h0m-6 8h0m12 0h0m16 3h0m12-4h0m2 10h0m1-2h0m4-1h0m12 4h0m12-1h0m6-2h0m9-5h0m0 6h0m14-5h0m0 5h0m28 2h0m2-11h0m0 5h0m5-2h0m11 9h0m17 8h0m-45-6h0m-2 0h0m-4 5h0m-3 2h0m-21 1h0m-14-8h0m-7 5h0m-5 5h0m-16-10h0m-14-1h0m-5 1h0m-28 10h0m-1-7h0m-2-2h0m-8 4h0m3 11h0m11 2h0m6-3h0m1 4h0m11-6h0m1 7h0m3-6h0m0-3h0m14 3h0m4 6h0m1-4h0m12 4h0m0-3h0m12-2h0m3 4h0m15-7h0m12 8h0m66-2h0m30-1h0m10 12h0m-20 4h0m-25-9h0m-33 10h0m-2-7h0m-6 6h0m-14-5h0m-2-2h0m-2 4h0m-4 3h0m-4-5h0m-1-1h0m-2-4h0m-7 0h0m-2 8h0m-7 3h0m-3-6h0m-3 6h0m-1-11h0m-16 4h0m-1 0h0m-14 5h0m-19-3h0m-2 1h0m-3 0h0m-3-6h0m-4 0h0m-8 1h0m-15 5h0m-4-5h0m6 16h0m6-6h0m3 8h0m15-2h0m2 2h0m6 3h0m1-4h0m4 3h0m5-6h0m11 5h0m3-9h0m1 3h0m1 7h0m11 0h0m5-2h0m17-9h0m16 3h0m67 5h0m13-7h0m31 18h0m-7-1h0m-11-1h0m-8 4h0m-8-7h0m-32 9h0m-25-4h0m-27-1h0m-23 0h0m-12-3h0m0 1h0m-10 0h0m-4 1h0m-5-1h0m-2-3h0m-4 2h0m-1 1h0m-4 7h0m-10-6h0m-4-4h0m-6 0h0m-11 10h0m-4-10h0m-10 15h0m6-1h0m2 5h0m7-2h0m3-2h0m3 0h0m13 4h0m5-1h0m34 1h0m1-4h0m2 3h0m0 2h0m6 1h0m16-3h0m7-6h0m13 5h0m20-6h0m16 2h0m7 3h0m6 0h0m10 3h0m20 3h0m21-2h0m5 1h0m6-5h0m6-4h0m-6 13h0m-2 4h0m-2-4h0m-5 9h0m-9-6h0m-2 7h0m-9-11h0m-5 6h0m0-6h0m-2 6h0m-18-2h0m-10 1h0m-3-6h0m-12 8h0m-1-5h0m-5 5h0m-1 2h0m-4-7h0m-10-2h0m-12 6h0m-5-3h0m-15 2h0m-4 2h0m-2 0h0m-10 0h0m-4 3h0m-21 1h0m-3-2h0m-4-8h0m-11 5h0m-9-4h0m-1 8h0m-3-7h0m-8 1h0m-11 2h0m-1-4h0m0 4h0m-10-6h0m0 2h0m-2 5h0m20 9h0m0 2h0m5 0h0m4 1h0m19 3h0m4-11h0m17 12h0m3-11h0m4 0h0m3 2h0m7 5h0m9 4h0m5-7h0m1 0h0m16 4h0m26-7h0m10 4h0m0 4h0m2 0h0m2-1h0m18-6h0m12 6h0m18-5h0m4 6h0m2-5h0m233 7h0m44 11h0m-10-3h0m-50 3h0m-2-3h0m-3 1h0m-48-6h0m-17 3h0m-4 4h0m-3-7h0m-14 6h0m-103 2h0m-1-8h0m-8 2h0m-5 1h0m-7-2h0m-4-4h0m-4 10h0m-14-8h0m-17-2h0m-10 10h0m-5-5h0m-5-2h0m-1 6h0m-13-6h0m-1-2h0m-4 1h0m-3 9h0m-9 1h0m-13-5h0m-4-4h0m-20-2h0m-9 1h0m-21 3h0m-3-2h0m-1 6h0m-3-2h0m-3-4h0m-1-2h0m-1 10h0m-24-8h0m-6 3h0m-19 18h0m10-2h0m11-1h0m20-8h0m12 5h0m11 5h0m3-6h0m4-4h0m5 11h0m13-10h0m9-2h0m7 8h0m8-1h0m15 1h0m0-2h0m1-2h0m4 7h0m2-7h0m2 1h0m1 0h0m0 2h0m4-6h0m1 5h0m2 1h0m10 0h0m2 1h0m3-4h0m11 6h0m0-6h0m4 0h0m5 4h0m0-5h0m3 1h0m2 7h0m8-3h0m6 3h0m17-6h0m3-5h0m8 9h0m8-4h0m80 3h0m5 2h0m4-1h0m9-6h0m1 4h0m27 0h0m11-2h0m4 3h0m7-8h0m4 1h0m16 10h0m16-2h0m8-3h0m1 2h0m14 3h0m10 0h0m5 1h0m1-3h0m3 0h0m3-3h0m32 3h0m5 3h0m-15 5h0m-21 2h0m-8 0h0m-25-6h0m-1 0h0m-2 6h0m-4 0h0m-13-5h0m-18 5h0m-2-3h0m-4-3h0m-26 6h0m-10-3h0m-2 5h0m-13-3h0m-4 4h0m0-6h0m-10 0h0m-89 6h0m-10-6h0m-1 1h0m-11 3h0m-8-4h0m-13 1h0m0 7h0m0-2h0m-5-3h0m-3 1h0m-2-6h0m-12 3h0m-16-2h0m-5-3h0m-5 12h0m-25-6h0m-13-4h0m-5 10h0m-1-8h0m-7 3h0m0-3h0m-4 7h0m-2-2h0m-15-9h0m-7 6h0m-38 2h0m-2 4h0m0-7h0m0 1h0m-11 1h0m-30 10h0m15 4h0m28 1h0m0-10h0m4 4h0m1 1h0m0 6h0m2-2h0m2-1h0m1-1h0m5-3h0m5 3h0m10-4h0m17 4h0m1 2h0m4-4h0m3 6h0m5-8h0m1 3h0m6 2h0m17-7h0m12 9h0m4 1h0m26-9h0m6-2h0m1 1h0m6 5h0m8-4h0m4-2h0m3 0h0m4 1h0m1 0h0m8 8h0m7 0h0m13-7h0m11 3h0m84 6h0m18-5h0m0-4h0m10 0h0m9 6h0m11-6h0m25 5h0m6 3h0m13-6h0m2 0h0m15 2h0m5 3h0m13-4h0m4 1h0m11 1h0m6-5h0m15 1h0m11-2h0m3 1h0m19 7h0m2-1h0m4 0h0m23 10h0m-8-6h0m-5 1h0m-30 1h0m-21 6h0m-25 1h0m-8-6h0m-6-1h0m-2 1h0m-4 6h0m-5-1h0m-8-8h0m-31 4h0m-9 3h0m-27 0h0m-1-7h0m-6 10h0m-26-6h0m-2 5h0m-71 1h0m-7-8h0m-2 2h0m-6 6h0m-1 2h0m-1-7h0m-4 4h0m-1 0h0m-1-7h0m-6 8h0m-11-6h0m-28-1h0m-15 4h0m-14-6h0m-2 6h0m-14 1h0m-2 2h0m-5-1h0m0-3h0m0-4h0m-4 7h0m-7-2h0m-4 2h0m-1-6h0m-6 0h0m-6 0h0m-5-2h0m-1 3h0m-12 1h0m-5 7h0m-7-8h0m-2-2h0m-4 10h0m-1-6h0m-14-3h0m0 1h0m-2-3h0m-3 7h0m-4-1h0m-8-5h0m-2 7h0m0 2h0m-1-1h0m-16 0h0m-1-2h0m0 4h0m-12-10h0m-2 3h0m-3 0h0m2 12h0m15 6h0m2-2h0m5 1h0m0-5h0m2 7h0m7-10h0m7 0h0m1 7h0m5-4h0m8 0h0m11 4h0m8-8h0m10 10h0m1-4h0m12 0h0m12-6h0m19 6h0m28-6h0m6 3h0m0 6h0m4 2h0m10-6h0m1 5h0m8-9h0m0 8h0m11-6h0m13 7h0m13-6h0m105 1h0m13-3h0m3 7h0m14-6h0m20 8h0m9-6h0m69-4h0m11 9h0m1-8h0m10 5h0m5-7h0m5 1h0m2 1h0m22 4h0m9 5h0m9-2h0m13-1h0m11-1h0m-17 14h0m-4-8h0m-1 8h0m-1-1h0m-16-7h0m-5-1h0m-6 9h0m-2 1h0m-4-10h0m-10 3h0m-2 0h0m-4-2h0m-13-1h0m-13 9h0m-17 2h0m-46-9h0m-4 1h0m-27 8h0m-10-6h0m-1-4h0m-3-1h0m-9 9h0m-85-7h0m-27 9h0m-6-4h0m-7-2h0m-8 1h0m-3 0h0m-11-3h0m-4 8h0m-6-5h0m-10-1h0m-2 3h0m-14 1h0m-3-9h0m-9 2h0m-10 3h0m-3-4h0m-4 1h0m-2 3h0m-10 6h0m-6-4h0m-3-7h0m-7 5h0m-2 4h0m-4 2h0m-40-6h0m-2-1h0m-28-2h0m-14 1h0m-2-2h0m-5 4h0m-2 11h0m10-4h0m10 7h0m0-3h0m21 7h0m2-10h0m2 4h0m8 2h0m4 0h0m18-3h0m1-1h0m2 5h0m2 0h0m1 0h0m1 3h0m6-12h0m0 4h0m7 1h0m3-1h0m2-4h0m3 3h0m1 0h0m6 4h0m0 0h0m5 2h0m10-2h0m11-4h0m2 2h0m1 5h0m12-1h0m3-6h0m1 8h0m14-10h0m13 6h0m3-3h0m2 2h0m2-4h0m7 3h0m6 2h0m2 2h0m1-6h0m3 0h0m12 3h0m2-6h0m13 11h0m2-4h0m4 2h0m10-9h0m1 4h0m1-4h0m88 2h0m2 10h0m1-9h0m3 5h0m1-7h0m4 11h0m9-8h0m15 5h0m1 0h0m12 0h0m5-2h0m13-4h0m1 1h0m9 0h0m0 1h0m23 6h0m3 0h0m3-6h0m30 2h0m2 1h0m7 4h0m7-5h0m4 3h0m2-9h0m6 3h0m9 5h0m23 1h0m4 0h0m12-4h0m4-1h0m3 0h0m6 6h0m3 1h0m26 11h0m-22-5h0m-6-4h0m-2 6h0m-41-1h0m-14-6h0m-14 2h0m-3-2h0m-7 3h0m-13 4h0m-22-7h0m-15 5h0m-1 2h0m-8-2h0m-3 0h0m0-3h0m-3 1h0m-35 3h0m-14 0h0m-6 2h0m0-6h0m-10 4h0m-8-3h0m-2-1h0m-24 8h0m-75-6h0m-12-3h0m-36 0h0m-1 3h0m-9-2h0m-39 3h0m-6-1h0m-16 2h0m-9 4h0m-10 0h0m-10-10h0m-11 3h0m-11 4h0m0 0h0m-6 1h0m-3 0h0m-1 1h0m0-8h0m-16 7h0m-2 3h0m-12-3h0m-11-4h0m-14 18h0m11-9h0m1 0h0m17 6h0m16 3h0m37-5h0m1-1h0m17-2h0m7 7h0m57-6h0m21 6h0m5-3h0m14 4h0m16-2h0m2 1h0m1-2h0m3-4h0m10 4h0m71-2h0m12 3h0m26-6h0m4 8h0m7-9h0m4 3h0m3 3h0m6-2h0m4 4h0m6-6h0m43 8h0m75-2h0m0-2h0m7-6h0m11 10h0m2-11h0m2 6h0m12 1h0m3-7h0m3 9h0m9-6h0m17 8h0m4-10h0m3 4h0m6 16h0m-16 1h0m-18-10h0m-18 4h0m-3-4h0m-1 7h0m-11 1h0m-75-4h0m-8-2h0m-18 7h0m-6-4h0m-14-1h0m-6-3h0m-6 5h0m0-5h0m-46-2h0m-3 2h0m-14 6h0m-17-5h0m-19 3h0m-41-3h0m-27-1h0m-1 9h0m-2-5h0m-15-3h0m-7 3h0m-9 3h0m-7 1h0m-9 0h0m-3-8h0m-1 4h0m-13 3h0m-16-6h0m-9 2h0m-5 4h0m-10-1h0m-3-4h0m-15-2h0m-5 5h0m-6 0h0m-15-2h0m-2 2h0m-1-1h0m-7-2h0m0 0h0m-4 2h0m0 5h0m-1 1h0m-6-4h0m0-4h0m-3 4h0m-15 0h0m-3 1h0m1 11h0m0-4h0m13 2h0m3-6h0m4 8h0m3 2h0m10 2h0m9-8h0m4 4h0m1 2h0m5-9h0m5 6h0m23 5h0m12-1h0m12-2h0m1 0h0m0 2h0m0-11h0m2 10h0m14 1h0m21-7h0m2 7h0m9-11h0m4 8h0m0-1h0m6 2h0m4-1h0m6-4h0m13-2h0m10 9h0m0-6h0m14-1h0m3 2h0m3 3h0m23-6h0m3 8h0m9-6h0m62-5h0m19 7h0m1 3h0m0-1h0m5-1h0m4-1h0m14 1h0m10 0h0m15-6h0m22 9h0m22-6h0m21 2h0m20-4h0m1 6h0m11-1h0m10 4h0m4-8h0m22 3h0m4-6h0m7 0h0m2 6h0m2-4h0m5 6h0m0-9h0m19 7h0m9-1h0m1-4h0m19 6h0m0-5h0m5 1h0m2 9h0m-22 6h0m-2-4h0m-2 8h0m-7-5h0m-9-6h0m-10 6h0m-19 5h0m-30-9h0m-21 0h0m-2 4h0m-18-6h0m-8 2h0m-2-1h0m-1 6h0m-8-6h0m-4 6h0m-1 4h0m-13-7h0m-2-3h0m-42 6h0m-6-2h0m-3 4h0m-13-4h0m-8-3h0m-3 4h0m-3 3h0m-7-4h0m-3 5h0m-8-9h0m-7-1h0m-26 10h0m-35-2h0m-12 3h0m-16-9h0m-14 2h0m-7-2h0m-2 1h0m-1 7h0m-16-3h0m-13 2h0m-17-9h0m-1 6h0m-30-2h0m-31 3h0m-5 4h0m-9-7h0m-6 0h0m-1-1h0m0 3h0m-1-5h0m-7 10h0m-16 1h0m-49-5h0m32 15h0m14-8h0m9 2h0m0-1h0m8-1h0m1 8h0m4-7h0m10-1h0m11 2h0m14 2h0m22-3h0m20 1h0m36 5h0m6 0h0m3-1h0m4-7h0m3 6h0m3-6h0m11 7h0m4-8h0m7 12h0m14-1h0m65-4h0m14-6h0m2 8h0m9 2h0m8-5h0m9 3h0m7-2h0m3-5h0m14 1h0m7 4h0m15-2h0m1 7h0m4 0h0m8-6h0m26 0h0m4-4h0m13 0h0m21 8h0m8-5h0m4 5h0m1-9h0m9 10h0m4-5h0m5-5h0m11 7h0m14-6h0m9 7h0m3-4h0m7 1h0m2-2h0m24 4h0m26-7h0m1 1h0m2 9h0m3-5h0m0 5h0m1-5h0m5 1h0m0 2h0m-18 9h0m-12-1h0m-3-2h0m-7 7h0m-6 0h0m-4 0h0m-5-10h0m-11 10h0m-1 0h0m-6 1h0m-2-10h0m-4 1h0m-4 2h0m-30 8h0m-3-2h0m-20 2h0m-1-5h0m-10 1h0m-5-7h0m-78 3h0m-1 8h0m-19-8h0m-5-1h0m-3 0h0m-9 3h0m-5 2h0m-1-5h0m-20 0h0m-28 3h0m-38-1h0m-3 2h0m-28 0h0m-3-1h0m-11 1h0m-5 2h0m-2-1h0m-17-7h0m-35 7h0m-12-3h0m-12 4h0m-3 1h0m-10-7h0m-6 6h0m-7 3h0m-11-9h0m-8 2h0m-14 1h0m-2 1h0m-5-6h0m-22 11h0m-3-4h0m-9 2h0m-4-6h0m-9 0h0m17 13h0m9 4h0m9-2h0m23 1h0m1-6h0m10 0h0m6 6h0m9 1h0m13 1h0m7-7h0m5 6h0m16-3h0m17 2h0m1-7h0m3 3h0m9 3h0m19 0h0m3-2h0m1-1h0m22-4h0m2 4h0m17-3h0m5 10h0m66 0h0m29-6h0m1 0h0m4 1h0m6-5h0m5 0h0m4 3h0m4 1h0m4 2h0m11 4h0m3-7h0m5 7h0m12-2h0m1-6h0m29-1h0m3 2h0m17 2h0m4-6h0m7 1h0m5 2h0m7 7h0m45-3h0m5 1h0m49-1h0m22-1h0m0-1h0m8 5h0m2-5h0m3 7h0m-12 11h0m-6-1h0m-7-3h0m-1-2h0m-7 2h0m-4-2h0m-2-1h0m-22 4h0m-35 1h0m-8-3h0m-2-5h0m-6 2h0m-8 0h0m-7 3h0m-21-2h0m-19 1h0m-24 2h0m-5 1h0m-53-1h0m-16 2h0m-68-1h0m-7-8h0m-7 7h0m-27-3h0m-2 6h0m-13 0h0m-1-1h0m-39-7h0m-1 4h0m-6-1h0m-1-4h0m-10 4h0m-4 1h0m-3 1h0m-1 2h0m-4 2h0m0-4h0m-39 4h0m-13-5h0m-11 5h0m-5-10h0m-5 2h0m-2 6h0m0-7h0m-11 4h0m0-3h0m-7 6h0m-9 2h0m-3-9h0m-1 8h0m-4-9h0m-13 4h0m19 11h0m4 2h0m8 6h0m11-7h0m3 0h0m4 2h0m12 5h0m2-10h0m4-1h0m6 9h0m4-1h0m5 0h0m10-7h0m1 3h0m2-1h0m6-3h0m4 0h0m10 6h0m17-6h0m4 4h0m29 2h0m2 4h0m22-6h0m6 3h0m23 0h0m3-7h0m20 5h0m6-1h0m14-1h0m8 7h0m3-1h0m16-6h0m26 1h0m3-3h0m2 8h0m9-9h0m2 6h0m13-5h0m12-2h0m1 7h0m20 4h0m4-11h0m8 4h0m8-2h0m17 4h0m7 1h0m16 0h0m10-4h0m19 5h0m29 3h0m5-10h0m6 7h0m10-3h0m9 7h0m19-6h0m10 4h0m1-9h0m15-1h0m-23 21h0m-7 2h0m0-11h0m-2 4h0m-17 1h0m-2 0h0m-1 5h0m-9 1h0m-9-7h0m-5 6h0m-8-6h0m-8 3h0m-6 5h0m-2-3h0m-21 0h0m-22-8h0m-75 7h0m-2-7h0m0 11h0m-2-9h0m-39-1h0m-5-1h0m-87 0h0m-9 10h0m-3-4h0m-24 0h0m-9-6h0m-19-1h0m-2 3h0m-4 8h0m-10-10h0m-6 9h0m-12-4h0m-4-1h0m-2-3h0m-1 5h0m-10-7h0m-35 6h0m-5-1h0m-3-4h0m0 2h0m-12 3h0m-9 6h0m-4-11h0m-24 10h0m-1-1h0m-2-6h0m19 8h0m8 7h0m23 3h0m12-1h0m22 3h0m21-3h0m1-6h0m11-1h0m10 4h0m13 0h0m6 5h0m11-5h0m8 0h0m5-2h0m23-3h0m2 1h0m20 0h0m143 5h0m24 3h0m3 0h0m25-3h0m29-2h0m36 6h0m37-8h0m-10 17h0m-9-2h0m-6-4h0m-10 5h0m-1-3h0m-60-4h0m-2 0h0m-10 10h0m-29-6h0m-2-3h0m-214 7h0m-2-4h0m-5-4h0m-2 1h0m-3 8h0m-1-1h0m-3-4h0m-1 2h0m-1 0h0m-1 0h0m-13-4h0m-32 6h0m-3 0h0m-6 3h0m-1-10h0m-12 6h0m-9-1h0m-19-1h0m-20 5h0m-15-10h0m-5 2h0m1 18h0m5-6h0m8 4h0m4-1h0m4 6h0m10 1h0m45-4h0m5-6h0m1 9h0m3-7h0m11-1h0m3 2h0m10 2h0m12 1h0m3-7h0m3 0h0m14 5h0m239 5h0m11-10h0m6 4h0m33-1h0m52 2h0m11-2h0m9 4h0m18-4h0m-5 14h0m-6 1h0m-15 0h0m-10 2h0m-13-8h0m-4 6h0m-9 3h0m-35-5h0m-5-3h0m-1 1h0m-7 6h0m-1 1h0m-7-6h0m-16-3h0m-258 5h0m-17 5h0m-14-10h0m-3 0h0m-5 9h0m-4-8h0m-3 9h0m-21 0h0m-8-1h0m0-2h0m-7 2h0m-4-5h0m-25 3h0m0-6h0m-11 15h0m1-3h0m4 2h0m0 3h0m3 5h0m3-1h0m7-1h0m2-2h0m23 0h0m27-4h0m5-2h0m2 2h0m18 7h0m23-9h0m260 0h0m1 0h0m86 3h0m25 1h0m-17 12h0m-21-4h0m-338 4h0m-13-2h0m-2 6h0m-6-2h0m-6-4h0m-1 7h0m-5-6h0m-2 4h0m-4-5h0m-1-1h0m-6 8h0m-20-10h0m-16 6h0m-8 2h0m-5-6h0m-2 6h0m-8-1h0m-8-7h0m24 20h0m26-4h0m12-3h0m2 3h0m31-1h0m-4 13h0m-42-4h0m-11 9h0m1 4h0m5 5h0m13-2h0m2 2h0m341 10h0m-374-2h0"/>
<path id="s13" d="M257 1216h0m-32 4h0m-89 13h0m142 10h0m-14-4h0m-46 7h0m-13-5h0m-5 17h0m134 2h0m15 5h0m-56 0h0m-38 0h0m-8 1h0m-9 1h0m-35 0h0m37 17h0m69-6h0m-163 10h0m14 21h0m-3 10h0m66 4h0m320 3h0m59 8h0m-5 6h0m-81 4h0m-2-2h0m-1-1h0m-96 1h0m-79 1h0m-42-5h0m-141 12h0m75 4h0m337-8h0m-1 11h0m-64 7h0m-14-4h0m-351 14h0m296 5h0m28-8h0m7 7h0m39-8h0m36 4h0m67 1h0m-5 12h0m-137-3h0m-278 8h0m-47 3h0m39 4h0m436-1h0m14 4h0m-18 8h0m-146 0h0m-51 2h0m-281-7h0m177 22h0m155 0h0m153 2h0m-159 7h0m-321 2h0m10 9h0m69-6h0m224 5h0m148 5h0m7 5h0m-12-1h0m-2 1h0m-18 4h0m-22-8h0m-91 6h0m-31 5h0m-2-5h0m-312 1h0m194 10h0m162-5h0m31 9h0m25-7h0m65 5h0m-35 15h0m-5 2h0m-71-4h0m-1-7h0m-219 5h0m-129 8h0m362 6h0m39-4h0m3-3h0m94 3h0m-42 18h0m-72-9h0m-27 3h0m-246-2h0m43 19h0m190 1h0m10 0h0m25 0h0m10-9h0m22 2h0m5 6h0m21 1h0m46-7h0m-46 13h0m-14-1h0m-2 5h0m-8 3h0m-261-7h0m-7-3h0m-8 0h0m283 15h0m26 5h0m67 8h0m-53 6h0m-6-3h0m0-2h0m-347 4h0m370 9h0m2-3h0m32 10h0m-63 6h0m-1-3h0m-360 10h0m303-1h0m61 5h0m14 2h0m6-1h0m6-7h0m8 8h0m-397 11h0m-60-4h0"/>
<path id="s14" d="M143 1211h0m132-2h0m-1 10h0m-59-7h0m-15 1h0m32 23h0m90 1h0m-55 6h0m-67 0h0m91 8h0m-23 19h0m-12-1h0m-6 2h0m-4-2h0m-68 13h0m-53 11h0m-23 14h0m2 1h0m19-10h0m30-1h0m161 1h0m214 17h0m-429-3h0m385 18h0m125 11h0m-281-6h0m-10-3h0m-149 6h0m-10-5h0m-30 16h0m107 0h0m30-1h0m22 4h0m143 0h0m122-1h0m65-2h0m-33 19h0m-263-9h0m-27 7h0m-124 1h0m37 5h0m24-2h0m2 4h0m1 2h0m188-7h0m121 22h0m-84-1h0m-14-6h0m-197 7h0m-138 12h0m293-3h0m18-5h0m152 9h0m53-8h0m6 5h0m-4 5h0m-81 7h0m-14-2h0m-13-4h0m-97 1h0m-155-1h0m-141 9h0m-9-3h0m-17-9h0m86 13h0m132 3h0m146 0h0m51-3h0m130 20h0m-262-7h0m-146 7h0m-83 2h0m-45-10h0m-10 15h0m8-4h0m15 6h0m40 3h0m520-6h0m-238 13h0m-208 6h0m-14-4h0m-117 12h0m22 1h0m14-3h0m167 7h0m7-6h0m113 2h0m110-3h0m140 19h0m-98 0h0m-387-2h0m-63 1h0m128 8h0m13 1h0m21 5h0m126-10h0m87 5h0m37 7h0m-36 2h0m-65-1h0m-5-2h0m-155 10h0m-39-6h0m-72-1h0m27 12h0m62-2h0m259 4h0m29-3h0m30 4h0m28 4h0m-158 11h0m-322 9h0m4 1h0m7-1h0m30 4h0m28 0h0m56-2h0m81-4h0m212 2h0m-4 15h0m-311-7h0m-68 5h0m-29 12h0m5-7h0m32 0h0m7 3h0m26 6h0m1 8h0m-13-3h0m-6 9h0m-7-4h0m-21-7h0m-19 3h0m5 15h0m20-3h0m19-3h0m7 5h0m8 0h0m394 3h0m17-4h0m-406 12h0m-11 0h0m-8-4h0m-10 1h0m-12 2h0m-18 2h0m-8 5h0m-1-10h0m-1 16h0m17 0h0m53 15h0m-4 0h0m-12 3h0m-6 1h0m-22-2h0m-2-7h0m-4 17h0m4-6h0m12 4h0m2 5h0m0-9h0m369 14h0m-367-1h0"/>
<path id="s15" d="M247 1200h0m-76-5h0m5 15h0m8 1h0m118 9h0m-13 0h0m-21 0h0m-26 14h0m16-2h0m19-1h0m5-6h0m2 10h0m15-7h0m42 5h0m-21 4h0m-40 6h0m-4-3h0m-21 5h0m-7 3h0m-5-10h0m-97 11h0m22 2h0m83 9h0m12-9h0m1 5h0m1-6h0m4 0h0m16 2h0m5 0h0m11 3h0m52-3h0m-4 17h0m-31-8h0m-41 3h0m-24 1h0m-12 6h0m-51 0h0m62 6h0m69-4h0m11 16h0m-141 8h0m340 16h0m-353-4h0m-87 17h0m194-2h0m165-3h0m106 6h0m24-5h0m26 8h0m-44 11h0m-5-3h0m-47 5h0m-297-4h0m-53 0h0m31 6h0m55 9h0m217-2h0m76-2h0m61 4h0m-1 7h0m-148-5h0m36 14h0m159 11h0m-94 6h0m-6 2h0m-75-4h0m-5 3h0m-19 11h0m169 5h0m7-4h0m14 12h0m-17 0h0m-40-5h0m-1 0h0m-50 0h0m-24 3h0m-42 13h0m59 5h0m7-6h0m0-2h0m12 6h0m2-8h0m34-2h0m106 18h0m-66 1h0m-22-4h0m-23 1h0m-33 7h0m-225-8h0m139 13h0m46-3h0m40 2h0m66 7h0m21-10h0m43 11h0m15 0h0m-43 5h0m-25-3h0m-56 1h0m-58 19h0m92-3h0m-65 22h0m50 5h0m11 2h0m48 5h0m-90 0h0m-58-3h0m-4 9h0m-21 1h0m-13-3h0m-181 6h0m211 8h0m76-9h0m71 2h0m21 4h0m-80 10h0m-21 5h0m-6 0h0m-284-3h0m222 11h0m-298 19h0m335 5h0m-378 37h0"/>
<path id="s16" d="M556 1526h0m-23-2h0m-9 5h0m-35-4h0m-10 17h0m60-2h0m6-1h0m20-2h0m-33 12h0m-33-1h0m50 26h0m-11 0h0m-11 2h0m-24-2h0m-1 2h0m-1 2h0m-7-2h0m16 11h0m4 3h0m28 3h0m-30 6h0m11 34h0m4 10h0"/>
<path id="s17" d="M157 1190h0m51 30h0m104 18h0m-4 0h0m-21 7h0m-57-6h0m-105 18h0m133-6h0m73 6h0m-8 5h0m-111 6h0m-92 30h0m452 22h0m-258-8h0m-175 0h0m-14 10h0m2 4h0m333 10h0m-139-3h0m-86 3h0m-50 0h0m-76 19h0m438-6h0m-417 16h0m34 4h0m69 0h0m218 0h0m-124 22h0m-39 0h0m-34-8h0m-124 19h0m50-5h0m314-5h0m32 3h0m131 20h0m-224-9h0m-316 11h0m2 1h0m491 9h0m81 2h0m-422 4h0m-169 7h0m390 4h0m118-2h0m35 0h0m3 6h0m29 3h0m2-1h0m-78 7h0m-7 6h0m-7-6h0m-12 5h0m-165-6h0m-188 3h0m-97-1h0m176 12h0m197-4h0m167 4h0m-99 9h0m-256 4h0m-138-3h0m-52-1h0m114 17h0m91 0h0m271 8h0m-4 3h0m-145-4h0m-134 5h0m-195-6h0m7 17h0m61 4h0m33-9h0m45 4h0m0 2h0m45-2h0m334 16h0m-27-6h0m-253 1h0m-11 4h0m-200 5h0m36 5h0m5 1h0m104-3h0m181-2h0m26 2h0m143 3h0m-448 5h0m-37 22h0m367-3h0m-358 4h0m-34 24h0m11-10h0m19 1h0m-16 25h0m12 14h0m375 19h0m-360 3h0"/>
</defs>
<g fill="none" stroke-width="7.8" stroke-linecap="round">
<use href="#s12" stroke="#9aa7d8"/>
<use href="#s13" stroke="#9aa7d8"/>
<use href="#s14" stroke="#9aa7d8"/>
<use href="#s15" stroke="#9aa7d8"/>
<use href="#s16" stroke="#9aa7d8"/>
<use href="#s17" stroke="#9aa7d8"/>
<use href="#s6" stroke="#fb8c5c"/>
<use href="#s7" stroke="#fb8c5c"/>
<use href="#s8" stroke="#fb8c5c"/>
<use href="#s9" stroke="#fb8c5c"/>
<use href="#s10" stroke="#fb8c5c"/>
<use href="#s11" stroke="#fb8c5c"/>
<use href="#s0" stroke="#86d9b5"/>
<use href="#s1" stroke="#86d9b5"/>
<use href="#s2" stroke="#86d9b5"/>
<use href="#s3" stroke="#86d9b5"/>
<use href="#s4" stroke="#86d9b5"/>
<use href="#s5" stroke="#86d9b5"/>
</g>
<g fill="none" stroke-width="7.8" stroke-linecap="round" transform="matrix(1.0027 0 0 0.9962 1193.76 5.81)">
<use href="#s0" stroke="#a9e9da"/>
<use href="#s6" stroke="#a9e9da"/>
<use href="#s12" stroke="#a9e9da"/>
<use href="#s5" stroke="#f9cfe4"/>
<use href="#s11" stroke="#f9cfe4"/>
<use href="#s17" stroke="#f9cfe4"/>
<use href="#s2" stroke="#cbc4ea"/>
<use href="#s8" stroke="#cbc4ea"/>
<use href="#s14" stroke="#cbc4ea"/>
<use href="#s1" stroke="#fff4b5"/>
<use href="#s7" stroke="#fff4b5"/>
<use href="#s13" stroke="#fff4b5"/>
<use href="#s4" stroke="#c5e05a"/>
<use href="#s10" stroke="#c5e05a"/>
<use href="#s16" stroke="#c5e05a"/>
<use href="#s3" stroke="#fdb35e"/>
<use href="#s9" stroke="#fdb35e"/>
<use href="#s15" stroke="#fdb35e"/>
</g>
<circle cx="309" cy="1239.9" r="59.7" fill="none" stroke="#111" stroke-width="2" stroke-dasharray="11 7"/>
<circle cx="1516.2" cy="1244.4" r="59.2" fill="none" stroke="#111" stroke-width="2" stroke-dasharray="11 7"/>
<circle cx="660.2" cy="561" r="6.3" fill="#86d9b5"/>
<text x="680.0" y="568.8" font-size="24.5" textLength="61.5" lengthAdjust="spacingAndGlyphs">CD20</text>
<text x="742.0" y="558.8" font-size="14">+</text>
<circle cx="660.2" cy="585.5" r="6.3" fill="#fb8c5c"/>
<text x="680.0" y="592.6" font-size="24.5" textLength="49.0" lengthAdjust="spacingAndGlyphs">CD4</text>
<text x="729.5" y="582.6" font-size="14">+</text>
<circle cx="660.2" cy="609.2" r="6.3" fill="#9aa7d8"/>
<text x="680.0" y="616.3" font-size="24.5" textLength="49.0" lengthAdjust="spacingAndGlyphs">CD8</text>
<text x="729.5" y="606.3" font-size="14">+</text>
<circle cx="634" cy="1212.2" r="6.3" fill="#86d9b5"/>
<text x="655.4" y="1220.5" font-size="23" textLength="59.4" lengthAdjust="spacingAndGlyphs">CD20</text>
<circle cx="634" cy="1236.4" r="6.3" fill="#fb8c5c"/>
<text x="655.4" y="1244.7" font-size="23" textLength="47.0" lengthAdjust="spacingAndGlyphs">CD4</text>
<circle cx="634" cy="1259.9" r="6.3" fill="#9aa7d8"/>
<text x="655.4" y="1268.2" font-size="23" textLength="47.0" lengthAdjust="spacingAndGlyphs">CD8</text>
<circle cx="1659.7" cy="996" r="6.3" fill="#a9e9da"/>
<text x="1679.0" y="1004.2" font-size="23">C1</text>
<circle cx="1730" cy="996" r="6.3" fill="#cbc4ea"/>
<text x="1750.0" y="1004.2" font-size="23">C3</text>
<circle cx="1803" cy="996" r="6.3" fill="#8cb1d8"/>
<text x="1823.0" y="1004.2" font-size="23">C5</text>
<circle cx="1864.7" cy="996" r="6.3" fill="#c5e05a"/>
<text x="1884.0" y="1004.2" font-size="23">C7</text>
<circle cx="1659.7" cy="1023" r="6.3" fill="#fff4b5"/>
<text x="1679.0" y="1031.2" font-size="23">C2</text>
<circle cx="1730" cy="1023" r="6.3" fill="#f7806f"/>
<text x="1750.0" y="1031.2" font-size="23">C4</text>
<circle cx="1803" cy="1023" r="6.3" fill="#fdb35e"/>
<text x="1823.0" y="1031.2" font-size="23">C6</text>
<circle cx="1864.7" cy="1023" r="6.3" fill="#f9cfe4"/>
<text x="1884.0" y="1031.2" font-size="23">C8</text>
<circle cx="1654.2" cy="1188.3" r="6.3" fill="#a9e9da"/>
<text x="1673.3" y="1196.5" font-size="23">C1</text>
<circle cx="1728" cy="1188.3" r="6.3" fill="#cbc4ea"/>
<text x="1747.0" y="1196.5" font-size="23">C3</text>
<circle cx="1803.2" cy="1188.3" r="6.3" fill="#8cb1d8"/>
<text x="1822.0" y="1196.5" font-size="23">C5</text>
<circle cx="1867" cy="1188.3" r="6.3" fill="#c5e05a"/>
<text x="1886.0" y="1196.5" font-size="23">C7</text>
<circle cx="1654.2" cy="1215.7" r="6.3" fill="#fff4b5"/>
<text x="1673.3" y="1223.9" font-size="23">C2</text>
<circle cx="1728" cy="1215.7" r="6.3" fill="#f7806f"/>
<text x="1747.0" y="1223.9" font-size="23">C4</text>
<circle cx="1803.2" cy="1215.7" r="6.3" fill="#fdb35e"/>
<text x="1822.0" y="1223.9" font-size="23">C6</text>
<circle cx="1867" cy="1215.7" r="6.3" fill="#f9cfe4"/>
<text x="1886.0" y="1223.9" font-size="23">C8</text>
<path d="M229.2 1904.8A240 240 0 0 1 247.6 1898.0Q321 2126.5 546.9 2179.5A232 232 0 0 1 541.6 2198.4Q321 2126.5 229.2 1904.8Z" fill="#7fdcb3" fill-opacity="0.38"/>
<path d="M148.4 1959.8A240 240 0 0 1 161.9 1946.8Q321 2126.5 541.6 2198.4A232 232 0 0 1 535.0 2216.1Q321 2126.5 148.4 1959.8Z" fill="#7fdcb3" fill-opacity="0.38"/>
<path d="M83.8 2089.8A240 240 0 0 1 111.0 2010.2Q321 2126.5 535.0 2216.1A232 232 0 0 1 489.0 2286.5Q321 2126.5 83.8 2089.8Z" fill="#7fdcb3" fill-opacity="0.38"/>
<path d="M81.0 2127.3A240 240 0 0 1 81.1 2120.7Q321 2126.5 489.0 2286.5A232 232 0 0 1 484.3 2291.3Q321 2126.5 81.0 2127.3Z" fill="#7fdcb3" fill-opacity="0.38"/>
<path d="M86.0 2175.2A240 240 0 0 1 81.4 2140.6Q321 2126.5 484.3 2291.3A232 232 0 0 1 457.8 2313.9Q321 2126.5 86.0 2175.2Z" fill="#7fdcb3" fill-opacity="0.38"/>
<path d="M102.4 2225.6A240 240 0 0 1 96.8 2212.1Q321 2126.5 457.8 2313.9A232 232 0 0 1 445.6 2322.2Q321 2126.5 102.4 2225.6Z" fill="#7fdcb3" fill-opacity="0.38"/>
<path d="M197.0 2332.0A240 240 0 0 1 145.0 2289.6Q321 2126.5 445.6 2322.2A232 232 0 0 1 384.2 2349.7Q321 2126.5 197.0 2332.0Z" fill="#7fdcb3" fill-opacity="0.38"/>
<path d="M284.3 2363.7A240 240 0 0 1 266.8 2360.3Q321 2126.5 384.2 2349.7A232 232 0 0 1 366.9 2353.9Q321 2126.5 284.3 2363.7Z" fill="#7fdcb3" fill-opacity="0.38"/>
<path d="M247.6 1898.0A240 240 0 0 1 264.3 1893.3Q321 2126.5 472.9 1951.1A232 232 0 0 1 485.0 1962.4Q321 2126.5 247.6 1898.0Z" fill="#9aa3dc" fill-opacity="0.45"/>
<path d="M161.9 1946.8A240 240 0 0 1 199.8 1919.3Q321 2126.5 485.0 1962.4A232 232 0 0 1 513.3 1996.7Q321 2126.5 161.9 1946.8Z" fill="#9aa3dc" fill-opacity="0.45"/>
<path d="M111.0 2010.2A240 240 0 0 1 136.0 1973.6Q321 2126.5 513.3 1996.7A232 232 0 0 1 533.6 2033.5Q321 2126.5 111.0 2010.2Z" fill="#9aa3dc" fill-opacity="0.45"/>
<path d="M81.1 2120.7A240 240 0 0 1 81.2 2115.8Q321 2126.5 533.6 2033.5A232 232 0 0 1 535.4 2037.9Q321 2126.5 81.1 2120.7Z" fill="#9aa3dc" fill-opacity="0.45"/>
<path d="M96.8 2212.1A240 240 0 0 1 89.2 2188.8Q321 2126.5 535.4 2037.9A232 232 0 0 1 543.2 2059.8Q321 2126.5 96.8 2212.1Z" fill="#9aa3dc" fill-opacity="0.45"/>
<path d="M145.0 2289.6A240 240 0 0 1 114.0 2248.0Q321 2126.5 543.2 2059.8A232 232 0 0 1 552.3 2108.2Q321 2126.5 145.0 2289.6Z" fill="#9aa3dc" fill-opacity="0.45"/>
<path d="M266.8 2360.3A240 240 0 0 1 200.6 2334.1Q321 2126.5 552.3 2108.2A232 232 0 0 1 547.8 2175.5Q321 2126.5 266.8 2360.3Z" fill="#9aa3dc" fill-opacity="0.45"/>
<path d="M264.3 1893.3A240 240 0 0 1 284.7 1889.3Q321 2126.5 365.7 1898.8A232 232 0 0 1 384.6 1903.4Q321 2126.5 264.3 1893.3Z" fill="#fb8a58" fill-opacity="0.42"/>
<path d="M199.8 1919.3A240 240 0 0 1 224.9 1906.6Q321 2126.5 384.6 1903.4A232 232 0 0 1 409.6 1912.1Q321 2126.5 199.8 1919.3Z" fill="#fb8a58" fill-opacity="0.42"/>
<path d="M136.0 1973.6A240 240 0 0 1 145.5 1962.8Q321 2126.5 409.6 1912.1A232 232 0 0 1 421.8 1917.5Q321 2126.5 136.0 1973.6Z" fill="#fb8a58" fill-opacity="0.42"/>
<path d="M81.2 2115.8A240 240 0 0 1 83.2 2094.3Q321 2126.5 421.8 1917.5A232 232 0 0 1 439.6 1927.1Q321 2126.5 81.2 2115.8Z" fill="#fb8a58" fill-opacity="0.42"/>
<path d="M81.4 2140.6A240 240 0 0 1 81.1 2131.9Q321 2126.5 439.6 1927.1A232 232 0 0 1 446.5 1931.4Q321 2126.5 81.4 2140.6Z" fill="#fb8a58" fill-opacity="0.42"/>
<path d="M89.2 2188.8A240 240 0 0 1 86.9 2179.3Q321 2126.5 446.5 1931.4A232 232 0 0 1 454.2 1936.5Q321 2126.5 89.2 2188.8Z" fill="#fb8a58" fill-opacity="0.42"/>
<path d="M114.0 2248.0A240 240 0 0 1 104.2 2229.4Q321 2126.5 454.2 1936.5A232 232 0 0 1 469.8 1948.5Q321 2126.5 114.0 2248.0Z" fill="#fb8a58" fill-opacity="0.42"/>
<path d="M223.8 1891.8A254 254 0 0 1 282.6 1875.4L283.9 1883.8A245.5 245.5 0 0 0 227.1 1899.7Z" fill="#fbd3e6"/>
<path d="M138.3 1950.1A254 254 0 0 1 219.3 1893.7L222.7 1901.5A245.5 245.5 0 0 0 144.4 1956.0Z" fill="#d2e45e"/>
<path d="M70.0 2087.6A254 254 0 0 1 135.2 1953.3L141.5 1959.1A245.5 245.5 0 0 0 78.4 2088.9Z" fill="#fdb462"/>
<path d="M67.0 2127.4A254 254 0 0 1 69.3 2092.5L77.7 2093.6A245.5 245.5 0 0 0 75.5 2127.4Z" fill="#8fb3d9"/>
<path d="M72.3 2178.0A254 254 0 0 1 67.1 2132.3L75.6 2132.1A245.5 245.5 0 0 0 80.6 2176.3Z" fill="#fb8072"/>
<path d="M89.7 2231.4A254 254 0 0 1 73.2 2182.3L81.5 2180.5A245.5 245.5 0 0 0 97.4 2227.9Z" fill="#cdc6ea"/>
<path d="M189.8 2344.0A254 254 0 0 1 91.6 2235.4L99.2 2231.8A245.5 245.5 0 0 0 194.2 2336.7Z" fill="#fff4b8"/>
<path d="M282.1 2377.5A254 254 0 0 1 193.6 2346.2L197.9 2338.9A245.5 245.5 0 0 0 283.4 2369.1Z" fill="#aee9da"/>
<path d="M369.9 1877.3A254 254 0 0 1 483.9 1931.6L478.5 1938.2A245.5 245.5 0 0 0 368.3 1885.6Z" fill="#fc8d5f"/>
<path d="M367.4 1890.0A241.0 241.0 0 0 1 387.1 1894.7L385.6 1900.0A235.5 235.5 0 0 0 366.3 1895.4Z" fill="#fbd3e6"/>
<path d="M387.1 1894.7A241.0 241.0 0 0 1 413.0 1903.7L410.9 1908.8A235.5 235.5 0 0 0 385.6 1900.0Z" fill="#d2e45e"/>
<path d="M413.0 1903.7A241.0 241.0 0 0 1 425.7 1909.4L423.3 1914.4A235.5 235.5 0 0 0 410.9 1908.8Z" fill="#fdb462"/>
<path d="M425.7 1909.4A241.0 241.0 0 0 1 444.2 1919.4L441.4 1924.1A235.5 235.5 0 0 0 423.3 1914.4Z" fill="#8fb3d9"/>
<path d="M444.2 1919.4A241.0 241.0 0 0 1 451.4 1923.8L448.4 1928.4A235.5 235.5 0 0 0 441.4 1924.1Z" fill="#fb8072"/>
<path d="M451.4 1923.8A241.0 241.0 0 0 1 459.3 1929.1L456.2 1933.6A235.5 235.5 0 0 0 448.4 1928.4Z" fill="#cdc6ea"/>
<path d="M459.3 1929.1A241.0 241.0 0 0 1 475.6 1941.6L472.1 1945.8A235.5 235.5 0 0 0 456.2 1933.6Z" fill="#fff4b8"/>
<path d="M487.3 1934.5A254 254 0 0 1 569.3 2180.2L561.0 2178.4A245.5 245.5 0 0 0 481.7 1940.9Z" fill="#98a5d6"/>
<path d="M478.8 1944.3A241.0 241.0 0 0 1 491.3 1956.0L487.4 1959.9A235.5 235.5 0 0 0 475.2 1948.5Z" fill="#fbd3e6"/>
<path d="M491.3 1956.0A241.0 241.0 0 0 1 520.7 1991.6L516.2 1994.7A235.5 235.5 0 0 0 487.4 1959.9Z" fill="#d2e45e"/>
<path d="M520.7 1991.6A241.0 241.0 0 0 1 541.8 2029.9L536.8 2032.1A235.5 235.5 0 0 0 516.2 1994.7Z" fill="#fdb462"/>
<path d="M541.8 2029.9A241.0 241.0 0 0 1 543.7 2034.4L538.6 2036.5A235.5 235.5 0 0 0 536.8 2032.1Z" fill="#8fb3d9"/>
<path d="M543.7 2034.4A241.0 241.0 0 0 1 551.8 2057.2L546.6 2058.8A235.5 235.5 0 0 0 538.6 2036.5Z" fill="#cdc6ea"/>
<path d="M551.8 2057.2A241.0 241.0 0 0 1 561.2 2107.4L555.8 2107.9A235.5 235.5 0 0 0 546.6 2058.8Z" fill="#fff4b8"/>
<path d="M561.2 2107.4A241.0 241.0 0 0 1 556.6 2177.4L551.2 2176.3A235.5 235.5 0 0 0 555.8 2107.9Z" fill="#aee9da"/>
<path d="M568.3 2184.5A254 254 0 0 1 371.2 2375.5L369.5 2367.2A245.5 245.5 0 0 0 560.0 2182.6Z" fill="#88dab8"/>
<path d="M555.6 2181.5A241.0 241.0 0 0 1 550.1 2201.2L544.9 2199.5A235.5 235.5 0 0 0 550.3 2180.3Z" fill="#fbd3e6"/>
<path d="M550.1 2201.2A241.0 241.0 0 0 1 543.3 2219.5L538.2 2217.4A235.5 235.5 0 0 0 544.9 2199.5Z" fill="#d2e45e"/>
<path d="M543.3 2219.5A241.0 241.0 0 0 1 495.5 2292.8L491.5 2289.0A235.5 235.5 0 0 0 538.2 2217.4Z" fill="#fdb462"/>
<path d="M495.5 2292.8A241.0 241.0 0 0 1 490.6 2297.7L486.8 2293.8A235.5 235.5 0 0 0 491.5 2289.0Z" fill="#8fb3d9"/>
<path d="M490.6 2297.7A241.0 241.0 0 0 1 463.1 2321.2L459.8 2316.7A235.5 235.5 0 0 0 486.8 2293.8Z" fill="#fb8072"/>
<path d="M463.1 2321.2A241.0 241.0 0 0 1 450.4 2329.8L447.5 2325.2A235.5 235.5 0 0 0 459.8 2316.7Z" fill="#cdc6ea"/>
<path d="M450.4 2329.8A241.0 241.0 0 0 1 386.7 2358.4L385.2 2353.1A235.5 235.5 0 0 0 447.5 2325.2Z" fill="#fff4b8"/>
<path d="M386.7 2358.4A241.0 241.0 0 0 1 368.6 2362.7L367.5 2357.4A235.5 235.5 0 0 0 385.2 2353.1Z" fill="#aee9da"/>
<line x1="321.3" y1="1830.5" x2="321.3" y2="2434" stroke="#777" stroke-width="1.6" stroke-dasharray="11 6"/>
<path d="M1170.3 1891.0A253 253 0 0 1 1184.3 1885.8Q1265.1 2125.6 1462.3 2271.0A245 245 0 0 1 1453.5 2282.2Q1265.1 2125.6 1170.3 1891.0Z" fill="#7fdcb3" fill-opacity="0.38"/>
<path d="M1119.3 1918.9A253 253 0 0 1 1142.3 1904.4Q1265.1 2125.6 1453.5 2282.2A245 245 0 0 1 1435.9 2301.2Q1265.1 2125.6 1119.3 1918.9Z" fill="#7fdcb3" fill-opacity="0.38"/>
<path d="M1045.1 2000.6A253 253 0 0 1 1069.4 1965.3Q1265.1 2125.6 1435.9 2301.2A245 245 0 0 1 1404.3 2327.2Q1265.1 2125.6 1045.1 2000.6Z" fill="#7fdcb3" fill-opacity="0.38"/>
<path d="M1020.2 2062.3A253 253 0 0 1 1027.6 2038.5Q1265.1 2125.6 1404.3 2327.2A245 245 0 0 1 1384.1 2339.8Q1265.1 2125.6 1020.2 2062.3Z" fill="#7fdcb3" fill-opacity="0.38"/>
<path d="M1012.2 2119.4A253 253 0 0 1 1012.7 2108.7Q1265.1 2125.6 1384.1 2339.8A245 245 0 0 1 1375.0 2344.6Q1265.1 2125.6 1012.2 2119.4Z" fill="#7fdcb3" fill-opacity="0.38"/>
<path d="M1017.3 2176.5A253 253 0 0 1 1014.6 2161.1Q1265.1 2125.6 1375.0 2344.6A245 245 0 0 1 1361.4 2350.9Q1265.1 2125.6 1017.3 2176.5Z" fill="#7fdcb3" fill-opacity="0.38"/>
<path d="M1099.8 2317.1A253 253 0 0 1 1071.4 2288.3Q1265.1 2125.6 1361.4 2350.9A245 245 0 0 1 1324.8 2363.2Q1265.1 2125.6 1099.8 2317.1Z" fill="#7fdcb3" fill-opacity="0.38"/>
<path d="M1227.7 2375.8A253 253 0 0 1 1214.1 2373.4Q1265.1 2125.6 1324.8 2363.2A245 245 0 0 1 1311.8 2366.1Q1265.1 2125.6 1227.7 2375.8Z" fill="#7fdcb3" fill-opacity="0.38"/>
<path d="M1184.3 1885.8A253 253 0 0 1 1204.3 1880.0Q1265.1 2125.6 1452.2 1967.5A245 245 0 0 1 1465.0 1983.9Q1265.1 2125.6 1184.3 1885.8Z" fill="#9aa3dc" fill-opacity="0.45"/>
<path d="M1142.3 1904.4A253 253 0 0 1 1154.3 1898.2Q1265.1 2125.6 1465.0 1983.9A245 245 0 0 1 1472.5 1995.2Q1265.1 2125.6 1142.3 1904.4Z" fill="#9aa3dc" fill-opacity="0.45"/>
<path d="M1069.4 1965.3A253 253 0 0 1 1111.7 1924.4Q1265.1 2125.6 1472.5 1995.2A245 245 0 0 1 1497.6 2048.3Q1265.1 2125.6 1069.4 1965.3Z" fill="#9aa3dc" fill-opacity="0.45"/>
<path d="M1027.6 2038.5A253 253 0 0 1 1038.7 2012.8Q1265.1 2125.6 1497.6 2048.3A245 245 0 0 1 1504.9 2075.3Q1265.1 2125.6 1027.6 2038.5Z" fill="#9aa3dc" fill-opacity="0.45"/>
<path d="M1012.7 2108.7A253 253 0 0 1 1018.0 2071.4Q1265.1 2125.6 1504.9 2075.3A245 245 0 0 1 1509.8 2112.6Q1265.1 2125.6 1012.7 2108.7Z" fill="#9aa3dc" fill-opacity="0.45"/>
<path d="M1014.6 2161.1A253 253 0 0 1 1013.6 2153.3Q1265.1 2125.6 1509.8 2112.6A245 245 0 0 1 1510.0 2120.4Q1265.1 2125.6 1014.6 2161.1Z" fill="#9aa3dc" fill-opacity="0.45"/>
<path d="M1071.4 2288.3A253 253 0 0 1 1030.0 2219.0Q1265.1 2125.6 1510.0 2120.4A245 245 0 0 1 1498.5 2200.1Q1265.1 2125.6 1071.4 2288.3Z" fill="#9aa3dc" fill-opacity="0.45"/>
<path d="M1214.1 2373.4A253 253 0 0 1 1142.8 2347.1Q1265.1 2125.6 1498.5 2200.1A245 245 0 0 1 1464.6 2267.9Q1265.1 2125.6 1214.1 2373.4Z" fill="#9aa3dc" fill-opacity="0.45"/>
<path d="M1204.3 1880.0A253 253 0 0 1 1227.7 1875.4Q1265.1 2125.6 1312.3 1885.2A245 245 0 0 1 1333.6 1890.4Q1265.1 2125.6 1204.3 1880.0Z" fill="#fb8a58" fill-opacity="0.42"/>
<path d="M1154.3 1898.2A253 253 0 0 1 1166.7 1892.5Q1265.1 2125.6 1333.6 1890.4A245 245 0 0 1 1345.6 1894.2Q1265.1 2125.6 1154.3 1898.2Z" fill="#fb8a58" fill-opacity="0.42"/>
<path d="M1111.7 1924.4A253 253 0 0 1 1116.0 1921.2Q1265.1 2125.6 1345.6 1894.2A245 245 0 0 1 1350.2 1895.9Q1265.1 2125.6 1111.7 1924.4Z" fill="#fb8a58" fill-opacity="0.42"/>
<path d="M1038.7 2012.8A253 253 0 0 1 1043.0 2004.5Q1265.1 2125.6 1350.2 1895.9A245 245 0 0 1 1358.2 1899.0Q1265.1 2125.6 1038.7 2012.8Z" fill="#fb8a58" fill-opacity="0.42"/>
<path d="M1018.0 2071.4A253 253 0 0 1 1019.2 2066.1Q1265.1 2125.6 1358.2 1899.0A245 245 0 0 1 1362.8 1900.9Q1265.1 2125.6 1018.0 2071.4Z" fill="#fb8a58" fill-opacity="0.42"/>
<path d="M1013.6 2153.3A253 253 0 0 1 1012.1 2124.7Q1265.1 2125.6 1362.8 1900.9A245 245 0 0 1 1386.5 1912.8Q1265.1 2125.6 1013.6 2153.3Z" fill="#fb8a58" fill-opacity="0.42"/>
<path d="M1030.0 2219.0A253 253 0 0 1 1018.1 2180.4Q1265.1 2125.6 1386.5 1912.8A245 245 0 0 1 1417.4 1933.7Q1265.1 2125.6 1030.0 2219.0Z" fill="#fb8a58" fill-opacity="0.42"/>
<path d="M1142.8 2347.1A253 253 0 0 1 1102.8 2319.7Q1265.1 2125.6 1417.4 1933.7A245 245 0 0 1 1449.7 1964.5Q1265.1 2125.6 1142.8 2347.1Z" fill="#fb8a58" fill-opacity="0.42"/>
<path d="M1164.9 1877.7A267.4 267.4 0 0 1 1225.6 1861.1L1226.8 1869.5A258.9 258.9 0 0 0 1168.1 1885.6Z" fill="#fbd3e6"/>
<path d="M1111.0 1907.1A267.4 267.4 0 0 1 1161.0 1879.3L1164.4 1887.1A258.9 258.9 0 0 0 1115.9 1914.0Z" fill="#d2e45e"/>
<path d="M1032.6 1993.5A267.4 267.4 0 0 1 1107.5 1909.5L1112.6 1916.4A258.9 258.9 0 0 0 1040.0 1997.7Z" fill="#fdb462"/>
<path d="M1006.2 2058.6A267.4 267.4 0 0 1 1030.3 1997.6L1037.8 2001.7A258.9 258.9 0 0 0 1014.4 2060.8Z" fill="#8fb3d9"/>
<path d="M997.8 2119.1A267.4 267.4 0 0 1 1005.2 2062.7L1013.5 2064.7A258.9 258.9 0 0 0 1006.3 2119.3Z" fill="#fb8072"/>
<path d="M1003.2 2179.4A267.4 267.4 0 0 1 997.7 2124.7L1006.2 2124.7A258.9 258.9 0 0 0 1011.5 2177.7Z" fill="#cdc6ea"/>
<path d="M1090.4 2328.0A267.4 267.4 0 0 1 1004.0 2183.5L1012.3 2181.6A258.9 258.9 0 0 0 1095.9 2321.6Z" fill="#fff4b8"/>
<path d="M1225.6 2390.1A267.4 267.4 0 0 1 1093.6 2330.7L1099.0 2324.2A258.9 258.9 0 0 0 1226.8 2381.7Z" fill="#aee9da"/>
<path d="M1316.6 1863.2A267.4 267.4 0 0 1 1466.6 1949.8L1460.2 1955.4A258.9 258.9 0 0 0 1314.9 1871.5Z" fill="#fc8d5f"/>
<path d="M1314.1 1876.0A254.39999999999998 254.39999999999998 0 0 1 1336.3 1881.4L1334.7 1886.6A248.89999999999998 248.89999999999998 0 0 0 1313.0 1881.4Z" fill="#fbd3e6"/>
<path d="M1336.3 1881.4A254.39999999999998 254.39999999999998 0 0 1 1348.7 1885.3L1346.8 1890.5A248.89999999999998 248.89999999999998 0 0 0 1334.7 1886.6Z" fill="#d2e45e"/>
<path d="M1348.7 1885.3A254.39999999999998 254.39999999999998 0 0 1 1353.5 1887.0L1351.6 1892.2A248.89999999999998 248.89999999999998 0 0 0 1346.8 1890.5Z" fill="#fdb462"/>
<path d="M1353.5 1887.0A254.39999999999998 254.39999999999998 0 0 1 1361.8 1890.3L1359.7 1895.4A248.89999999999998 248.89999999999998 0 0 0 1351.6 1892.2Z" fill="#8fb3d9"/>
<path d="M1361.8 1890.3A254.39999999999998 254.39999999999998 0 0 1 1366.6 1892.3L1364.4 1897.4A248.89999999999998 248.89999999999998 0 0 0 1359.7 1895.4Z" fill="#fb8072"/>
<path d="M1366.6 1892.3A254.39999999999998 254.39999999999998 0 0 1 1391.1 1904.6L1388.4 1909.4A248.89999999999998 248.89999999999998 0 0 0 1364.4 1897.4Z" fill="#cdc6ea"/>
<path d="M1391.1 1904.6A254.39999999999998 254.39999999999998 0 0 1 1423.2 1926.3L1419.8 1930.6A248.89999999999998 248.89999999999998 0 0 0 1388.4 1909.4Z" fill="#fff4b8"/>
<path d="M1423.2 1926.3A254.39999999999998 254.39999999999998 0 0 1 1456.8 1958.4L1452.7 1962.0A248.89999999999998 248.89999999999998 0 0 0 1419.8 1930.6Z" fill="#aee9da"/>
<path d="M1469.3 1953.0A267.4 267.4 0 0 1 1482.8 2280.9L1475.9 2275.9A258.9 258.9 0 0 0 1462.8 1958.5Z" fill="#98a5d6"/>
<path d="M1459.4 1961.4A254.39999999999998 254.39999999999998 0 0 1 1472.6 1978.5L1468.2 1981.7A248.89999999999998 248.89999999999998 0 0 0 1455.2 1964.9Z" fill="#fbd3e6"/>
<path d="M1472.6 1978.5A254.39999999999998 254.39999999999998 0 0 1 1480.5 1990.2L1475.8 1993.1A248.89999999999998 248.89999999999998 0 0 0 1468.2 1981.7Z" fill="#d2e45e"/>
<path d="M1480.5 1990.2A254.39999999999998 254.39999999999998 0 0 1 1506.5 2045.4L1501.3 2047.1A248.89999999999998 248.89999999999998 0 0 0 1475.8 1993.1Z" fill="#fdb462"/>
<path d="M1506.5 2045.4A254.39999999999998 254.39999999999998 0 0 1 1514.1 2073.4L1508.7 2074.5A248.89999999999998 248.89999999999998 0 0 0 1501.3 2047.1Z" fill="#8fb3d9"/>
<path d="M1514.1 2073.4A254.39999999999998 254.39999999999998 0 0 1 1519.1 2112.1L1513.6 2112.4A248.89999999999998 248.89999999999998 0 0 0 1508.7 2074.5Z" fill="#fb8072"/>
<path d="M1519.1 2112.1A254.39999999999998 254.39999999999998 0 0 1 1519.4 2120.2L1513.9 2120.3A248.89999999999998 248.89999999999998 0 0 0 1513.6 2112.4Z" fill="#cdc6ea"/>
<path d="M1519.4 2120.2A254.39999999999998 254.39999999999998 0 0 1 1507.5 2202.9L1502.2 2201.3A248.89999999999998 248.89999999999998 0 0 0 1513.9 2120.3Z" fill="#fff4b8"/>
<path d="M1507.5 2202.9A254.39999999999998 254.39999999999998 0 0 1 1472.2 2273.3L1467.7 2270.1A248.89999999999998 248.89999999999998 0 0 0 1502.2 2201.3Z" fill="#aee9da"/>
<path d="M1480.3 2284.3A267.4 267.4 0 0 1 1316.1 2388.1L1314.5 2379.7A258.9 258.9 0 0 0 1473.5 2279.2Z" fill="#88dab8"/>
<path d="M1469.9 2276.6A254.39999999999998 254.39999999999998 0 0 1 1460.8 2288.2L1456.5 2284.7A248.89999999999998 248.89999999999998 0 0 0 1465.4 2273.3Z" fill="#fbd3e6"/>
<path d="M1460.8 2288.2A254.39999999999998 254.39999999999998 0 0 1 1442.5 2308.0L1438.6 2304.0A248.89999999999998 248.89999999999998 0 0 0 1456.5 2284.7Z" fill="#d2e45e"/>
<path d="M1442.5 2308.0A254.39999999999998 254.39999999999998 0 0 1 1409.6 2335.0L1406.5 2330.4A248.89999999999998 248.89999999999998 0 0 0 1438.6 2304.0Z" fill="#fdb462"/>
<path d="M1409.6 2335.0A254.39999999999998 254.39999999999998 0 0 1 1388.6 2348.0L1386.0 2343.2A248.89999999999998 248.89999999999998 0 0 0 1406.5 2330.4Z" fill="#8fb3d9"/>
<path d="M1388.6 2348.0A254.39999999999998 254.39999999999998 0 0 1 1379.2 2353.0L1376.7 2348.1A248.89999999999998 248.89999999999998 0 0 0 1386.0 2343.2Z" fill="#fb8072"/>
<path d="M1379.2 2353.0A254.39999999999998 254.39999999999998 0 0 1 1365.1 2359.5L1363.0 2354.5A248.89999999999998 248.89999999999998 0 0 0 1376.7 2348.1Z" fill="#cdc6ea"/>
<path d="M1365.1 2359.5A254.39999999999998 254.39999999999998 0 0 1 1327.1 2372.3L1325.7 2367.0A248.89999999999998 248.89999999999998 0 0 0 1363.0 2354.5Z" fill="#fff4b8"/>
<path d="M1327.1 2372.3A254.39999999999998 254.39999999999998 0 0 1 1313.6 2375.3L1312.6 2369.9A248.89999999999998 248.89999999999998 0 0 0 1325.7 2367.0Z" fill="#aee9da"/>
<line x1="1265.5" y1="1824.9" x2="1265.5" y2="2437.7" stroke="#777" stroke-width="1.6" stroke-dasharray="11 6"/>
<path d="M681.1 2316.1A126 126 0 0 1 718.1 2221.7Q807 2311 928.0 2309.9A121 121 0 0 1 889.8 2399.3Q807 2311 681.1 2316.1Z" fill="#7fdcb3" fill-opacity="0.38"/>
<path d="M695.2 2369.2A126 126 0 0 1 681.4 2320.6Q807 2311 889.8 2399.3A121 121 0 0 1 848.5 2424.6Q807 2311 695.2 2369.2Z" fill="#7fdcb3" fill-opacity="0.38"/>
<path d="M785.6 2435.2A126 126 0 0 1 763.7 2429.3Q807 2311 848.5 2424.6A121 121 0 0 1 827.6 2430.2Q807 2311 785.6 2435.2Z" fill="#7fdcb3" fill-opacity="0.38"/>
<path d="M718.1 2221.7A126 126 0 0 1 760.3 2194.0Q807 2311 849.8 2197.8A121 121 0 0 1 892.6 2225.5Q807 2311 718.1 2221.7Z" fill="#9aa3dc" fill-opacity="0.45"/>
<path d="M763.7 2429.3A126 126 0 0 1 696.5 2371.5Q807 2311 892.6 2225.5A121 121 0 0 1 928.0 2307.6Q807 2311 763.7 2429.3Z" fill="#9aa3dc" fill-opacity="0.45"/>
<path d="M760.3 2194.0A126 126 0 0 1 785.6 2186.8Q807 2311 827.6 2191.8A121 121 0 0 1 846.9 2196.8Q807 2311 760.3 2194.0Z" fill="#fb8a58" fill-opacity="0.42"/>
<path d="M681.4 2320.6A126 126 0 0 1 681.2 2318.5Q807 2311 846.9 2196.8A121 121 0 0 1 848.4 2197.3Q807 2311 681.4 2320.6Z" fill="#fb8a58" fill-opacity="0.42"/>
<path d="M673.5 2316.4A133.6 133.6 0 0 1 784.3 2179.3L785.0 2183.8A129.1 129.1 0 0 0 678.0 2316.2Z" fill="#fdb462"/>
<path d="M688.5 2372.7A133.6 133.6 0 0 1 673.6 2318.9L678.1 2318.7A129.1 129.1 0 0 0 692.5 2370.6Z" fill="#fb8072"/>
<path d="M784.3 2442.7A133.6 133.6 0 0 1 689.8 2375.2L693.8 2373.0A129.1 129.1 0 0 0 785.0 2438.2Z" fill="#aee9da"/>
<path d="M829.7 2179.3A133.6 133.6 0 0 1 852.7 2185.5L851.2 2189.7A129.1 129.1 0 0 0 829.0 2183.8Z" fill="#fc8d5f"/>
<path d="M828.5 2186.2A126.6 126.6 0 0 1 848.7 2191.5L847.7 2194.3A123.6 123.6 0 0 0 828.0 2189.2Z" fill="#fdb462"/>
<path d="M848.7 2191.5A126.6 126.6 0 0 1 850.3 2192.0L849.3 2194.9A123.6 123.6 0 0 0 847.7 2194.3Z" fill="#fb8072"/>
<path d="M854.2 2186.0A133.6 133.6 0 0 1 940.5 2307.3L936.0 2307.4A129.1 129.1 0 0 0 852.6 2190.2Z" fill="#98a5d6"/>
<path d="M851.7 2192.6A126.6 126.6 0 0 1 896.6 2221.5L894.4 2223.6A123.6 123.6 0 0 0 850.7 2195.4Z" fill="#fdb462"/>
<path d="M896.6 2221.5A126.6 126.6 0 0 1 933.6 2307.5L930.6 2307.5A123.6 123.6 0 0 0 894.4 2223.6Z" fill="#aee9da"/>
<path d="M940.6 2309.8A133.6 133.6 0 0 1 829.7 2442.7L829.0 2438.2A129.1 129.1 0 0 0 936.1 2309.9Z" fill="#88dab8"/>
<path d="M933.6 2309.9A126.6 126.6 0 0 1 893.6 2403.3L891.6 2401.2A123.6 123.6 0 0 0 930.6 2309.9Z" fill="#fdb462"/>
<path d="M893.6 2403.3A126.6 126.6 0 0 1 850.5 2429.9L849.4 2427.1A123.6 123.6 0 0 0 891.6 2401.2Z" fill="#fb8072"/>
<path d="M850.5 2429.9A126.6 126.6 0 0 1 828.5 2435.8L828.0 2432.8A123.6 123.6 0 0 0 849.4 2427.1Z" fill="#aee9da"/>
<line x1="806.8" y1="2164.6" x2="806.8" y2="2468" stroke="#666" stroke-width="2.6" stroke-dasharray="10 7"/>
<path d="M1671.7 2202.7A126 126 0 0 1 1680.7 2197.8Q1736 2311 1840.8 2371.5A121 121 0 0 1 1835.8 2379.4Q1736 2311 1671.7 2202.7Z" fill="#7fdcb3" fill-opacity="0.38"/>
<path d="M1618.4 2265.8A126 126 0 0 1 1631.7 2240.3Q1736 2311 1835.8 2379.4A121 121 0 0 1 1818.7 2399.3Q1736 2311 1618.4 2265.8Z" fill="#7fdcb3" fill-opacity="0.38"/>
<path d="M1610.1 2315.2A126 126 0 0 1 1611.3 2293.2Q1736 2311 1818.7 2399.3A121 121 0 0 1 1803.0 2411.8Q1736 2311 1610.1 2315.2Z" fill="#7fdcb3" fill-opacity="0.38"/>
<path d="M1619.3 2358.6A126 126 0 0 1 1614.9 2345.7Q1736 2311 1803.0 2411.8A121 121 0 0 1 1792.3 2418.1Q1736 2311 1619.3 2358.6Z" fill="#7fdcb3" fill-opacity="0.38"/>
<path d="M1715.0 2435.2A126 126 0 0 1 1676.9 2422.3Q1736 2311 1792.3 2418.1A121 121 0 0 1 1757.6 2430.1Q1736 2311 1715.0 2435.2Z" fill="#7fdcb3" fill-opacity="0.38"/>
<path d="M1680.7 2197.8A126 126 0 0 1 1699.0 2190.5Q1736 2311 1804.5 2211.3A121 121 0 0 1 1819.8 2223.7Q1736 2311 1680.7 2197.8Z" fill="#9aa3dc" fill-opacity="0.45"/>
<path d="M1631.7 2240.3A126 126 0 0 1 1670.2 2203.6Q1736 2311 1819.8 2223.7A121 121 0 0 1 1849.1 2267.9Q1736 2311 1631.7 2240.3Z" fill="#9aa3dc" fill-opacity="0.45"/>
<path d="M1611.3 2293.2A126 126 0 0 1 1615.5 2274.0Q1736 2311 1849.1 2267.9A121 121 0 0 1 1854.6 2286.8Q1736 2311 1611.3 2293.2Z" fill="#9aa3dc" fill-opacity="0.45"/>
<path d="M1614.9 2345.7A126 126 0 0 1 1610.4 2321.4Q1736 2311 1854.6 2286.8A121 121 0 0 1 1857.0 2311.3Q1736 2311 1614.9 2345.7Z" fill="#9aa3dc" fill-opacity="0.45"/>
<path d="M1676.9 2422.3A126 126 0 0 1 1631.4 2381.3Q1736 2311 1857.0 2311.3A121 121 0 0 1 1841.4 2370.4Q1736 2311 1676.9 2422.3Z" fill="#9aa3dc" fill-opacity="0.45"/>
<path d="M1699.0 2190.5A126 126 0 0 1 1715.4 2186.7Q1736 2311 1757.8 2192.0A121 121 0 0 1 1773.8 2196.1Q1736 2311 1699.0 2190.5Z" fill="#fb8a58" fill-opacity="0.42"/>
<path d="M1615.5 2274.0A126 126 0 0 1 1617.2 2269.1Q1736 2311 1773.8 2196.1A121 121 0 0 1 1778.6 2197.7Q1736 2311 1615.5 2274.0Z" fill="#fb8a58" fill-opacity="0.42"/>
<path d="M1610.4 2321.4A126 126 0 0 1 1610.2 2317.2Q1736 2311 1778.6 2197.7A121 121 0 0 1 1782.5 2199.3Q1736 2311 1610.4 2321.4Z" fill="#fb8a58" fill-opacity="0.42"/>
<path d="M1631.4 2381.3A126 126 0 0 1 1620.0 2360.2Q1736 2311 1782.5 2199.3A121 121 0 0 1 1803.1 2210.3Q1736 2311 1631.4 2381.3Z" fill="#fb8a58" fill-opacity="0.42"/>
<path d="M1668.1 2196.6A133 133 0 0 1 1714.3 2179.8L1715.0 2184.2A128.5 128.5 0 0 0 1670.4 2200.5Z" fill="#fbd3e6"/>
<path d="M1611.8 2263.3A133 133 0 0 1 1666.5 2197.6L1668.9 2201.4A128.5 128.5 0 0 0 1616.0 2264.9Z" fill="#fdb462"/>
<path d="M1603.1 2315.4A133 133 0 0 1 1610.6 2266.8L1614.8 2268.3A128.5 128.5 0 0 0 1607.6 2315.3Z" fill="#8fb3d9"/>
<path d="M1612.9 2361.3A133 133 0 0 1 1603.2 2317.5L1607.7 2317.3A128.5 128.5 0 0 0 1617.0 2359.6Z" fill="#fb8072"/>
<path d="M1713.8 2442.1A133 133 0 0 1 1613.6 2363.0L1617.7 2361.2A128.5 128.5 0 0 0 1714.6 2437.7Z" fill="#fff4b8"/>
<path d="M1760.0 2180.2A133 133 0 0 1 1809.8 2200.4L1807.3 2204.1A128.5 128.5 0 0 0 1759.2 2184.6Z" fill="#fc8d5f"/>
<path d="M1758.7 2187.1A126.0 126.0 0 0 1 1775.4 2191.3L1774.5 2194.2A123.0 123.0 0 0 0 1758.2 2190.0Z" fill="#fbd3e6"/>
<path d="M1775.4 2191.3A126.0 126.0 0 0 1 1780.3 2193.1L1779.3 2195.9A123.0 123.0 0 0 0 1774.5 2194.2Z" fill="#8fb3d9"/>
<path d="M1780.3 2193.1A126.0 126.0 0 0 1 1784.4 2194.7L1783.2 2197.4A123.0 123.0 0 0 0 1779.3 2195.9Z" fill="#fb8072"/>
<path d="M1784.4 2194.7A126.0 126.0 0 0 1 1805.9 2206.2L1804.2 2208.7A123.0 123.0 0 0 0 1783.2 2197.4Z" fill="#fff4b8"/>
<path d="M1811.3 2201.4A133 133 0 0 1 1851.9 2376.3L1848.0 2374.1A128.5 128.5 0 0 0 1808.8 2205.1Z" fill="#98a5d6"/>
<path d="M1807.4 2207.2A126.0 126.0 0 0 1 1823.2 2220.1L1821.1 2222.2A123.0 123.0 0 0 0 1805.7 2209.6Z" fill="#fbd3e6"/>
<path d="M1823.2 2220.1A126.0 126.0 0 0 1 1853.7 2266.2L1850.9 2267.2A123.0 123.0 0 0 0 1821.1 2222.2Z" fill="#fdb462"/>
<path d="M1853.7 2266.2A126.0 126.0 0 0 1 1859.4 2285.8L1856.5 2286.4A123.0 123.0 0 0 0 1850.9 2267.2Z" fill="#8fb3d9"/>
<path d="M1859.4 2285.8A126.0 126.0 0 0 1 1862.0 2311.3L1859.0 2311.3A123.0 123.0 0 0 0 1856.5 2286.4Z" fill="#fb8072"/>
<path d="M1862.0 2311.3A126.0 126.0 0 0 1 1845.8 2372.9L1843.2 2371.4A123.0 123.0 0 0 0 1859.0 2311.3Z" fill="#fff4b8"/>
<path d="M1851.2 2377.5A133 133 0 0 1 1759.8 2441.9L1759.0 2437.4A128.5 128.5 0 0 0 1847.3 2375.2Z" fill="#88dab8"/>
<path d="M1845.1 2374.0A126.0 126.0 0 0 1 1839.9 2382.3L1837.4 2380.6A123.0 123.0 0 0 0 1842.5 2372.5Z" fill="#fbd3e6"/>
<path d="M1839.9 2382.3A126.0 126.0 0 0 1 1822.1 2403.0L1820.1 2400.8A123.0 123.0 0 0 0 1837.4 2380.6Z" fill="#fdb462"/>
<path d="M1822.1 2403.0A126.0 126.0 0 0 1 1805.7 2415.9L1804.1 2413.4A123.0 123.0 0 0 0 1820.1 2400.8Z" fill="#8fb3d9"/>
<path d="M1805.7 2415.9A126.0 126.0 0 0 1 1794.6 2422.5L1793.2 2419.9A123.0 123.0 0 0 0 1804.1 2413.4Z" fill="#fb8072"/>
<path d="M1794.6 2422.5A126.0 126.0 0 0 1 1758.5 2435.0L1758.0 2432.0A123.0 123.0 0 0 0 1793.2 2419.9Z" fill="#fff4b8"/>
<line x1="1735.4" y1="2163.7" x2="1735.4" y2="2468.9" stroke="#666" stroke-width="2.6" stroke-dasharray="10 7"/>
<path d="M723.8 2046.9A117 117 0 0 1 689.8 1972.4Q806.5 1964.2 816.7 2080.8A117 117 0 0 1 728.2 2051.1Q806.5 1964.2 723.8 2046.9Z" fill="#7fdcb3" fill-opacity="0.38"/>
<path d="M697.3 1922.3A117 117 0 0 1 757.1 1858.2Q806.5 1964.2 921.7 1984.5A117 117 0 0 1 861.4 2067.5Q806.5 1964.2 697.3 1922.3Z" fill="#9aa3dc" fill-opacity="0.45"/>
<path d="M905.7 1902.2A117 117 0 0 1 921.7 1943.9Q806.5 1964.2 922.4 1947.9A117 117 0 0 1 921.7 1984.5Q806.5 1964.2 905.7 1902.2Z" fill="#9aa3dc" fill-opacity="0.45"/>
<path d="M881.7 1874.6A117 117 0 0 1 905.7 1902.2Q806.5 1964.2 689.8 1972.4A117 117 0 0 1 697.3 1922.3Q806.5 1964.2 881.7 1874.6Z" fill="#7fdcb3" fill-opacity="0.38"/>
<path d="M850.3 1855.7A117 117 0 0 1 881.7 1874.6Q806.5 1964.2 861.4 2067.5A117 117 0 0 1 816.7 2080.8Q806.5 1964.2 850.3 1855.7Z" fill="#fb8a58" fill-opacity="0.42"/>
<path d="M757.1 1858.2A117 117 0 0 1 805.5 1847.2Q806.5 1964.2 807.5 1847.2A117 117 0 0 1 850.3 1855.7Q806.5 1964.2 757.1 1858.2Z" fill="#fb8a58" fill-opacity="0.42"/>
<path d="M807.6 1837.2A127 127 0 0 1 931.6 1942.1L927.4 1942.9A122.8 122.8 0 0 0 807.6 1841.4Z" fill="#fc8d5f"/>
<path d="M932.3 1946.5A127 127 0 0 1 719.9 2057.1L722.8 2054.0A122.8 122.8 0 0 0 928.1 1947.1Z" fill="#98a5d6"/>
<path d="M716.7 2054.0A127 127 0 0 1 805.4 1837.2L805.4 1841.4A122.8 122.8 0 0 0 719.7 2051.0Z" fill="#88dab8"/>
<path d="M807.6 1843.2A121 121 0 0 1 849.9 1851.2L849.1 1853.1A119 119 0 0 0 807.5 1845.2Z" fill="#88dab8"/>
<path d="M849.9 1851.2A121 121 0 0 1 896.4 1883.2L894.9 1884.6A119 119 0 0 0 849.1 1853.1Z" fill="#98a5d6"/>
<path d="M926.3 1947.4A121 121 0 0 1 925.7 1985.2L923.7 1984.9A119 119 0 0 0 924.3 1947.6Z" fill="#fc8d5f"/>
<path d="M925.7 1985.2A121 121 0 0 1 863.3 2071.0L862.4 2069.3A119 119 0 0 0 923.7 1984.9Z" fill="#88dab8"/>
<path d="M863.3 2071.0A121 121 0 0 1 817.0 2084.7L816.9 2082.7A119 119 0 0 0 862.4 2069.3Z" fill="#fc8d5f"/>
<path d="M720.9 2049.8A121 121 0 0 1 685.8 1972.6L687.8 1972.5A119 119 0 0 0 722.4 2048.3Z" fill="#98a5d6"/>
<path d="M685.8 1972.6A121 121 0 0 1 693.5 1920.8L695.4 1921.6A119 119 0 0 0 687.8 1972.5Z" fill="#fc8d5f"/>
<path d="M693.5 1920.8A121 121 0 0 1 755.4 1854.5L756.2 1856.3A119 119 0 0 0 695.4 1921.6Z" fill="#98a5d6"/>
<path d="M1614.0 1977.1A123 123 0 0 1 1629.0 1896.4Q1735.5 1957.9 1653.2 2049.3A123 123 0 0 1 1614.4 1979.3Q1735.5 1957.9 1614.0 1977.1Z" fill="#7fdcb3" fill-opacity="0.38"/>
<path d="M1648.5 1870.9A123 123 0 0 1 1703.7 1839.1Q1735.5 1957.9 1814.6 2052.1A123 123 0 0 1 1730.1 2080.8Q1735.5 1957.9 1648.5 1870.9Z" fill="#9aa3dc" fill-opacity="0.45"/>
<path d="M1847.0 1905.9A123 123 0 0 1 1855.3 1985.6Q1735.5 1957.9 1854.8 1987.7A123 123 0 0 1 1814.6 2052.1Q1735.5 1957.9 1847.0 1905.9Z" fill="#9aa3dc" fill-opacity="0.45"/>
<path d="M1829.7 1878.8A123 123 0 0 1 1847.0 1905.9Q1735.5 1957.9 1629.0 1896.4A123 123 0 0 1 1648.5 1870.9Q1735.5 1957.9 1829.7 1878.8Z" fill="#7fdcb3" fill-opacity="0.38"/>
<path d="M1777.6 1842.3A123 123 0 0 1 1829.7 1878.8Q1735.5 1957.9 1730.1 2080.8A123 123 0 0 1 1653.2 2049.3Q1735.5 1957.9 1777.6 1842.3Z" fill="#fb8a58" fill-opacity="0.42"/>
<path d="M1703.7 1839.1A123 123 0 0 1 1734.4 1834.9Q1735.5 1957.9 1736.6 1834.9A123 123 0 0 1 1777.6 1842.3Q1735.5 1957.9 1703.7 1839.1Z" fill="#fb8a58" fill-opacity="0.42"/>
<path d="M1736.7 1824.9A133 133 0 0 1 1865.1 1987.8L1860.7 1986.8A128.5 128.5 0 0 0 1736.6 1829.4Z" fill="#fc8d5f"/>
<path d="M1864.5 1990.1A133 133 0 0 1 1604.5 1981.0L1609.0 1980.2A128.5 128.5 0 0 0 1860.2 1989.0Z" fill="#98a5d6"/>
<path d="M1604.1 1978.7A133 133 0 0 1 1734.3 1824.9L1734.4 1829.4A128.5 128.5 0 0 0 1608.6 1978.0Z" fill="#88dab8"/>
<path d="M1736.6 1831.4A126.5 126.5 0 0 1 1778.8 1839.0L1778.1 1840.9A124.5 124.5 0 0 0 1736.6 1833.4Z" fill="#88dab8"/>
<path d="M1778.8 1839.0A126.5 126.5 0 0 1 1832.4 1876.6L1830.9 1877.9A124.5 124.5 0 0 0 1778.1 1840.9Z" fill="#98a5d6"/>
<path d="M1858.2 1988.5A126.5 126.5 0 0 1 1816.8 2054.8L1815.5 2053.3A124.5 124.5 0 0 0 1856.3 1988.0Z" fill="#fc8d5f"/>
<path d="M1730.0 2084.3A126.5 126.5 0 0 1 1650.9 2051.9L1652.2 2050.4A124.5 124.5 0 0 0 1730.1 2082.3Z" fill="#fc8d5f"/>
<path d="M1816.8 2054.8A126.5 126.5 0 0 1 1730.0 2084.3L1730.1 2082.3A124.5 124.5 0 0 0 1815.5 2053.3Z" fill="#88dab8"/>
<path d="M1610.6 1977.7A126.5 126.5 0 0 1 1625.9 1894.7L1627.7 1895.7A124.5 124.5 0 0 0 1612.5 1977.4Z" fill="#98a5d6"/>
<path d="M1625.9 1894.7A126.5 126.5 0 0 1 1646.1 1868.5L1647.5 1869.9A124.5 124.5 0 0 0 1627.7 1895.7Z" fill="#fc8d5f"/>
<text x="247.3" y="1862.6" font-size="16" text-anchor="middle" dominant-baseline="central" transform="rotate(-15.6 247.3 1862.6)">C8</text>
<text x="164.6" y="1901.5" font-size="16" text-anchor="middle" dominant-baseline="central" transform="rotate(-34.8 164.6 1901.5)">C7</text>
<text x="74.5" y="2006.8" font-size="16" text-anchor="middle" dominant-baseline="central" transform="rotate(-64.1 74.5 2006.8)">C6</text>
<text x="47.6" y="2108.3" font-size="16" text-anchor="middle" dominant-baseline="central" transform="rotate(-86.2 47.6 2108.3)">C5</text>
<text x="48.8" y="2157.5" font-size="16" text-anchor="middle" dominant-baseline="central" transform="rotate(83.5 48.8 2157.5)">C4</text>
<text x="61.2" y="2213.4" font-size="16" text-anchor="middle" dominant-baseline="central" transform="rotate(71.5 61.2 2213.4)">C3</text>
<text x="117.7" y="2310.2" font-size="16" text-anchor="middle" dominant-baseline="central" transform="rotate(47.9 117.7 2310.2)">C2</text>
<text x="229.5" y="2384.8" font-size="16" text-anchor="middle" dominant-baseline="central" transform="rotate(19.5 229.5 2384.8)">C1</text>
<text x="439.0" y="1879.2" font-size="16" text-anchor="middle" dominant-baseline="central" transform="rotate(25.5 439.0 1879.2)">CD4</text>
<text x="580.8" y="2039.6" font-size="16" text-anchor="middle" dominant-baseline="central" transform="rotate(71.5 580.8 2039.6)">CD8</text>
<text x="511.7" y="2323.3" font-size="16" text-anchor="middle" dominant-baseline="central" transform="rotate(-44.1 511.7 2323.3)">CD20</text>
<text x="1189.9" y="1848.6" font-size="16" text-anchor="middle" dominant-baseline="central" transform="rotate(-15.2 1189.9 1848.6)">C8</text>
<text x="1126.0" y="1874.6" font-size="16" text-anchor="middle" dominant-baseline="central" transform="rotate(-29.0 1126.0 1874.6)">C7</text>
<text x="1051.1" y="1934.3" font-size="16" text-anchor="middle" dominant-baseline="central" transform="rotate(-48.2 1051.1 1934.3)">C6</text>
<text x="998.3" y="2019.9" font-size="16" text-anchor="middle" dominant-baseline="central" transform="rotate(-68.4 998.3 2019.9)">C5</text>
<text x="980.6" y="2088.1" font-size="16" text-anchor="middle" dominant-baseline="central" transform="rotate(-82.5 980.6 2088.1)">C4</text>
<text x="979.5" y="2154.1" font-size="16" text-anchor="middle" dominant-baseline="central" transform="rotate(84.3 979.5 2154.1)">C3</text>
<text x="1018.6" y="2272.6" font-size="16" text-anchor="middle" dominant-baseline="central" transform="rotate(59.2 1018.6 2272.6)">C2</text>
<text x="1147.5" y="2387.4" font-size="16" text-anchor="middle" dominant-baseline="central" transform="rotate(24.2 1147.5 2387.4)">C1</text>
<text x="1408.6" y="1877.1" font-size="16" text-anchor="middle" dominant-baseline="central" transform="rotate(30.0 1408.6 1877.1)">CD4</text>
<text x="1551.8" y="2113.6" font-size="16" text-anchor="middle" dominant-baseline="central" transform="rotate(87.6 1551.8 2113.6)">CD8</text>
<text x="1418.5" y="2368.2" font-size="16" text-anchor="middle" dominant-baseline="central" transform="rotate(-32.3 1418.5 2368.2)">CD20</text>
<text x="694.3" y="2219.7" font-size="16" text-anchor="middle" dominant-baseline="central" transform="rotate(-51.0 694.3 2219.7)">C6</text>
<text x="667.3" y="2349.7" font-size="16" text-anchor="middle" dominant-baseline="central" transform="rotate(74.5 667.3 2349.7)">C4</text>
<text x="722.8" y="2429.0" font-size="16" text-anchor="middle" dominant-baseline="central" transform="rotate(35.5 722.8 2429.0)">C1</text>
<text x="844.3" y="2170.9" font-size="16" text-anchor="middle" dominant-baseline="central" transform="rotate(14.9 844.3 2170.9)">CD4</text>
<text x="925.0" y="2226.8" font-size="16" text-anchor="middle" dominant-baseline="central" transform="rotate(54.5 925.0 2226.8)">CD8</text>
<text x="918.2" y="2404.0" font-size="16" text-anchor="middle" dominant-baseline="central" transform="rotate(-50.1 918.2 2404.0)">CD20</text>
<text x="1686.4" y="2174.7" font-size="16" text-anchor="middle" dominant-baseline="central" transform="rotate(-20.0 1686.4 2174.7)">C8</text>
<text x="1624.6" y="2218.2" font-size="16" text-anchor="middle" dominant-baseline="central" transform="rotate(-50.2 1624.6 2218.2)">C6</text>
<text x="1592.7" y="2288.8" font-size="16" text-anchor="middle" dominant-baseline="central" transform="rotate(-81.2 1592.7 2288.8)">C5</text>
<text x="1594.4" y="2342.4" font-size="16" text-anchor="middle" dominant-baseline="central" transform="rotate(77.5 1594.4 2342.4)">C4</text>
<text x="1646.1" y="2424.8" font-size="16" text-anchor="middle" dominant-baseline="central" transform="rotate(38.3 1646.1 2424.8)">C2</text>
<text x="1790.3" y="2176.6" font-size="16" text-anchor="middle" dominant-baseline="central" transform="rotate(22.0 1790.3 2176.6)">CD4</text>
<text x="1877.3" y="2278.4" font-size="16" text-anchor="middle" dominant-baseline="central" transform="rotate(77.0 1877.3 2278.4)">CD8</text>
<text x="1819.2" y="2429.8" font-size="16" text-anchor="middle" dominant-baseline="central" transform="rotate(-35.0 1819.2 2429.8)">CD20</text>
<text x="895.2" y="1858.5" font-size="15.5" text-anchor="middle" dominant-baseline="central" transform="rotate(40.0 895.2 1858.5)">CD4</text>
<text x="870.2" y="2086.6" font-size="15.5" text-anchor="middle" dominant-baseline="central" transform="rotate(-27.5 870.2 2086.6)">CD8</text>
<text x="678.5" y="1912.5" font-size="15.5" text-anchor="middle" dominant-baseline="central" transform="rotate(-68.0 678.5 1912.5)">CD20</text>
<text x="1848.7" y="1868.8" font-size="15.5" text-anchor="middle" dominant-baseline="central" transform="rotate(51.8 1848.7 1868.8)">CD4</text>
<text x="1730.5" y="2101.8" font-size="15.5" text-anchor="middle" dominant-baseline="central" transform="rotate(2.0 1730.5 2101.8)">CD8</text>
<text x="1625.2" y="1865.3" font-size="15.5" text-anchor="middle" dominant-baseline="central" transform="rotate(-50.0 1625.2 1865.3)">CD20</text>
<text x="179.0" y="1797.0" font-size="45" textLength="326.4" lengthAdjust="spacingAndGlyphs">Adenocarcinoma</text>
<text x="1231.1" y="1803.0" font-size="45" textLength="518.8" lengthAdjust="spacingAndGlyphs">Squamous Cell Carcinoma</text>
<text x="35.8" y="1838.0" font-size="29" font-weight="bold">K</text>
<text x="652.0" y="1837.2" font-size="29" font-weight="bold">L</text>
<text x="652.0" y="2179.0" font-size="29" font-weight="bold">M</text>
<text x="990.2" y="1838.0" font-size="29" font-weight="bold">N</text>
<text x="1574.4" y="1837.0" font-size="29" font-weight="bold">O</text>
<text x="1574.4" y="2188.7" font-size="29" font-weight="bold">P</text>
<text x="158.4" y="2492.4" font-size="24" textLength="290.4" lengthAdjust="spacingAndGlyphs">Cluster composition (AD)</text>
<text x="606.7" y="2135.4" font-size="22" textLength="339.6" lengthAdjust="spacingAndGlyphs">TIL subtype inter-relationship (AD)</text>
<text x="569.9" y="2492.6" font-size="22" textLength="417.9" lengthAdjust="spacingAndGlyphs">Composition of Constructive Clusters (AD)</text>
<text x="1123.4" y="2493.9" font-size="24" textLength="307.2" lengthAdjust="spacingAndGlyphs">Cluster composition (SCC)</text>
<text x="1572.0" y="2135.0" font-size="22" textLength="356.3" lengthAdjust="spacingAndGlyphs">TIL subtype inter-relationship (SCC)</text>
<text x="1493.4" y="2492.8" font-size="22" textLength="435.6" lengthAdjust="spacingAndGlyphs">Composition of Constructive Clusters (SCC)</text>
</svg></body></html>
